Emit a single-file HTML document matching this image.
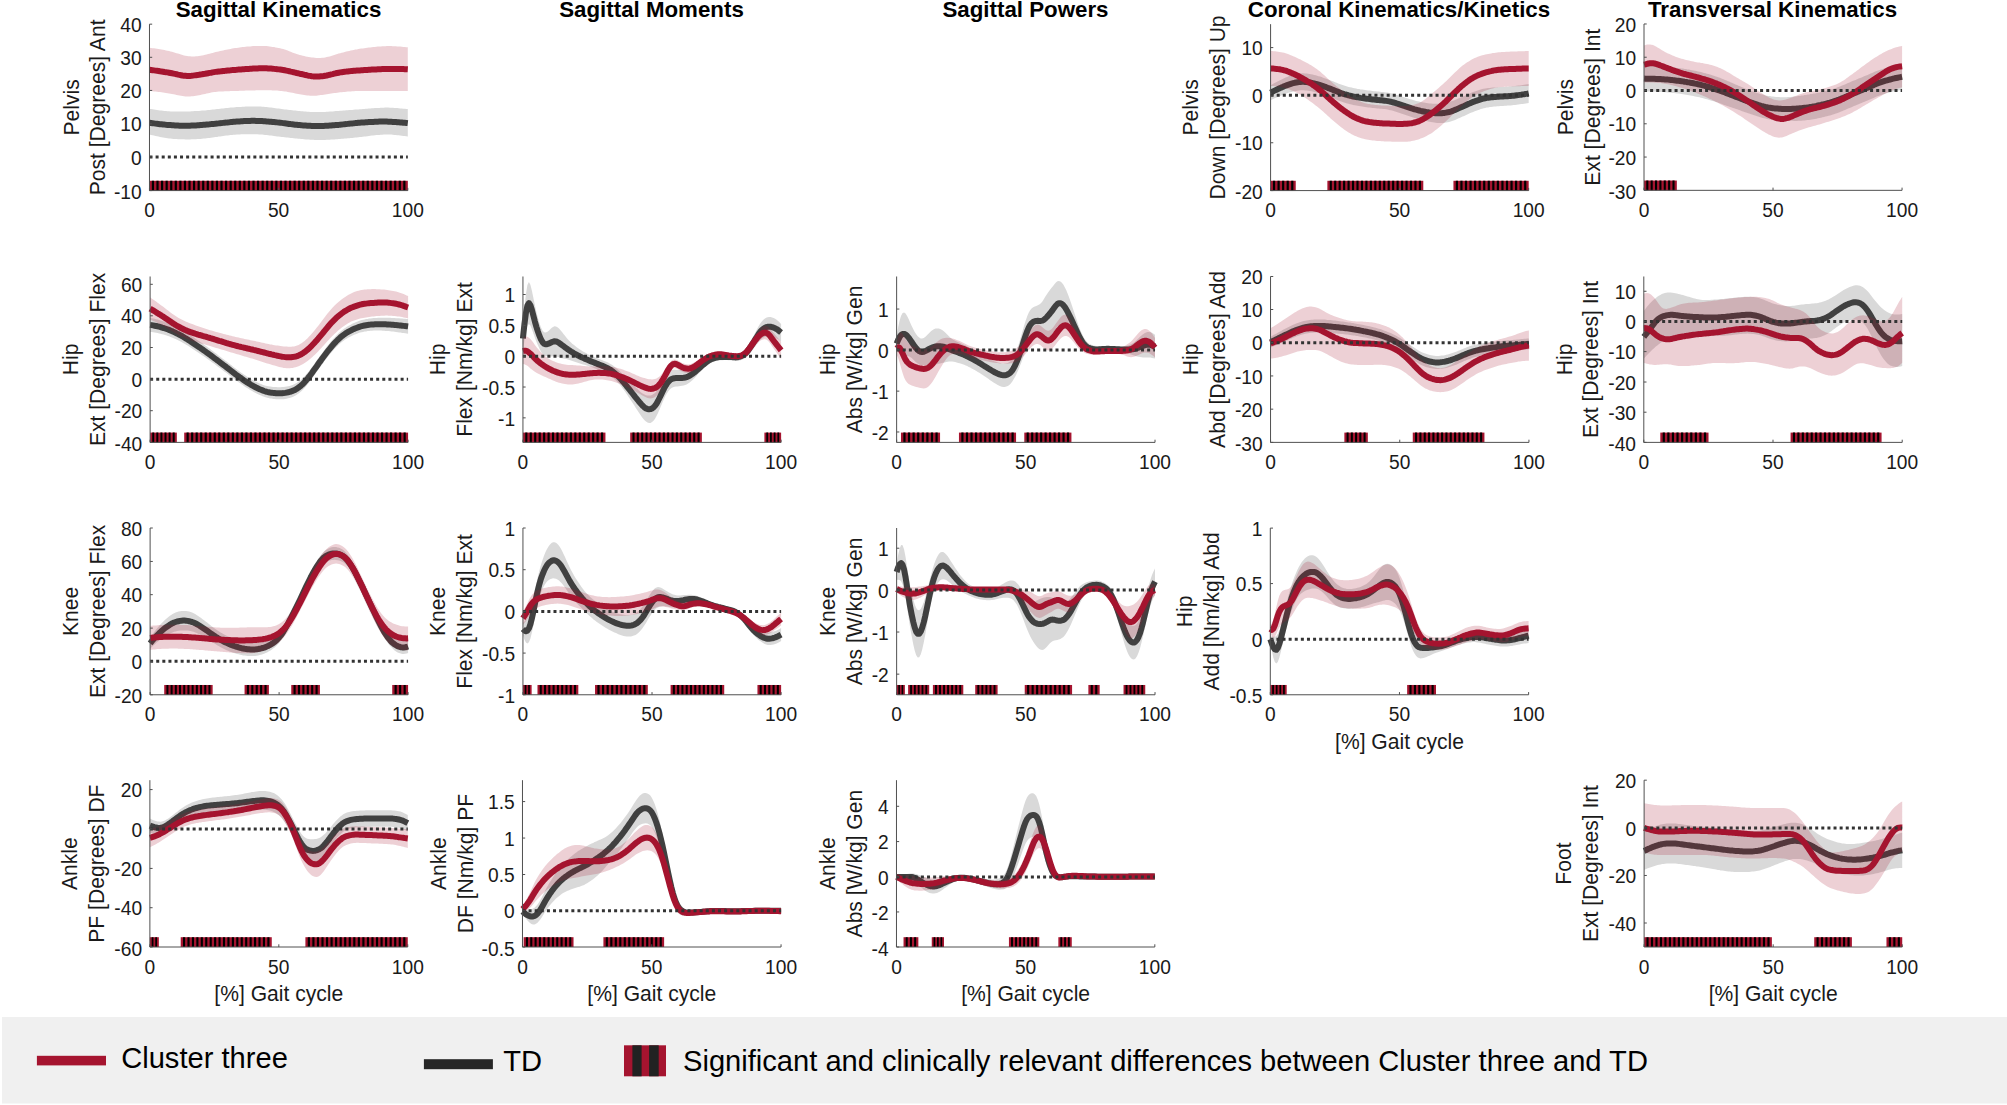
<!DOCTYPE html>
<html><head><meta charset="utf-8"><title>Gait figure</title>
<style>
html,body{margin:0;padding:0;background:#fff}
svg{display:block}
text{font-family:"Liberation Sans",Arial,Helvetica,sans-serif;fill:#1a1a1a}
.t{font-size:19.2px}
.l{font-size:21.1px}
.h{font-size:22.3px;font-weight:bold;fill:#000}
.g{font-size:29.12px;fill:#000}
</style></head><body>
<svg width="2007" height="1105" viewBox="0 0 2007 1105">
<rect width="2007" height="1105" fill="#fff"/>
<g id="pelvis_sag">
<path d="M149.5 108.9 L151.0 109.1 L152.5 109.3 L154.0 109.5 L155.5 109.8 L157.0 110.0 L158.5 110.2 L160.0 110.4 L161.5 110.6 L163.0 110.8 L164.5 110.9 L166.0 111.1 L167.5 111.2 L169.0 111.3 L170.5 111.4 L172.0 111.5 L173.5 111.6 L175.0 111.6 L176.5 111.6 L178.0 111.6 L179.5 111.6 L181.0 111.6 L182.5 111.6 L184.0 111.5 L185.5 111.5 L187.0 111.5 L188.5 111.4 L190.0 111.4 L191.5 111.3 L193.0 111.2 L194.5 111.1 L196.0 111.1 L197.5 111.0 L199.0 110.9 L200.5 110.8 L202.0 110.6 L203.5 110.5 L205.1 110.4 L206.6 110.2 L208.1 110.1 L209.6 109.9 L211.1 109.8 L212.6 109.6 L214.1 109.4 L215.6 109.3 L217.1 109.1 L218.6 108.9 L220.1 108.7 L221.6 108.6 L223.1 108.4 L224.6 108.2 L226.1 108.1 L227.6 107.9 L229.1 107.8 L230.6 107.6 L232.1 107.5 L233.6 107.4 L235.1 107.3 L236.6 107.1 L238.1 107.0 L239.6 107.0 L241.1 106.9 L242.6 106.8 L244.1 106.7 L245.6 106.6 L247.1 106.6 L248.6 106.5 L250.1 106.5 L251.6 106.5 L253.1 106.5 L254.6 106.5 L256.1 106.5 L257.6 106.5 L259.1 106.6 L260.6 106.6 L262.1 106.7 L263.6 106.8 L265.1 106.9 L266.6 107.1 L268.1 107.2 L269.6 107.4 L271.1 107.6 L272.6 107.8 L274.1 108.0 L275.6 108.2 L277.1 108.4 L278.6 108.6 L280.2 108.8 L281.7 109.0 L283.2 109.2 L284.7 109.4 L286.2 109.6 L287.7 109.7 L289.2 109.9 L290.7 110.0 L292.2 110.2 L293.7 110.4 L295.2 110.5 L296.7 110.7 L298.2 110.9 L299.7 111.0 L301.2 111.2 L302.7 111.3 L304.2 111.4 L305.7 111.6 L307.2 111.7 L308.7 111.8 L310.2 111.9 L311.7 112.0 L313.2 112.0 L314.7 112.1 L316.2 112.1 L317.7 112.1 L319.2 112.1 L320.7 112.0 L322.2 112.0 L323.7 111.9 L325.2 111.9 L326.7 111.8 L328.2 111.7 L329.7 111.6 L331.2 111.5 L332.7 111.4 L334.2 111.3 L335.7 111.1 L337.2 111.0 L338.7 110.9 L340.2 110.8 L341.7 110.7 L343.2 110.5 L344.7 110.4 L346.2 110.3 L347.7 110.2 L349.2 110.1 L350.7 110.0 L352.2 109.9 L353.8 109.7 L355.3 109.6 L356.8 109.5 L358.3 109.4 L359.8 109.3 L361.3 109.2 L362.8 109.0 L364.3 108.9 L365.8 108.8 L367.3 108.7 L368.8 108.6 L370.3 108.4 L371.8 108.3 L373.3 108.2 L374.8 108.1 L376.3 108.0 L377.8 107.9 L379.3 107.9 L380.8 107.8 L382.3 107.7 L383.8 107.7 L385.3 107.6 L386.8 107.6 L388.3 107.6 L389.8 107.7 L391.3 107.7 L392.8 107.8 L394.3 107.9 L395.8 108.0 L397.3 108.1 L398.8 108.2 L400.3 108.4 L401.8 108.5 L403.3 108.7 L404.8 108.8 L406.3 109.0 L407.8 109.1 L407.8 136.5 L406.3 136.3 L404.8 136.1 L403.3 135.9 L401.8 135.7 L400.3 135.5 L398.8 135.3 L397.3 135.2 L395.8 135.0 L394.3 134.9 L392.8 134.7 L391.3 134.6 L389.8 134.6 L388.3 134.5 L386.8 134.5 L385.3 134.5 L383.8 134.6 L382.3 134.7 L380.8 134.8 L379.3 134.9 L377.8 135.0 L376.3 135.1 L374.8 135.3 L373.3 135.5 L371.8 135.6 L370.3 135.8 L368.8 136.0 L367.3 136.2 L365.8 136.4 L364.3 136.6 L362.8 136.7 L361.3 136.9 L359.8 137.1 L358.3 137.3 L356.8 137.5 L355.3 137.6 L353.8 137.8 L352.2 137.9 L350.7 138.1 L349.2 138.2 L347.7 138.3 L346.2 138.5 L344.7 138.6 L343.2 138.7 L341.7 138.8 L340.2 139.0 L338.7 139.1 L337.2 139.2 L335.7 139.3 L334.2 139.4 L332.7 139.5 L331.2 139.6 L329.7 139.7 L328.2 139.8 L326.7 139.8 L325.2 139.9 L323.7 139.9 L322.2 140.0 L320.7 140.0 L319.2 140.0 L317.7 140.0 L316.2 139.9 L314.7 139.9 L313.2 139.8 L311.7 139.8 L310.2 139.7 L308.7 139.6 L307.2 139.5 L305.7 139.4 L304.2 139.2 L302.7 139.1 L301.2 139.0 L299.7 138.8 L298.2 138.7 L296.7 138.5 L295.2 138.4 L293.7 138.2 L292.2 138.1 L290.7 137.9 L289.2 137.8 L287.7 137.6 L286.2 137.5 L284.7 137.3 L283.2 137.1 L281.7 137.0 L280.2 136.8 L278.6 136.6 L277.1 136.4 L275.6 136.2 L274.1 136.0 L272.6 135.8 L271.1 135.6 L269.6 135.4 L268.1 135.2 L266.6 135.0 L265.1 134.9 L263.6 134.7 L262.1 134.6 L260.6 134.5 L259.1 134.4 L257.6 134.3 L256.1 134.3 L254.6 134.2 L253.1 134.2 L251.6 134.2 L250.1 134.2 L248.6 134.2 L247.1 134.2 L245.6 134.2 L244.1 134.2 L242.6 134.3 L241.1 134.3 L239.6 134.4 L238.1 134.5 L236.6 134.6 L235.1 134.7 L233.6 134.8 L232.1 134.9 L230.6 135.1 L229.1 135.2 L227.6 135.4 L226.1 135.6 L224.6 135.8 L223.1 136.0 L221.6 136.2 L220.1 136.4 L218.6 136.6 L217.1 136.9 L215.6 137.1 L214.1 137.3 L212.6 137.5 L211.1 137.7 L209.6 137.9 L208.1 138.1 L206.6 138.3 L205.1 138.5 L203.5 138.6 L202.0 138.8 L200.5 138.9 L199.0 139.0 L197.5 139.1 L196.0 139.2 L194.5 139.2 L193.0 139.3 L191.5 139.3 L190.0 139.4 L188.5 139.4 L187.0 139.4 L185.5 139.4 L184.0 139.3 L182.5 139.3 L181.0 139.3 L179.5 139.2 L178.0 139.2 L176.5 139.1 L175.0 139.0 L173.5 138.9 L172.0 138.8 L170.5 138.6 L169.0 138.5 L167.5 138.3 L166.0 138.0 L164.5 137.8 L163.0 137.5 L161.5 137.2 L160.0 136.9 L158.5 136.6 L157.0 136.3 L155.5 135.9 L154.0 135.6 L152.5 135.2 L151.0 134.9 L149.5 134.5Z" fill="#404040" fill-opacity="0.2"/>
<path d="M149.5 122.8 L151.0 123.0 L152.5 123.2 L154.0 123.4 L155.5 123.6 L157.0 123.8 L158.5 124.0 L160.0 124.2 L161.5 124.3 L163.0 124.5 L164.5 124.6 L166.0 124.8 L167.5 124.9 L169.0 125.0 L170.5 125.1 L172.0 125.2 L173.5 125.3 L175.0 125.4 L176.5 125.5 L178.0 125.6 L179.5 125.7 L181.0 125.7 L182.5 125.8 L184.0 125.8 L185.5 125.8 L187.0 125.8 L188.5 125.8 L190.0 125.7 L191.5 125.6 L193.0 125.6 L194.5 125.5 L196.0 125.4 L197.5 125.3 L199.0 125.2 L200.5 125.0 L202.0 124.9 L203.5 124.8 L205.1 124.7 L206.6 124.5 L208.1 124.4 L209.6 124.3 L211.1 124.1 L212.6 124.0 L214.1 123.9 L215.6 123.7 L217.1 123.6 L218.6 123.4 L220.1 123.2 L221.6 123.1 L223.1 122.9 L224.6 122.7 L226.1 122.6 L227.6 122.4 L229.1 122.3 L230.6 122.1 L232.1 122.0 L233.6 121.8 L235.1 121.7 L236.6 121.6 L238.1 121.5 L239.6 121.4 L241.1 121.3 L242.6 121.2 L244.1 121.1 L245.6 121.0 L247.1 121.0 L248.6 120.9 L250.1 120.9 L251.6 120.8 L253.1 120.8 L254.6 120.8 L256.1 120.9 L257.6 120.9 L259.1 121.0 L260.6 121.0 L262.1 121.1 L263.6 121.2 L265.1 121.3 L266.6 121.4 L268.1 121.6 L269.6 121.7 L271.1 121.8 L272.6 122.0 L274.1 122.1 L275.6 122.2 L277.1 122.4 L278.6 122.6 L280.2 122.7 L281.7 122.9 L283.2 123.1 L284.7 123.3 L286.2 123.5 L287.7 123.7 L289.2 124.0 L290.7 124.1 L292.2 124.3 L293.7 124.5 L295.2 124.7 L296.7 124.8 L298.2 125.0 L299.7 125.1 L301.2 125.2 L302.7 125.4 L304.2 125.5 L305.7 125.6 L307.2 125.7 L308.7 125.8 L310.2 125.8 L311.7 125.9 L313.2 126.0 L314.7 126.0 L316.2 126.0 L317.7 126.0 L319.2 126.0 L320.7 126.0 L322.2 126.0 L323.7 125.9 L325.2 125.8 L326.7 125.8 L328.2 125.7 L329.7 125.6 L331.2 125.5 L332.7 125.3 L334.2 125.2 L335.7 125.1 L337.2 125.0 L338.7 124.9 L340.2 124.7 L341.7 124.6 L343.2 124.4 L344.7 124.2 L346.2 124.1 L347.7 123.9 L349.2 123.7 L350.7 123.6 L352.2 123.4 L353.8 123.3 L355.3 123.1 L356.8 123.0 L358.3 122.8 L359.8 122.7 L361.3 122.6 L362.8 122.5 L364.3 122.4 L365.8 122.3 L367.3 122.2 L368.8 122.1 L370.3 122.0 L371.8 121.9 L373.3 121.9 L374.8 121.8 L376.3 121.7 L377.8 121.7 L379.3 121.6 L380.8 121.6 L382.3 121.6 L383.8 121.6 L385.3 121.6 L386.8 121.6 L388.3 121.7 L389.8 121.7 L391.3 121.8 L392.8 121.9 L394.3 121.9 L395.8 122.0 L397.3 122.2 L398.8 122.3 L400.3 122.4 L401.8 122.5 L403.3 122.7 L404.8 122.8 L406.3 122.9 L407.8 123.1" fill="none" stroke="#404040" stroke-width="6" stroke-linejoin="round"/>
<path d="M149.5 47.8 L151.0 48.0 L152.5 48.2 L154.0 48.3 L155.5 48.5 L157.0 48.8 L158.5 49.0 L160.0 49.3 L161.5 49.5 L163.0 49.8 L164.5 50.1 L166.0 50.4 L167.5 50.7 L169.0 51.0 L170.5 51.4 L172.0 51.8 L173.5 52.2 L175.0 52.7 L176.5 53.2 L178.0 53.6 L179.5 54.1 L181.0 54.6 L182.5 55.0 L184.0 55.4 L185.5 55.7 L187.0 56.0 L188.5 56.2 L190.0 56.3 L191.5 56.4 L193.0 56.4 L194.5 56.4 L196.0 56.3 L197.5 56.2 L199.0 56.0 L200.5 55.8 L202.0 55.5 L203.5 55.2 L205.1 54.8 L206.6 54.4 L208.1 54.1 L209.6 53.7 L211.1 53.3 L212.6 52.9 L214.1 52.5 L215.6 52.1 L217.1 51.8 L218.6 51.4 L220.1 51.1 L221.6 50.8 L223.1 50.4 L224.6 50.1 L226.1 49.8 L227.6 49.5 L229.1 49.2 L230.6 48.9 L232.1 48.6 L233.6 48.3 L235.1 48.1 L236.6 47.9 L238.1 47.7 L239.6 47.5 L241.1 47.3 L242.6 47.1 L244.1 46.9 L245.6 46.8 L247.1 46.6 L248.6 46.5 L250.1 46.4 L251.6 46.2 L253.1 46.1 L254.6 46.1 L256.1 46.0 L257.6 45.9 L259.1 45.9 L260.6 45.9 L262.1 45.9 L263.6 45.9 L265.1 46.0 L266.6 46.1 L268.1 46.3 L269.6 46.5 L271.1 46.7 L272.6 46.9 L274.1 47.1 L275.6 47.4 L277.1 47.7 L278.6 48.0 L280.2 48.3 L281.7 48.7 L283.2 49.1 L284.7 49.6 L286.2 50.1 L287.7 50.6 L289.2 51.2 L290.7 51.8 L292.2 52.4 L293.7 53.0 L295.2 53.5 L296.7 54.0 L298.2 54.5 L299.7 54.9 L301.2 55.3 L302.7 55.7 L304.2 56.1 L305.7 56.4 L307.2 56.7 L308.7 57.0 L310.2 57.2 L311.7 57.5 L313.2 57.6 L314.7 57.8 L316.2 57.9 L317.7 58.0 L319.2 58.0 L320.7 57.9 L322.2 57.8 L323.7 57.7 L325.2 57.4 L326.7 57.1 L328.2 56.8 L329.7 56.4 L331.2 55.9 L332.7 55.5 L334.2 55.0 L335.7 54.5 L337.2 54.0 L338.7 53.6 L340.2 53.2 L341.7 52.7 L343.2 52.4 L344.7 52.0 L346.2 51.6 L347.7 51.3 L349.2 50.9 L350.7 50.6 L352.2 50.3 L353.8 49.9 L355.3 49.6 L356.8 49.4 L358.3 49.1 L359.8 48.8 L361.3 48.6 L362.8 48.4 L364.3 48.2 L365.8 48.0 L367.3 47.8 L368.8 47.6 L370.3 47.4 L371.8 47.2 L373.3 47.0 L374.8 46.9 L376.3 46.7 L377.8 46.6 L379.3 46.5 L380.8 46.4 L382.3 46.3 L383.8 46.2 L385.3 46.2 L386.8 46.1 L388.3 46.1 L389.8 46.1 L391.3 46.1 L392.8 46.2 L394.3 46.2 L395.8 46.3 L397.3 46.4 L398.8 46.5 L400.3 46.6 L401.8 46.8 L403.3 46.9 L404.8 47.0 L406.3 47.2 L407.8 47.3 L407.8 90.9 L406.3 90.9 L404.8 90.9 L403.3 90.9 L401.8 90.9 L400.3 90.9 L398.8 90.9 L397.3 90.9 L395.8 90.9 L394.3 90.9 L392.8 90.9 L391.3 90.9 L389.8 90.9 L388.3 90.9 L386.8 90.9 L385.3 90.9 L383.8 90.9 L382.3 90.9 L380.8 90.9 L379.3 90.9 L377.8 90.9 L376.3 90.9 L374.8 90.9 L373.3 90.9 L371.8 90.9 L370.3 90.9 L368.8 90.9 L367.3 90.9 L365.8 90.9 L364.3 90.9 L362.8 90.9 L361.3 91.0 L359.8 91.0 L358.3 91.0 L356.8 91.1 L355.3 91.1 L353.8 91.2 L352.2 91.3 L350.7 91.4 L349.2 91.5 L347.7 91.6 L346.2 91.7 L344.7 91.9 L343.2 92.0 L341.7 92.2 L340.2 92.3 L338.7 92.5 L337.2 92.7 L335.7 92.9 L334.2 93.1 L332.7 93.3 L331.2 93.6 L329.7 93.8 L328.2 94.0 L326.7 94.2 L325.2 94.5 L323.7 94.7 L322.2 94.9 L320.7 95.1 L319.2 95.3 L317.7 95.5 L316.2 95.7 L314.7 95.8 L313.2 95.8 L311.7 95.8 L310.2 95.7 L308.7 95.6 L307.2 95.4 L305.7 95.2 L304.2 95.0 L302.7 94.8 L301.2 94.5 L299.7 94.3 L298.2 94.0 L296.7 93.7 L295.2 93.4 L293.7 93.1 L292.2 92.8 L290.7 92.5 L289.2 92.2 L287.7 91.9 L286.2 91.6 L284.7 91.4 L283.2 91.2 L281.7 91.0 L280.2 90.9 L278.6 90.7 L277.1 90.6 L275.6 90.6 L274.1 90.5 L272.6 90.4 L271.1 90.3 L269.6 90.3 L268.1 90.2 L266.6 90.2 L265.1 90.2 L263.6 90.2 L262.1 90.2 L260.6 90.2 L259.1 90.2 L257.6 90.3 L256.1 90.3 L254.6 90.4 L253.1 90.4 L251.6 90.4 L250.1 90.5 L248.6 90.5 L247.1 90.6 L245.6 90.6 L244.1 90.7 L242.6 90.7 L241.1 90.8 L239.6 90.8 L238.1 90.9 L236.6 90.9 L235.1 91.0 L233.6 91.0 L232.1 91.1 L230.6 91.1 L229.1 91.2 L227.6 91.2 L226.1 91.3 L224.6 91.3 L223.1 91.4 L221.6 91.4 L220.1 91.5 L218.6 91.6 L217.1 91.7 L215.6 91.9 L214.1 92.1 L212.6 92.3 L211.1 92.6 L209.6 92.9 L208.1 93.2 L206.6 93.6 L205.1 93.9 L203.5 94.3 L202.0 94.6 L200.5 94.9 L199.0 95.2 L197.5 95.5 L196.0 95.7 L194.5 96.0 L193.0 96.2 L191.5 96.3 L190.0 96.5 L188.5 96.5 L187.0 96.5 L185.5 96.4 L184.0 96.3 L182.5 96.1 L181.0 95.8 L179.5 95.5 L178.0 95.2 L176.5 94.9 L175.0 94.6 L173.5 94.2 L172.0 93.9 L170.5 93.7 L169.0 93.4 L167.5 93.2 L166.0 92.9 L164.5 92.7 L163.0 92.5 L161.5 92.3 L160.0 92.1 L158.5 91.9 L157.0 91.7 L155.5 91.6 L154.0 91.4 L152.5 91.2 L151.0 91.1 L149.5 90.9Z" fill="#A5142F" fill-opacity="0.2"/>
<path d="M149.5 69.8 L151.0 70.0 L152.5 70.2 L154.0 70.4 L155.5 70.6 L157.0 70.8 L158.5 71.0 L160.0 71.3 L161.5 71.5 L163.0 71.7 L164.5 72.0 L166.0 72.2 L167.5 72.4 L169.0 72.7 L170.5 73.0 L172.0 73.3 L173.5 73.6 L175.0 73.9 L176.5 74.2 L178.0 74.6 L179.5 74.9 L181.0 75.2 L182.5 75.5 L184.0 75.7 L185.5 75.8 L187.0 75.9 L188.5 75.9 L190.0 75.9 L191.5 75.8 L193.0 75.6 L194.5 75.4 L196.0 75.2 L197.5 75.0 L199.0 74.8 L200.5 74.5 L202.0 74.3 L203.5 74.0 L205.1 73.8 L206.6 73.5 L208.1 73.2 L209.6 72.9 L211.1 72.7 L212.6 72.4 L214.1 72.1 L215.6 71.9 L217.1 71.7 L218.6 71.5 L220.1 71.4 L221.6 71.2 L223.1 71.0 L224.6 70.9 L226.1 70.7 L227.6 70.5 L229.1 70.4 L230.6 70.3 L232.1 70.1 L233.6 70.0 L235.1 69.9 L236.6 69.8 L238.1 69.6 L239.6 69.5 L241.1 69.4 L242.6 69.3 L244.1 69.2 L245.6 69.1 L247.1 69.0 L248.6 68.9 L250.1 68.8 L251.6 68.7 L253.1 68.6 L254.6 68.5 L256.1 68.4 L257.6 68.4 L259.1 68.3 L260.6 68.3 L262.1 68.3 L263.6 68.3 L265.1 68.3 L266.6 68.3 L268.1 68.4 L269.6 68.5 L271.1 68.6 L272.6 68.7 L274.1 68.9 L275.6 69.1 L277.1 69.2 L278.6 69.4 L280.2 69.6 L281.7 69.8 L283.2 70.0 L284.7 70.3 L286.2 70.6 L287.7 70.9 L289.2 71.2 L290.7 71.6 L292.2 71.9 L293.7 72.3 L295.2 72.6 L296.7 73.0 L298.2 73.3 L299.7 73.7 L301.2 74.0 L302.7 74.3 L304.2 74.7 L305.7 75.0 L307.2 75.4 L308.7 75.7 L310.2 75.9 L311.7 76.2 L313.2 76.4 L314.7 76.5 L316.2 76.5 L317.7 76.5 L319.2 76.5 L320.7 76.3 L322.2 76.2 L323.7 76.0 L325.2 75.7 L326.7 75.5 L328.2 75.1 L329.7 74.8 L331.2 74.4 L332.7 74.1 L334.2 73.7 L335.7 73.3 L337.2 73.0 L338.7 72.7 L340.2 72.4 L341.7 72.2 L343.2 72.0 L344.7 71.8 L346.2 71.6 L347.7 71.5 L349.2 71.3 L350.7 71.1 L352.2 71.0 L353.8 70.8 L355.3 70.7 L356.8 70.6 L358.3 70.5 L359.8 70.4 L361.3 70.3 L362.8 70.2 L364.3 70.1 L365.8 70.0 L367.3 69.9 L368.8 69.8 L370.3 69.7 L371.8 69.6 L373.3 69.5 L374.8 69.4 L376.3 69.4 L377.8 69.3 L379.3 69.2 L380.8 69.2 L382.3 69.1 L383.8 69.1 L385.3 69.0 L386.8 69.0 L388.3 69.0 L389.8 69.0 L391.3 69.0 L392.8 69.0 L394.3 69.0 L395.8 69.0 L397.3 69.0 L398.8 69.0 L400.3 69.1 L401.8 69.1 L403.3 69.1 L404.8 69.2 L406.3 69.2 L407.8 69.3" fill="none" stroke="#A5142F" stroke-width="6" stroke-linejoin="round"/>
<path d="M149.48 156.95H407.82" stroke="#333" stroke-width="3" stroke-dasharray="3 3.11" fill="none"/>
<rect x="149.48" y="180.78" width="258.35" height="9.80" fill="#A5142F"/><path d="M151.85 180.78h2.19V190.58h-2.19zM156.42 180.78h2.19V190.58h-2.19zM161.00 180.78h2.19V190.58h-2.19zM165.57 180.78h2.19V190.58h-2.19zM170.14 180.78h2.19V190.58h-2.19zM174.71 180.78h2.19V190.58h-2.19zM179.28 180.78h2.19V190.58h-2.19zM183.85 180.78h2.19V190.58h-2.19zM188.42 180.78h2.19V190.58h-2.19zM192.99 180.78h2.19V190.58h-2.19zM197.56 180.78h2.19V190.58h-2.19zM202.13 180.78h2.19V190.58h-2.19zM206.70 180.78h2.19V190.58h-2.19zM211.28 180.78h2.19V190.58h-2.19zM215.85 180.78h2.19V190.58h-2.19zM220.42 180.78h2.19V190.58h-2.19zM224.99 180.78h2.19V190.58h-2.19zM229.56 180.78h2.19V190.58h-2.19zM234.13 180.78h2.19V190.58h-2.19zM238.70 180.78h2.19V190.58h-2.19zM243.27 180.78h2.19V190.58h-2.19zM247.84 180.78h2.19V190.58h-2.19zM252.41 180.78h2.19V190.58h-2.19zM256.98 180.78h2.19V190.58h-2.19zM261.55 180.78h2.19V190.58h-2.19zM266.13 180.78h2.19V190.58h-2.19zM270.70 180.78h2.19V190.58h-2.19zM275.27 180.78h2.19V190.58h-2.19zM279.84 180.78h2.19V190.58h-2.19zM284.41 180.78h2.19V190.58h-2.19zM288.98 180.78h2.19V190.58h-2.19zM293.55 180.78h2.19V190.58h-2.19zM298.12 180.78h2.19V190.58h-2.19zM302.69 180.78h2.19V190.58h-2.19zM307.26 180.78h2.19V190.58h-2.19zM311.83 180.78h2.19V190.58h-2.19zM316.41 180.78h2.19V190.58h-2.19zM320.98 180.78h2.19V190.58h-2.19zM325.55 180.78h2.19V190.58h-2.19zM330.12 180.78h2.19V190.58h-2.19zM334.69 180.78h2.19V190.58h-2.19zM339.26 180.78h2.19V190.58h-2.19zM343.83 180.78h2.19V190.58h-2.19zM348.40 180.78h2.19V190.58h-2.19zM352.97 180.78h2.19V190.58h-2.19zM357.54 180.78h2.19V190.58h-2.19zM362.11 180.78h2.19V190.58h-2.19zM366.68 180.78h2.19V190.58h-2.19zM371.26 180.78h2.19V190.58h-2.19zM375.83 180.78h2.19V190.58h-2.19zM380.40 180.78h2.19V190.58h-2.19zM384.97 180.78h2.19V190.58h-2.19zM389.54 180.78h2.19V190.58h-2.19zM394.11 180.78h2.19V190.58h-2.19zM398.68 180.78h2.19V190.58h-2.19zM403.25 180.78h2.19V190.58h-2.19z" fill="#000"/>
<path d="M149.48 24.17V190.58H407.82" stroke="#505050" stroke-width="1" fill="none"/>
<path d="M149.48 24.17h2.7M149.48 57.30h2.7M149.48 90.43h2.7M149.48 123.82h2.7M149.48 156.95h2.7M149.48 190.58h2.7M149.48 190.58v-2.7M278.65 190.58v-2.7M407.82 190.58v-2.7" stroke="#505050" stroke-width="1" fill="none"/>
<text transform="translate(141.7 31.8) scale(1 1.065)" text-anchor="end" class="t">40</text>
<text transform="translate(141.7 64.9) scale(1 1.065)" text-anchor="end" class="t">30</text>
<text transform="translate(141.7 98.0) scale(1 1.065)" text-anchor="end" class="t">20</text>
<text transform="translate(141.7 131.4) scale(1 1.065)" text-anchor="end" class="t">10</text>
<text transform="translate(141.7 164.6) scale(1 1.065)" text-anchor="end" class="t">0</text>
<text transform="translate(141.7 199.1) scale(1 1.065)" text-anchor="end" class="t">-10</text>
<text transform="translate(149.5 217.1) scale(1 1.065)" text-anchor="middle" class="t">0</text>
<text transform="translate(278.6 217.1) scale(1 1.065)" text-anchor="middle" class="t">50</text>
<text transform="translate(407.8 217.1) scale(1 1.065)" text-anchor="middle" class="t">100</text>
<text transform="translate(78.5 107.4) rotate(-90) scale(1 1.065)" text-anchor="middle" class="l">Pelvis</text>
<text transform="translate(105.4 107.4) rotate(-90) scale(1 1.065)" text-anchor="middle" class="l">Post [Degrees] Ant</text>
</g>
<g id="pelvis_cor">
<path d="M1270.6 85.2 L1272.1 84.4 L1273.6 83.5 L1275.1 82.7 L1276.6 81.9 L1278.1 81.2 L1279.6 80.4 L1281.1 79.7 L1282.6 79.0 L1284.1 78.3 L1285.6 77.6 L1287.1 77.0 L1288.6 76.3 L1290.1 75.8 L1291.6 75.3 L1293.1 74.9 L1294.6 74.5 L1296.1 74.1 L1297.6 73.8 L1299.1 73.6 L1300.6 73.4 L1302.1 73.3 L1303.6 73.3 L1305.1 73.4 L1306.6 73.6 L1308.1 73.8 L1309.6 74.0 L1311.1 74.3 L1312.6 74.6 L1314.1 74.9 L1315.6 75.3 L1317.1 75.7 L1318.6 76.2 L1320.1 76.6 L1321.6 77.1 L1323.1 77.7 L1324.6 78.2 L1326.1 78.8 L1327.6 79.3 L1329.1 79.9 L1330.6 80.4 L1332.1 81.0 L1333.6 81.6 L1335.1 82.2 L1336.6 82.8 L1338.1 83.4 L1339.6 84.0 L1341.1 84.6 L1342.6 85.1 L1344.1 85.6 L1345.6 86.1 L1347.1 86.5 L1348.6 86.9 L1350.1 87.3 L1351.6 87.6 L1353.1 88.0 L1354.6 88.3 L1356.1 88.6 L1357.6 88.9 L1359.1 89.1 L1360.6 89.4 L1362.1 89.6 L1363.6 89.8 L1365.1 90.0 L1366.6 90.2 L1368.1 90.4 L1369.6 90.6 L1371.1 90.8 L1372.6 91.0 L1374.1 91.2 L1375.6 91.3 L1377.1 91.5 L1378.6 91.6 L1380.1 91.7 L1381.6 91.9 L1383.1 92.0 L1384.6 92.2 L1386.1 92.4 L1387.6 92.6 L1389.1 92.9 L1390.6 93.2 L1392.1 93.6 L1393.6 94.0 L1395.1 94.4 L1396.6 94.9 L1398.1 95.3 L1399.6 95.8 L1401.1 96.2 L1402.6 96.7 L1404.1 97.2 L1405.6 97.7 L1407.1 98.2 L1408.6 98.7 L1410.1 99.2 L1411.6 99.6 L1413.1 100.1 L1414.6 100.5 L1416.1 100.9 L1417.6 101.3 L1419.1 101.6 L1420.6 102.0 L1422.1 102.3 L1423.6 102.5 L1425.1 102.8 L1426.6 103.0 L1428.1 103.2 L1429.6 103.4 L1431.1 103.5 L1432.6 103.7 L1434.1 103.7 L1435.6 103.8 L1437.1 103.8 L1438.6 103.7 L1440.1 103.6 L1441.6 103.4 L1443.1 103.2 L1444.6 103.0 L1446.1 102.7 L1447.6 102.4 L1449.1 102.0 L1450.6 101.6 L1452.1 101.1 L1453.6 100.6 L1455.1 100.0 L1456.6 99.3 L1458.1 98.6 L1459.6 97.9 L1461.1 97.3 L1462.6 96.6 L1464.2 95.9 L1465.7 95.3 L1467.2 94.6 L1468.7 93.9 L1470.2 93.2 L1471.7 92.6 L1473.2 92.0 L1474.7 91.4 L1476.2 90.9 L1477.7 90.4 L1479.2 89.9 L1480.7 89.4 L1482.2 89.0 L1483.7 88.7 L1485.2 88.4 L1486.7 88.2 L1488.2 88.0 L1489.7 87.9 L1491.2 87.7 L1492.7 87.6 L1494.2 87.5 L1495.7 87.4 L1497.2 87.3 L1498.7 87.2 L1500.2 87.1 L1501.7 87.0 L1503.2 86.9 L1504.7 86.9 L1506.2 86.8 L1507.7 86.7 L1509.2 86.6 L1510.7 86.5 L1512.2 86.3 L1513.7 86.2 L1515.2 86.0 L1516.7 85.8 L1518.2 85.6 L1519.7 85.4 L1521.2 85.2 L1522.7 85.0 L1524.2 84.7 L1525.7 84.5 L1527.2 84.2 L1528.7 84.0 L1528.7 102.9 L1527.2 103.2 L1525.7 103.4 L1524.2 103.7 L1522.7 103.9 L1521.2 104.1 L1519.7 104.3 L1518.2 104.6 L1516.7 104.8 L1515.2 104.9 L1513.7 105.1 L1512.2 105.3 L1510.7 105.4 L1509.2 105.5 L1507.7 105.6 L1506.2 105.7 L1504.7 105.8 L1503.2 105.9 L1501.7 106.0 L1500.2 106.1 L1498.7 106.2 L1497.2 106.3 L1495.7 106.4 L1494.2 106.6 L1492.7 106.7 L1491.2 106.9 L1489.7 107.1 L1488.2 107.4 L1486.7 107.6 L1485.2 107.9 L1483.7 108.3 L1482.2 108.7 L1480.7 109.1 L1479.2 109.7 L1477.7 110.2 L1476.2 110.8 L1474.7 111.3 L1473.2 111.9 L1471.7 112.5 L1470.2 113.1 L1468.7 113.8 L1467.2 114.5 L1465.7 115.2 L1464.2 115.9 L1462.6 116.5 L1461.1 117.2 L1459.6 117.9 L1458.1 118.6 L1456.6 119.2 L1455.1 119.9 L1453.6 120.5 L1452.1 121.1 L1450.6 121.6 L1449.1 121.9 L1447.6 122.3 L1446.1 122.5 L1444.6 122.7 L1443.1 122.9 L1441.6 123.0 L1440.1 123.0 L1438.6 123.0 L1437.1 122.9 L1435.6 122.7 L1434.1 122.5 L1432.6 122.3 L1431.1 122.0 L1429.6 121.8 L1428.1 121.5 L1426.6 121.1 L1425.1 120.8 L1423.6 120.5 L1422.1 120.1 L1420.6 119.8 L1419.1 119.4 L1417.6 118.9 L1416.1 118.5 L1414.6 118.0 L1413.1 117.6 L1411.6 117.1 L1410.1 116.6 L1408.6 116.1 L1407.1 115.5 L1405.6 115.0 L1404.1 114.4 L1402.6 113.9 L1401.1 113.4 L1399.6 112.9 L1398.1 112.4 L1396.6 111.9 L1395.1 111.4 L1393.6 111.0 L1392.1 110.6 L1390.6 110.2 L1389.1 109.9 L1387.6 109.6 L1386.1 109.3 L1384.6 109.1 L1383.1 109.0 L1381.6 108.8 L1380.1 108.7 L1378.6 108.5 L1377.1 108.4 L1375.6 108.3 L1374.1 108.1 L1372.6 107.9 L1371.1 107.7 L1369.6 107.6 L1368.1 107.4 L1366.6 107.2 L1365.1 107.0 L1363.6 106.8 L1362.1 106.6 L1360.6 106.3 L1359.1 106.1 L1357.6 105.8 L1356.1 105.6 L1354.6 105.2 L1353.1 104.9 L1351.6 104.6 L1350.1 104.2 L1348.6 103.8 L1347.1 103.4 L1345.6 103.0 L1344.1 102.5 L1342.6 102.1 L1341.1 101.5 L1339.6 101.0 L1338.1 100.4 L1336.6 99.8 L1335.1 99.2 L1333.6 98.6 L1332.1 98.0 L1330.6 97.4 L1329.1 96.8 L1327.6 96.3 L1326.1 95.7 L1324.6 95.2 L1323.1 94.6 L1321.6 94.1 L1320.1 93.6 L1318.6 93.1 L1317.1 92.7 L1315.6 92.2 L1314.1 91.9 L1312.6 91.5 L1311.1 91.2 L1309.6 91.0 L1308.1 90.7 L1306.6 90.5 L1305.1 90.4 L1303.6 90.3 L1302.1 90.3 L1300.6 90.3 L1299.1 90.4 L1297.6 90.7 L1296.1 90.9 L1294.6 91.2 L1293.1 91.6 L1291.6 91.9 L1290.1 92.3 L1288.6 92.8 L1287.1 93.3 L1285.6 93.8 L1284.1 94.4 L1282.6 95.0 L1281.1 95.6 L1279.6 96.2 L1278.1 96.8 L1276.6 97.4 L1275.1 98.1 L1273.6 98.8 L1272.1 99.5 L1270.6 100.2Z" fill="#404040" fill-opacity="0.2"/>
<path d="M1270.6 92.7 L1272.1 91.9 L1273.6 91.1 L1275.1 90.4 L1276.6 89.7 L1278.1 89.0 L1279.6 88.3 L1281.1 87.6 L1282.6 87.0 L1284.1 86.3 L1285.6 85.7 L1287.1 85.1 L1288.6 84.6 L1290.1 84.1 L1291.6 83.6 L1293.1 83.2 L1294.6 82.8 L1296.1 82.5 L1297.6 82.2 L1299.1 82.0 L1300.6 81.9 L1302.1 81.8 L1303.6 81.8 L1305.1 81.9 L1306.6 82.0 L1308.1 82.2 L1309.6 82.5 L1311.1 82.8 L1312.6 83.1 L1314.1 83.4 L1315.6 83.8 L1317.1 84.2 L1318.6 84.6 L1320.1 85.1 L1321.6 85.6 L1323.1 86.1 L1324.6 86.7 L1326.1 87.2 L1327.6 87.8 L1329.1 88.3 L1330.6 88.9 L1332.1 89.5 L1333.6 90.1 L1335.1 90.7 L1336.6 91.3 L1338.1 91.9 L1339.6 92.5 L1341.1 93.1 L1342.6 93.6 L1344.1 94.1 L1345.6 94.5 L1347.1 94.9 L1348.6 95.4 L1350.1 95.7 L1351.6 96.1 L1353.1 96.5 L1354.6 96.8 L1356.1 97.1 L1357.6 97.4 L1359.1 97.6 L1360.6 97.9 L1362.1 98.1 L1363.6 98.3 L1365.1 98.5 L1366.6 98.7 L1368.1 98.9 L1369.6 99.1 L1371.1 99.3 L1372.6 99.5 L1374.1 99.6 L1375.6 99.8 L1377.1 99.9 L1378.6 100.1 L1380.1 100.2 L1381.6 100.3 L1383.1 100.5 L1384.6 100.7 L1386.1 100.9 L1387.6 101.1 L1389.1 101.4 L1390.6 101.7 L1392.1 102.1 L1393.6 102.5 L1395.1 102.9 L1396.6 103.4 L1398.1 103.8 L1399.6 104.3 L1401.1 104.8 L1402.6 105.3 L1404.1 105.8 L1405.6 106.4 L1407.1 106.9 L1408.6 107.4 L1410.1 107.9 L1411.6 108.4 L1413.1 108.8 L1414.6 109.3 L1416.1 109.7 L1417.6 110.1 L1419.1 110.5 L1420.6 110.9 L1422.1 111.2 L1423.6 111.5 L1425.1 111.8 L1426.6 112.1 L1428.1 112.3 L1429.6 112.6 L1431.1 112.8 L1432.6 113.0 L1434.1 113.1 L1435.6 113.3 L1437.1 113.3 L1438.6 113.3 L1440.1 113.3 L1441.6 113.2 L1443.1 113.0 L1444.6 112.9 L1446.1 112.6 L1447.6 112.3 L1449.1 112.0 L1450.6 111.6 L1452.1 111.1 L1453.6 110.5 L1455.1 109.9 L1456.6 109.3 L1458.1 108.6 L1459.6 107.9 L1461.1 107.2 L1462.6 106.6 L1464.2 105.9 L1465.7 105.2 L1467.2 104.5 L1468.7 103.8 L1470.2 103.2 L1471.7 102.5 L1473.2 101.9 L1474.7 101.4 L1476.2 100.8 L1477.7 100.3 L1479.2 99.8 L1480.7 99.3 L1482.2 98.8 L1483.7 98.5 L1485.2 98.2 L1486.7 97.9 L1488.2 97.7 L1489.7 97.5 L1491.2 97.3 L1492.7 97.2 L1494.2 97.0 L1495.7 96.9 L1497.2 96.8 L1498.7 96.7 L1500.2 96.6 L1501.7 96.5 L1503.2 96.4 L1504.7 96.3 L1506.2 96.2 L1507.7 96.2 L1509.2 96.1 L1510.7 95.9 L1512.2 95.8 L1513.7 95.7 L1515.2 95.5 L1516.7 95.3 L1518.2 95.1 L1519.7 94.9 L1521.2 94.7 L1522.7 94.4 L1524.2 94.2 L1525.7 93.9 L1527.2 93.7 L1528.7 93.4" fill="none" stroke="#404040" stroke-width="6" stroke-linejoin="round"/>
<path d="M1270.6 51.1 L1272.1 51.1 L1273.6 51.2 L1275.1 51.3 L1276.6 51.5 L1278.1 51.7 L1279.6 51.9 L1281.1 52.2 L1282.6 52.5 L1284.1 52.8 L1285.6 53.3 L1287.1 53.8 L1288.6 54.3 L1290.1 54.9 L1291.6 55.6 L1293.1 56.2 L1294.6 56.8 L1296.1 57.5 L1297.6 58.2 L1299.1 58.9 L1300.6 59.6 L1302.1 60.4 L1303.6 61.2 L1305.1 61.9 L1306.6 62.7 L1308.1 63.6 L1309.6 64.4 L1311.1 65.3 L1312.6 66.2 L1314.1 67.2 L1315.6 68.2 L1317.1 69.3 L1318.6 70.4 L1320.1 71.6 L1321.6 72.9 L1323.1 74.2 L1324.6 75.6 L1326.1 77.0 L1327.6 78.4 L1329.1 79.7 L1330.6 81.1 L1332.1 82.4 L1333.6 83.7 L1335.1 84.9 L1336.6 86.2 L1338.1 87.4 L1339.6 88.6 L1341.1 89.8 L1342.6 90.9 L1344.1 92.0 L1345.6 93.1 L1347.1 94.1 L1348.6 95.2 L1350.1 96.2 L1351.6 97.1 L1353.1 98.1 L1354.6 98.9 L1356.1 99.7 L1357.6 100.4 L1359.1 101.0 L1360.6 101.6 L1362.1 102.2 L1363.6 102.7 L1365.1 103.2 L1366.6 103.6 L1368.1 103.9 L1369.6 104.1 L1371.1 104.4 L1372.6 104.6 L1374.1 104.7 L1375.6 104.9 L1377.1 105.0 L1378.6 105.2 L1380.1 105.3 L1381.6 105.4 L1383.1 105.4 L1384.6 105.5 L1386.1 105.6 L1387.6 105.6 L1389.1 105.7 L1390.6 105.8 L1392.1 105.8 L1393.6 105.9 L1395.1 105.9 L1396.6 105.9 L1398.1 105.9 L1399.6 105.9 L1401.1 105.9 L1402.6 105.9 L1404.1 105.9 L1405.6 105.9 L1407.1 105.8 L1408.6 105.7 L1410.1 105.5 L1411.6 105.2 L1413.1 104.9 L1414.6 104.6 L1416.1 104.1 L1417.6 103.6 L1419.1 103.0 L1420.6 102.2 L1422.1 101.3 L1423.6 100.3 L1425.1 99.2 L1426.6 98.0 L1428.1 96.8 L1429.6 95.6 L1431.1 94.3 L1432.6 93.0 L1434.1 91.7 L1435.6 90.5 L1437.1 89.2 L1438.6 87.9 L1440.1 86.6 L1441.6 85.3 L1443.1 84.0 L1444.6 82.6 L1446.1 81.2 L1447.6 79.8 L1449.1 78.3 L1450.6 76.8 L1452.1 75.3 L1453.6 73.8 L1455.1 72.3 L1456.6 70.9 L1458.1 69.5 L1459.6 68.1 L1461.1 66.8 L1462.6 65.6 L1464.2 64.4 L1465.7 63.3 L1467.2 62.3 L1468.7 61.4 L1470.2 60.5 L1471.7 59.6 L1473.2 58.8 L1474.7 58.1 L1476.2 57.4 L1477.7 56.8 L1479.2 56.3 L1480.7 55.8 L1482.2 55.3 L1483.7 54.9 L1485.2 54.5 L1486.7 54.2 L1488.2 53.9 L1489.7 53.7 L1491.2 53.4 L1492.7 53.1 L1494.2 52.9 L1495.7 52.7 L1497.2 52.5 L1498.7 52.3 L1500.2 52.2 L1501.7 52.1 L1503.2 52.0 L1504.7 51.9 L1506.2 51.8 L1507.7 51.7 L1509.2 51.7 L1510.7 51.6 L1512.2 51.5 L1513.7 51.5 L1515.2 51.4 L1516.7 51.4 L1518.2 51.3 L1519.7 51.3 L1521.2 51.2 L1522.7 51.2 L1524.2 51.2 L1525.7 51.1 L1527.2 51.1 L1528.7 51.1 L1528.7 86.0 L1527.2 86.0 L1525.7 86.0 L1524.2 86.0 L1522.7 86.1 L1521.2 86.1 L1519.7 86.2 L1518.2 86.2 L1516.7 86.3 L1515.2 86.3 L1513.7 86.4 L1512.2 86.4 L1510.7 86.5 L1509.2 86.5 L1507.7 86.6 L1506.2 86.7 L1504.7 86.8 L1503.2 86.9 L1501.7 87.0 L1500.2 87.1 L1498.7 87.3 L1497.2 87.5 L1495.7 87.7 L1494.2 88.0 L1492.7 88.4 L1491.2 88.8 L1489.7 89.2 L1488.2 89.7 L1486.7 90.2 L1485.2 90.7 L1483.7 91.3 L1482.2 91.9 L1480.7 92.6 L1479.2 93.3 L1477.7 94.0 L1476.2 94.8 L1474.7 95.7 L1473.2 96.6 L1471.7 97.7 L1470.2 98.8 L1468.7 99.9 L1467.2 101.1 L1465.7 102.3 L1464.2 103.6 L1462.6 105.0 L1461.1 106.4 L1459.6 107.8 L1458.1 109.2 L1456.6 110.7 L1455.1 112.1 L1453.6 113.6 L1452.1 115.1 L1450.6 116.7 L1449.1 118.2 L1447.6 119.7 L1446.1 121.1 L1444.6 122.5 L1443.1 123.8 L1441.6 125.2 L1440.1 126.5 L1438.6 127.7 L1437.1 129.0 L1435.6 130.1 L1434.1 131.3 L1432.6 132.4 L1431.1 133.4 L1429.6 134.3 L1428.1 135.1 L1426.6 135.9 L1425.1 136.7 L1423.6 137.4 L1422.1 138.0 L1420.6 138.6 L1419.1 139.2 L1417.6 139.7 L1416.1 140.1 L1414.6 140.5 L1413.1 140.8 L1411.6 141.1 L1410.1 141.4 L1408.6 141.6 L1407.1 141.7 L1405.6 141.7 L1404.1 141.8 L1402.6 141.8 L1401.1 141.8 L1399.6 141.8 L1398.1 141.8 L1396.6 141.8 L1395.1 141.8 L1393.6 141.7 L1392.1 141.7 L1390.6 141.6 L1389.1 141.6 L1387.6 141.5 L1386.1 141.5 L1384.6 141.4 L1383.1 141.3 L1381.6 141.2 L1380.1 141.1 L1378.6 141.0 L1377.1 140.9 L1375.6 140.8 L1374.1 140.6 L1372.6 140.4 L1371.1 140.2 L1369.6 140.0 L1368.1 139.8 L1366.6 139.5 L1365.1 139.2 L1363.6 138.8 L1362.1 138.4 L1360.6 137.9 L1359.1 137.4 L1357.6 136.9 L1356.1 136.3 L1354.6 135.7 L1353.1 135.0 L1351.6 134.2 L1350.1 133.3 L1348.6 132.4 L1347.1 131.4 L1345.6 130.4 L1344.1 129.4 L1342.6 128.3 L1341.1 127.2 L1339.6 126.0 L1338.1 124.8 L1336.6 123.6 L1335.1 122.3 L1333.6 121.0 L1332.1 119.8 L1330.6 118.4 L1329.1 117.1 L1327.6 115.7 L1326.1 114.3 L1324.6 112.9 L1323.1 111.6 L1321.6 110.2 L1320.1 109.0 L1318.6 107.7 L1317.1 106.5 L1315.6 105.4 L1314.1 104.2 L1312.6 103.1 L1311.1 102.0 L1309.6 100.9 L1308.1 99.8 L1306.6 98.8 L1305.1 97.8 L1303.6 96.8 L1302.1 95.9 L1300.6 94.9 L1299.1 94.1 L1297.6 93.2 L1296.1 92.5 L1294.6 91.8 L1293.1 91.1 L1291.6 90.4 L1290.1 89.8 L1288.6 89.2 L1287.1 88.7 L1285.6 88.2 L1284.1 87.7 L1282.6 87.4 L1281.1 87.1 L1279.6 86.8 L1278.1 86.6 L1276.6 86.4 L1275.1 86.2 L1273.6 86.1 L1272.1 86.0 L1270.6 86.0Z" fill="#A5142F" fill-opacity="0.2"/>
<path d="M1270.6 68.5 L1272.1 68.6 L1273.6 68.6 L1275.1 68.8 L1276.6 68.9 L1278.1 69.1 L1279.6 69.3 L1281.1 69.6 L1282.6 69.9 L1284.1 70.3 L1285.6 70.7 L1287.1 71.2 L1288.6 71.8 L1290.1 72.4 L1291.6 73.0 L1293.1 73.6 L1294.6 74.3 L1296.1 75.0 L1297.6 75.7 L1299.1 76.5 L1300.6 77.3 L1302.1 78.1 L1303.6 79.0 L1305.1 79.9 L1306.6 80.8 L1308.1 81.7 L1309.6 82.6 L1311.1 83.6 L1312.6 84.7 L1314.1 85.7 L1315.6 86.8 L1317.1 87.9 L1318.6 89.1 L1320.1 90.3 L1321.6 91.6 L1323.1 92.9 L1324.6 94.3 L1326.1 95.6 L1327.6 97.0 L1329.1 98.4 L1330.6 99.8 L1332.1 101.1 L1333.6 102.4 L1335.1 103.6 L1336.6 104.9 L1338.1 106.1 L1339.6 107.3 L1341.1 108.5 L1342.6 109.6 L1344.1 110.7 L1345.6 111.7 L1347.1 112.8 L1348.6 113.8 L1350.1 114.7 L1351.6 115.7 L1353.1 116.5 L1354.6 117.3 L1356.1 118.0 L1357.6 118.6 L1359.1 119.2 L1360.6 119.8 L1362.1 120.3 L1363.6 120.8 L1365.1 121.2 L1366.6 121.5 L1368.1 121.8 L1369.6 122.1 L1371.1 122.3 L1372.6 122.5 L1374.1 122.7 L1375.6 122.8 L1377.1 123.0 L1378.6 123.1 L1380.1 123.2 L1381.6 123.3 L1383.1 123.4 L1384.6 123.5 L1386.1 123.5 L1387.6 123.6 L1389.1 123.6 L1390.6 123.7 L1392.1 123.8 L1393.6 123.8 L1395.1 123.8 L1396.6 123.9 L1398.1 123.9 L1399.6 123.9 L1401.1 123.9 L1402.6 123.9 L1404.1 123.8 L1405.6 123.8 L1407.1 123.7 L1408.6 123.6 L1410.1 123.4 L1411.6 123.2 L1413.1 122.9 L1414.6 122.5 L1416.1 122.1 L1417.6 121.7 L1419.1 121.1 L1420.6 120.4 L1422.1 119.6 L1423.6 118.8 L1425.1 117.9 L1426.6 117.0 L1428.1 116.0 L1429.6 115.0 L1431.1 113.9 L1432.6 112.7 L1434.1 111.5 L1435.6 110.3 L1437.1 109.1 L1438.6 107.8 L1440.1 106.6 L1441.6 105.2 L1443.1 103.9 L1444.6 102.6 L1446.1 101.2 L1447.6 99.7 L1449.1 98.2 L1450.6 96.7 L1452.1 95.2 L1453.6 93.7 L1455.1 92.2 L1456.6 90.8 L1458.1 89.3 L1459.6 87.9 L1461.1 86.6 L1462.6 85.3 L1464.2 84.0 L1465.7 82.8 L1467.2 81.7 L1468.7 80.6 L1470.2 79.6 L1471.7 78.6 L1473.2 77.7 L1474.7 76.9 L1476.2 76.1 L1477.7 75.4 L1479.2 74.8 L1480.7 74.2 L1482.2 73.6 L1483.7 73.1 L1485.2 72.6 L1486.7 72.2 L1488.2 71.8 L1489.7 71.4 L1491.2 71.1 L1492.7 70.7 L1494.2 70.4 L1495.7 70.2 L1497.2 70.0 L1498.7 69.8 L1500.2 69.7 L1501.7 69.5 L1503.2 69.4 L1504.7 69.3 L1506.2 69.2 L1507.7 69.2 L1509.2 69.1 L1510.7 69.0 L1512.2 69.0 L1513.7 68.9 L1515.2 68.9 L1516.7 68.8 L1518.2 68.8 L1519.7 68.7 L1521.2 68.7 L1522.7 68.6 L1524.2 68.6 L1525.7 68.6 L1527.2 68.5 L1528.7 68.5" fill="none" stroke="#A5142F" stroke-width="6" stroke-linejoin="round"/>
<path d="M1270.58 95.17H1528.67" stroke="#333" stroke-width="3" stroke-dasharray="3 3.11" fill="none"/>
<rect x="1270.58" y="180.78" width="25.16" height="9.80" fill="#A5142F"/><path d="M1272.95 180.78h2.19V190.58h-2.19zM1277.51 180.78h2.19V190.58h-2.19zM1282.06 180.78h2.19V190.58h-2.19zM1286.62 180.78h2.19V190.58h-2.19zM1291.18 180.78h2.19V190.58h-2.19z" fill="#000"/>
<rect x="1327.38" y="180.78" width="95.91" height="9.80" fill="#A5142F"/><path d="M1329.70 180.78h2.14V190.58h-2.14zM1334.15 180.78h2.14V190.58h-2.14zM1338.61 180.78h2.14V190.58h-2.14zM1343.07 180.78h2.14V190.58h-2.14zM1347.52 180.78h2.14V190.58h-2.14zM1351.98 180.78h2.14V190.58h-2.14zM1356.44 180.78h2.14V190.58h-2.14zM1360.90 180.78h2.14V190.58h-2.14zM1365.35 180.78h2.14V190.58h-2.14zM1369.81 180.78h2.14V190.58h-2.14zM1374.27 180.78h2.14V190.58h-2.14zM1378.72 180.78h2.14V190.58h-2.14zM1383.18 180.78h2.14V190.58h-2.14zM1387.64 180.78h2.14V190.58h-2.14zM1392.09 180.78h2.14V190.58h-2.14zM1396.55 180.78h2.14V190.58h-2.14zM1401.01 180.78h2.14V190.58h-2.14zM1405.47 180.78h2.14V190.58h-2.14zM1409.92 180.78h2.14V190.58h-2.14zM1414.38 180.78h2.14V190.58h-2.14zM1418.84 180.78h2.14V190.58h-2.14z" fill="#000"/>
<rect x="1453.44" y="180.78" width="75.24" height="9.80" fill="#A5142F"/><path d="M1455.81 180.78h2.19V190.58h-2.19zM1460.36 180.78h2.19V190.58h-2.19zM1464.91 180.78h2.19V190.58h-2.19zM1469.47 180.78h2.19V190.58h-2.19zM1474.02 180.78h2.19V190.58h-2.19zM1478.58 180.78h2.19V190.58h-2.19zM1483.13 180.78h2.19V190.58h-2.19zM1487.69 180.78h2.19V190.58h-2.19zM1492.24 180.78h2.19V190.58h-2.19zM1496.79 180.78h2.19V190.58h-2.19zM1501.35 180.78h2.19V190.58h-2.19zM1505.90 180.78h2.19V190.58h-2.19zM1510.46 180.78h2.19V190.58h-2.19zM1515.01 180.78h2.19V190.58h-2.19zM1519.57 180.78h2.19V190.58h-2.19zM1524.12 180.78h2.19V190.58h-2.19z" fill="#000"/>
<path d="M1270.58 24.17V190.58H1528.67" stroke="#505050" stroke-width="1" fill="none"/>
<path d="M1270.58 47.58h2.7M1270.58 95.17h2.7M1270.58 142.75h2.7M1270.58 190.58h2.7M1270.58 190.58v-2.7M1399.63 190.58v-2.7M1528.67 190.58v-2.7" stroke="#505050" stroke-width="1" fill="none"/>
<text transform="translate(1262.8 55.2) scale(1 1.065)" text-anchor="end" class="t">10</text>
<text transform="translate(1262.8 102.8) scale(1 1.065)" text-anchor="end" class="t">0</text>
<text transform="translate(1262.8 150.4) scale(1 1.065)" text-anchor="end" class="t">-10</text>
<text transform="translate(1262.8 199.1) scale(1 1.065)" text-anchor="end" class="t">-20</text>
<text transform="translate(1270.6 217.1) scale(1 1.065)" text-anchor="middle" class="t">0</text>
<text transform="translate(1399.6 217.1) scale(1 1.065)" text-anchor="middle" class="t">50</text>
<text transform="translate(1528.7 217.1) scale(1 1.065)" text-anchor="middle" class="t">100</text>
<text transform="translate(1198.1 107.4) rotate(-90) scale(1 1.065)" text-anchor="middle" class="l">Pelvis</text>
<text transform="translate(1225.0 107.4) rotate(-90) scale(1 1.065)" text-anchor="middle" class="l">Down [Degrees] Up</text>
</g>
<g id="pelvis_tra">
<path d="M1644.0 65.9 L1645.5 65.9 L1647.0 65.9 L1648.5 65.9 L1650.0 65.9 L1651.5 65.9 L1653.0 66.0 L1654.5 66.0 L1656.0 66.1 L1657.5 66.2 L1659.0 66.2 L1660.5 66.3 L1662.0 66.4 L1663.5 66.5 L1665.0 66.6 L1666.5 66.7 L1668.0 66.8 L1669.5 67.0 L1671.0 67.2 L1672.5 67.3 L1674.0 67.5 L1675.5 67.7 L1677.0 67.9 L1678.5 68.0 L1680.0 68.2 L1681.5 68.4 L1683.0 68.6 L1684.5 68.9 L1686.0 69.1 L1687.5 69.4 L1689.0 69.6 L1690.5 69.9 L1692.0 70.2 L1693.5 70.5 L1695.0 70.8 L1696.5 71.1 L1698.0 71.4 L1699.5 71.7 L1701.0 72.1 L1702.5 72.5 L1704.0 72.9 L1705.5 73.3 L1707.0 73.7 L1708.5 74.1 L1710.0 74.6 L1711.5 75.1 L1713.0 75.5 L1714.5 76.0 L1716.0 76.5 L1717.5 77.0 L1719.0 77.6 L1720.5 78.1 L1722.0 78.7 L1723.5 79.3 L1725.0 79.9 L1726.5 80.5 L1728.0 81.2 L1729.5 81.8 L1731.0 82.4 L1732.5 83.1 L1734.0 83.7 L1735.5 84.4 L1737.0 85.0 L1738.5 85.7 L1740.0 86.3 L1741.5 87.0 L1743.0 87.6 L1744.5 88.2 L1746.0 88.9 L1747.5 89.5 L1749.0 90.1 L1750.5 90.6 L1752.0 91.2 L1753.5 91.7 L1755.0 92.2 L1756.5 92.7 L1758.0 93.2 L1759.5 93.7 L1761.0 94.2 L1762.5 94.6 L1764.0 95.0 L1765.5 95.4 L1767.0 95.7 L1768.5 95.9 L1770.0 96.1 L1771.5 96.4 L1773.0 96.5 L1774.5 96.7 L1776.0 96.9 L1777.5 97.0 L1779.0 97.1 L1780.5 97.2 L1782.0 97.2 L1783.5 97.2 L1785.0 97.2 L1786.5 97.2 L1788.0 97.1 L1789.5 97.0 L1791.0 96.9 L1792.5 96.8 L1794.0 96.6 L1795.5 96.5 L1797.0 96.3 L1798.5 96.1 L1800.0 95.9 L1801.5 95.6 L1803.0 95.4 L1804.5 95.1 L1806.0 94.9 L1807.5 94.6 L1809.0 94.4 L1810.5 94.1 L1812.0 93.9 L1813.5 93.6 L1815.0 93.4 L1816.5 93.1 L1818.0 92.7 L1819.5 92.4 L1821.0 92.1 L1822.5 91.7 L1824.0 91.4 L1825.5 91.0 L1827.0 90.6 L1828.5 90.2 L1830.0 89.8 L1831.5 89.3 L1833.0 88.9 L1834.5 88.4 L1836.0 87.9 L1837.5 87.3 L1839.0 86.8 L1840.5 86.2 L1842.0 85.6 L1843.5 85.0 L1845.0 84.4 L1846.5 83.7 L1848.0 83.1 L1849.5 82.4 L1851.0 81.8 L1852.5 81.1 L1854.0 80.5 L1855.6 79.9 L1857.1 79.3 L1858.6 78.6 L1860.1 78.0 L1861.6 77.4 L1863.1 76.8 L1864.6 76.1 L1866.1 75.5 L1867.6 74.9 L1869.1 74.2 L1870.6 73.6 L1872.1 72.9 L1873.6 72.3 L1875.1 71.6 L1876.6 71.0 L1878.1 70.4 L1879.6 69.9 L1881.1 69.4 L1882.6 68.9 L1884.1 68.4 L1885.6 67.9 L1887.1 67.5 L1888.6 67.1 L1890.1 66.7 L1891.6 66.3 L1893.1 65.9 L1894.6 65.5 L1896.1 65.2 L1897.6 64.9 L1899.1 64.6 L1900.6 64.3 L1902.1 64.0 L1902.1 89.6 L1900.6 89.9 L1899.1 90.2 L1897.6 90.5 L1896.1 90.8 L1894.6 91.1 L1893.1 91.5 L1891.6 91.9 L1890.1 92.3 L1888.6 92.7 L1887.1 93.1 L1885.6 93.5 L1884.1 94.0 L1882.6 94.5 L1881.1 95.0 L1879.6 95.5 L1878.1 96.0 L1876.6 96.6 L1875.1 97.2 L1873.6 97.9 L1872.1 98.5 L1870.6 99.2 L1869.1 99.8 L1867.6 100.4 L1866.1 101.1 L1864.6 101.7 L1863.1 102.3 L1861.6 103.0 L1860.1 103.6 L1858.6 104.2 L1857.1 104.8 L1855.6 105.5 L1854.0 106.1 L1852.5 106.7 L1851.0 107.4 L1849.5 108.0 L1848.0 108.6 L1846.5 109.3 L1845.0 109.9 L1843.5 110.6 L1842.0 111.2 L1840.5 111.8 L1839.0 112.4 L1837.5 112.9 L1836.0 113.5 L1834.5 114.0 L1833.0 114.5 L1831.5 114.9 L1830.0 115.4 L1828.5 115.8 L1827.0 116.2 L1825.5 116.6 L1824.0 117.0 L1822.5 117.3 L1821.0 117.7 L1819.5 118.0 L1818.0 118.3 L1816.5 118.7 L1815.0 118.9 L1813.5 119.2 L1812.0 119.5 L1810.5 119.7 L1809.0 119.9 L1807.5 120.1 L1806.0 120.3 L1804.5 120.4 L1803.0 120.6 L1801.5 120.7 L1800.0 120.8 L1798.5 120.8 L1797.0 120.9 L1795.5 120.9 L1794.0 120.9 L1792.5 120.8 L1791.0 120.8 L1789.5 120.8 L1788.0 120.7 L1786.5 120.7 L1785.0 120.6 L1783.5 120.6 L1782.0 120.5 L1780.5 120.5 L1779.0 120.4 L1777.5 120.3 L1776.0 120.1 L1774.5 120.0 L1773.0 119.8 L1771.5 119.6 L1770.0 119.4 L1768.5 119.2 L1767.0 118.9 L1765.5 118.6 L1764.0 118.3 L1762.5 117.9 L1761.0 117.4 L1759.5 117.0 L1758.0 116.5 L1756.5 116.0 L1755.0 115.5 L1753.5 115.0 L1752.0 114.5 L1750.5 114.0 L1749.0 113.5 L1747.5 113.0 L1746.0 112.4 L1744.5 111.9 L1743.0 111.4 L1741.5 110.9 L1740.0 110.3 L1738.5 109.8 L1737.0 109.3 L1735.5 108.8 L1734.0 108.3 L1732.5 107.8 L1731.0 107.3 L1729.5 106.8 L1728.0 106.2 L1726.5 105.7 L1725.0 105.2 L1723.5 104.7 L1722.0 104.1 L1720.5 103.6 L1719.0 103.1 L1717.5 102.6 L1716.0 102.1 L1714.5 101.6 L1713.0 101.1 L1711.5 100.7 L1710.0 100.2 L1708.5 99.7 L1707.0 99.3 L1705.5 98.9 L1704.0 98.5 L1702.5 98.1 L1701.0 97.7 L1699.5 97.3 L1698.0 97.0 L1696.5 96.7 L1695.0 96.4 L1693.5 96.1 L1692.0 95.8 L1690.5 95.5 L1689.0 95.2 L1687.5 95.0 L1686.0 94.7 L1684.5 94.5 L1683.0 94.2 L1681.5 94.0 L1680.0 93.8 L1678.5 93.6 L1677.0 93.5 L1675.5 93.3 L1674.0 93.1 L1672.5 92.9 L1671.0 92.8 L1669.5 92.6 L1668.0 92.4 L1666.5 92.3 L1665.0 92.2 L1663.5 92.1 L1662.0 92.0 L1660.5 91.9 L1659.0 91.8 L1657.5 91.8 L1656.0 91.7 L1654.5 91.6 L1653.0 91.6 L1651.5 91.5 L1650.0 91.5 L1648.5 91.5 L1647.0 91.5 L1645.5 91.4 L1644.0 91.4Z" fill="#404040" fill-opacity="0.2"/>
<path d="M1644.0 78.6 L1645.5 78.7 L1647.0 78.7 L1648.5 78.7 L1650.0 78.7 L1651.5 78.7 L1653.0 78.8 L1654.5 78.8 L1656.0 78.9 L1657.5 79.0 L1659.0 79.0 L1660.5 79.1 L1662.0 79.2 L1663.5 79.3 L1665.0 79.4 L1666.5 79.5 L1668.0 79.6 L1669.5 79.8 L1671.0 80.0 L1672.5 80.1 L1674.0 80.3 L1675.5 80.5 L1677.0 80.7 L1678.5 80.8 L1680.0 81.0 L1681.5 81.2 L1683.0 81.4 L1684.5 81.7 L1686.0 81.9 L1687.5 82.2 L1689.0 82.4 L1690.5 82.7 L1692.0 83.0 L1693.5 83.3 L1695.0 83.6 L1696.5 83.9 L1698.0 84.2 L1699.5 84.5 L1701.0 84.9 L1702.5 85.3 L1704.0 85.7 L1705.5 86.1 L1707.0 86.5 L1708.5 86.9 L1710.0 87.4 L1711.5 87.9 L1713.0 88.3 L1714.5 88.8 L1716.0 89.3 L1717.5 89.8 L1719.0 90.3 L1720.5 90.9 L1722.0 91.4 L1723.5 92.0 L1725.0 92.5 L1726.5 93.1 L1728.0 93.7 L1729.5 94.3 L1731.0 94.9 L1732.5 95.4 L1734.0 96.0 L1735.5 96.6 L1737.0 97.2 L1738.5 97.7 L1740.0 98.3 L1741.5 98.9 L1743.0 99.5 L1744.5 100.1 L1746.0 100.6 L1747.5 101.2 L1749.0 101.8 L1750.5 102.3 L1752.0 102.8 L1753.5 103.4 L1755.0 103.9 L1756.5 104.4 L1758.0 104.9 L1759.5 105.3 L1761.0 105.8 L1762.5 106.2 L1764.0 106.6 L1765.5 107.0 L1767.0 107.3 L1768.5 107.6 L1770.0 107.8 L1771.5 108.0 L1773.0 108.2 L1774.5 108.4 L1776.0 108.5 L1777.5 108.6 L1779.0 108.7 L1780.5 108.8 L1782.0 108.9 L1783.5 108.9 L1785.0 108.9 L1786.5 108.9 L1788.0 108.9 L1789.5 108.9 L1791.0 108.9 L1792.5 108.8 L1794.0 108.7 L1795.5 108.7 L1797.0 108.6 L1798.5 108.5 L1800.0 108.3 L1801.5 108.2 L1803.0 108.0 L1804.5 107.8 L1806.0 107.6 L1807.5 107.4 L1809.0 107.2 L1810.5 106.9 L1812.0 106.7 L1813.5 106.4 L1815.0 106.2 L1816.5 105.9 L1818.0 105.5 L1819.5 105.2 L1821.0 104.9 L1822.5 104.5 L1824.0 104.2 L1825.5 103.8 L1827.0 103.4 L1828.5 103.0 L1830.0 102.6 L1831.5 102.1 L1833.0 101.7 L1834.5 101.2 L1836.0 100.7 L1837.5 100.1 L1839.0 99.6 L1840.5 99.0 L1842.0 98.4 L1843.5 97.8 L1845.0 97.1 L1846.5 96.5 L1848.0 95.9 L1849.5 95.2 L1851.0 94.6 L1852.5 93.9 L1854.0 93.3 L1855.6 92.7 L1857.1 92.0 L1858.6 91.4 L1860.1 90.8 L1861.6 90.2 L1863.1 89.5 L1864.6 88.9 L1866.1 88.3 L1867.6 87.7 L1869.1 87.0 L1870.6 86.4 L1872.1 85.7 L1873.6 85.1 L1875.1 84.4 L1876.6 83.8 L1878.1 83.2 L1879.6 82.7 L1881.1 82.2 L1882.6 81.7 L1884.1 81.2 L1885.6 80.7 L1887.1 80.3 L1888.6 79.9 L1890.1 79.5 L1891.6 79.1 L1893.1 78.7 L1894.6 78.3 L1896.1 78.0 L1897.6 77.7 L1899.1 77.4 L1900.6 77.1 L1902.1 76.8" fill="none" stroke="#404040" stroke-width="6" stroke-linejoin="round"/>
<path d="M1644.0 45.4 L1645.5 45.0 L1647.0 44.6 L1648.5 44.4 L1650.0 44.4 L1651.5 44.7 L1653.0 45.1 L1654.5 45.7 L1656.0 46.5 L1657.5 47.4 L1659.0 48.3 L1660.5 49.2 L1662.0 50.2 L1663.5 51.1 L1665.0 51.9 L1666.5 52.7 L1668.0 53.4 L1669.5 54.1 L1671.0 54.8 L1672.5 55.5 L1674.0 56.1 L1675.5 56.7 L1677.0 57.2 L1678.5 57.7 L1680.0 58.2 L1681.5 58.7 L1683.0 59.1 L1684.5 59.5 L1686.0 59.9 L1687.5 60.3 L1689.0 60.6 L1690.5 61.0 L1692.0 61.3 L1693.5 61.6 L1695.0 61.9 L1696.5 62.2 L1698.0 62.4 L1699.5 62.6 L1701.0 62.9 L1702.5 63.1 L1704.0 63.4 L1705.5 63.7 L1707.0 64.0 L1708.5 64.3 L1710.0 64.7 L1711.5 65.1 L1713.0 65.5 L1714.5 66.0 L1716.0 66.5 L1717.5 67.1 L1719.0 67.7 L1720.5 68.3 L1722.0 69.0 L1723.5 69.7 L1725.0 70.5 L1726.5 71.4 L1728.0 72.2 L1729.5 73.1 L1731.0 74.1 L1732.5 75.0 L1734.0 75.9 L1735.5 76.8 L1737.0 77.7 L1738.5 78.5 L1740.0 79.4 L1741.5 80.3 L1743.0 81.2 L1744.5 82.0 L1746.0 82.9 L1747.5 83.8 L1749.0 84.7 L1750.5 85.7 L1752.0 86.7 L1753.5 87.7 L1755.0 88.7 L1756.5 89.7 L1758.0 90.7 L1759.5 91.7 L1761.0 92.7 L1762.5 93.7 L1764.0 94.6 L1765.5 95.5 L1767.0 96.3 L1768.5 97.2 L1770.0 97.9 L1771.5 98.6 L1773.0 99.2 L1774.5 99.7 L1776.0 100.0 L1777.5 100.3 L1779.0 100.4 L1780.5 100.4 L1782.0 100.3 L1783.5 100.0 L1785.0 99.7 L1786.5 99.3 L1788.0 98.8 L1789.5 98.3 L1791.0 97.8 L1792.5 97.2 L1794.0 96.6 L1795.5 96.0 L1797.0 95.4 L1798.5 94.8 L1800.0 94.2 L1801.5 93.7 L1803.0 93.2 L1804.5 92.7 L1806.0 92.3 L1807.5 92.0 L1809.0 91.7 L1810.5 91.4 L1812.0 91.1 L1813.5 90.8 L1815.0 90.5 L1816.5 90.2 L1818.0 89.8 L1819.5 89.5 L1821.0 89.1 L1822.5 88.7 L1824.0 88.3 L1825.5 87.9 L1827.0 87.5 L1828.5 87.0 L1830.0 86.6 L1831.5 86.1 L1833.0 85.6 L1834.5 85.0 L1836.0 84.4 L1837.5 83.7 L1839.0 83.0 L1840.5 82.2 L1842.0 81.3 L1843.5 80.4 L1845.0 79.4 L1846.5 78.3 L1848.0 77.2 L1849.5 76.1 L1851.0 75.0 L1852.5 73.9 L1854.0 72.8 L1855.6 71.7 L1857.1 70.5 L1858.6 69.4 L1860.1 68.3 L1861.6 67.1 L1863.1 66.0 L1864.6 64.9 L1866.1 63.8 L1867.6 62.7 L1869.1 61.7 L1870.6 60.6 L1872.1 59.6 L1873.6 58.6 L1875.1 57.6 L1876.6 56.7 L1878.1 55.7 L1879.6 54.8 L1881.1 54.0 L1882.6 53.1 L1884.1 52.3 L1885.6 51.5 L1887.1 50.8 L1888.6 50.1 L1890.1 49.5 L1891.6 48.9 L1893.1 48.3 L1894.6 47.8 L1896.1 47.3 L1897.6 46.9 L1899.1 46.5 L1900.6 46.2 L1902.1 45.9 L1902.1 87.3 L1900.6 87.7 L1899.1 88.1 L1897.6 88.5 L1896.1 89.0 L1894.6 89.6 L1893.1 90.1 L1891.6 90.7 L1890.1 91.4 L1888.6 92.0 L1887.1 92.7 L1885.6 93.5 L1884.1 94.3 L1882.6 95.1 L1881.1 95.9 L1879.6 96.7 L1878.1 97.5 L1876.6 98.4 L1875.1 99.2 L1873.6 100.1 L1872.1 101.0 L1870.6 101.9 L1869.1 102.8 L1867.6 103.7 L1866.1 104.5 L1864.6 105.4 L1863.1 106.3 L1861.6 107.2 L1860.1 108.2 L1858.6 109.0 L1857.1 109.9 L1855.6 110.8 L1854.0 111.6 L1852.5 112.4 L1851.0 113.2 L1849.5 113.9 L1848.0 114.6 L1846.5 115.2 L1845.0 115.9 L1843.5 116.5 L1842.0 117.1 L1840.5 117.7 L1839.0 118.2 L1837.5 118.7 L1836.0 119.3 L1834.5 119.8 L1833.0 120.3 L1831.5 120.7 L1830.0 121.2 L1828.5 121.7 L1827.0 122.1 L1825.5 122.6 L1824.0 123.0 L1822.5 123.5 L1821.0 123.9 L1819.5 124.4 L1818.0 124.8 L1816.5 125.2 L1815.0 125.7 L1813.5 126.1 L1812.0 126.5 L1810.5 126.9 L1809.0 127.3 L1807.5 127.8 L1806.0 128.2 L1804.5 128.7 L1803.0 129.2 L1801.5 129.7 L1800.0 130.2 L1798.5 130.8 L1797.0 131.4 L1795.5 132.0 L1794.0 132.7 L1792.5 133.3 L1791.0 134.0 L1789.5 134.6 L1788.0 135.3 L1786.5 135.9 L1785.0 136.5 L1783.5 137.0 L1782.0 137.4 L1780.5 137.6 L1779.0 137.7 L1777.5 137.6 L1776.0 137.3 L1774.5 136.9 L1773.0 136.4 L1771.5 135.8 L1770.0 135.1 L1768.5 134.4 L1767.0 133.6 L1765.5 132.7 L1764.0 131.8 L1762.5 130.9 L1761.0 130.0 L1759.5 129.0 L1758.0 128.0 L1756.5 127.0 L1755.0 126.0 L1753.5 125.0 L1752.0 123.9 L1750.5 122.9 L1749.0 121.9 L1747.5 120.9 L1746.0 119.9 L1744.5 118.9 L1743.0 117.8 L1741.5 116.8 L1740.0 115.8 L1738.5 114.9 L1737.0 113.9 L1735.5 112.9 L1734.0 112.0 L1732.5 111.1 L1731.0 110.2 L1729.5 109.3 L1728.0 108.4 L1726.5 107.5 L1725.0 106.7 L1723.5 105.8 L1722.0 105.0 L1720.5 104.2 L1719.0 103.4 L1717.5 102.6 L1716.0 101.9 L1714.5 101.1 L1713.0 100.4 L1711.5 99.6 L1710.0 98.9 L1708.5 98.2 L1707.0 97.5 L1705.5 96.8 L1704.0 96.2 L1702.5 95.5 L1701.0 94.9 L1699.5 94.3 L1698.0 93.7 L1696.5 93.1 L1695.0 92.5 L1693.5 91.9 L1692.0 91.4 L1690.5 90.8 L1689.0 90.3 L1687.5 89.8 L1686.0 89.3 L1684.5 88.8 L1683.0 88.3 L1681.5 87.8 L1680.0 87.4 L1678.5 87.0 L1677.0 86.5 L1675.5 86.1 L1674.0 85.7 L1672.5 85.3 L1671.0 84.9 L1669.5 84.6 L1668.0 84.3 L1666.5 84.0 L1665.0 83.7 L1663.5 83.5 L1662.0 83.3 L1660.5 83.1 L1659.0 83.0 L1657.5 82.9 L1656.0 82.8 L1654.5 82.7 L1653.0 82.6 L1651.5 82.6 L1650.0 82.6 L1648.5 82.5 L1647.0 82.6 L1645.5 82.6 L1644.0 82.6Z" fill="#A5142F" fill-opacity="0.2"/>
<path d="M1644.0 64.7 L1645.5 64.3 L1647.0 63.9 L1648.5 63.5 L1650.0 63.3 L1651.5 63.2 L1653.0 63.3 L1654.5 63.5 L1656.0 63.9 L1657.5 64.4 L1659.0 64.9 L1660.5 65.5 L1662.0 66.0 L1663.5 66.6 L1665.0 67.2 L1666.5 67.8 L1668.0 68.4 L1669.5 68.9 L1671.0 69.5 L1672.5 70.1 L1674.0 70.6 L1675.5 71.2 L1677.0 71.7 L1678.5 72.2 L1680.0 72.7 L1681.5 73.1 L1683.0 73.6 L1684.5 74.0 L1686.0 74.4 L1687.5 74.8 L1689.0 75.1 L1690.5 75.5 L1692.0 75.9 L1693.5 76.3 L1695.0 76.7 L1696.5 77.1 L1698.0 77.5 L1699.5 77.9 L1701.0 78.4 L1702.5 78.8 L1704.0 79.2 L1705.5 79.7 L1707.0 80.1 L1708.5 80.6 L1710.0 81.1 L1711.5 81.6 L1713.0 82.2 L1714.5 82.8 L1716.0 83.3 L1717.5 84.0 L1719.0 84.6 L1720.5 85.2 L1722.0 85.9 L1723.5 86.6 L1725.0 87.3 L1726.5 88.1 L1728.0 88.9 L1729.5 89.7 L1731.0 90.5 L1732.5 91.4 L1734.0 92.2 L1735.5 93.1 L1737.0 94.1 L1738.5 95.0 L1740.0 96.0 L1741.5 97.0 L1743.0 98.0 L1744.5 99.0 L1746.0 100.1 L1747.5 101.1 L1749.0 102.1 L1750.5 103.1 L1752.0 104.2 L1753.5 105.2 L1755.0 106.2 L1756.5 107.3 L1758.0 108.3 L1759.5 109.3 L1761.0 110.2 L1762.5 111.2 L1764.0 112.1 L1765.5 112.9 L1767.0 113.8 L1768.5 114.6 L1770.0 115.3 L1771.5 116.0 L1773.0 116.7 L1774.5 117.3 L1776.0 117.8 L1777.5 118.3 L1779.0 118.6 L1780.5 118.9 L1782.0 119.0 L1783.5 118.9 L1785.0 118.6 L1786.5 118.2 L1788.0 117.8 L1789.5 117.3 L1791.0 116.7 L1792.5 116.1 L1794.0 115.4 L1795.5 114.7 L1797.0 114.1 L1798.5 113.5 L1800.0 112.9 L1801.5 112.3 L1803.0 111.7 L1804.5 111.2 L1806.0 110.6 L1807.5 110.1 L1809.0 109.7 L1810.5 109.2 L1812.0 108.8 L1813.5 108.4 L1815.0 108.0 L1816.5 107.7 L1818.0 107.3 L1819.5 107.0 L1821.0 106.6 L1822.5 106.2 L1824.0 105.8 L1825.5 105.4 L1827.0 104.9 L1828.5 104.5 L1830.0 104.0 L1831.5 103.5 L1833.0 103.0 L1834.5 102.4 L1836.0 101.9 L1837.5 101.3 L1839.0 100.7 L1840.5 100.1 L1842.0 99.4 L1843.5 98.7 L1845.0 97.9 L1846.5 97.1 L1848.0 96.3 L1849.5 95.5 L1851.0 94.6 L1852.5 93.8 L1854.0 92.8 L1855.6 91.9 L1857.1 90.9 L1858.6 89.9 L1860.1 88.9 L1861.6 87.8 L1863.1 86.8 L1864.6 85.8 L1866.1 84.7 L1867.6 83.7 L1869.1 82.7 L1870.6 81.7 L1872.1 80.7 L1873.6 79.7 L1875.1 78.7 L1876.6 77.7 L1878.1 76.7 L1879.6 75.7 L1881.1 74.7 L1882.6 73.7 L1884.1 72.7 L1885.6 71.8 L1887.1 70.8 L1888.6 70.0 L1890.1 69.3 L1891.6 68.6 L1893.1 68.1 L1894.6 67.6 L1896.1 67.2 L1897.6 66.9 L1899.1 66.6 L1900.6 66.5 L1902.1 66.3" fill="none" stroke="#A5142F" stroke-width="6" stroke-linejoin="round"/>
<path d="M1644.01 90.51H1902.06" stroke="#333" stroke-width="3" stroke-dasharray="3 3.11" fill="none"/>
<rect x="1644.01" y="180.54" width="32.81" height="9.80" fill="#A5142F"/><path d="M1646.28 180.54h2.09V190.34h-2.09zM1650.64 180.54h2.09V190.34h-2.09zM1655.00 180.54h2.09V190.34h-2.09zM1659.37 180.54h2.09V190.34h-2.09zM1663.73 180.54h2.09V190.34h-2.09zM1668.09 180.54h2.09V190.34h-2.09zM1672.46 180.54h2.09V190.34h-2.09z" fill="#000"/>
<path d="M1644.01 23.97V190.34H1902.06" stroke="#505050" stroke-width="1" fill="none"/>
<path d="M1644.01 23.97h2.7M1644.01 57.24h2.7M1644.01 90.51h2.7M1644.01 123.79h2.7M1644.01 157.06h2.7M1644.01 190.34h2.7M1644.01 190.34v-2.7M1773.03 190.34v-2.7M1902.06 190.34v-2.7" stroke="#505050" stroke-width="1" fill="none"/>
<text transform="translate(1636.2 31.6) scale(1 1.065)" text-anchor="end" class="t">20</text>
<text transform="translate(1636.2 64.8) scale(1 1.065)" text-anchor="end" class="t">10</text>
<text transform="translate(1636.2 98.1) scale(1 1.065)" text-anchor="end" class="t">0</text>
<text transform="translate(1636.2 131.4) scale(1 1.065)" text-anchor="end" class="t">-10</text>
<text transform="translate(1636.2 164.7) scale(1 1.065)" text-anchor="end" class="t">-20</text>
<text transform="translate(1636.2 198.8) scale(1 1.065)" text-anchor="end" class="t">-30</text>
<text transform="translate(1644.0 216.8) scale(1 1.065)" text-anchor="middle" class="t">0</text>
<text transform="translate(1773.0 216.8) scale(1 1.065)" text-anchor="middle" class="t">50</text>
<text transform="translate(1902.1 216.8) scale(1 1.065)" text-anchor="middle" class="t">100</text>
<text transform="translate(1572.6 107.2) rotate(-90) scale(1 1.065)" text-anchor="middle" class="l">Pelvis</text>
<text transform="translate(1599.5 107.2) rotate(-90) scale(1 1.065)" text-anchor="middle" class="l">Ext [Degrees] Int</text>
</g>
<g id="hip_sag">
<path d="M150.1 318.0 L151.6 318.2 L153.1 318.5 L154.6 318.8 L156.1 319.2 L157.6 319.6 L159.1 320.0 L160.6 320.5 L162.1 320.9 L163.6 321.4 L165.1 321.9 L166.6 322.5 L168.1 323.1 L169.6 323.7 L171.1 324.3 L172.6 325.0 L174.1 325.8 L175.6 326.5 L177.1 327.3 L178.6 328.1 L180.1 328.9 L181.6 329.7 L183.1 330.6 L184.6 331.5 L186.1 332.5 L187.6 333.4 L189.1 334.4 L190.6 335.3 L192.1 336.3 L193.6 337.3 L195.1 338.3 L196.6 339.4 L198.1 340.4 L199.6 341.5 L201.1 342.5 L202.6 343.6 L204.1 344.7 L205.6 345.8 L207.1 346.8 L208.6 347.9 L210.1 349.1 L211.6 350.2 L213.1 351.3 L214.6 352.4 L216.1 353.6 L217.6 354.7 L219.1 355.9 L220.6 357.0 L222.1 358.2 L223.6 359.3 L225.1 360.5 L226.6 361.6 L228.1 362.8 L229.6 363.9 L231.1 365.1 L232.6 366.3 L234.1 367.4 L235.6 368.6 L237.1 369.7 L238.6 370.8 L240.1 371.9 L241.6 373.0 L243.1 374.0 L244.6 375.0 L246.1 376.0 L247.6 377.0 L249.1 378.0 L250.6 378.9 L252.1 379.8 L253.6 380.6 L255.1 381.4 L256.6 382.1 L258.1 382.8 L259.6 383.5 L261.1 384.1 L262.6 384.7 L264.1 385.2 L265.6 385.7 L267.1 386.0 L268.6 386.3 L270.1 386.6 L271.6 386.8 L273.1 386.9 L274.6 387.0 L276.1 387.1 L277.6 387.2 L279.1 387.2 L280.6 387.2 L282.1 387.1 L283.6 387.0 L285.1 386.8 L286.6 386.5 L288.1 386.2 L289.6 385.9 L291.1 385.4 L292.6 385.0 L294.1 384.3 L295.6 383.6 L297.1 382.7 L298.6 381.6 L300.1 380.5 L301.6 379.2 L303.1 377.8 L304.6 376.3 L306.1 374.6 L307.6 372.8 L309.1 370.9 L310.6 369.0 L312.1 367.0 L313.6 365.0 L315.1 362.8 L316.6 360.7 L318.1 358.6 L319.6 356.5 L321.1 354.4 L322.6 352.4 L324.1 350.3 L325.6 348.3 L327.1 346.3 L328.6 344.4 L330.1 342.6 L331.6 340.8 L333.1 339.1 L334.6 337.4 L336.1 335.8 L337.6 334.3 L339.1 332.8 L340.6 331.5 L342.1 330.2 L343.6 329.1 L345.1 328.0 L346.6 327.0 L348.1 326.1 L349.6 325.2 L351.1 324.4 L352.6 323.6 L354.1 323.0 L355.6 322.3 L357.1 321.7 L358.6 321.1 L360.1 320.6 L361.6 320.1 L363.1 319.7 L364.6 319.4 L366.1 319.1 L367.6 318.9 L369.1 318.6 L370.6 318.4 L372.1 318.2 L373.6 318.1 L375.1 318.0 L376.6 317.9 L378.1 317.8 L379.6 317.8 L381.1 317.7 L382.6 317.7 L384.1 317.7 L385.6 317.7 L387.1 317.7 L388.6 317.8 L390.1 317.8 L391.6 317.9 L393.1 318.0 L394.6 318.1 L396.1 318.2 L397.6 318.2 L399.1 318.3 L400.6 318.5 L402.1 318.6 L403.6 318.7 L405.1 318.8 L406.6 318.9 L408.1 319.1 L408.1 333.8 L406.6 333.6 L405.1 333.3 L403.6 333.1 L402.1 332.9 L400.6 332.6 L399.1 332.4 L397.6 332.2 L396.1 332.0 L394.6 331.8 L393.1 331.6 L391.6 331.5 L390.1 331.3 L388.6 331.1 L387.1 331.0 L385.6 330.9 L384.1 330.8 L382.6 330.7 L381.1 330.6 L379.6 330.6 L378.1 330.6 L376.6 330.6 L375.1 330.6 L373.6 330.6 L372.1 330.7 L370.6 330.8 L369.1 331.0 L367.6 331.1 L366.1 331.4 L364.6 331.6 L363.1 331.9 L361.6 332.2 L360.1 332.6 L358.6 333.1 L357.1 333.7 L355.6 334.2 L354.1 334.8 L352.6 335.5 L351.1 336.2 L349.6 336.9 L348.1 337.8 L346.6 338.7 L345.1 339.6 L343.6 340.7 L342.1 341.8 L340.6 343.0 L339.1 344.3 L337.6 345.7 L336.1 347.2 L334.6 348.8 L333.1 350.5 L331.6 352.2 L330.1 353.9 L328.6 355.8 L327.1 357.7 L325.6 359.6 L324.1 361.6 L322.6 363.7 L321.1 365.7 L319.6 367.8 L318.1 369.9 L316.6 372.0 L315.1 374.2 L313.6 376.3 L312.1 378.4 L310.6 380.5 L309.1 382.4 L307.6 384.3 L306.1 386.2 L304.6 387.9 L303.1 389.5 L301.6 391.0 L300.1 392.3 L298.6 393.4 L297.1 394.5 L295.6 395.5 L294.1 396.3 L292.6 396.9 L291.1 397.5 L289.6 397.9 L288.1 398.3 L286.6 398.7 L285.1 398.9 L283.6 399.2 L282.1 399.3 L280.6 399.3 L279.1 399.3 L277.6 399.3 L276.1 399.2 L274.6 399.0 L273.1 398.9 L271.6 398.6 L270.1 398.4 L268.6 398.1 L267.1 397.7 L265.6 397.3 L264.1 396.7 L262.6 396.2 L261.1 395.5 L259.6 394.9 L258.1 394.2 L256.6 393.4 L255.1 392.7 L253.6 391.9 L252.1 391.1 L250.6 390.2 L249.1 389.3 L247.6 388.3 L246.1 387.4 L244.6 386.4 L243.1 385.3 L241.6 384.3 L240.1 383.2 L238.6 382.2 L237.1 381.1 L235.6 380.0 L234.1 378.8 L232.6 377.7 L231.1 376.5 L229.6 375.4 L228.1 374.3 L226.6 373.1 L225.1 372.0 L223.6 370.9 L222.1 369.7 L220.6 368.6 L219.1 367.5 L217.6 366.4 L216.1 365.2 L214.6 364.1 L213.1 363.0 L211.6 361.9 L210.1 360.8 L208.6 359.7 L207.1 358.7 L205.6 357.6 L204.1 356.5 L202.6 355.5 L201.1 354.5 L199.6 353.4 L198.1 352.4 L196.6 351.4 L195.1 350.4 L193.6 349.4 L192.1 348.4 L190.6 347.5 L189.1 346.6 L187.6 345.6 L186.1 344.7 L184.6 343.8 L183.1 343.0 L181.6 342.1 L180.1 341.3 L178.6 340.6 L177.1 339.8 L175.6 339.1 L174.1 338.5 L172.6 337.8 L171.1 337.2 L169.6 336.6 L168.1 336.0 L166.6 335.5 L165.1 335.0 L163.6 334.6 L162.1 334.2 L160.6 333.8 L159.1 333.4 L157.6 333.1 L156.1 332.8 L154.6 332.5 L153.1 332.2 L151.6 332.0 L150.1 331.9Z" fill="#404040" fill-opacity="0.2"/>
<path d="M150.1 324.9 L151.6 325.1 L153.1 325.4 L154.6 325.7 L156.1 326.0 L157.6 326.3 L159.1 326.7 L160.6 327.1 L162.1 327.6 L163.6 328.0 L165.1 328.5 L166.6 329.0 L168.1 329.5 L169.6 330.1 L171.1 330.8 L172.6 331.4 L174.1 332.1 L175.6 332.8 L177.1 333.6 L178.6 334.3 L180.1 335.1 L181.6 335.9 L183.1 336.8 L184.6 337.7 L186.1 338.6 L187.6 339.5 L189.1 340.5 L190.6 341.4 L192.1 342.4 L193.6 343.4 L195.1 344.4 L196.6 345.4 L198.1 346.4 L199.6 347.4 L201.1 348.5 L202.6 349.5 L204.1 350.6 L205.6 351.7 L207.1 352.8 L208.6 353.8 L210.1 354.9 L211.6 356.0 L213.1 357.2 L214.6 358.3 L216.1 359.4 L217.6 360.5 L219.1 361.7 L220.6 362.8 L222.1 364.0 L223.6 365.1 L225.1 366.2 L226.6 367.4 L228.1 368.5 L229.6 369.7 L231.1 370.8 L232.6 372.0 L234.1 373.1 L235.6 374.3 L237.1 375.4 L238.6 376.5 L240.1 377.6 L241.6 378.6 L243.1 379.7 L244.6 380.7 L246.1 381.7 L247.6 382.7 L249.1 383.6 L250.6 384.6 L252.1 385.4 L253.6 386.3 L255.1 387.0 L256.6 387.8 L258.1 388.5 L259.6 389.2 L261.1 389.8 L262.6 390.4 L264.1 391.0 L265.6 391.5 L267.1 391.9 L268.6 392.2 L270.1 392.5 L271.6 392.7 L273.1 392.9 L274.6 393.0 L276.1 393.2 L277.6 393.2 L279.1 393.3 L280.6 393.3 L282.1 393.2 L283.6 393.1 L285.1 392.9 L286.6 392.6 L288.1 392.3 L289.6 391.9 L291.1 391.5 L292.6 390.9 L294.1 390.3 L295.6 389.5 L297.1 388.6 L298.6 387.5 L300.1 386.4 L301.6 385.1 L303.1 383.7 L304.6 382.1 L306.1 380.4 L307.6 378.6 L309.1 376.7 L310.6 374.7 L312.1 372.7 L313.6 370.6 L315.1 368.5 L316.6 366.4 L318.1 364.2 L319.6 362.1 L321.1 360.1 L322.6 358.0 L324.1 356.0 L325.6 354.0 L327.1 352.0 L328.6 350.1 L330.1 348.3 L331.6 346.5 L333.1 344.8 L334.6 343.1 L336.1 341.5 L337.6 340.0 L339.1 338.6 L340.6 337.2 L342.1 336.0 L343.6 334.9 L345.1 333.8 L346.6 332.8 L348.1 331.9 L349.6 331.1 L351.1 330.3 L352.6 329.5 L354.1 328.9 L355.6 328.3 L357.1 327.7 L358.6 327.1 L360.1 326.6 L361.6 326.2 L363.1 325.8 L364.6 325.5 L366.1 325.2 L367.6 325.0 L369.1 324.8 L370.6 324.6 L372.1 324.5 L373.6 324.4 L375.1 324.3 L376.6 324.2 L378.1 324.2 L379.6 324.2 L381.1 324.2 L382.6 324.2 L384.1 324.2 L385.6 324.3 L387.1 324.4 L388.6 324.4 L390.1 324.6 L391.6 324.7 L393.1 324.8 L394.6 324.9 L396.1 325.1 L397.6 325.2 L399.1 325.4 L400.6 325.5 L402.1 325.7 L403.6 325.9 L405.1 326.1 L406.6 326.2 L408.1 326.4" fill="none" stroke="#404040" stroke-width="6" stroke-linejoin="round"/>
<path d="M150.1 297.3 L151.6 298.4 L153.1 299.5 L154.6 300.6 L156.1 301.6 L157.6 302.7 L159.1 303.8 L160.6 304.9 L162.1 306.0 L163.6 307.1 L165.1 308.3 L166.6 309.4 L168.1 310.6 L169.6 311.7 L171.1 312.9 L172.6 314.0 L174.1 315.1 L175.6 316.1 L177.1 317.1 L178.6 318.0 L180.1 318.8 L181.6 319.6 L183.1 320.3 L184.6 321.0 L186.1 321.7 L187.6 322.3 L189.1 322.9 L190.6 323.5 L192.1 324.1 L193.6 324.6 L195.1 325.2 L196.6 325.7 L198.1 326.3 L199.6 326.8 L201.1 327.3 L202.6 327.8 L204.1 328.3 L205.6 328.8 L207.1 329.3 L208.6 329.7 L210.1 330.2 L211.6 330.6 L213.1 331.1 L214.6 331.5 L216.1 331.9 L217.6 332.3 L219.1 332.7 L220.6 333.1 L222.1 333.5 L223.6 333.9 L225.1 334.3 L226.6 334.7 L228.1 335.1 L229.6 335.4 L231.1 335.8 L232.6 336.2 L234.1 336.5 L235.6 336.9 L237.1 337.2 L238.6 337.5 L240.1 337.9 L241.6 338.2 L243.1 338.5 L244.6 338.9 L246.1 339.2 L247.6 339.5 L249.1 339.8 L250.6 340.2 L252.1 340.5 L253.6 340.8 L255.1 341.1 L256.6 341.5 L258.1 341.8 L259.6 342.1 L261.1 342.5 L262.6 342.8 L264.1 343.1 L265.6 343.5 L267.1 343.8 L268.6 344.1 L270.1 344.4 L271.6 344.6 L273.1 344.9 L274.6 345.2 L276.1 345.4 L277.6 345.6 L279.1 345.8 L280.6 346.0 L282.1 346.2 L283.6 346.4 L285.1 346.5 L286.6 346.6 L288.1 346.7 L289.6 346.7 L291.1 346.7 L292.6 346.6 L294.1 346.4 L295.6 346.1 L297.1 345.6 L298.6 344.9 L300.1 344.1 L301.6 343.2 L303.1 342.1 L304.6 340.9 L306.1 339.6 L307.6 338.2 L309.1 336.6 L310.6 335.0 L312.1 333.3 L313.6 331.5 L315.1 329.7 L316.6 327.8 L318.1 325.9 L319.6 324.0 L321.1 322.0 L322.6 320.0 L324.1 318.0 L325.6 316.0 L327.1 314.1 L328.6 312.2 L330.1 310.4 L331.6 308.7 L333.1 307.1 L334.6 305.5 L336.1 304.1 L337.6 302.7 L339.1 301.5 L340.6 300.2 L342.1 299.1 L343.6 298.0 L345.1 297.0 L346.6 296.0 L348.1 295.0 L349.6 294.2 L351.1 293.4 L352.6 292.7 L354.1 292.1 L355.6 291.6 L357.1 291.1 L358.6 290.7 L360.1 290.3 L361.6 290.0 L363.1 289.7 L364.6 289.6 L366.1 289.4 L367.6 289.3 L369.1 289.2 L370.6 289.2 L372.1 289.1 L373.6 289.1 L375.1 289.1 L376.6 289.2 L378.1 289.2 L379.6 289.3 L381.1 289.4 L382.6 289.5 L384.1 289.6 L385.6 289.8 L387.1 290.0 L388.6 290.2 L390.1 290.4 L391.6 290.7 L393.1 291.0 L394.6 291.3 L396.1 291.6 L397.6 292.1 L399.1 292.5 L400.6 293.0 L402.1 293.5 L403.6 294.1 L405.1 294.7 L406.6 295.4 L408.1 296.0 L408.1 318.4 L406.6 318.1 L405.1 317.7 L403.6 317.4 L402.1 317.1 L400.6 316.8 L399.1 316.6 L397.6 316.4 L396.1 316.2 L394.6 316.1 L393.1 315.9 L391.6 315.8 L390.1 315.7 L388.6 315.7 L387.1 315.6 L385.6 315.6 L384.1 315.7 L382.6 315.7 L381.1 315.8 L379.6 315.9 L378.1 316.0 L376.6 316.1 L375.1 316.2 L373.6 316.4 L372.1 316.6 L370.6 316.8 L369.1 317.0 L367.6 317.2 L366.1 317.4 L364.6 317.7 L363.1 318.0 L361.6 318.3 L360.1 318.6 L358.6 319.0 L357.1 319.4 L355.6 319.9 L354.1 320.4 L352.6 321.0 L351.1 321.6 L349.6 322.4 L348.1 323.2 L346.6 324.2 L345.1 325.2 L343.6 326.2 L342.1 327.3 L340.6 328.5 L339.1 329.8 L337.6 331.1 L336.1 332.4 L334.6 333.8 L333.1 335.3 L331.6 336.8 L330.1 338.3 L328.6 339.9 L327.1 341.6 L325.6 343.2 L324.1 344.9 L322.6 346.5 L321.1 348.2 L319.6 349.8 L318.1 351.4 L316.6 352.9 L315.1 354.4 L313.6 355.8 L312.1 357.2 L310.6 358.5 L309.1 359.7 L307.6 360.9 L306.1 362.0 L304.6 363.0 L303.1 363.9 L301.6 364.7 L300.1 365.5 L298.6 366.2 L297.1 366.7 L295.6 367.2 L294.1 367.6 L292.6 367.9 L291.1 368.1 L289.6 368.2 L288.1 368.3 L286.6 368.2 L285.1 368.1 L283.6 367.9 L282.1 367.6 L280.6 367.2 L279.1 366.9 L277.6 366.5 L276.1 366.0 L274.6 365.6 L273.1 365.2 L271.6 364.7 L270.1 364.3 L268.6 363.8 L267.1 363.4 L265.6 362.9 L264.1 362.4 L262.6 361.9 L261.1 361.4 L259.6 361.0 L258.1 360.5 L256.6 360.0 L255.1 359.6 L253.6 359.1 L252.1 358.6 L250.6 358.2 L249.1 357.7 L247.6 357.3 L246.1 356.8 L244.6 356.4 L243.1 355.9 L241.6 355.5 L240.1 355.1 L238.6 354.6 L237.1 354.2 L235.6 353.7 L234.1 353.3 L232.6 352.8 L231.1 352.4 L229.6 351.9 L228.1 351.5 L226.6 351.0 L225.1 350.6 L223.6 350.1 L222.1 349.7 L220.6 349.2 L219.1 348.8 L217.6 348.3 L216.1 347.9 L214.6 347.4 L213.1 347.0 L211.6 346.5 L210.1 346.1 L208.6 345.6 L207.1 345.2 L205.6 344.8 L204.1 344.3 L202.6 343.9 L201.1 343.5 L199.6 343.0 L198.1 342.6 L196.6 342.1 L195.1 341.7 L193.6 341.2 L192.1 340.7 L190.6 340.2 L189.1 339.6 L187.6 339.0 L186.1 338.4 L184.6 337.8 L183.1 337.1 L181.6 336.4 L180.1 335.7 L178.6 334.9 L177.1 334.1 L175.6 333.3 L174.1 332.4 L172.6 331.5 L171.1 330.6 L169.6 329.7 L168.1 328.8 L166.6 327.9 L165.1 327.0 L163.6 326.2 L162.1 325.3 L160.6 324.5 L159.1 323.8 L157.6 323.0 L156.1 322.3 L154.6 321.6 L153.1 320.9 L151.6 320.2 L150.1 319.5Z" fill="#A5142F" fill-opacity="0.2"/>
<path d="M150.1 308.6 L151.6 309.5 L153.1 310.4 L154.6 311.3 L156.1 312.2 L157.6 313.2 L159.1 314.1 L160.6 315.0 L162.1 316.0 L163.6 316.9 L165.1 317.9 L166.6 318.9 L168.1 320.0 L169.6 321.0 L171.1 322.0 L172.6 323.1 L174.1 324.0 L175.6 325.0 L177.1 325.9 L178.6 326.7 L180.1 327.5 L181.6 328.3 L183.1 329.0 L184.6 329.7 L186.1 330.4 L187.6 331.0 L189.1 331.6 L190.6 332.2 L192.1 332.7 L193.6 333.2 L195.1 333.7 L196.6 334.1 L198.1 334.6 L199.6 335.0 L201.1 335.4 L202.6 335.9 L204.1 336.3 L205.6 336.7 L207.1 337.2 L208.6 337.6 L210.1 338.0 L211.6 338.5 L213.1 338.9 L214.6 339.4 L216.1 339.8 L217.6 340.3 L219.1 340.8 L220.6 341.2 L222.1 341.7 L223.6 342.2 L225.1 342.6 L226.6 343.1 L228.1 343.5 L229.6 344.0 L231.1 344.4 L232.6 344.8 L234.1 345.2 L235.6 345.6 L237.1 346.0 L238.6 346.4 L240.1 346.7 L241.6 347.1 L243.1 347.4 L244.6 347.8 L246.1 348.1 L247.6 348.5 L249.1 348.8 L250.6 349.2 L252.1 349.5 L253.6 349.9 L255.1 350.2 L256.6 350.6 L258.1 351.0 L259.6 351.4 L261.1 351.8 L262.6 352.1 L264.1 352.5 L265.6 352.9 L267.1 353.3 L268.6 353.7 L270.1 354.0 L271.6 354.4 L273.1 354.7 L274.6 355.1 L276.1 355.4 L277.6 355.8 L279.1 356.1 L280.6 356.4 L282.1 356.7 L283.6 356.9 L285.1 357.1 L286.6 357.3 L288.1 357.3 L289.6 357.3 L291.1 357.2 L292.6 357.0 L294.1 356.8 L295.6 356.5 L297.1 356.1 L298.6 355.5 L300.1 354.8 L301.6 354.0 L303.1 353.1 L304.6 352.1 L306.1 350.9 L307.6 349.7 L309.1 348.3 L310.6 346.8 L312.1 345.3 L313.6 343.7 L315.1 342.1 L316.6 340.4 L318.1 338.7 L319.6 336.9 L321.1 335.1 L322.6 333.3 L324.1 331.5 L325.6 329.6 L327.1 327.8 L328.6 326.0 L330.1 324.3 L331.6 322.6 L333.1 321.1 L334.6 319.6 L336.1 318.1 L337.6 316.8 L339.1 315.5 L340.6 314.3 L342.1 313.2 L343.6 312.1 L345.1 311.1 L346.6 310.2 L348.1 309.3 L349.6 308.5 L351.1 307.8 L352.6 307.2 L354.1 306.6 L355.6 306.1 L357.1 305.6 L358.6 305.1 L360.1 304.7 L361.6 304.3 L363.1 304.0 L364.6 303.8 L366.1 303.6 L367.6 303.4 L369.1 303.2 L370.6 303.1 L372.1 303.0 L373.6 302.9 L375.1 302.8 L376.6 302.7 L378.1 302.6 L379.6 302.6 L381.1 302.6 L382.6 302.6 L384.1 302.6 L385.6 302.6 L387.1 302.6 L388.6 302.7 L390.1 302.9 L391.6 303.1 L393.1 303.3 L394.6 303.5 L396.1 303.8 L397.6 304.1 L399.1 304.5 L400.6 304.9 L402.1 305.3 L403.6 305.9 L405.1 306.4 L406.6 307.0 L408.1 307.5" fill="none" stroke="#A5142F" stroke-width="6" stroke-linejoin="round"/>
<path d="M150.11 379.20H408.08" stroke="#333" stroke-width="3" stroke-dasharray="3 3.11" fill="none"/>
<rect x="150.11" y="432.59" width="26.71" height="9.80" fill="#A5142F"/><path d="M152.24 432.59h1.97V442.39h-1.97zM156.34 432.59h1.97V442.39h-1.97zM160.44 432.59h1.97V442.39h-1.97zM164.53 432.59h1.97V442.39h-1.97zM168.63 432.59h1.97V442.39h-1.97zM172.73 432.59h1.97V442.39h-1.97z" fill="#000"/>
<rect x="184.21" y="432.59" width="223.87" height="9.80" fill="#A5142F"/><path d="M186.56 432.59h2.17V442.39h-2.17zM191.08 432.59h2.17V442.39h-2.17zM195.60 432.59h2.17V442.39h-2.17zM200.12 432.59h2.17V442.39h-2.17zM204.64 432.59h2.17V442.39h-2.17zM209.16 432.59h2.17V442.39h-2.17zM213.68 432.59h2.17V442.39h-2.17zM218.20 432.59h2.17V442.39h-2.17zM222.72 432.59h2.17V442.39h-2.17zM227.24 432.59h2.17V442.39h-2.17zM231.77 432.59h2.17V442.39h-2.17zM236.29 432.59h2.17V442.39h-2.17zM240.81 432.59h2.17V442.39h-2.17zM245.33 432.59h2.17V442.39h-2.17zM249.85 432.59h2.17V442.39h-2.17zM254.37 432.59h2.17V442.39h-2.17zM258.89 432.59h2.17V442.39h-2.17zM263.41 432.59h2.17V442.39h-2.17zM267.93 432.59h2.17V442.39h-2.17zM272.45 432.59h2.17V442.39h-2.17zM276.97 432.59h2.17V442.39h-2.17zM281.50 432.59h2.17V442.39h-2.17zM286.02 432.59h2.17V442.39h-2.17zM290.54 432.59h2.17V442.39h-2.17zM295.06 432.59h2.17V442.39h-2.17zM299.58 432.59h2.17V442.39h-2.17zM304.10 432.59h2.17V442.39h-2.17zM308.62 432.59h2.17V442.39h-2.17zM313.14 432.59h2.17V442.39h-2.17zM317.66 432.59h2.17V442.39h-2.17zM322.18 432.59h2.17V442.39h-2.17zM326.70 432.59h2.17V442.39h-2.17zM331.22 432.59h2.17V442.39h-2.17zM335.75 432.59h2.17V442.39h-2.17zM340.27 432.59h2.17V442.39h-2.17zM344.79 432.59h2.17V442.39h-2.17zM349.31 432.59h2.17V442.39h-2.17zM353.83 432.59h2.17V442.39h-2.17zM358.35 432.59h2.17V442.39h-2.17zM362.87 432.59h2.17V442.39h-2.17zM367.39 432.59h2.17V442.39h-2.17zM371.91 432.59h2.17V442.39h-2.17zM376.43 432.59h2.17V442.39h-2.17zM380.95 432.59h2.17V442.39h-2.17zM385.48 432.59h2.17V442.39h-2.17zM390.00 432.59h2.17V442.39h-2.17zM394.52 432.59h2.17V442.39h-2.17zM399.04 432.59h2.17V442.39h-2.17zM403.56 432.59h2.17V442.39h-2.17z" fill="#000"/>
<path d="M150.11 276.49V442.39H408.08" stroke="#505050" stroke-width="1" fill="none"/>
<path d="M150.11 284.31h2.7M150.11 315.79h2.7M150.11 347.50h2.7M150.11 379.20h2.7M150.11 410.69h2.7M150.11 442.39h2.7M150.11 442.39v-2.7M279.10 442.39v-2.7M408.08 442.39v-2.7" stroke="#505050" stroke-width="1" fill="none"/>
<text transform="translate(142.3 291.9) scale(1 1.065)" text-anchor="end" class="t">60</text>
<text transform="translate(142.3 323.4) scale(1 1.065)" text-anchor="end" class="t">40</text>
<text transform="translate(142.3 355.1) scale(1 1.065)" text-anchor="end" class="t">20</text>
<text transform="translate(142.3 386.8) scale(1 1.065)" text-anchor="end" class="t">0</text>
<text transform="translate(142.3 418.3) scale(1 1.065)" text-anchor="end" class="t">-20</text>
<text transform="translate(142.3 450.9) scale(1 1.065)" text-anchor="end" class="t">-40</text>
<text transform="translate(150.1 468.9) scale(1 1.065)" text-anchor="middle" class="t">0</text>
<text transform="translate(279.1 468.9) scale(1 1.065)" text-anchor="middle" class="t">50</text>
<text transform="translate(408.1 468.9) scale(1 1.065)" text-anchor="middle" class="t">100</text>
<text transform="translate(77.7 359.4) rotate(-90) scale(1 1.065)" text-anchor="middle" class="l">Hip</text>
<text transform="translate(104.6 359.4) rotate(-90) scale(1 1.065)" text-anchor="middle" class="l">Ext [Degrees] Flex</text>
</g>
<g id="hip_mom">
<path d="M522.9 326.4 L524.4 308.6 L525.9 294.2 L527.4 285.0 L528.9 282.1 L530.4 284.7 L531.9 290.8 L533.4 298.1 L534.9 305.3 L536.4 311.9 L537.9 317.8 L539.4 322.9 L540.9 327.2 L542.5 330.4 L544.0 332.2 L545.5 332.5 L547.0 332.0 L548.5 330.9 L550.0 329.5 L551.5 328.1 L553.0 326.9 L554.5 326.3 L556.0 326.4 L557.5 327.2 L559.0 328.5 L560.5 330.2 L562.0 332.1 L563.5 333.9 L565.0 335.8 L566.5 337.7 L568.0 339.4 L569.5 341.0 L571.0 342.5 L572.5 343.9 L574.0 345.1 L575.5 346.3 L577.0 347.4 L578.5 348.5 L580.0 349.5 L581.5 350.5 L583.0 351.4 L584.5 352.3 L586.0 353.1 L587.5 353.9 L589.0 354.7 L590.5 355.4 L592.0 356.1 L593.5 356.8 L595.0 357.4 L596.5 358.0 L598.0 358.6 L599.5 359.2 L601.0 359.7 L602.5 360.3 L604.0 360.9 L605.5 361.5 L607.0 362.1 L608.5 362.8 L610.0 363.7 L611.5 364.6 L613.0 365.6 L614.5 366.8 L616.0 368.0 L617.5 369.3 L619.0 370.6 L620.5 372.0 L622.0 373.5 L623.5 375.0 L625.0 376.6 L626.5 378.1 L628.0 379.7 L629.5 381.2 L631.0 382.7 L632.5 384.2 L634.0 385.7 L635.5 387.2 L637.0 388.6 L638.5 390.0 L640.0 391.4 L641.5 392.7 L643.0 393.8 L644.5 394.6 L646.0 395.2 L647.5 395.5 L649.0 395.6 L650.5 395.4 L652.0 394.9 L653.5 394.1 L655.0 392.9 L656.5 391.2 L658.0 389.1 L659.5 386.5 L661.0 383.8 L662.5 381.0 L664.0 378.3 L665.5 375.9 L667.0 373.8 L668.5 372.2 L670.0 370.9 L671.5 370.1 L673.0 369.7 L674.5 369.6 L676.0 369.7 L677.5 369.8 L679.0 369.9 L680.5 370.0 L682.0 370.1 L683.6 370.1 L685.1 370.0 L686.6 369.8 L688.1 369.5 L689.6 369.0 L691.1 368.4 L692.6 367.7 L694.1 366.9 L695.6 366.0 L697.1 365.0 L698.6 363.9 L700.1 362.8 L701.6 361.7 L703.1 360.6 L704.6 359.5 L706.1 358.4 L707.6 357.5 L709.1 356.7 L710.6 356.0 L712.1 355.4 L713.6 354.9 L715.1 354.5 L716.6 354.2 L718.1 353.9 L719.6 353.8 L721.1 353.7 L722.6 353.6 L724.1 353.6 L725.6 353.6 L727.1 353.6 L728.6 353.7 L730.1 353.7 L731.6 353.9 L733.1 354.0 L734.6 354.0 L736.1 354.0 L737.6 353.8 L739.1 353.4 L740.6 352.7 L742.1 351.8 L743.6 350.6 L745.1 349.2 L746.6 347.4 L748.1 345.2 L749.6 342.7 L751.1 340.1 L752.6 337.4 L754.1 334.7 L755.6 331.9 L757.1 329.1 L758.6 326.3 L760.1 323.8 L761.6 321.7 L763.1 320.0 L764.6 318.7 L766.1 317.8 L767.6 317.2 L769.1 317.0 L770.6 317.1 L772.1 317.5 L773.6 318.0 L775.1 318.8 L776.6 319.8 L778.1 321.0 L779.6 322.4 L781.1 323.9 L781.1 341.2 L779.6 340.2 L778.1 339.2 L776.6 338.4 L775.1 337.7 L773.6 337.2 L772.1 336.8 L770.6 336.5 L769.1 336.3 L767.6 336.4 L766.1 336.6 L764.6 337.1 L763.1 337.8 L761.6 338.8 L760.1 340.2 L758.6 341.9 L757.1 343.9 L755.6 346.0 L754.1 348.0 L752.6 350.0 L751.1 352.0 L749.6 353.9 L748.1 355.7 L746.6 357.2 L745.1 358.3 L743.6 359.1 L742.1 359.7 L740.6 360.2 L739.1 360.5 L737.6 360.6 L736.1 360.7 L734.6 360.6 L733.1 360.5 L731.6 360.4 L730.1 360.3 L728.6 360.2 L727.1 360.1 L725.6 360.1 L724.1 360.1 L722.6 360.2 L721.1 360.2 L719.6 360.3 L718.1 360.5 L716.6 360.8 L715.1 361.2 L713.6 361.7 L712.1 362.4 L710.6 363.1 L709.1 364.0 L707.6 365.1 L706.1 366.3 L704.6 367.6 L703.1 369.0 L701.6 370.5 L700.1 372.0 L698.6 373.6 L697.1 375.2 L695.6 376.9 L694.1 378.4 L692.6 379.9 L691.1 381.3 L689.6 382.5 L688.1 383.6 L686.6 384.4 L685.1 385.1 L683.6 385.5 L682.0 385.8 L680.5 386.1 L679.0 386.3 L677.5 386.4 L676.0 386.6 L674.5 386.8 L673.0 387.2 L671.5 388.0 L670.0 389.3 L668.5 391.0 L667.0 393.2 L665.5 395.8 L664.0 398.9 L662.5 402.3 L661.0 405.9 L659.5 409.5 L658.0 413.0 L656.5 416.1 L655.0 418.7 L653.5 420.8 L652.0 422.1 L650.5 422.9 L649.0 423.0 L647.5 422.5 L646.0 421.6 L644.5 420.2 L643.0 418.4 L641.5 416.4 L640.0 414.2 L638.5 411.9 L637.0 409.7 L635.5 407.4 L634.0 405.1 L632.5 402.8 L631.0 400.5 L629.5 398.2 L628.0 396.0 L626.5 393.8 L625.0 391.6 L623.5 389.4 L622.0 387.4 L620.5 385.5 L619.0 383.8 L617.5 382.2 L616.0 380.6 L614.5 379.2 L613.0 377.8 L611.5 376.6 L610.0 375.5 L608.5 374.5 L607.0 373.6 L605.5 372.9 L604.0 372.1 L602.5 371.5 L601.0 370.8 L599.5 370.2 L598.0 369.6 L596.5 369.0 L595.0 368.4 L593.5 367.8 L592.0 367.2 L590.5 366.7 L589.0 366.2 L587.5 365.7 L586.0 365.3 L584.5 364.8 L583.0 364.4 L581.5 363.9 L580.0 363.5 L578.5 363.0 L577.0 362.5 L575.5 361.9 L574.0 361.4 L572.5 360.9 L571.0 360.4 L569.5 359.9 L568.0 359.5 L566.5 359.1 L565.0 358.8 L563.5 358.5 L562.0 358.2 L560.5 357.8 L559.0 357.3 L557.5 356.8 L556.0 356.4 L554.5 356.3 L553.0 356.3 L551.5 356.4 L550.0 356.5 L548.5 356.5 L547.0 356.3 L545.5 356.0 L544.0 355.3 L542.5 353.8 L540.9 351.5 L539.4 348.5 L537.9 345.2 L536.4 341.7 L534.9 337.8 L533.4 333.6 L531.9 329.3 L530.4 325.6 L528.9 324.0 L527.4 325.9 L525.9 331.7 L524.4 340.5 L522.9 350.7Z" fill="#404040" fill-opacity="0.2"/>
<path d="M522.9 338.5 L524.4 324.5 L525.9 313.0 L527.4 305.5 L528.9 303.1 L530.4 305.2 L531.9 310.0 L533.4 315.8 L534.9 321.6 L536.4 326.8 L537.9 331.5 L539.4 335.7 L540.9 339.3 L542.5 342.1 L544.0 343.7 L545.5 344.3 L547.0 344.2 L548.5 343.7 L550.0 343.0 L551.5 342.3 L553.0 341.6 L554.5 341.3 L556.0 341.4 L557.5 342.0 L559.0 342.9 L560.5 344.0 L562.0 345.1 L563.5 346.2 L565.0 347.3 L566.5 348.4 L568.0 349.5 L569.5 350.5 L571.0 351.5 L572.5 352.4 L574.0 353.3 L575.5 354.1 L577.0 355.0 L578.5 355.7 L580.0 356.5 L581.5 357.2 L583.0 357.9 L584.5 358.6 L586.0 359.2 L587.5 359.8 L589.0 360.5 L590.5 361.1 L592.0 361.7 L593.5 362.3 L595.0 362.9 L596.5 363.5 L598.0 364.1 L599.5 364.7 L601.0 365.3 L602.5 365.9 L604.0 366.5 L605.5 367.2 L607.0 367.9 L608.5 368.7 L610.0 369.6 L611.5 370.6 L613.0 371.7 L614.5 373.0 L616.0 374.3 L617.5 375.7 L619.0 377.2 L620.5 378.8 L622.0 380.5 L623.5 382.2 L625.0 384.1 L626.5 386.0 L628.0 387.8 L629.5 389.7 L631.0 391.6 L632.5 393.5 L634.0 395.4 L635.5 397.3 L637.0 399.1 L638.5 401.0 L640.0 402.8 L641.5 404.5 L643.0 406.1 L644.5 407.4 L646.0 408.4 L647.5 409.0 L649.0 409.3 L650.5 409.1 L652.0 408.5 L653.5 407.4 L655.0 405.8 L656.5 403.7 L658.0 401.0 L659.5 398.0 L661.0 394.9 L662.5 391.7 L664.0 388.6 L665.5 385.8 L667.0 383.5 L668.5 381.6 L670.0 380.1 L671.5 379.1 L673.0 378.5 L674.5 378.2 L676.0 378.1 L677.5 378.1 L679.0 378.1 L680.5 378.0 L682.0 377.9 L683.6 377.8 L685.1 377.5 L686.6 377.1 L688.1 376.5 L689.6 375.8 L691.1 374.8 L692.6 373.8 L694.1 372.7 L695.6 371.4 L697.1 370.1 L698.6 368.7 L700.1 367.4 L701.6 366.1 L703.1 364.8 L704.6 363.6 L706.1 362.4 L707.6 361.3 L709.1 360.3 L710.6 359.6 L712.1 358.9 L713.6 358.3 L715.1 357.8 L716.6 357.5 L718.1 357.2 L719.6 357.1 L721.1 357.0 L722.6 356.9 L724.1 356.9 L725.6 356.8 L727.1 356.9 L728.6 356.9 L730.1 357.0 L731.6 357.1 L733.1 357.2 L734.6 357.3 L736.1 357.4 L737.6 357.2 L739.1 356.9 L740.6 356.4 L742.1 355.7 L743.6 354.9 L745.1 353.7 L746.6 352.3 L748.1 350.5 L749.6 348.3 L751.1 346.1 L752.6 343.7 L754.1 341.4 L755.6 338.9 L757.1 336.5 L758.6 334.1 L760.1 332.0 L761.6 330.2 L763.1 328.9 L764.6 327.9 L766.1 327.2 L767.6 326.8 L769.1 326.7 L770.6 326.8 L772.1 327.1 L773.6 327.6 L775.1 328.3 L776.6 329.1 L778.1 330.1 L779.6 331.3 L781.1 332.5" fill="none" stroke="#404040" stroke-width="6" stroke-linejoin="round"/>
<path d="M522.9 338.2 L524.4 337.1 L525.9 336.6 L527.4 336.8 L528.9 337.7 L530.4 339.1 L531.9 340.8 L533.4 342.8 L534.9 344.9 L536.4 346.9 L537.9 348.8 L539.4 350.6 L540.9 352.3 L542.5 353.8 L544.0 355.1 L545.5 356.4 L547.0 357.5 L548.5 358.5 L550.0 359.4 L551.5 360.2 L553.0 360.9 L554.5 361.6 L556.0 362.2 L557.5 362.7 L559.0 363.2 L560.5 363.6 L562.0 363.9 L563.5 364.2 L565.0 364.5 L566.5 364.7 L568.0 364.9 L569.5 365.0 L571.0 365.1 L572.5 365.1 L574.0 365.2 L575.5 365.3 L577.0 365.4 L578.5 365.5 L580.0 365.6 L581.5 365.8 L583.0 365.9 L584.5 366.1 L586.0 366.2 L587.5 366.3 L589.0 366.4 L590.5 366.4 L592.0 366.4 L593.5 366.4 L595.0 366.3 L596.5 366.3 L598.0 366.3 L599.5 366.2 L601.0 366.2 L602.5 366.2 L604.0 366.3 L605.5 366.3 L607.0 366.3 L608.5 366.4 L610.0 366.6 L611.5 366.7 L613.0 367.0 L614.5 367.3 L616.0 367.6 L617.5 368.0 L619.0 368.4 L620.5 368.8 L622.0 369.3 L623.5 369.8 L625.0 370.4 L626.5 370.9 L628.0 371.5 L629.5 372.1 L631.0 372.8 L632.5 373.4 L634.0 374.1 L635.5 374.8 L637.0 375.5 L638.5 376.1 L640.0 376.7 L641.5 377.2 L643.0 377.7 L644.5 378.1 L646.0 378.5 L647.5 378.9 L649.0 379.2 L650.5 379.3 L652.0 379.4 L653.5 379.2 L655.0 379.0 L656.5 378.5 L658.0 377.6 L659.5 376.4 L661.0 374.9 L662.5 373.1 L664.0 371.1 L665.5 368.8 L667.0 366.5 L668.5 364.3 L670.0 362.3 L671.5 360.7 L673.0 359.8 L674.5 359.5 L676.0 359.7 L677.5 360.3 L679.0 361.2 L680.5 362.1 L682.0 362.9 L683.6 363.5 L685.1 364.0 L686.6 364.3 L688.1 364.4 L689.6 364.3 L691.1 363.9 L692.6 363.3 L694.1 362.6 L695.6 361.7 L697.1 360.8 L698.6 359.8 L700.1 358.8 L701.6 357.7 L703.1 356.8 L704.6 355.9 L706.1 355.1 L707.6 354.3 L709.1 353.6 L710.6 353.1 L712.1 352.6 L713.6 352.3 L715.1 352.0 L716.6 351.8 L718.1 351.7 L719.6 351.6 L721.1 351.7 L722.6 351.9 L724.1 352.1 L725.6 352.3 L727.1 352.5 L728.6 352.8 L730.1 353.0 L731.6 353.2 L733.1 353.3 L734.6 353.5 L736.1 353.6 L737.6 353.6 L739.1 353.4 L740.6 353.0 L742.1 352.3 L743.6 351.3 L745.1 350.0 L746.6 348.3 L748.1 346.2 L749.6 344.0 L751.1 341.6 L752.6 339.3 L754.1 336.9 L755.6 334.7 L757.1 332.5 L758.6 330.6 L760.1 328.9 L761.6 327.6 L763.1 326.5 L764.6 326.0 L766.1 326.0 L767.6 326.5 L769.1 327.7 L770.6 329.3 L772.1 331.2 L773.6 333.0 L775.1 334.8 L776.6 336.6 L778.1 338.3 L779.6 340.0 L781.1 341.6 L781.1 359.0 L779.6 356.9 L778.1 354.8 L776.6 352.7 L775.1 350.6 L773.6 348.4 L772.1 346.2 L770.6 344.0 L769.1 342.0 L767.6 340.5 L766.1 339.6 L764.6 339.3 L763.1 339.4 L761.6 340.0 L760.1 340.8 L758.6 342.0 L757.1 343.4 L755.6 344.9 L754.1 346.6 L752.6 348.4 L751.1 350.2 L749.6 352.1 L748.1 353.8 L746.6 355.3 L745.1 356.6 L743.6 357.5 L742.1 358.2 L740.6 358.6 L739.1 358.9 L737.6 358.9 L736.1 358.8 L734.6 358.7 L733.1 358.5 L731.6 358.4 L730.1 358.2 L728.6 358.0 L727.1 357.7 L725.6 357.5 L724.1 357.3 L722.6 357.1 L721.1 356.9 L719.6 356.9 L718.1 357.0 L716.6 357.2 L715.1 357.5 L713.6 357.9 L712.1 358.3 L710.6 358.9 L709.1 359.6 L707.6 360.4 L706.1 361.3 L704.6 362.3 L703.1 363.4 L701.6 364.6 L700.1 365.8 L698.6 367.1 L697.1 368.4 L695.6 369.6 L694.1 370.6 L692.6 371.6 L691.1 372.3 L689.6 372.8 L688.1 373.0 L686.6 373.0 L685.1 372.7 L683.6 372.2 L682.0 371.5 L680.5 370.8 L679.0 369.9 L677.5 369.0 L676.0 368.4 L674.5 368.2 L673.0 368.6 L671.5 369.8 L670.0 371.8 L668.5 374.4 L667.0 377.5 L665.5 380.8 L664.0 384.1 L662.5 387.2 L661.0 390.0 L659.5 392.4 L658.0 394.3 L656.5 395.8 L655.0 397.0 L653.5 397.7 L652.0 398.2 L650.5 398.4 L649.0 398.3 L647.5 397.9 L646.0 397.3 L644.5 396.6 L643.0 395.8 L641.5 394.9 L640.0 394.1 L638.5 393.3 L637.0 392.4 L635.5 391.5 L634.0 390.7 L632.5 389.8 L631.0 389.0 L629.5 388.3 L628.0 387.5 L626.5 386.8 L625.0 386.1 L623.5 385.4 L622.0 384.8 L620.5 384.2 L619.0 383.6 L617.5 383.0 L616.0 382.5 L614.5 382.0 L613.0 381.5 L611.5 381.1 L610.0 380.7 L608.5 380.4 L607.0 380.2 L605.5 380.0 L604.0 379.8 L602.5 379.6 L601.0 379.5 L599.5 379.4 L598.0 379.4 L596.5 379.4 L595.0 379.5 L593.5 379.7 L592.0 379.9 L590.5 380.2 L589.0 380.6 L587.5 381.0 L586.0 381.4 L584.5 381.8 L583.0 382.3 L581.5 382.7 L580.0 383.1 L578.5 383.5 L577.0 383.8 L575.5 384.1 L574.0 384.3 L572.5 384.4 L571.0 384.5 L569.5 384.5 L568.0 384.4 L566.5 384.2 L565.0 384.0 L563.5 383.7 L562.0 383.4 L560.5 383.1 L559.0 382.7 L557.5 382.3 L556.0 381.7 L554.5 381.1 L553.0 380.4 L551.5 379.8 L550.0 379.1 L548.5 378.4 L547.0 377.7 L545.5 377.1 L544.0 376.4 L542.5 375.7 L540.9 375.0 L539.4 374.3 L537.9 373.5 L536.4 372.7 L534.9 371.8 L533.4 370.8 L531.9 369.6 L530.4 368.4 L528.9 367.1 L527.4 365.8 L525.9 364.9 L524.4 364.3 L522.9 364.0Z" fill="#A5142F" fill-opacity="0.2"/>
<path d="M522.9 351.1 L524.4 350.7 L525.9 350.7 L527.4 351.3 L528.9 352.4 L530.4 353.7 L531.9 355.2 L533.4 356.8 L534.9 358.3 L536.4 359.8 L537.9 361.2 L539.4 362.4 L540.9 363.6 L542.5 364.7 L544.0 365.8 L545.5 366.7 L547.0 367.6 L548.5 368.5 L550.0 369.2 L551.5 370.0 L553.0 370.7 L554.5 371.3 L556.0 371.9 L557.5 372.5 L559.0 372.9 L560.5 373.3 L562.0 373.7 L563.5 374.0 L565.0 374.2 L566.5 374.5 L568.0 374.6 L569.5 374.8 L571.0 374.8 L572.5 374.8 L574.0 374.7 L575.5 374.7 L577.0 374.6 L578.5 374.5 L580.0 374.4 L581.5 374.2 L583.0 374.1 L584.5 374.0 L586.0 373.8 L587.5 373.6 L589.0 373.5 L590.5 373.3 L592.0 373.2 L593.5 373.0 L595.0 372.9 L596.5 372.9 L598.0 372.8 L599.5 372.8 L601.0 372.9 L602.5 372.9 L604.0 373.0 L605.5 373.1 L607.0 373.3 L608.5 373.4 L610.0 373.6 L611.5 373.9 L613.0 374.3 L614.5 374.7 L616.0 375.1 L617.5 375.5 L619.0 376.0 L620.5 376.5 L622.0 377.0 L623.5 377.6 L625.0 378.2 L626.5 378.9 L628.0 379.5 L629.5 380.2 L631.0 380.9 L632.5 381.6 L634.0 382.4 L635.5 383.2 L637.0 383.9 L638.5 384.7 L640.0 385.4 L641.5 386.1 L643.0 386.7 L644.5 387.4 L646.0 387.9 L647.5 388.4 L649.0 388.7 L650.5 388.9 L652.0 388.8 L653.5 388.5 L655.0 388.0 L656.5 387.2 L658.0 386.0 L659.5 384.4 L661.0 382.5 L662.5 380.2 L664.0 377.6 L665.5 374.8 L667.0 372.0 L668.5 369.3 L670.0 367.0 L671.5 365.3 L673.0 364.2 L674.5 363.8 L676.0 364.0 L677.5 364.7 L679.0 365.5 L680.5 366.4 L682.0 367.2 L683.6 367.8 L685.1 368.3 L686.6 368.6 L688.1 368.7 L689.6 368.5 L691.1 368.1 L692.6 367.4 L694.1 366.6 L695.6 365.7 L697.1 364.6 L698.6 363.5 L700.1 362.3 L701.6 361.2 L703.1 360.1 L704.6 359.1 L706.1 358.2 L707.6 357.3 L709.1 356.6 L710.6 356.0 L712.1 355.5 L713.6 355.1 L715.1 354.8 L716.6 354.5 L718.1 354.3 L719.6 354.3 L721.1 354.3 L722.6 354.5 L724.1 354.7 L725.6 354.9 L727.1 355.1 L728.6 355.4 L730.1 355.6 L731.6 355.8 L733.1 355.9 L734.6 356.1 L736.1 356.2 L737.6 356.2 L739.1 356.1 L740.6 355.8 L742.1 355.2 L743.6 354.4 L745.1 353.3 L746.6 351.8 L748.1 350.0 L749.6 348.0 L751.1 345.9 L752.6 343.9 L754.1 341.8 L755.6 339.8 L757.1 337.9 L758.6 336.3 L760.1 334.9 L761.6 333.8 L763.1 333.0 L764.6 332.6 L766.1 332.8 L767.6 333.5 L769.1 334.9 L770.6 336.7 L772.1 338.7 L773.6 340.7 L775.1 342.7 L776.6 344.6 L778.1 346.5 L779.6 348.4 L781.1 350.3" fill="none" stroke="#A5142F" stroke-width="6" stroke-linejoin="round"/>
<path d="M522.94 356.18H781.12" stroke="#333" stroke-width="3" stroke-dasharray="3 3.11" fill="none"/>
<rect x="522.94" y="432.59" width="82.51" height="9.80" fill="#A5142F"/><path d="M525.25 432.59h2.14V442.39h-2.14zM529.71 432.59h2.14V442.39h-2.14zM534.16 432.59h2.14V442.39h-2.14zM538.62 432.59h2.14V442.39h-2.14zM543.08 432.59h2.14V442.39h-2.14zM547.53 432.59h2.14V442.39h-2.14zM551.99 432.59h2.14V442.39h-2.14zM556.44 432.59h2.14V442.39h-2.14zM560.90 432.59h2.14V442.39h-2.14zM565.35 432.59h2.14V442.39h-2.14zM569.81 432.59h2.14V442.39h-2.14zM574.26 432.59h2.14V442.39h-2.14zM578.72 432.59h2.14V442.39h-2.14zM583.17 432.59h2.14V442.39h-2.14zM587.63 432.59h2.14V442.39h-2.14zM592.09 432.59h2.14V442.39h-2.14zM596.54 432.59h2.14V442.39h-2.14zM601.00 432.59h2.14V442.39h-2.14z" fill="#000"/>
<rect x="630.21" y="432.59" width="71.66" height="9.80" fill="#A5142F"/><path d="M632.46 432.59h2.08V442.39h-2.08zM636.80 432.59h2.08V442.39h-2.08zM641.14 432.59h2.08V442.39h-2.08zM645.47 432.59h2.08V442.39h-2.08zM649.81 432.59h2.08V442.39h-2.08zM654.15 432.59h2.08V442.39h-2.08zM658.49 432.59h2.08V442.39h-2.08zM662.82 432.59h2.08V442.39h-2.08zM667.16 432.59h2.08V442.39h-2.08zM671.50 432.59h2.08V442.39h-2.08zM675.84 432.59h2.08V442.39h-2.08zM680.17 432.59h2.08V442.39h-2.08zM684.51 432.59h2.08V442.39h-2.08zM688.85 432.59h2.08V442.39h-2.08zM693.19 432.59h2.08V442.39h-2.08zM697.53 432.59h2.08V442.39h-2.08z" fill="#000"/>
<rect x="764.40" y="432.59" width="16.72" height="9.80" fill="#A5142F"/><path d="M766.32 432.59h1.78V442.39h-1.78zM770.02 432.59h1.78V442.39h-1.78zM773.72 432.59h1.78V442.39h-1.78zM777.42 432.59h1.78V442.39h-1.78z" fill="#000"/>
<path d="M522.94 276.49V442.39H781.12" stroke="#505050" stroke-width="1" fill="none"/>
<path d="M522.94 294.51h2.7M522.94 325.35h2.7M522.94 356.18h2.7M522.94 387.02h2.7M522.94 417.85h2.7M522.94 442.39v-2.7M652.03 442.39v-2.7M781.12 442.39v-2.7" stroke="#505050" stroke-width="1" fill="none"/>
<text transform="translate(515.1 302.1) scale(1 1.065)" text-anchor="end" class="t">1</text>
<text transform="translate(515.1 332.9) scale(1 1.065)" text-anchor="end" class="t">0.5</text>
<text transform="translate(515.1 363.8) scale(1 1.065)" text-anchor="end" class="t">0</text>
<text transform="translate(515.1 394.6) scale(1 1.065)" text-anchor="end" class="t">-0.5</text>
<text transform="translate(515.1 425.5) scale(1 1.065)" text-anchor="end" class="t">-1</text>
<text transform="translate(522.9 468.9) scale(1 1.065)" text-anchor="middle" class="t">0</text>
<text transform="translate(652.0 468.9) scale(1 1.065)" text-anchor="middle" class="t">50</text>
<text transform="translate(781.1 468.9) scale(1 1.065)" text-anchor="middle" class="t">100</text>
<text transform="translate(445.4 359.4) rotate(-90) scale(1 1.065)" text-anchor="middle" class="l">Hip</text>
<text transform="translate(472.3 359.4) rotate(-90) scale(1 1.065)" text-anchor="middle" class="l">Flex [Nm/kg] Ext</text>
</g>
<g id="hip_pow">
<path d="M896.6 335.5 L898.1 327.4 L899.6 320.6 L901.1 315.8 L902.6 313.1 L904.1 312.4 L905.6 313.5 L907.1 315.9 L908.6 319.0 L910.1 322.5 L911.7 325.9 L913.2 329.1 L914.7 331.9 L916.2 334.3 L917.7 336.2 L919.2 337.6 L920.7 338.4 L922.2 338.6 L923.7 338.1 L925.2 337.0 L926.7 335.6 L928.2 334.0 L929.7 332.4 L931.2 331.0 L932.7 329.9 L934.2 329.0 L935.7 328.6 L937.2 328.4 L938.7 328.6 L940.2 329.1 L941.7 329.8 L943.2 330.7 L944.7 332.0 L946.2 333.4 L947.7 335.0 L949.2 336.5 L950.7 337.9 L952.2 339.1 L953.7 340.0 L955.2 340.8 L956.7 341.5 L958.2 342.2 L959.7 342.8 L961.2 343.5 L962.7 344.2 L964.2 344.9 L965.7 345.6 L967.2 346.4 L968.7 347.2 L970.2 348.0 L971.7 348.8 L973.2 349.6 L974.7 350.5 L976.3 351.3 L977.8 352.2 L979.3 353.0 L980.8 353.9 L982.3 354.8 L983.8 355.6 L985.3 356.5 L986.8 357.3 L988.3 358.1 L989.8 359.0 L991.3 359.8 L992.8 360.5 L994.3 361.2 L995.8 361.8 L997.3 362.3 L998.8 362.8 L1000.3 363.1 L1001.8 363.4 L1003.3 363.6 L1004.8 363.5 L1006.3 363.3 L1007.8 362.9 L1009.3 362.1 L1010.8 360.9 L1012.3 359.2 L1013.8 356.8 L1015.3 353.7 L1016.8 350.0 L1018.3 345.6 L1019.8 340.7 L1021.3 335.5 L1022.8 330.2 L1024.3 325.0 L1025.8 320.3 L1027.3 316.1 L1028.8 312.6 L1030.3 310.0 L1031.8 308.3 L1033.3 307.3 L1034.8 306.6 L1036.3 306.0 L1037.8 305.3 L1039.3 304.5 L1040.9 303.2 L1042.4 301.4 L1043.9 299.1 L1045.4 296.6 L1046.9 294.2 L1048.4 292.0 L1049.9 290.0 L1051.4 288.1 L1052.9 286.2 L1054.4 284.3 L1055.9 282.5 L1057.4 281.3 L1058.9 280.9 L1060.4 281.4 L1061.9 282.7 L1063.4 284.7 L1064.9 287.4 L1066.4 290.6 L1067.9 294.2 L1069.4 298.3 L1070.9 302.6 L1072.4 307.1 L1073.9 311.6 L1075.4 316.1 L1076.9 320.6 L1078.4 324.9 L1079.9 328.9 L1081.4 332.6 L1082.9 335.8 L1084.4 338.4 L1085.9 340.6 L1087.4 342.2 L1088.9 343.4 L1090.4 344.2 L1091.9 344.9 L1093.4 345.4 L1094.9 345.8 L1096.4 346.0 L1097.9 346.2 L1099.4 346.3 L1100.9 346.3 L1102.4 346.3 L1103.9 346.2 L1105.5 346.2 L1107.0 346.2 L1108.5 346.2 L1110.0 346.3 L1111.5 346.3 L1113.0 346.4 L1114.5 346.5 L1116.0 346.6 L1117.5 346.6 L1119.0 346.7 L1120.5 346.7 L1122.0 346.7 L1123.5 346.5 L1125.0 346.3 L1126.5 346.0 L1128.0 345.5 L1129.5 345.0 L1131.0 344.3 L1132.5 343.5 L1134.0 342.4 L1135.5 341.2 L1137.0 339.7 L1138.5 338.3 L1140.0 336.8 L1141.5 335.5 L1143.0 334.3 L1144.5 333.3 L1146.0 332.5 L1147.5 332.0 L1149.0 331.9 L1150.5 332.2 L1152.0 332.8 L1153.5 333.7 L1155.0 334.8 L1155.0 358.5 L1153.5 358.2 L1152.0 357.9 L1150.5 357.6 L1149.0 357.4 L1147.5 357.4 L1146.0 357.4 L1144.5 357.5 L1143.0 357.5 L1141.5 357.3 L1140.0 357.1 L1138.5 356.8 L1137.0 356.5 L1135.5 356.1 L1134.0 355.6 L1132.5 355.1 L1131.0 354.6 L1129.5 354.1 L1128.0 353.6 L1126.5 353.2 L1125.0 352.8 L1123.5 352.5 L1122.0 352.3 L1120.5 352.1 L1119.0 352.0 L1117.5 351.9 L1116.0 351.8 L1114.5 351.7 L1113.0 351.6 L1111.5 351.5 L1110.0 351.5 L1108.5 351.5 L1107.0 351.5 L1105.5 351.6 L1103.9 351.7 L1102.4 351.9 L1100.9 352.1 L1099.4 352.3 L1097.9 352.5 L1096.4 352.7 L1094.9 352.8 L1093.4 352.8 L1091.9 352.7 L1090.4 352.6 L1088.9 352.5 L1087.4 352.2 L1085.9 351.6 L1084.4 350.8 L1082.9 349.8 L1081.4 348.4 L1079.9 346.6 L1078.4 344.6 L1076.9 342.5 L1075.4 340.3 L1073.9 338.2 L1072.4 336.2 L1070.9 334.2 L1069.4 332.2 L1067.9 330.4 L1066.4 328.6 L1064.9 327.1 L1063.4 325.9 L1061.9 325.2 L1060.4 325.0 L1058.9 325.5 L1057.4 326.6 L1055.9 328.5 L1054.4 330.7 L1052.9 333.0 L1051.4 335.2 L1049.9 337.0 L1048.4 338.6 L1046.9 339.7 L1045.4 340.4 L1043.9 340.4 L1042.4 339.8 L1040.9 338.7 L1039.3 337.4 L1037.8 336.4 L1036.3 335.8 L1034.8 335.8 L1033.3 336.4 L1031.8 337.6 L1030.3 339.5 L1028.8 342.3 L1027.3 345.8 L1025.8 349.8 L1024.3 354.0 L1022.8 358.2 L1021.3 362.4 L1019.8 366.3 L1018.3 369.9 L1016.8 373.3 L1015.3 376.4 L1013.8 379.1 L1012.3 381.5 L1010.8 383.4 L1009.3 384.9 L1007.8 385.9 L1006.3 386.6 L1004.8 387.0 L1003.3 387.0 L1001.8 386.8 L1000.3 386.2 L998.8 385.5 L997.3 384.7 L995.8 383.8 L994.3 382.9 L992.8 381.9 L991.3 380.9 L989.8 379.9 L988.3 378.8 L986.8 377.8 L985.3 376.8 L983.8 375.8 L982.3 374.8 L980.8 373.8 L979.3 372.8 L977.8 371.9 L976.3 370.9 L974.7 370.1 L973.2 369.2 L971.7 368.4 L970.2 367.6 L968.7 366.9 L967.2 366.1 L965.7 365.5 L964.2 364.8 L962.7 364.3 L961.2 363.8 L959.7 363.3 L958.2 362.9 L956.7 362.5 L955.2 362.1 L953.7 361.8 L952.2 361.6 L950.7 361.5 L949.2 361.6 L947.7 361.8 L946.2 362.0 L944.7 362.4 L943.2 362.7 L941.7 363.1 L940.2 363.5 L938.7 363.8 L937.2 364.2 L935.7 364.5 L934.2 364.7 L932.7 364.9 L931.2 365.0 L929.7 365.0 L928.2 365.0 L926.7 365.1 L925.2 365.2 L923.7 365.4 L922.2 365.5 L920.7 365.2 L919.2 364.6 L917.7 363.6 L916.2 362.4 L914.7 361.0 L913.2 359.5 L911.7 358.1 L910.1 357.0 L908.6 356.2 L907.1 355.8 L905.6 355.5 L904.1 355.3 L902.6 354.9 L901.1 354.3 L899.6 353.5 L898.1 352.6 L896.6 351.6Z" fill="#404040" fill-opacity="0.2"/>
<path d="M896.6 343.6 L898.1 340.0 L899.6 337.1 L901.1 335.0 L902.6 334.0 L904.1 333.9 L905.6 334.5 L907.1 335.8 L908.6 337.6 L910.1 339.7 L911.7 342.0 L913.2 344.3 L914.7 346.4 L916.2 348.3 L917.7 349.9 L919.2 351.1 L920.7 351.8 L922.2 352.0 L923.7 351.8 L925.2 351.1 L926.7 350.3 L928.2 349.5 L929.7 348.7 L931.2 348.0 L932.7 347.4 L934.2 346.9 L935.7 346.5 L937.2 346.3 L938.7 346.2 L940.2 346.3 L941.7 346.4 L943.2 346.7 L944.7 347.2 L946.2 347.7 L947.7 348.4 L949.2 349.1 L950.7 349.7 L952.2 350.4 L953.7 350.9 L955.2 351.5 L956.7 352.0 L958.2 352.5 L959.7 353.1 L961.2 353.6 L962.7 354.2 L964.2 354.9 L965.7 355.5 L967.2 356.3 L968.7 357.0 L970.2 357.8 L971.7 358.6 L973.2 359.4 L974.7 360.3 L976.3 361.1 L977.8 362.0 L979.3 362.9 L980.8 363.8 L982.3 364.8 L983.8 365.7 L985.3 366.6 L986.8 367.5 L988.3 368.5 L989.8 369.4 L991.3 370.3 L992.8 371.2 L994.3 372.0 L995.8 372.8 L997.3 373.5 L998.8 374.1 L1000.3 374.7 L1001.8 375.1 L1003.3 375.3 L1004.8 375.3 L1006.3 375.0 L1007.8 374.4 L1009.3 373.5 L1010.8 372.2 L1012.3 370.3 L1013.8 367.9 L1015.3 365.0 L1016.8 361.6 L1018.3 357.8 L1019.8 353.5 L1021.3 349.0 L1022.8 344.2 L1024.3 339.5 L1025.8 335.0 L1027.3 330.9 L1028.8 327.5 L1030.3 324.8 L1031.8 323.0 L1033.3 321.8 L1034.8 321.2 L1036.3 320.9 L1037.8 320.8 L1039.3 320.9 L1040.9 320.9 L1042.4 320.6 L1043.9 319.8 L1045.4 318.5 L1046.9 317.0 L1048.4 315.3 L1049.9 313.5 L1051.4 311.6 L1052.9 309.6 L1054.4 307.5 L1055.9 305.5 L1057.4 304.0 L1058.9 303.2 L1060.4 303.2 L1061.9 303.9 L1063.4 305.3 L1064.9 307.2 L1066.4 309.6 L1067.9 312.3 L1069.4 315.3 L1070.9 318.4 L1072.4 321.6 L1073.9 324.9 L1075.4 328.2 L1076.9 331.5 L1078.4 334.7 L1079.9 337.8 L1081.4 340.5 L1082.9 342.8 L1084.4 344.6 L1085.9 346.1 L1087.4 347.2 L1088.9 347.9 L1090.4 348.4 L1091.9 348.8 L1093.4 349.1 L1094.9 349.3 L1096.4 349.4 L1097.9 349.4 L1099.4 349.3 L1100.9 349.2 L1102.4 349.1 L1103.9 349.0 L1105.5 348.9 L1107.0 348.8 L1108.5 348.8 L1110.0 348.9 L1111.5 348.9 L1113.0 349.0 L1114.5 349.1 L1116.0 349.2 L1117.5 349.3 L1119.0 349.3 L1120.5 349.4 L1122.0 349.5 L1123.5 349.5 L1125.0 349.5 L1126.5 349.6 L1128.0 349.6 L1129.5 349.5 L1131.0 349.5 L1132.5 349.3 L1134.0 349.0 L1135.5 348.6 L1137.0 348.1 L1138.5 347.6 L1140.0 347.0 L1141.5 346.4 L1143.0 345.9 L1144.5 345.4 L1146.0 344.9 L1147.5 344.7 L1149.0 344.7 L1150.5 344.9 L1152.0 345.4 L1153.5 346.0 L1155.0 346.6" fill="none" stroke="#404040" stroke-width="6" stroke-linejoin="round"/>
<path d="M896.6 342.7 L898.1 336.5 L899.6 333.1 L901.1 332.5 L902.6 333.9 L904.1 336.4 L905.6 339.1 L907.1 341.4 L908.6 343.2 L910.1 344.6 L911.7 345.7 L913.2 346.5 L914.7 347.2 L916.2 347.8 L917.7 348.2 L919.2 348.7 L920.7 349.0 L922.2 349.2 L923.7 349.4 L925.2 349.4 L926.7 349.1 L928.2 348.6 L929.7 347.8 L931.2 346.8 L932.7 345.7 L934.2 344.5 L935.7 343.1 L937.2 341.8 L938.7 340.6 L940.2 339.6 L941.7 338.8 L943.2 338.3 L944.7 337.9 L946.2 337.8 L947.7 337.8 L949.2 337.9 L950.7 338.1 L952.2 338.4 L953.7 338.8 L955.2 339.3 L956.7 339.9 L958.2 340.5 L959.7 341.1 L961.2 341.8 L962.7 342.5 L964.2 343.3 L965.7 344.0 L967.2 344.8 L968.7 345.5 L970.2 346.1 L971.7 346.6 L973.2 347.1 L974.7 347.5 L976.3 347.9 L977.8 348.3 L979.3 348.7 L980.8 349.0 L982.3 349.4 L983.8 349.7 L985.3 350.0 L986.8 350.4 L988.3 350.7 L989.8 351.0 L991.3 351.3 L992.8 351.6 L994.3 351.8 L995.8 352.0 L997.3 352.2 L998.8 352.3 L1000.3 352.3 L1001.8 352.3 L1003.3 352.2 L1004.8 352.2 L1006.3 352.0 L1007.8 351.8 L1009.3 351.4 L1010.8 351.0 L1012.3 350.4 L1013.8 349.8 L1015.3 349.0 L1016.8 348.0 L1018.3 346.7 L1019.8 345.2 L1021.3 343.4 L1022.8 341.4 L1024.3 339.3 L1025.8 337.0 L1027.3 334.7 L1028.8 332.5 L1030.3 330.4 L1031.8 328.4 L1033.3 326.7 L1034.8 325.5 L1036.3 324.7 L1037.8 324.6 L1039.3 325.1 L1040.9 326.1 L1042.4 327.3 L1043.9 328.6 L1045.4 329.7 L1046.9 330.5 L1048.4 330.7 L1049.9 330.3 L1051.4 329.2 L1052.9 327.7 L1054.4 325.8 L1055.9 323.6 L1057.4 321.4 L1058.9 319.4 L1060.4 317.5 L1061.9 316.0 L1063.4 315.0 L1064.9 314.7 L1066.4 315.1 L1067.9 316.2 L1069.4 317.9 L1070.9 320.2 L1072.4 322.8 L1073.9 325.5 L1075.4 328.3 L1076.9 331.2 L1078.4 333.9 L1079.9 336.5 L1081.4 338.8 L1082.9 340.9 L1084.4 342.8 L1085.9 344.2 L1087.4 345.3 L1088.9 346.2 L1090.4 347.0 L1091.9 347.6 L1093.4 348.0 L1094.9 348.4 L1096.4 348.6 L1097.9 348.7 L1099.4 348.8 L1100.9 348.8 L1102.4 348.8 L1103.9 348.8 L1105.5 348.8 L1107.0 348.8 L1108.5 348.8 L1110.0 348.7 L1111.5 348.7 L1113.0 348.6 L1114.5 348.5 L1116.0 348.3 L1117.5 348.2 L1119.0 347.9 L1120.5 347.6 L1122.0 347.2 L1123.5 346.6 L1125.0 345.8 L1126.5 344.8 L1128.0 343.8 L1129.5 342.7 L1131.0 341.4 L1132.5 339.9 L1134.0 338.2 L1135.5 336.5 L1137.0 334.8 L1138.5 333.1 L1140.0 331.6 L1141.5 330.3 L1143.0 329.5 L1144.5 329.0 L1146.0 329.1 L1147.5 329.5 L1149.0 330.4 L1150.5 331.8 L1152.0 333.6 L1153.5 335.7 L1155.0 338.0 L1155.0 357.5 L1153.5 356.1 L1152.0 354.9 L1150.5 353.9 L1149.0 353.1 L1147.5 352.7 L1146.0 352.5 L1144.5 352.5 L1143.0 352.9 L1141.5 353.5 L1140.0 354.2 L1138.5 355.0 L1137.0 355.6 L1135.5 356.2 L1134.0 356.8 L1132.5 357.1 L1131.0 357.2 L1129.5 357.1 L1128.0 356.7 L1126.5 356.2 L1125.0 355.6 L1123.5 355.1 L1122.0 354.7 L1120.5 354.3 L1119.0 354.0 L1117.5 353.8 L1116.0 353.6 L1114.5 353.5 L1113.0 353.3 L1111.5 353.3 L1110.0 353.2 L1108.5 353.2 L1107.0 353.3 L1105.5 353.4 L1103.9 353.5 L1102.4 353.7 L1100.9 353.9 L1099.4 354.1 L1097.9 354.3 L1096.4 354.5 L1094.9 354.7 L1093.4 354.7 L1091.9 354.7 L1090.4 354.5 L1088.9 354.3 L1087.4 353.9 L1085.9 353.4 L1084.4 352.7 L1082.9 351.8 L1081.4 350.7 L1079.9 349.4 L1078.4 347.9 L1076.9 346.2 L1075.4 344.4 L1073.9 342.6 L1072.4 340.8 L1070.9 339.1 L1069.4 337.6 L1067.9 336.5 L1066.4 335.9 L1064.9 335.9 L1063.4 336.4 L1061.9 337.4 L1060.4 338.8 L1058.9 340.5 L1057.4 342.3 L1055.9 344.3 L1054.4 346.2 L1052.9 347.8 L1051.4 349.2 L1049.9 350.1 L1048.4 350.4 L1046.9 350.1 L1045.4 349.3 L1043.9 348.1 L1042.4 346.9 L1040.9 345.6 L1039.3 344.6 L1037.8 344.0 L1036.3 344.0 L1034.8 344.5 L1033.3 345.5 L1031.8 346.8 L1030.3 348.4 L1028.8 350.0 L1027.3 351.8 L1025.8 353.6 L1024.3 355.4 L1022.8 357.0 L1021.3 358.5 L1019.8 359.7 L1018.3 360.8 L1016.8 361.6 L1015.3 362.2 L1013.8 362.7 L1012.3 363.1 L1010.8 363.3 L1009.3 363.5 L1007.8 363.7 L1006.3 363.7 L1004.8 363.7 L1003.3 363.6 L1001.8 363.5 L1000.3 363.4 L998.8 363.3 L997.3 363.1 L995.8 362.9 L994.3 362.7 L992.8 362.5 L991.3 362.2 L989.8 361.9 L988.3 361.6 L986.8 361.2 L985.3 360.9 L983.8 360.6 L982.3 360.2 L980.8 359.9 L979.3 359.5 L977.8 359.2 L976.3 358.8 L974.7 358.4 L973.2 358.0 L971.7 357.5 L970.2 357.0 L968.7 356.5 L967.2 356.0 L965.7 355.5 L964.2 354.9 L962.7 354.5 L961.2 354.1 L959.7 353.8 L958.2 353.6 L956.7 353.5 L955.2 353.5 L953.7 353.6 L952.2 354.0 L950.7 354.7 L949.2 355.8 L947.7 357.3 L946.2 359.1 L944.7 361.2 L943.2 363.4 L941.7 365.9 L940.2 368.4 L938.7 371.0 L937.2 373.7 L935.7 376.4 L934.2 379.0 L932.7 381.4 L931.2 383.5 L929.7 385.3 L928.2 386.8 L926.7 387.7 L925.2 388.2 L923.7 388.4 L922.2 388.3 L920.7 388.1 L919.2 387.8 L917.7 387.3 L916.2 386.9 L914.7 386.4 L913.2 385.9 L911.7 385.4 L910.1 384.7 L908.6 383.9 L907.1 382.6 L905.6 380.5 L904.1 377.4 L902.6 373.1 L901.1 368.0 L899.6 362.6 L898.1 357.9 L896.6 354.4Z" fill="#A5142F" fill-opacity="0.2"/>
<path d="M896.6 348.5 L898.1 347.2 L899.6 347.8 L901.1 350.2 L902.6 353.5 L904.1 356.9 L905.6 359.8 L907.1 362.0 L908.6 363.5 L910.1 364.7 L911.7 365.5 L913.2 366.2 L914.7 366.8 L916.2 367.3 L917.7 367.8 L919.2 368.2 L920.7 368.5 L922.2 368.8 L923.7 368.9 L925.2 368.8 L926.7 368.4 L928.2 367.7 L929.7 366.6 L931.2 365.2 L932.7 363.6 L934.2 361.7 L935.7 359.8 L937.2 357.7 L938.7 355.8 L940.2 354.0 L941.7 352.3 L943.2 350.8 L944.7 349.6 L946.2 348.5 L947.7 347.6 L949.2 346.9 L950.7 346.4 L952.2 346.2 L953.7 346.2 L955.2 346.4 L956.7 346.7 L958.2 347.0 L959.7 347.5 L961.2 348.0 L962.7 348.5 L964.2 349.1 L965.7 349.7 L967.2 350.4 L968.7 351.0 L970.2 351.6 L971.7 352.1 L973.2 352.5 L974.7 353.0 L976.3 353.4 L977.8 353.7 L979.3 354.1 L980.8 354.5 L982.3 354.8 L983.8 355.1 L985.3 355.5 L986.8 355.8 L988.3 356.1 L989.8 356.5 L991.3 356.8 L992.8 357.0 L994.3 357.3 L995.8 357.5 L997.3 357.7 L998.8 357.8 L1000.3 357.9 L1001.8 357.9 L1003.3 357.9 L1004.8 357.9 L1006.3 357.8 L1007.8 357.7 L1009.3 357.5 L1010.8 357.2 L1012.3 356.8 L1013.8 356.3 L1015.3 355.6 L1016.8 354.8 L1018.3 353.7 L1019.8 352.5 L1021.3 350.9 L1022.8 349.2 L1024.3 347.3 L1025.8 345.3 L1027.3 343.2 L1028.8 341.3 L1030.3 339.4 L1031.8 337.6 L1033.3 336.1 L1034.8 335.0 L1036.3 334.3 L1037.8 334.3 L1039.3 334.9 L1040.9 335.9 L1042.4 337.1 L1043.9 338.4 L1045.4 339.5 L1046.9 340.3 L1048.4 340.6 L1049.9 340.2 L1051.4 339.2 L1052.9 337.7 L1054.4 336.0 L1055.9 333.9 L1057.4 331.9 L1058.9 329.9 L1060.4 328.2 L1061.9 326.7 L1063.4 325.7 L1064.9 325.3 L1066.4 325.5 L1067.9 326.3 L1069.4 327.8 L1070.9 329.6 L1072.4 331.8 L1073.9 334.1 L1075.4 336.4 L1076.9 338.7 L1078.4 340.9 L1079.9 342.9 L1081.4 344.8 L1082.9 346.4 L1084.4 347.7 L1085.9 348.8 L1087.4 349.6 L1088.9 350.2 L1090.4 350.7 L1091.9 351.1 L1093.4 351.4 L1094.9 351.5 L1096.4 351.5 L1097.9 351.5 L1099.4 351.4 L1100.9 351.3 L1102.4 351.2 L1103.9 351.2 L1105.5 351.1 L1107.0 351.0 L1108.5 351.0 L1110.0 351.0 L1111.5 351.0 L1113.0 351.0 L1114.5 351.0 L1116.0 351.0 L1117.5 351.0 L1119.0 351.0 L1120.5 351.0 L1122.0 350.9 L1123.5 350.8 L1125.0 350.7 L1126.5 350.5 L1128.0 350.2 L1129.5 349.9 L1131.0 349.3 L1132.5 348.5 L1134.0 347.5 L1135.5 346.4 L1137.0 345.2 L1138.5 344.0 L1140.0 342.9 L1141.5 341.9 L1143.0 341.2 L1144.5 340.8 L1146.0 340.8 L1147.5 341.1 L1149.0 341.8 L1150.5 342.8 L1152.0 344.2 L1153.5 345.9 L1155.0 347.7" fill="none" stroke="#A5142F" stroke-width="6" stroke-linejoin="round"/>
<path d="M896.63 349.89H1155.03" stroke="#333" stroke-width="3" stroke-dasharray="3 3.11" fill="none"/>
<rect x="900.97" y="432.59" width="39.09" height="9.80" fill="#A5142F"/><path d="M903.36 432.59h2.20V442.39h-2.20zM907.94 432.59h2.20V442.39h-2.20zM912.53 432.59h2.20V442.39h-2.20zM917.12 432.59h2.20V442.39h-2.20zM921.71 432.59h2.20V442.39h-2.20zM926.29 432.59h2.20V442.39h-2.20zM930.88 432.59h2.20V442.39h-2.20zM935.47 432.59h2.20V442.39h-2.20z" fill="#000"/>
<rect x="958.95" y="432.59" width="57.11" height="9.80" fill="#A5142F"/><path d="M961.32 432.59h2.19V442.39h-2.19zM965.88 432.59h2.19V442.39h-2.19zM970.44 432.59h2.19V442.39h-2.19zM975.00 432.59h2.19V442.39h-2.19zM979.57 432.59h2.19V442.39h-2.19zM984.13 432.59h2.19V442.39h-2.19zM988.69 432.59h2.19V442.39h-2.19zM993.25 432.59h2.19V442.39h-2.19zM997.81 432.59h2.19V442.39h-2.19zM1002.37 432.59h2.19V442.39h-2.19zM1006.93 432.59h2.19V442.39h-2.19zM1011.50 432.59h2.19V442.39h-2.19z" fill="#000"/>
<rect x="1024.31" y="432.59" width="47.12" height="9.80" fill="#A5142F"/><path d="M1026.64 432.59h2.15V442.39h-2.15zM1031.12 432.59h2.15V442.39h-2.15zM1035.60 432.59h2.15V442.39h-2.15zM1040.07 432.59h2.15V442.39h-2.15zM1044.55 432.59h2.15V442.39h-2.15zM1049.03 432.59h2.15V442.39h-2.15zM1053.51 432.59h2.15V442.39h-2.15zM1057.99 432.59h2.15V442.39h-2.15zM1062.47 432.59h2.15V442.39h-2.15zM1066.95 432.59h2.15V442.39h-2.15z" fill="#000"/>
<path d="M896.63 276.49V442.39H1155.03" stroke="#505050" stroke-width="1" fill="none"/>
<path d="M896.63 309.06h2.7M896.63 349.89h2.7M896.63 391.14h2.7M896.63 431.97h2.7M896.63 442.39v-2.7M1025.83 442.39v-2.7M1155.03 442.39v-2.7" stroke="#505050" stroke-width="1" fill="none"/>
<text transform="translate(888.8 316.7) scale(1 1.065)" text-anchor="end" class="t">1</text>
<text transform="translate(888.8 357.5) scale(1 1.065)" text-anchor="end" class="t">0</text>
<text transform="translate(888.8 398.7) scale(1 1.065)" text-anchor="end" class="t">-1</text>
<text transform="translate(888.8 439.6) scale(1 1.065)" text-anchor="end" class="t">-2</text>
<text transform="translate(896.6 468.9) scale(1 1.065)" text-anchor="middle" class="t">0</text>
<text transform="translate(1025.8 468.9) scale(1 1.065)" text-anchor="middle" class="t">50</text>
<text transform="translate(1155.0 468.9) scale(1 1.065)" text-anchor="middle" class="t">100</text>
<text transform="translate(835.1 359.4) rotate(-90) scale(1 1.065)" text-anchor="middle" class="l">Hip</text>
<text transform="translate(862.0 359.4) rotate(-90) scale(1 1.065)" text-anchor="middle" class="l">Abs [W/kg] Gen</text>
</g>
<g id="hip_cor">
<path d="M1270.5 336.9 L1272.0 336.0 L1273.5 335.1 L1275.0 334.3 L1276.6 333.4 L1278.1 332.6 L1279.6 331.8 L1281.1 330.9 L1282.6 330.1 L1284.1 329.3 L1285.6 328.6 L1287.1 327.8 L1288.6 327.0 L1290.1 326.2 L1291.6 325.5 L1293.1 324.8 L1294.6 324.2 L1296.1 323.6 L1297.6 323.1 L1299.1 322.5 L1300.6 322.0 L1302.1 321.6 L1303.6 321.1 L1305.1 320.7 L1306.6 320.4 L1308.1 320.2 L1309.6 320.0 L1311.1 319.8 L1312.6 319.7 L1314.1 319.6 L1315.6 319.5 L1317.1 319.5 L1318.6 319.4 L1320.1 319.4 L1321.6 319.5 L1323.1 319.5 L1324.6 319.6 L1326.1 319.7 L1327.6 319.9 L1329.1 320.0 L1330.6 320.1 L1332.1 320.3 L1333.6 320.5 L1335.1 320.6 L1336.6 320.8 L1338.1 321.0 L1339.6 321.2 L1341.2 321.4 L1342.7 321.6 L1344.2 321.8 L1345.7 322.0 L1347.2 322.2 L1348.7 322.4 L1350.2 322.6 L1351.7 322.9 L1353.2 323.1 L1354.7 323.4 L1356.2 323.7 L1357.7 323.9 L1359.2 324.2 L1360.7 324.5 L1362.2 324.8 L1363.7 325.1 L1365.2 325.4 L1366.7 325.7 L1368.2 326.0 L1369.7 326.3 L1371.2 326.7 L1372.7 327.0 L1374.2 327.4 L1375.7 327.8 L1377.2 328.2 L1378.7 328.7 L1380.2 329.1 L1381.7 329.6 L1383.2 330.2 L1384.7 330.7 L1386.2 331.3 L1387.7 331.9 L1389.2 332.5 L1390.7 333.1 L1392.2 333.8 L1393.7 334.5 L1395.2 335.3 L1396.7 336.1 L1398.2 336.9 L1399.7 337.8 L1401.2 338.7 L1402.7 339.7 L1404.2 340.7 L1405.8 341.8 L1407.3 342.9 L1408.8 343.9 L1410.3 345.0 L1411.8 346.0 L1413.3 347.1 L1414.8 348.1 L1416.3 349.1 L1417.8 350.0 L1419.3 350.9 L1420.8 351.7 L1422.3 352.4 L1423.8 353.1 L1425.3 353.6 L1426.8 354.1 L1428.3 354.6 L1429.8 355.0 L1431.3 355.3 L1432.8 355.6 L1434.3 355.8 L1435.8 355.9 L1437.3 355.9 L1438.8 355.9 L1440.3 355.8 L1441.8 355.6 L1443.3 355.4 L1444.8 355.2 L1446.3 354.8 L1447.8 354.5 L1449.3 354.0 L1450.8 353.5 L1452.3 353.0 L1453.8 352.5 L1455.3 352.0 L1456.8 351.4 L1458.3 350.8 L1459.8 350.2 L1461.3 349.5 L1462.8 348.9 L1464.3 348.3 L1465.8 347.7 L1467.3 347.1 L1468.8 346.6 L1470.4 346.1 L1471.9 345.6 L1473.4 345.2 L1474.9 344.8 L1476.4 344.4 L1477.9 344.1 L1479.4 343.8 L1480.9 343.5 L1482.4 343.3 L1483.9 343.0 L1485.4 342.8 L1486.9 342.6 L1488.4 342.5 L1489.9 342.3 L1491.4 342.1 L1492.9 341.9 L1494.4 341.8 L1495.9 341.6 L1497.4 341.4 L1498.9 341.2 L1500.4 341.1 L1501.9 340.9 L1503.4 340.7 L1504.9 340.6 L1506.4 340.4 L1507.9 340.3 L1509.4 340.2 L1510.9 340.0 L1512.4 339.9 L1513.9 339.8 L1515.4 339.7 L1516.9 339.6 L1518.4 339.4 L1519.9 339.3 L1521.4 339.1 L1522.9 339.0 L1524.4 338.8 L1525.9 338.7 L1527.4 338.5 L1528.9 338.4 L1528.9 349.2 L1527.4 349.4 L1525.9 349.5 L1524.4 349.7 L1522.9 349.9 L1521.4 350.0 L1519.9 350.1 L1518.4 350.3 L1516.9 350.4 L1515.4 350.5 L1513.9 350.7 L1512.4 350.8 L1510.9 350.9 L1509.4 351.0 L1507.9 351.2 L1506.4 351.3 L1504.9 351.4 L1503.4 351.6 L1501.9 351.8 L1500.4 352.0 L1498.9 352.2 L1497.4 352.5 L1495.9 352.7 L1494.4 353.0 L1492.9 353.3 L1491.4 353.5 L1489.9 353.8 L1488.4 354.1 L1486.9 354.3 L1485.4 354.6 L1483.9 354.9 L1482.4 355.2 L1480.9 355.6 L1479.4 355.9 L1477.9 356.3 L1476.4 356.7 L1474.9 357.1 L1473.4 357.6 L1471.9 358.1 L1470.4 358.7 L1468.8 359.2 L1467.3 359.8 L1465.8 360.4 L1464.3 361.1 L1462.8 361.8 L1461.3 362.4 L1459.8 363.1 L1458.3 363.8 L1456.8 364.4 L1455.3 365.0 L1453.8 365.5 L1452.3 366.1 L1450.8 366.6 L1449.3 367.0 L1447.8 367.5 L1446.3 367.9 L1444.8 368.2 L1443.3 368.4 L1441.8 368.7 L1440.3 368.8 L1438.8 368.9 L1437.3 369.0 L1435.8 368.9 L1434.3 368.8 L1432.8 368.6 L1431.3 368.3 L1429.8 368.0 L1428.3 367.6 L1426.8 367.2 L1425.3 366.7 L1423.8 366.1 L1422.3 365.4 L1420.8 364.7 L1419.3 363.9 L1417.8 363.0 L1416.3 362.1 L1414.8 361.2 L1413.3 360.1 L1411.8 359.1 L1410.3 358.0 L1408.8 356.9 L1407.3 355.8 L1405.8 354.7 L1404.2 353.6 L1402.7 352.5 L1401.2 351.4 L1399.7 350.4 L1398.2 349.5 L1396.7 348.5 L1395.2 347.7 L1393.7 346.8 L1392.2 346.1 L1390.7 345.3 L1389.2 344.7 L1387.7 344.0 L1386.2 343.4 L1384.7 342.9 L1383.2 342.3 L1381.7 341.8 L1380.2 341.3 L1378.7 340.8 L1377.2 340.4 L1375.7 339.9 L1374.2 339.6 L1372.7 339.2 L1371.2 338.8 L1369.7 338.5 L1368.2 338.2 L1366.7 337.8 L1365.2 337.5 L1363.7 337.2 L1362.2 336.9 L1360.7 336.7 L1359.2 336.4 L1357.7 336.1 L1356.2 335.9 L1354.7 335.6 L1353.2 335.4 L1351.7 335.2 L1350.2 335.0 L1348.7 334.8 L1347.2 334.6 L1345.7 334.5 L1344.2 334.3 L1342.7 334.1 L1341.2 334.0 L1339.6 333.8 L1338.1 333.7 L1336.6 333.6 L1335.1 333.4 L1333.6 333.3 L1332.1 333.2 L1330.6 333.1 L1329.1 333.0 L1327.6 332.8 L1326.1 332.7 L1324.6 332.6 L1323.1 332.6 L1321.6 332.5 L1320.1 332.5 L1318.6 332.5 L1317.1 332.5 L1315.6 332.6 L1314.1 332.6 L1312.6 332.7 L1311.1 332.8 L1309.6 333.0 L1308.1 333.2 L1306.6 333.4 L1305.1 333.8 L1303.6 334.2 L1302.1 334.6 L1300.6 335.1 L1299.1 335.6 L1297.6 336.1 L1296.1 336.6 L1294.6 337.2 L1293.1 337.8 L1291.6 338.4 L1290.1 339.1 L1288.6 339.7 L1287.1 340.4 L1285.6 341.1 L1284.1 341.7 L1282.6 342.4 L1281.1 343.0 L1279.6 343.7 L1278.1 344.3 L1276.6 345.0 L1275.0 345.7 L1273.5 346.3 L1272.0 347.0 L1270.5 347.7Z" fill="#404040" fill-opacity="0.2"/>
<path d="M1270.5 342.3 L1272.0 341.5 L1273.5 340.7 L1275.0 340.0 L1276.6 339.2 L1278.1 338.5 L1279.6 337.7 L1281.1 337.0 L1282.6 336.3 L1284.1 335.5 L1285.6 334.8 L1287.1 334.1 L1288.6 333.4 L1290.1 332.7 L1291.6 332.0 L1293.1 331.3 L1294.6 330.7 L1296.1 330.1 L1297.6 329.6 L1299.1 329.1 L1300.6 328.6 L1302.1 328.1 L1303.6 327.6 L1305.1 327.3 L1306.6 326.9 L1308.1 326.7 L1309.6 326.5 L1311.1 326.3 L1312.6 326.2 L1314.1 326.1 L1315.6 326.0 L1317.1 326.0 L1318.6 326.0 L1320.1 326.0 L1321.6 326.0 L1323.1 326.0 L1324.6 326.1 L1326.1 326.2 L1327.6 326.3 L1329.1 326.5 L1330.6 326.6 L1332.1 326.7 L1333.6 326.9 L1335.1 327.0 L1336.6 327.2 L1338.1 327.3 L1339.6 327.5 L1341.2 327.7 L1342.7 327.8 L1344.2 328.0 L1345.7 328.2 L1347.2 328.4 L1348.7 328.6 L1350.2 328.8 L1351.7 329.0 L1353.2 329.3 L1354.7 329.5 L1356.2 329.8 L1357.7 330.0 L1359.2 330.3 L1360.7 330.6 L1362.2 330.9 L1363.7 331.2 L1365.2 331.4 L1366.7 331.8 L1368.2 332.1 L1369.7 332.4 L1371.2 332.7 L1372.7 333.1 L1374.2 333.5 L1375.7 333.9 L1377.2 334.3 L1378.7 334.7 L1380.2 335.2 L1381.7 335.7 L1383.2 336.2 L1384.7 336.8 L1386.2 337.4 L1387.7 337.9 L1389.2 338.6 L1390.7 339.2 L1392.2 339.9 L1393.7 340.7 L1395.2 341.5 L1396.7 342.3 L1398.2 343.2 L1399.7 344.1 L1401.2 345.1 L1402.7 346.1 L1404.2 347.2 L1405.8 348.3 L1407.3 349.4 L1408.8 350.4 L1410.3 351.5 L1411.8 352.6 L1413.3 353.6 L1414.8 354.6 L1416.3 355.6 L1417.8 356.5 L1419.3 357.4 L1420.8 358.2 L1422.3 358.9 L1423.8 359.6 L1425.3 360.1 L1426.8 360.7 L1428.3 361.1 L1429.8 361.5 L1431.3 361.8 L1432.8 362.1 L1434.3 362.3 L1435.8 362.4 L1437.3 362.4 L1438.8 362.4 L1440.3 362.3 L1441.8 362.1 L1443.3 361.9 L1444.8 361.7 L1446.3 361.3 L1447.8 361.0 L1449.3 360.5 L1450.8 360.1 L1452.3 359.5 L1453.8 359.0 L1455.3 358.5 L1456.8 357.9 L1458.3 357.3 L1459.8 356.6 L1461.3 356.0 L1462.8 355.3 L1464.3 354.7 L1465.8 354.1 L1467.3 353.5 L1468.8 352.9 L1470.4 352.4 L1471.9 351.9 L1473.4 351.4 L1474.9 351.0 L1476.4 350.5 L1477.9 350.2 L1479.4 349.8 L1480.9 349.5 L1482.4 349.3 L1483.9 349.0 L1485.4 348.7 L1486.9 348.5 L1488.4 348.3 L1489.9 348.0 L1491.4 347.8 L1492.9 347.6 L1494.4 347.4 L1495.9 347.2 L1497.4 346.9 L1498.9 346.7 L1500.4 346.5 L1501.9 346.3 L1503.4 346.2 L1504.9 346.0 L1506.4 345.9 L1507.9 345.7 L1509.4 345.6 L1510.9 345.5 L1512.4 345.4 L1513.9 345.2 L1515.4 345.1 L1516.9 345.0 L1518.4 344.9 L1519.9 344.7 L1521.4 344.6 L1522.9 344.4 L1524.4 344.3 L1525.9 344.1 L1527.4 344.0 L1528.9 343.8" fill="none" stroke="#404040" stroke-width="6" stroke-linejoin="round"/>
<path d="M1270.5 328.2 L1272.0 327.3 L1273.5 326.4 L1275.0 325.5 L1276.6 324.5 L1278.1 323.6 L1279.6 322.6 L1281.1 321.6 L1282.6 320.6 L1284.1 319.6 L1285.6 318.6 L1287.1 317.5 L1288.6 316.5 L1290.1 315.5 L1291.6 314.5 L1293.1 313.6 L1294.6 312.6 L1296.1 311.7 L1297.6 310.8 L1299.1 310.0 L1300.6 309.2 L1302.1 308.5 L1303.6 307.9 L1305.1 307.4 L1306.6 307.1 L1308.1 306.8 L1309.6 306.6 L1311.1 306.6 L1312.6 306.7 L1314.1 307.0 L1315.6 307.3 L1317.1 307.8 L1318.6 308.3 L1320.1 309.0 L1321.6 309.8 L1323.1 310.7 L1324.6 311.5 L1326.1 312.4 L1327.6 313.2 L1329.1 313.9 L1330.6 314.7 L1332.1 315.3 L1333.6 316.0 L1335.1 316.5 L1336.6 317.1 L1338.1 317.6 L1339.6 318.1 L1341.2 318.6 L1342.7 319.0 L1344.2 319.4 L1345.7 319.8 L1347.2 320.2 L1348.7 320.5 L1350.2 320.8 L1351.7 321.0 L1353.2 321.2 L1354.7 321.3 L1356.2 321.4 L1357.7 321.4 L1359.2 321.5 L1360.7 321.5 L1362.2 321.6 L1363.7 321.7 L1365.2 321.8 L1366.7 321.9 L1368.2 322.0 L1369.7 322.2 L1371.2 322.3 L1372.7 322.6 L1374.2 322.8 L1375.7 323.1 L1377.2 323.4 L1378.7 323.8 L1380.2 324.2 L1381.7 324.7 L1383.2 325.2 L1384.7 325.7 L1386.2 326.3 L1387.7 326.9 L1389.2 327.6 L1390.7 328.4 L1392.2 329.3 L1393.7 330.2 L1395.2 331.2 L1396.7 332.3 L1398.2 333.5 L1399.7 334.8 L1401.2 336.2 L1402.7 337.6 L1404.2 339.2 L1405.8 340.8 L1407.3 342.5 L1408.8 344.3 L1410.3 346.1 L1411.8 348.0 L1413.3 349.9 L1414.8 351.7 L1416.3 353.6 L1417.8 355.5 L1419.3 357.2 L1420.8 358.9 L1422.3 360.3 L1423.8 361.6 L1425.3 362.8 L1426.8 363.8 L1428.3 364.8 L1429.8 365.5 L1431.3 366.2 L1432.8 366.8 L1434.3 367.2 L1435.8 367.6 L1437.3 367.9 L1438.8 368.1 L1440.3 368.2 L1441.8 368.0 L1443.3 367.8 L1444.8 367.4 L1446.3 366.9 L1447.8 366.3 L1449.3 365.6 L1450.8 364.9 L1452.3 364.0 L1453.8 363.0 L1455.3 362.1 L1456.8 361.1 L1458.3 360.1 L1459.8 359.0 L1461.3 358.0 L1462.8 356.9 L1464.3 355.8 L1465.8 354.7 L1467.3 353.7 L1468.8 352.7 L1470.4 351.7 L1471.9 350.8 L1473.4 349.8 L1474.9 348.9 L1476.4 348.1 L1477.9 347.2 L1479.4 346.5 L1480.9 345.8 L1482.4 345.1 L1483.9 344.5 L1485.4 343.9 L1486.9 343.4 L1488.4 342.8 L1489.9 342.3 L1491.4 341.8 L1492.9 341.3 L1494.4 340.8 L1495.9 340.4 L1497.4 340.0 L1498.9 339.5 L1500.4 339.1 L1501.9 338.7 L1503.4 338.3 L1504.9 337.9 L1506.4 337.5 L1507.9 337.1 L1509.4 336.6 L1510.9 336.2 L1512.4 335.7 L1513.9 335.2 L1515.4 334.7 L1516.9 334.1 L1518.4 333.6 L1519.9 333.0 L1521.4 332.5 L1522.9 332.0 L1524.4 331.6 L1525.9 331.1 L1527.4 330.7 L1528.9 330.4 L1528.9 360.8 L1527.4 360.8 L1525.9 360.8 L1524.4 360.9 L1522.9 361.1 L1521.4 361.2 L1519.9 361.4 L1518.4 361.6 L1516.9 361.9 L1515.4 362.2 L1513.9 362.5 L1512.4 362.7 L1510.9 363.0 L1509.4 363.3 L1507.9 363.6 L1506.4 363.9 L1504.9 364.2 L1503.4 364.5 L1501.9 364.8 L1500.4 365.2 L1498.9 365.6 L1497.4 366.0 L1495.9 366.5 L1494.4 366.9 L1492.9 367.4 L1491.4 367.9 L1489.9 368.4 L1488.4 368.9 L1486.9 369.4 L1485.4 370.0 L1483.9 370.6 L1482.4 371.2 L1480.9 371.9 L1479.4 372.6 L1477.9 373.3 L1476.4 374.1 L1474.9 375.0 L1473.4 375.9 L1471.9 376.8 L1470.4 377.8 L1468.8 378.8 L1467.3 379.8 L1465.8 380.8 L1464.3 381.9 L1462.8 382.9 L1461.3 384.0 L1459.8 385.1 L1458.3 386.1 L1456.8 387.0 L1455.3 387.9 L1453.8 388.8 L1452.3 389.5 L1450.8 390.2 L1449.3 390.7 L1447.8 391.2 L1446.3 391.5 L1444.8 391.8 L1443.3 392.0 L1441.8 392.1 L1440.3 392.2 L1438.8 392.1 L1437.3 392.0 L1435.8 391.8 L1434.3 391.5 L1432.8 391.2 L1431.3 390.8 L1429.8 390.4 L1428.3 389.8 L1426.8 389.1 L1425.3 388.4 L1423.8 387.5 L1422.3 386.5 L1420.8 385.4 L1419.3 384.2 L1417.8 383.0 L1416.3 381.7 L1414.8 380.4 L1413.3 379.1 L1411.8 377.9 L1410.3 376.6 L1408.8 375.4 L1407.3 374.3 L1405.8 373.1 L1404.2 372.1 L1402.7 371.1 L1401.2 370.1 L1399.7 369.3 L1398.2 368.5 L1396.7 367.9 L1395.2 367.4 L1393.7 366.9 L1392.2 366.4 L1390.7 366.0 L1389.2 365.7 L1387.7 365.4 L1386.2 365.2 L1384.7 365.0 L1383.2 364.9 L1381.7 364.8 L1380.2 364.8 L1378.7 364.7 L1377.2 364.7 L1375.7 364.7 L1374.2 364.8 L1372.7 364.9 L1371.2 365.0 L1369.7 365.0 L1368.2 365.1 L1366.7 365.1 L1365.2 365.1 L1363.7 365.0 L1362.2 365.0 L1360.7 365.0 L1359.2 364.9 L1357.7 364.9 L1356.2 364.8 L1354.7 364.7 L1353.2 364.6 L1351.7 364.5 L1350.2 364.2 L1348.7 363.9 L1347.2 363.6 L1345.7 363.2 L1344.2 362.8 L1342.7 362.3 L1341.2 361.7 L1339.6 361.1 L1338.1 360.3 L1336.6 359.6 L1335.1 358.8 L1333.6 358.0 L1332.1 357.1 L1330.6 356.3 L1329.1 355.4 L1327.6 354.6 L1326.1 353.8 L1324.6 353.0 L1323.1 352.3 L1321.6 351.6 L1320.1 351.1 L1318.6 350.6 L1317.1 350.3 L1315.6 350.1 L1314.1 350.0 L1312.6 349.9 L1311.1 349.9 L1309.6 349.9 L1308.1 350.0 L1306.6 350.1 L1305.1 350.3 L1303.6 350.4 L1302.1 350.7 L1300.6 351.0 L1299.1 351.3 L1297.6 351.6 L1296.1 352.1 L1294.6 352.5 L1293.1 352.9 L1291.6 353.4 L1290.1 353.9 L1288.6 354.4 L1287.1 354.9 L1285.6 355.4 L1284.1 355.8 L1282.6 356.3 L1281.1 356.7 L1279.6 357.0 L1278.1 357.4 L1276.6 357.7 L1275.0 357.9 L1273.5 358.2 L1272.0 358.4 L1270.5 358.6Z" fill="#A5142F" fill-opacity="0.2"/>
<path d="M1270.5 343.4 L1272.0 342.8 L1273.5 342.3 L1275.0 341.7 L1276.6 341.1 L1278.1 340.5 L1279.6 339.8 L1281.1 339.2 L1282.6 338.5 L1284.1 337.7 L1285.6 337.0 L1287.1 336.2 L1288.6 335.4 L1290.1 334.7 L1291.6 333.9 L1293.1 333.2 L1294.6 332.6 L1296.1 331.9 L1297.6 331.2 L1299.1 330.6 L1300.6 330.1 L1302.1 329.6 L1303.6 329.2 L1305.1 328.8 L1306.6 328.6 L1308.1 328.4 L1309.6 328.3 L1311.1 328.2 L1312.6 328.3 L1314.1 328.5 L1315.6 328.7 L1317.1 329.0 L1318.6 329.5 L1320.1 330.0 L1321.6 330.7 L1323.1 331.5 L1324.6 332.3 L1326.1 333.1 L1327.6 333.9 L1329.1 334.7 L1330.6 335.5 L1332.1 336.2 L1333.6 337.0 L1335.1 337.7 L1336.6 338.3 L1338.1 339.0 L1339.6 339.6 L1341.2 340.1 L1342.7 340.6 L1344.2 341.1 L1345.7 341.5 L1347.2 341.9 L1348.7 342.2 L1350.2 342.5 L1351.7 342.7 L1353.2 342.9 L1354.7 343.0 L1356.2 343.1 L1357.7 343.1 L1359.2 343.2 L1360.7 343.3 L1362.2 343.3 L1363.7 343.4 L1365.2 343.4 L1366.7 343.5 L1368.2 343.5 L1369.7 343.6 L1371.2 343.7 L1372.7 343.7 L1374.2 343.8 L1375.7 343.9 L1377.2 344.1 L1378.7 344.3 L1380.2 344.5 L1381.7 344.8 L1383.2 345.1 L1384.7 345.4 L1386.2 345.7 L1387.7 346.2 L1389.2 346.7 L1390.7 347.2 L1392.2 347.9 L1393.7 348.6 L1395.2 349.3 L1396.7 350.1 L1398.2 351.0 L1399.7 352.0 L1401.2 353.2 L1402.7 354.4 L1404.2 355.6 L1405.8 357.0 L1407.3 358.4 L1408.8 359.9 L1410.3 361.4 L1411.8 362.9 L1413.3 364.5 L1414.8 366.1 L1416.3 367.6 L1417.8 369.2 L1419.3 370.7 L1420.8 372.2 L1422.3 373.4 L1423.8 374.6 L1425.3 375.6 L1426.8 376.5 L1428.3 377.3 L1429.8 377.9 L1431.3 378.5 L1432.8 379.0 L1434.3 379.4 L1435.8 379.7 L1437.3 380.0 L1438.8 380.1 L1440.3 380.2 L1441.8 380.1 L1443.3 379.9 L1444.8 379.6 L1446.3 379.2 L1447.8 378.7 L1449.3 378.2 L1450.8 377.5 L1452.3 376.8 L1453.8 375.9 L1455.3 375.0 L1456.8 374.0 L1458.3 373.1 L1459.8 372.0 L1461.3 371.0 L1462.8 369.9 L1464.3 368.8 L1465.8 367.8 L1467.3 366.7 L1468.8 365.7 L1470.4 364.7 L1471.9 363.8 L1473.4 362.8 L1474.9 361.9 L1476.4 361.1 L1477.9 360.3 L1479.4 359.5 L1480.9 358.8 L1482.4 358.2 L1483.9 357.5 L1485.4 356.9 L1486.9 356.4 L1488.4 355.8 L1489.9 355.3 L1491.4 354.8 L1492.9 354.3 L1494.4 353.9 L1495.9 353.4 L1497.4 353.0 L1498.9 352.6 L1500.4 352.2 L1501.9 351.8 L1503.4 351.4 L1504.9 351.0 L1506.4 350.7 L1507.9 350.3 L1509.4 350.0 L1510.9 349.6 L1512.4 349.2 L1513.9 348.8 L1515.4 348.4 L1516.9 348.0 L1518.4 347.6 L1519.9 347.2 L1521.4 346.9 L1522.9 346.5 L1524.4 346.3 L1525.9 346.0 L1527.4 345.8 L1528.9 345.6" fill="none" stroke="#A5142F" stroke-width="6" stroke-linejoin="round"/>
<path d="M1270.54 342.72H1528.94" stroke="#333" stroke-width="3" stroke-dasharray="3 3.11" fill="none"/>
<rect x="1344.37" y="432.59" width="23.45" height="9.80" fill="#A5142F"/><path d="M1346.58 432.59h2.04V442.39h-2.04zM1350.83 432.59h2.04V442.39h-2.04zM1355.08 432.59h2.04V442.39h-2.04zM1359.33 432.59h2.04V442.39h-2.04zM1363.57 432.59h2.04V442.39h-2.04z" fill="#000"/>
<rect x="1412.77" y="432.59" width="71.66" height="9.80" fill="#A5142F"/><path d="M1415.03 432.59h2.08V442.39h-2.08zM1419.36 432.59h2.08V442.39h-2.08zM1423.70 432.59h2.08V442.39h-2.08zM1428.04 432.59h2.08V442.39h-2.08zM1432.38 432.59h2.08V442.39h-2.08zM1436.71 432.59h2.08V442.39h-2.08zM1441.05 432.59h2.08V442.39h-2.08zM1445.39 432.59h2.08V442.39h-2.08zM1449.73 432.59h2.08V442.39h-2.08zM1454.07 432.59h2.08V442.39h-2.08zM1458.40 432.59h2.08V442.39h-2.08zM1462.74 432.59h2.08V442.39h-2.08zM1467.08 432.59h2.08V442.39h-2.08zM1471.42 432.59h2.08V442.39h-2.08zM1475.75 432.59h2.08V442.39h-2.08zM1480.09 432.59h2.08V442.39h-2.08z" fill="#000"/>
<path d="M1270.54 276.49V442.39H1528.94" stroke="#505050" stroke-width="1" fill="none"/>
<path d="M1270.54 276.49h2.7M1270.54 309.50h2.7M1270.54 342.72h2.7M1270.54 375.94h2.7M1270.54 409.17h2.7M1270.54 442.39h2.7M1270.54 442.39v-2.7M1399.74 442.39v-2.7M1528.94 442.39v-2.7" stroke="#505050" stroke-width="1" fill="none"/>
<text transform="translate(1262.7 284.1) scale(1 1.065)" text-anchor="end" class="t">20</text>
<text transform="translate(1262.7 317.1) scale(1 1.065)" text-anchor="end" class="t">10</text>
<text transform="translate(1262.7 350.3) scale(1 1.065)" text-anchor="end" class="t">0</text>
<text transform="translate(1262.7 383.5) scale(1 1.065)" text-anchor="end" class="t">-10</text>
<text transform="translate(1262.7 416.8) scale(1 1.065)" text-anchor="end" class="t">-20</text>
<text transform="translate(1262.7 450.9) scale(1 1.065)" text-anchor="end" class="t">-30</text>
<text transform="translate(1270.5 468.9) scale(1 1.065)" text-anchor="middle" class="t">0</text>
<text transform="translate(1399.7 468.9) scale(1 1.065)" text-anchor="middle" class="t">50</text>
<text transform="translate(1528.9 468.9) scale(1 1.065)" text-anchor="middle" class="t">100</text>
<text transform="translate(1198.0 359.4) rotate(-90) scale(1 1.065)" text-anchor="middle" class="l">Hip</text>
<text transform="translate(1224.9 359.4) rotate(-90) scale(1 1.065)" text-anchor="middle" class="l">Abd [Degrees] Add</text>
</g>
<g id="hip_tra">
<path d="M1643.8 310.9 L1645.3 308.9 L1646.8 307.0 L1648.3 305.2 L1649.8 303.5 L1651.3 302.0 L1652.8 300.5 L1654.3 299.2 L1655.8 297.9 L1657.3 296.8 L1658.8 295.7 L1660.3 294.9 L1661.8 294.1 L1663.3 293.6 L1664.8 293.1 L1666.3 292.8 L1667.8 292.6 L1669.3 292.5 L1670.8 292.5 L1672.3 292.7 L1673.9 292.9 L1675.4 293.2 L1676.9 293.6 L1678.4 293.9 L1679.9 294.3 L1681.4 294.7 L1682.9 295.1 L1684.4 295.5 L1685.9 296.0 L1687.4 296.4 L1688.9 296.8 L1690.4 297.3 L1691.9 297.7 L1693.4 298.2 L1694.9 298.6 L1696.4 298.9 L1697.9 299.3 L1699.4 299.5 L1700.9 299.7 L1702.4 299.9 L1703.9 299.9 L1705.4 300.0 L1706.9 300.0 L1708.4 299.9 L1709.9 299.9 L1711.4 299.8 L1712.9 299.7 L1714.4 299.6 L1715.9 299.5 L1717.4 299.4 L1718.9 299.3 L1720.4 299.1 L1721.9 299.0 L1723.4 298.9 L1724.9 298.7 L1726.4 298.6 L1727.9 298.4 L1729.4 298.3 L1730.9 298.1 L1732.4 298.0 L1733.9 297.8 L1735.4 297.6 L1736.9 297.5 L1738.5 297.3 L1740.0 297.2 L1741.5 297.0 L1743.0 296.9 L1744.5 296.8 L1746.0 296.7 L1747.5 296.7 L1749.0 296.7 L1750.5 296.8 L1752.0 296.9 L1753.5 297.1 L1755.0 297.3 L1756.5 297.5 L1758.0 297.8 L1759.5 298.2 L1761.0 298.7 L1762.5 299.2 L1764.0 299.8 L1765.5 300.5 L1767.0 301.1 L1768.5 301.7 L1770.0 302.3 L1771.5 302.9 L1773.0 303.4 L1774.5 303.9 L1776.0 304.3 L1777.5 304.7 L1779.0 305.0 L1780.5 305.3 L1782.0 305.5 L1783.5 305.7 L1785.0 305.9 L1786.5 306.0 L1788.0 306.0 L1789.5 306.0 L1791.0 305.9 L1792.5 305.8 L1794.0 305.7 L1795.5 305.5 L1797.0 305.3 L1798.5 305.1 L1800.0 304.8 L1801.5 304.6 L1803.1 304.5 L1804.6 304.3 L1806.1 304.1 L1807.6 304.0 L1809.1 303.9 L1810.6 303.7 L1812.1 303.6 L1813.6 303.5 L1815.1 303.3 L1816.6 303.2 L1818.1 302.9 L1819.6 302.6 L1821.1 302.3 L1822.6 301.8 L1824.1 301.3 L1825.6 300.8 L1827.1 300.1 L1828.6 299.4 L1830.1 298.6 L1831.6 297.8 L1833.1 296.8 L1834.6 295.9 L1836.1 294.9 L1837.6 293.9 L1839.1 292.9 L1840.6 292.0 L1842.1 291.0 L1843.6 290.1 L1845.1 289.3 L1846.6 288.5 L1848.1 287.7 L1849.6 287.0 L1851.1 286.4 L1852.6 285.9 L1854.1 285.5 L1855.6 285.2 L1857.1 285.2 L1858.6 285.4 L1860.1 285.8 L1861.6 286.4 L1863.1 287.3 L1864.6 288.4 L1866.1 289.7 L1867.7 291.3 L1869.2 293.1 L1870.7 295.0 L1872.2 296.9 L1873.7 298.9 L1875.2 300.7 L1876.7 302.5 L1878.2 304.3 L1879.7 305.9 L1881.2 307.4 L1882.7 308.7 L1884.2 310.0 L1885.7 311.1 L1887.2 312.0 L1888.7 312.8 L1890.2 313.5 L1891.7 313.9 L1893.2 314.3 L1894.7 314.5 L1896.2 314.5 L1897.7 314.5 L1899.2 314.4 L1900.7 314.2 L1902.2 314.0 L1902.2 366.1 L1900.7 366.4 L1899.2 366.7 L1897.7 366.9 L1896.2 366.9 L1894.7 366.8 L1893.2 366.5 L1891.7 366.1 L1890.2 365.4 L1888.7 364.4 L1887.2 363.2 L1885.7 361.6 L1884.2 359.8 L1882.7 357.7 L1881.2 355.4 L1879.7 352.8 L1878.2 350.1 L1876.7 347.2 L1875.2 344.1 L1873.7 341.0 L1872.2 337.8 L1870.7 334.7 L1869.2 331.8 L1867.7 329.0 L1866.1 326.6 L1864.6 324.6 L1863.1 323.0 L1861.6 321.8 L1860.1 321.0 L1858.6 320.4 L1857.1 320.0 L1855.6 319.8 L1854.1 319.8 L1852.6 319.9 L1851.1 320.1 L1849.6 320.4 L1848.1 320.9 L1846.6 321.4 L1845.1 322.0 L1843.6 322.7 L1842.1 323.5 L1840.6 324.4 L1839.1 325.4 L1837.6 326.5 L1836.1 327.6 L1834.6 328.7 L1833.1 329.8 L1831.6 330.9 L1830.1 332.0 L1828.6 333.0 L1827.1 333.9 L1825.6 334.7 L1824.1 335.5 L1822.6 336.1 L1821.1 336.7 L1819.6 337.2 L1818.1 337.6 L1816.6 337.9 L1815.1 338.1 L1813.6 338.2 L1812.1 338.4 L1810.6 338.5 L1809.1 338.6 L1807.6 338.7 L1806.1 338.9 L1804.6 339.0 L1803.1 339.2 L1801.5 339.5 L1800.0 339.7 L1798.5 340.0 L1797.0 340.2 L1795.5 340.5 L1794.0 340.7 L1792.5 340.9 L1791.0 341.1 L1789.5 341.2 L1788.0 341.3 L1786.5 341.4 L1785.0 341.4 L1783.5 341.3 L1782.0 341.3 L1780.5 341.1 L1779.0 340.9 L1777.5 340.7 L1776.0 340.4 L1774.5 340.0 L1773.0 339.6 L1771.5 339.2 L1770.0 338.7 L1768.5 338.2 L1767.0 337.7 L1765.5 337.1 L1764.0 336.6 L1762.5 336.0 L1761.0 335.5 L1759.5 335.1 L1758.0 334.7 L1756.5 334.4 L1755.0 334.2 L1753.5 334.0 L1752.0 333.9 L1750.5 333.7 L1749.0 333.7 L1747.5 333.6 L1746.0 333.7 L1744.5 333.7 L1743.0 333.8 L1741.5 334.0 L1740.0 334.1 L1738.5 334.3 L1736.9 334.5 L1735.4 334.6 L1733.9 334.8 L1732.4 335.0 L1730.9 335.2 L1729.4 335.3 L1727.9 335.5 L1726.4 335.6 L1724.9 335.7 L1723.4 335.7 L1721.9 335.8 L1720.4 335.8 L1718.9 335.8 L1717.4 335.8 L1715.9 335.8 L1714.4 335.8 L1712.9 335.8 L1711.4 335.7 L1709.9 335.7 L1708.4 335.7 L1706.9 335.7 L1705.4 335.7 L1703.9 335.7 L1702.4 335.8 L1700.9 335.8 L1699.4 335.9 L1697.9 336.0 L1696.4 336.1 L1694.9 336.2 L1693.4 336.3 L1691.9 336.4 L1690.4 336.5 L1688.9 336.6 L1687.4 336.7 L1685.9 336.8 L1684.4 336.8 L1682.9 336.9 L1681.4 336.9 L1679.9 336.9 L1678.4 336.9 L1676.9 336.9 L1675.4 336.9 L1673.9 336.9 L1672.3 337.1 L1670.8 337.4 L1669.3 337.8 L1667.8 338.4 L1666.3 339.2 L1664.8 340.0 L1663.3 341.0 L1661.8 342.0 L1660.3 343.1 L1658.8 344.2 L1657.3 345.4 L1655.8 346.6 L1654.3 347.9 L1652.8 349.3 L1651.3 350.7 L1649.8 352.2 L1648.3 353.7 L1646.8 355.3 L1645.3 356.9 L1643.8 358.6Z" fill="#404040" fill-opacity="0.2"/>
<path d="M1643.8 336.9 L1645.3 335.0 L1646.8 333.1 L1648.3 331.2 L1649.8 329.3 L1651.3 327.2 L1652.8 325.2 L1654.3 323.2 L1655.8 321.4 L1657.3 319.9 L1658.8 318.7 L1660.3 317.6 L1661.8 316.8 L1663.3 316.2 L1664.8 315.8 L1666.3 315.4 L1667.8 315.1 L1669.3 314.9 L1670.8 314.8 L1672.3 314.8 L1673.9 315.0 L1675.4 315.1 L1676.9 315.3 L1678.4 315.5 L1679.9 315.7 L1681.4 315.9 L1682.9 316.0 L1684.4 316.2 L1685.9 316.3 L1687.4 316.4 L1688.9 316.5 L1690.4 316.7 L1691.9 316.8 L1693.4 316.9 L1694.9 317.0 L1696.4 317.0 L1697.9 317.1 L1699.4 317.2 L1700.9 317.3 L1702.4 317.3 L1703.9 317.4 L1705.4 317.4 L1706.9 317.4 L1708.4 317.5 L1709.9 317.5 L1711.4 317.5 L1712.9 317.5 L1714.4 317.5 L1715.9 317.4 L1717.4 317.4 L1718.9 317.3 L1720.4 317.2 L1721.9 317.1 L1723.4 317.0 L1724.9 316.9 L1726.4 316.7 L1727.9 316.5 L1729.4 316.4 L1730.9 316.2 L1732.4 316.0 L1733.9 315.9 L1735.4 315.7 L1736.9 315.6 L1738.5 315.4 L1740.0 315.3 L1741.5 315.1 L1743.0 315.0 L1744.5 314.9 L1746.0 314.8 L1747.5 314.8 L1749.0 314.8 L1750.5 314.8 L1752.0 315.0 L1753.5 315.2 L1755.0 315.5 L1756.5 315.8 L1758.0 316.2 L1759.5 316.6 L1761.0 317.1 L1762.5 317.7 L1764.0 318.3 L1765.5 319.0 L1767.0 319.6 L1768.5 320.2 L1770.0 320.8 L1771.5 321.3 L1773.0 321.8 L1774.5 322.2 L1776.0 322.6 L1777.5 322.9 L1779.0 323.2 L1780.5 323.4 L1782.0 323.5 L1783.5 323.6 L1785.0 323.6 L1786.5 323.6 L1788.0 323.6 L1789.5 323.5 L1791.0 323.4 L1792.5 323.2 L1794.0 323.0 L1795.5 322.8 L1797.0 322.6 L1798.5 322.4 L1800.0 322.2 L1801.5 322.0 L1803.1 321.8 L1804.6 321.6 L1806.1 321.5 L1807.6 321.3 L1809.1 321.2 L1810.6 321.1 L1812.1 321.0 L1813.6 320.9 L1815.1 320.8 L1816.6 320.6 L1818.1 320.3 L1819.6 320.0 L1821.1 319.6 L1822.6 319.1 L1824.1 318.6 L1825.6 317.9 L1827.1 317.2 L1828.6 316.4 L1830.1 315.5 L1831.6 314.5 L1833.1 313.4 L1834.6 312.3 L1836.1 311.2 L1837.6 310.2 L1839.1 309.2 L1840.6 308.2 L1842.1 307.2 L1843.6 306.3 L1845.1 305.5 L1846.6 304.8 L1848.1 304.1 L1849.6 303.5 L1851.1 303.0 L1852.6 302.5 L1854.1 302.3 L1855.6 302.2 L1857.1 302.4 L1858.6 302.7 L1860.1 303.3 L1861.6 304.2 L1863.1 305.4 L1864.6 306.9 L1866.1 308.7 L1867.7 310.8 L1869.2 313.1 L1870.7 315.6 L1872.2 318.2 L1873.7 320.8 L1875.2 323.4 L1876.7 326.0 L1878.2 328.4 L1879.7 330.7 L1881.2 332.6 L1882.7 334.4 L1884.2 335.9 L1885.7 337.1 L1887.2 338.2 L1888.7 339.0 L1890.2 339.7 L1891.7 340.3 L1893.2 340.7 L1894.7 340.9 L1896.2 341.1 L1897.7 341.2 L1899.2 341.3 L1900.7 341.3 L1902.2 341.2" fill="none" stroke="#404040" stroke-width="6" stroke-linejoin="round"/>
<path d="M1643.8 293.7 L1645.3 293.2 L1646.8 293.0 L1648.3 293.2 L1649.8 293.8 L1651.3 294.8 L1652.8 296.2 L1654.3 297.8 L1655.8 299.7 L1657.3 301.8 L1658.8 303.9 L1660.3 305.9 L1661.8 307.4 L1663.3 308.4 L1664.8 308.8 L1666.3 308.9 L1667.8 308.6 L1669.3 308.2 L1670.8 307.8 L1672.3 307.2 L1673.9 306.7 L1675.4 306.2 L1676.9 305.6 L1678.4 305.1 L1679.9 304.6 L1681.4 304.1 L1682.9 303.7 L1684.4 303.4 L1685.9 303.2 L1687.4 303.0 L1688.9 302.8 L1690.4 302.7 L1691.9 302.7 L1693.4 302.6 L1694.9 302.5 L1696.4 302.5 L1697.9 302.4 L1699.4 302.3 L1700.9 302.2 L1702.4 302.0 L1703.9 301.9 L1705.4 301.7 L1706.9 301.5 L1708.4 301.3 L1709.9 301.2 L1711.4 301.0 L1712.9 300.8 L1714.4 300.6 L1715.9 300.4 L1717.4 300.2 L1718.9 300.0 L1720.4 299.8 L1721.9 299.6 L1723.4 299.4 L1724.9 299.2 L1726.4 299.0 L1727.9 298.8 L1729.4 298.6 L1730.9 298.5 L1732.4 298.3 L1733.9 298.1 L1735.4 297.9 L1736.9 297.8 L1738.5 297.6 L1740.0 297.5 L1741.5 297.4 L1743.0 297.2 L1744.5 297.1 L1746.0 297.0 L1747.5 297.0 L1749.0 296.9 L1750.5 296.8 L1752.0 296.8 L1753.5 296.8 L1755.0 296.8 L1756.5 296.8 L1758.0 296.9 L1759.5 297.0 L1761.0 297.2 L1762.5 297.5 L1764.0 297.7 L1765.5 298.0 L1767.0 298.4 L1768.5 298.8 L1770.0 299.3 L1771.5 299.9 L1773.0 300.6 L1774.5 301.3 L1776.0 302.1 L1777.5 302.9 L1779.0 303.6 L1780.5 304.2 L1782.0 304.8 L1783.5 305.3 L1785.0 305.8 L1786.5 306.3 L1788.0 306.7 L1789.5 307.1 L1791.0 307.5 L1792.5 307.9 L1794.0 308.3 L1795.5 308.7 L1797.0 309.1 L1798.5 309.5 L1800.0 310.1 L1801.5 310.7 L1803.1 311.5 L1804.6 312.5 L1806.1 313.6 L1807.6 314.9 L1809.1 316.5 L1810.6 318.2 L1812.1 320.2 L1813.6 322.2 L1815.1 324.2 L1816.6 325.9 L1818.1 327.5 L1819.6 328.8 L1821.1 329.9 L1822.6 330.8 L1824.1 331.6 L1825.6 332.2 L1827.1 332.7 L1828.6 333.1 L1830.1 333.3 L1831.6 333.4 L1833.1 333.4 L1834.6 333.1 L1836.1 332.6 L1837.6 331.9 L1839.1 331.0 L1840.6 330.0 L1842.1 328.8 L1843.6 327.5 L1845.1 326.1 L1846.6 324.6 L1848.1 323.2 L1849.6 321.7 L1851.1 320.4 L1852.6 319.2 L1854.1 318.2 L1855.6 317.3 L1857.1 316.5 L1858.6 316.0 L1860.1 315.6 L1861.6 315.4 L1863.1 315.3 L1864.6 315.4 L1866.1 315.7 L1867.7 316.0 L1869.2 316.5 L1870.7 317.0 L1872.2 317.7 L1873.7 318.4 L1875.2 319.1 L1876.7 319.8 L1878.2 320.4 L1879.7 320.9 L1881.2 321.2 L1882.7 321.3 L1884.2 321.2 L1885.7 320.7 L1887.2 319.9 L1888.7 318.6 L1890.2 316.9 L1891.7 314.8 L1893.2 312.4 L1894.7 309.8 L1896.2 307.0 L1897.7 304.3 L1899.2 301.6 L1900.7 299.2 L1902.2 296.8 L1902.2 362.7 L1900.7 364.2 L1899.2 365.4 L1897.7 366.4 L1896.2 367.1 L1894.7 367.6 L1893.2 367.9 L1891.7 368.1 L1890.2 368.2 L1888.7 368.2 L1887.2 368.2 L1885.7 368.1 L1884.2 368.0 L1882.7 367.9 L1881.2 367.7 L1879.7 367.5 L1878.2 367.2 L1876.7 366.9 L1875.2 366.5 L1873.7 366.1 L1872.2 365.6 L1870.7 365.1 L1869.2 364.7 L1867.7 364.3 L1866.1 363.9 L1864.6 363.5 L1863.1 363.3 L1861.6 363.2 L1860.1 363.2 L1858.6 363.4 L1857.1 363.8 L1855.6 364.5 L1854.1 365.3 L1852.6 366.2 L1851.1 367.3 L1849.6 368.3 L1848.1 369.3 L1846.6 370.3 L1845.1 371.3 L1843.6 372.2 L1842.1 373.0 L1840.6 373.7 L1839.1 374.3 L1837.6 374.8 L1836.1 375.2 L1834.6 375.5 L1833.1 375.6 L1831.6 375.7 L1830.1 375.6 L1828.6 375.4 L1827.1 375.1 L1825.6 374.7 L1824.1 374.2 L1822.6 373.7 L1821.1 373.2 L1819.6 372.6 L1818.1 371.9 L1816.6 371.2 L1815.1 370.5 L1813.6 369.8 L1812.1 369.0 L1810.6 368.3 L1809.1 367.7 L1807.6 367.2 L1806.1 366.8 L1804.6 366.5 L1803.1 366.4 L1801.5 366.4 L1800.0 366.5 L1798.5 366.8 L1797.0 367.2 L1795.5 367.6 L1794.0 368.0 L1792.5 368.4 L1791.0 368.6 L1789.5 368.7 L1788.0 368.6 L1786.5 368.5 L1785.0 368.2 L1783.5 368.0 L1782.0 367.6 L1780.5 367.3 L1779.0 367.0 L1777.5 366.6 L1776.0 366.2 L1774.5 365.8 L1773.0 365.4 L1771.5 365.0 L1770.0 364.7 L1768.5 364.3 L1767.0 364.0 L1765.5 363.7 L1764.0 363.4 L1762.5 363.2 L1761.0 362.9 L1759.5 362.7 L1758.0 362.5 L1756.5 362.3 L1755.0 362.1 L1753.5 362.0 L1752.0 361.9 L1750.5 361.9 L1749.0 361.9 L1747.5 362.0 L1746.0 362.1 L1744.5 362.2 L1743.0 362.4 L1741.5 362.5 L1740.0 362.7 L1738.5 362.9 L1736.9 363.0 L1735.4 363.1 L1733.9 363.2 L1732.4 363.3 L1730.9 363.3 L1729.4 363.3 L1727.9 363.3 L1726.4 363.2 L1724.9 363.1 L1723.4 363.1 L1721.9 363.0 L1720.4 363.0 L1718.9 362.9 L1717.4 362.9 L1715.9 363.0 L1714.4 363.0 L1712.9 363.1 L1711.4 363.3 L1709.9 363.4 L1708.4 363.6 L1706.9 363.8 L1705.4 364.0 L1703.9 364.3 L1702.4 364.5 L1700.9 364.7 L1699.4 364.9 L1697.9 365.0 L1696.4 365.2 L1694.9 365.3 L1693.4 365.5 L1691.9 365.6 L1690.4 365.7 L1688.9 365.9 L1687.4 366.0 L1685.9 366.0 L1684.4 366.1 L1682.9 366.1 L1681.4 366.1 L1679.9 366.0 L1678.4 365.9 L1676.9 365.7 L1675.4 365.4 L1673.9 365.2 L1672.3 364.9 L1670.8 364.6 L1669.3 364.4 L1667.8 364.2 L1666.3 364.2 L1664.8 364.2 L1663.3 364.2 L1661.8 364.4 L1660.3 364.5 L1658.8 364.7 L1657.3 364.8 L1655.8 364.9 L1654.3 364.9 L1652.8 364.8 L1651.3 364.6 L1649.8 364.4 L1648.3 364.1 L1646.8 363.7 L1645.3 363.3 L1643.8 362.9Z" fill="#A5142F" fill-opacity="0.2"/>
<path d="M1643.8 328.2 L1645.3 328.1 L1646.8 328.3 L1648.3 328.8 L1649.8 329.7 L1651.3 330.9 L1652.8 332.2 L1654.3 333.5 L1655.8 334.8 L1657.3 335.9 L1658.8 336.8 L1660.3 337.6 L1661.8 338.2 L1663.3 338.7 L1664.8 339.1 L1666.3 339.3 L1667.8 339.3 L1669.3 339.2 L1670.8 339.0 L1672.3 338.7 L1673.9 338.3 L1675.4 338.0 L1676.9 337.6 L1678.4 337.3 L1679.9 337.0 L1681.4 336.7 L1682.9 336.4 L1684.4 336.2 L1685.9 335.9 L1687.4 335.7 L1688.9 335.5 L1690.4 335.2 L1691.9 335.0 L1693.4 334.8 L1694.9 334.6 L1696.4 334.4 L1697.9 334.2 L1699.4 334.1 L1700.9 333.9 L1702.4 333.8 L1703.9 333.6 L1705.4 333.5 L1706.9 333.3 L1708.4 333.2 L1709.9 333.1 L1711.4 332.9 L1712.9 332.7 L1714.4 332.6 L1715.9 332.4 L1717.4 332.2 L1718.9 332.0 L1720.4 331.7 L1721.9 331.5 L1723.4 331.3 L1724.9 331.0 L1726.4 330.8 L1727.9 330.5 L1729.4 330.3 L1730.9 330.1 L1732.4 329.9 L1733.9 329.7 L1735.4 329.5 L1736.9 329.3 L1738.5 329.2 L1740.0 329.0 L1741.5 328.9 L1743.0 328.8 L1744.5 328.7 L1746.0 328.6 L1747.5 328.6 L1749.0 328.7 L1750.5 328.8 L1752.0 329.0 L1753.5 329.1 L1755.0 329.4 L1756.5 329.6 L1758.0 329.9 L1759.5 330.1 L1761.0 330.5 L1762.5 330.9 L1764.0 331.3 L1765.5 331.7 L1767.0 332.2 L1768.5 332.7 L1770.0 333.1 L1771.5 333.6 L1773.0 334.1 L1774.5 334.6 L1776.0 335.1 L1777.5 335.5 L1779.0 336.0 L1780.5 336.4 L1782.0 336.7 L1783.5 337.0 L1785.0 337.3 L1786.5 337.5 L1788.0 337.6 L1789.5 337.8 L1791.0 337.9 L1792.5 338.0 L1794.0 338.0 L1795.5 337.9 L1797.0 337.9 L1798.5 338.0 L1800.0 338.2 L1801.5 338.5 L1803.1 339.1 L1804.6 339.9 L1806.1 340.8 L1807.6 341.8 L1809.1 342.9 L1810.6 344.1 L1812.1 345.5 L1813.6 346.9 L1815.1 348.2 L1816.6 349.4 L1818.1 350.4 L1819.6 351.4 L1821.1 352.2 L1822.6 352.9 L1824.1 353.6 L1825.6 354.1 L1827.1 354.5 L1828.6 354.8 L1830.1 355.1 L1831.6 355.2 L1833.1 355.1 L1834.6 354.9 L1836.1 354.6 L1837.6 354.1 L1839.1 353.5 L1840.6 352.7 L1842.1 351.8 L1843.6 350.7 L1845.1 349.5 L1846.6 348.4 L1848.1 347.2 L1849.6 346.0 L1851.1 344.8 L1852.6 343.7 L1854.1 342.6 L1855.6 341.6 L1857.1 340.8 L1858.6 340.1 L1860.1 339.5 L1861.6 339.1 L1863.1 338.8 L1864.6 338.8 L1866.1 338.9 L1867.7 339.1 L1869.2 339.5 L1870.7 340.0 L1872.2 340.6 L1873.7 341.2 L1875.2 342.0 L1876.7 342.7 L1878.2 343.4 L1879.7 343.9 L1881.2 344.4 L1882.7 344.7 L1884.2 344.9 L1885.7 344.9 L1887.2 344.6 L1888.7 344.1 L1890.2 343.3 L1891.7 342.3 L1893.2 341.1 L1894.7 339.7 L1896.2 338.2 L1897.7 336.7 L1899.2 335.4 L1900.7 334.1 L1902.2 333.0" fill="none" stroke="#A5142F" stroke-width="6" stroke-linejoin="round"/>
<path d="M1643.81 321.44H1902.21" stroke="#333" stroke-width="3" stroke-dasharray="3 3.11" fill="none"/>
<rect x="1660.31" y="432.59" width="48.21" height="9.80" fill="#A5142F"/><path d="M1662.69 432.59h2.20V442.39h-2.20zM1667.27 432.59h2.20V442.39h-2.20zM1671.86 432.59h2.20V442.39h-2.20zM1676.44 432.59h2.20V442.39h-2.20zM1681.02 432.59h2.20V442.39h-2.20zM1685.60 432.59h2.20V442.39h-2.20zM1690.19 432.59h2.20V442.39h-2.20zM1694.77 432.59h2.20V442.39h-2.20zM1699.35 432.59h2.20V442.39h-2.20zM1703.93 432.59h2.20V442.39h-2.20z" fill="#000"/>
<rect x="1790.59" y="432.59" width="90.98" height="9.80" fill="#A5142F"/><path d="M1792.90 432.59h2.13V442.39h-2.13zM1797.33 432.59h2.13V442.39h-2.13zM1801.77 432.59h2.13V442.39h-2.13zM1806.20 432.59h2.13V442.39h-2.13zM1810.64 432.59h2.13V442.39h-2.13zM1815.07 432.59h2.13V442.39h-2.13zM1819.50 432.59h2.13V442.39h-2.13zM1823.94 432.59h2.13V442.39h-2.13zM1828.37 432.59h2.13V442.39h-2.13zM1832.80 432.59h2.13V442.39h-2.13zM1837.24 432.59h2.13V442.39h-2.13zM1841.67 432.59h2.13V442.39h-2.13zM1846.11 432.59h2.13V442.39h-2.13zM1850.54 432.59h2.13V442.39h-2.13zM1854.97 432.59h2.13V442.39h-2.13zM1859.41 432.59h2.13V442.39h-2.13zM1863.84 432.59h2.13V442.39h-2.13zM1868.28 432.59h2.13V442.39h-2.13zM1872.71 432.59h2.13V442.39h-2.13zM1877.14 432.59h2.13V442.39h-2.13z" fill="#000"/>
<path d="M1643.81 276.49V442.39H1902.21" stroke="#505050" stroke-width="1" fill="none"/>
<path d="M1643.81 291.26h2.7M1643.81 321.44h2.7M1643.81 351.62h2.7M1643.81 382.02h2.7M1643.81 412.21h2.7M1643.81 442.39h2.7M1643.81 442.39v-2.7M1773.01 442.39v-2.7M1902.21 442.39v-2.7" stroke="#505050" stroke-width="1" fill="none"/>
<text transform="translate(1636.0 298.9) scale(1 1.065)" text-anchor="end" class="t">10</text>
<text transform="translate(1636.0 329.0) scale(1 1.065)" text-anchor="end" class="t">0</text>
<text transform="translate(1636.0 359.2) scale(1 1.065)" text-anchor="end" class="t">-10</text>
<text transform="translate(1636.0 389.6) scale(1 1.065)" text-anchor="end" class="t">-20</text>
<text transform="translate(1636.0 419.8) scale(1 1.065)" text-anchor="end" class="t">-30</text>
<text transform="translate(1636.0 450.9) scale(1 1.065)" text-anchor="end" class="t">-40</text>
<text transform="translate(1643.8 468.9) scale(1 1.065)" text-anchor="middle" class="t">0</text>
<text transform="translate(1773.0 468.9) scale(1 1.065)" text-anchor="middle" class="t">50</text>
<text transform="translate(1902.2 468.9) scale(1 1.065)" text-anchor="middle" class="t">100</text>
<text transform="translate(1571.5 359.4) rotate(-90) scale(1 1.065)" text-anchor="middle" class="l">Hip</text>
<text transform="translate(1598.4 359.4) rotate(-90) scale(1 1.065)" text-anchor="middle" class="l">Ext [Degrees] Int</text>
</g>
<g id="knee_sag">
<path d="M150.1 637.9 L151.6 635.7 L153.1 633.6 L154.6 631.6 L156.1 629.6 L157.6 627.8 L159.1 626.0 L160.6 624.3 L162.1 622.7 L163.6 621.2 L165.1 619.8 L166.6 618.4 L168.1 617.2 L169.6 616.0 L171.1 614.9 L172.6 614.0 L174.1 613.2 L175.6 612.5 L177.1 612.0 L178.6 611.6 L180.1 611.2 L181.6 611.0 L183.1 610.9 L184.6 610.9 L186.1 611.0 L187.6 611.3 L189.1 611.6 L190.6 612.1 L192.1 612.6 L193.6 613.2 L195.1 614.0 L196.6 614.9 L198.1 615.9 L199.6 617.0 L201.1 618.1 L202.6 619.2 L204.1 620.3 L205.6 621.5 L207.1 622.6 L208.6 623.8 L210.1 625.0 L211.6 626.2 L213.1 627.3 L214.6 628.4 L216.1 629.4 L217.6 630.4 L219.1 631.4 L220.6 632.4 L222.1 633.3 L223.6 634.2 L225.1 635.0 L226.6 635.7 L228.1 636.4 L229.6 637.1 L231.1 637.8 L232.6 638.4 L234.1 638.9 L235.6 639.5 L237.1 639.9 L238.6 640.4 L240.1 640.9 L241.6 641.3 L243.1 641.7 L244.6 642.0 L246.1 642.3 L247.6 642.5 L249.1 642.6 L250.6 642.8 L252.1 642.8 L253.6 642.9 L255.1 642.8 L256.6 642.8 L258.1 642.6 L259.6 642.4 L261.1 642.1 L262.6 641.8 L264.1 641.5 L265.6 641.0 L267.1 640.5 L268.6 639.9 L270.1 639.1 L271.6 638.3 L273.1 637.3 L274.6 636.3 L276.1 635.0 L277.6 633.6 L279.1 631.9 L280.6 630.1 L282.1 628.1 L283.6 625.9 L285.1 623.4 L286.6 620.7 L288.1 617.9 L289.6 615.1 L291.1 612.2 L292.6 609.3 L294.1 606.3 L295.6 603.3 L297.1 600.2 L298.6 597.1 L300.1 594.0 L301.6 590.8 L303.1 587.6 L304.6 584.4 L306.1 581.2 L307.6 578.1 L309.1 575.1 L310.6 572.1 L312.1 569.2 L313.6 566.5 L315.1 563.8 L316.6 561.4 L318.1 559.0 L319.6 556.8 L321.1 554.8 L322.6 552.9 L324.1 551.4 L325.6 550.2 L327.1 549.2 L328.6 548.4 L330.1 547.7 L331.6 547.2 L333.1 547.0 L334.6 546.9 L336.1 547.0 L337.6 547.4 L339.1 547.8 L340.6 548.5 L342.1 549.3 L343.6 550.3 L345.1 551.7 L346.6 553.4 L348.1 555.3 L349.6 557.5 L351.1 559.8 L352.6 562.2 L354.1 564.9 L355.6 567.8 L357.1 570.8 L358.6 573.8 L360.1 576.9 L361.6 580.0 L363.1 583.2 L364.6 586.4 L366.1 589.6 L367.6 592.8 L369.1 596.1 L370.6 599.3 L372.1 602.5 L373.6 605.7 L375.1 608.9 L376.6 612.0 L378.1 615.0 L379.6 618.1 L381.1 621.0 L382.6 623.8 L384.1 626.4 L385.6 628.8 L387.1 630.9 L388.6 632.8 L390.1 634.6 L391.6 636.1 L393.1 637.3 L394.6 638.3 L396.1 639.1 L397.6 639.8 L399.1 640.4 L400.6 640.8 L402.1 641.0 L403.6 641.0 L405.1 640.8 L406.6 640.5 L408.1 640.0 L408.1 653.1 L406.6 653.5 L405.1 653.8 L403.6 654.0 L402.1 653.9 L400.6 653.6 L399.1 653.1 L397.6 652.4 L396.1 651.5 L394.6 650.4 L393.1 649.1 L391.6 647.6 L390.1 645.9 L388.6 644.0 L387.1 641.9 L385.6 639.7 L384.1 637.3 L382.6 634.7 L381.1 631.9 L379.6 628.9 L378.1 625.9 L376.6 622.8 L375.1 619.7 L373.6 616.6 L372.1 613.4 L370.6 610.1 L369.1 606.9 L367.6 603.7 L366.1 600.5 L364.6 597.2 L363.1 594.0 L361.6 590.9 L360.1 587.8 L358.6 584.7 L357.1 581.7 L355.6 578.8 L354.1 576.1 L352.6 573.5 L351.1 571.2 L349.6 569.1 L348.1 567.1 L346.6 565.3 L345.1 563.8 L343.6 562.6 L342.1 561.7 L340.6 561.1 L339.1 560.6 L337.6 560.2 L336.1 559.9 L334.6 559.8 L333.1 559.9 L331.6 560.1 L330.1 560.4 L328.6 560.9 L327.1 561.5 L325.6 562.3 L324.1 563.2 L322.6 564.5 L321.1 566.1 L319.6 568.0 L318.1 570.1 L316.6 572.3 L315.1 574.7 L313.6 577.3 L312.1 580.1 L310.6 583.0 L309.1 585.9 L307.6 589.0 L306.1 592.1 L304.6 595.2 L303.1 598.4 L301.6 601.6 L300.1 604.8 L298.6 608.0 L297.1 611.1 L295.6 614.2 L294.1 617.2 L292.6 620.1 L291.1 623.1 L289.6 625.9 L288.1 628.8 L286.6 631.6 L285.1 634.3 L283.6 636.7 L282.1 639.0 L280.6 641.0 L279.1 642.9 L277.6 644.6 L276.1 646.1 L274.6 647.4 L273.1 648.6 L271.6 649.7 L270.1 650.7 L268.6 651.6 L267.1 652.4 L265.6 653.1 L264.1 653.7 L262.6 654.2 L261.1 654.7 L259.6 655.1 L258.1 655.4 L256.6 655.7 L255.1 655.9 L253.6 656.0 L252.1 656.1 L250.6 656.1 L249.1 656.0 L247.6 656.0 L246.1 655.8 L244.6 655.6 L243.1 655.4 L241.6 655.0 L240.1 654.7 L238.6 654.3 L237.1 653.9 L235.6 653.5 L234.1 653.0 L232.6 652.5 L231.1 652.0 L229.6 651.4 L228.1 650.8 L226.6 650.2 L225.1 649.5 L223.6 648.8 L222.1 648.0 L220.6 647.2 L219.1 646.3 L217.6 645.4 L216.1 644.5 L214.6 643.6 L213.1 642.6 L211.6 641.7 L210.1 640.7 L208.6 639.8 L207.1 638.8 L205.6 637.9 L204.1 637.0 L202.6 636.1 L201.1 635.3 L199.6 634.5 L198.1 633.7 L196.6 633.0 L195.1 632.4 L193.6 631.8 L192.1 631.4 L190.6 631.1 L189.1 630.8 L187.6 630.6 L186.1 630.4 L184.6 630.4 L183.1 630.4 L181.6 630.4 L180.1 630.6 L178.6 630.8 L177.1 631.1 L175.6 631.4 L174.1 631.8 L172.6 632.4 L171.1 633.0 L169.6 633.8 L168.1 634.6 L166.6 635.4 L165.1 636.3 L163.6 637.3 L162.1 638.4 L160.6 639.5 L159.1 640.6 L157.6 641.8 L156.1 643.1 L154.6 644.4 L153.1 645.8 L151.6 647.3 L150.1 648.7Z" fill="#404040" fill-opacity="0.2"/>
<path d="M150.1 643.3 L151.6 641.5 L153.1 639.7 L154.6 638.0 L156.1 636.4 L157.6 634.8 L159.1 633.3 L160.6 631.9 L162.1 630.5 L163.6 629.2 L165.1 628.0 L166.6 626.9 L168.1 625.9 L169.6 624.9 L171.1 624.0 L172.6 623.2 L174.1 622.5 L175.6 622.0 L177.1 621.5 L178.6 621.2 L180.1 620.9 L181.6 620.7 L183.1 620.6 L184.6 620.6 L186.1 620.7 L187.6 620.9 L189.1 621.2 L190.6 621.6 L192.1 622.0 L193.6 622.5 L195.1 623.2 L196.6 624.0 L198.1 624.8 L199.6 625.7 L201.1 626.7 L202.6 627.7 L204.1 628.7 L205.6 629.7 L207.1 630.7 L208.6 631.8 L210.1 632.9 L211.6 633.9 L213.1 635.0 L214.6 636.0 L216.1 637.0 L217.6 637.9 L219.1 638.9 L220.6 639.8 L222.1 640.6 L223.6 641.5 L225.1 642.2 L226.6 642.9 L228.1 643.6 L229.6 644.3 L231.1 644.9 L232.6 645.4 L234.1 646.0 L235.6 646.5 L237.1 646.9 L238.6 647.4 L240.1 647.8 L241.6 648.2 L243.1 648.5 L244.6 648.8 L246.1 649.0 L247.6 649.2 L249.1 649.3 L250.6 649.4 L252.1 649.4 L253.6 649.4 L255.1 649.4 L256.6 649.2 L258.1 649.0 L259.6 648.7 L261.1 648.4 L262.6 648.0 L264.1 647.6 L265.6 647.1 L267.1 646.4 L268.6 645.7 L270.1 644.9 L271.6 644.0 L273.1 643.0 L274.6 641.9 L276.1 640.6 L277.6 639.1 L279.1 637.4 L280.6 635.6 L282.1 633.6 L283.6 631.3 L285.1 628.8 L286.6 626.2 L288.1 623.4 L289.6 620.5 L291.1 617.6 L292.6 614.7 L294.1 611.7 L295.6 608.7 L297.1 605.7 L298.6 602.6 L300.1 599.4 L301.6 596.2 L303.1 593.0 L304.6 589.8 L306.1 586.6 L307.6 583.5 L309.1 580.5 L310.6 577.5 L312.1 574.7 L313.6 571.9 L315.1 569.3 L316.6 566.9 L318.1 564.6 L319.6 562.4 L321.1 560.4 L322.6 558.7 L324.1 557.3 L325.6 556.2 L327.1 555.4 L328.6 554.6 L330.1 554.1 L331.6 553.7 L333.1 553.4 L334.6 553.4 L336.1 553.5 L337.6 553.8 L339.1 554.2 L340.6 554.8 L342.1 555.5 L343.6 556.5 L345.1 557.8 L346.6 559.4 L348.1 561.2 L349.6 563.3 L351.1 565.5 L352.6 567.9 L354.1 570.5 L355.6 573.3 L357.1 576.3 L358.6 579.3 L360.1 582.3 L361.6 585.4 L363.1 588.6 L364.6 591.8 L366.1 595.0 L367.6 598.3 L369.1 601.5 L370.6 604.7 L372.1 607.9 L373.6 611.1 L375.1 614.3 L376.6 617.4 L378.1 620.5 L379.6 623.5 L381.1 626.4 L382.6 629.2 L384.1 631.9 L385.6 634.2 L387.1 636.4 L388.6 638.4 L390.1 640.2 L391.6 641.9 L393.1 643.2 L394.6 644.4 L396.1 645.3 L397.6 646.1 L399.1 646.7 L400.6 647.2 L402.1 647.4 L403.6 647.5 L405.1 647.3 L406.6 647.0 L408.1 646.5" fill="none" stroke="#404040" stroke-width="6" stroke-linejoin="round"/>
<path d="M150.1 625.9 L151.6 625.8 L153.1 625.6 L154.6 625.5 L156.1 625.4 L157.6 625.2 L159.1 625.1 L160.6 625.0 L162.1 625.0 L163.6 624.9 L165.1 624.8 L166.6 624.8 L168.1 624.8 L169.6 624.8 L171.1 624.7 L172.6 624.7 L174.1 624.7 L175.6 624.7 L177.1 624.8 L178.6 624.8 L180.1 624.8 L181.6 624.9 L183.1 624.9 L184.6 625.0 L186.1 625.1 L187.6 625.1 L189.1 625.2 L190.6 625.3 L192.1 625.4 L193.6 625.5 L195.1 625.7 L196.6 625.8 L198.1 625.9 L199.6 626.0 L201.1 626.1 L202.6 626.2 L204.1 626.4 L205.6 626.5 L207.1 626.7 L208.6 626.8 L210.1 626.9 L211.6 627.1 L213.1 627.2 L214.6 627.3 L216.1 627.4 L217.6 627.5 L219.1 627.6 L220.6 627.7 L222.1 627.7 L223.6 627.8 L225.1 627.8 L226.6 627.8 L228.1 627.8 L229.6 627.8 L231.1 627.8 L232.6 627.8 L234.1 627.8 L235.6 627.7 L237.1 627.7 L238.6 627.7 L240.1 627.6 L241.6 627.5 L243.1 627.5 L244.6 627.4 L246.1 627.4 L247.6 627.3 L249.1 627.3 L250.6 627.3 L252.1 627.3 L253.6 627.3 L255.1 627.2 L256.6 627.2 L258.1 627.2 L259.6 627.3 L261.1 627.3 L262.6 627.3 L264.1 627.3 L265.6 627.3 L267.1 627.3 L268.6 627.1 L270.1 626.9 L271.6 626.7 L273.1 626.3 L274.6 625.9 L276.1 625.4 L277.6 624.8 L279.1 624.0 L280.6 623.0 L282.1 621.9 L283.6 620.7 L285.1 619.3 L286.6 617.6 L288.1 615.8 L289.6 613.7 L291.1 611.5 L292.6 609.1 L294.1 606.5 L295.6 603.8 L297.1 600.9 L298.6 598.0 L300.1 595.0 L301.6 592.0 L303.1 588.9 L304.6 585.9 L306.1 582.8 L307.6 579.7 L309.1 576.7 L310.6 573.7 L312.1 570.9 L313.6 568.1 L315.1 565.3 L316.6 562.7 L318.1 560.3 L319.6 557.9 L321.1 555.7 L322.6 553.5 L324.1 551.6 L325.6 549.9 L327.1 548.4 L328.6 547.2 L330.1 546.2 L331.6 545.4 L333.1 544.7 L334.6 544.3 L336.1 544.1 L337.6 544.3 L339.1 544.6 L340.6 545.2 L342.1 546.0 L343.6 547.0 L345.1 548.2 L346.6 549.7 L348.1 551.6 L349.6 553.7 L351.1 556.1 L352.6 558.6 L354.1 561.3 L355.6 564.1 L357.1 567.1 L358.6 570.2 L360.1 573.4 L361.6 576.5 L363.1 579.7 L364.6 582.9 L366.1 586.0 L367.6 589.2 L369.1 592.3 L370.6 595.2 L372.1 598.2 L373.6 601.0 L375.1 603.8 L376.6 606.4 L378.1 608.9 L379.6 611.1 L381.1 613.2 L382.6 615.1 L384.1 616.8 L385.6 618.3 L387.1 619.6 L388.6 620.7 L390.1 621.7 L391.6 622.6 L393.1 623.4 L394.6 624.1 L396.1 624.6 L397.6 625.1 L399.1 625.6 L400.6 625.9 L402.1 626.2 L403.6 626.3 L405.1 626.4 L406.6 626.4 L408.1 626.4 L408.1 650.2 L406.6 650.3 L405.1 650.3 L403.6 650.2 L402.1 650.1 L400.6 649.8 L399.1 649.4 L397.6 649.0 L396.1 648.4 L394.6 647.6 L393.1 646.7 L391.6 645.6 L390.1 644.3 L388.6 642.9 L387.1 641.4 L385.6 639.6 L384.1 637.7 L382.6 635.5 L381.1 633.2 L379.6 630.8 L378.1 628.3 L376.6 625.5 L375.1 622.6 L373.6 619.6 L372.1 616.5 L370.6 613.4 L369.1 610.2 L367.6 607.0 L366.1 603.7 L364.6 600.4 L363.1 597.2 L361.6 594.0 L360.1 590.8 L358.6 587.7 L357.1 584.7 L355.6 581.8 L354.1 579.1 L352.6 576.6 L351.1 574.3 L349.6 572.1 L348.1 570.1 L346.6 568.4 L345.1 567.1 L343.6 566.0 L342.1 565.2 L340.6 564.5 L339.1 564.0 L337.6 563.7 L336.1 563.6 L334.6 563.7 L333.1 564.1 L331.6 564.6 L330.1 565.3 L328.6 566.1 L327.1 567.1 L325.6 568.3 L324.1 569.8 L322.6 571.5 L321.1 573.4 L319.6 575.5 L318.1 577.6 L316.6 579.9 L315.1 582.4 L313.6 584.9 L312.1 587.5 L310.6 590.3 L309.1 593.0 L307.6 595.9 L306.1 598.8 L304.6 601.8 L303.1 604.7 L301.6 607.6 L300.1 610.6 L298.6 613.4 L297.1 616.3 L295.6 619.1 L294.1 621.8 L292.6 624.4 L291.1 626.9 L289.6 629.3 L288.1 631.6 L286.6 633.7 L285.1 635.7 L283.6 637.6 L282.1 639.2 L280.6 640.8 L279.1 642.2 L277.6 643.5 L276.1 644.6 L274.6 645.6 L273.1 646.5 L271.6 647.3 L270.1 648.0 L268.6 648.7 L267.1 649.4 L265.6 650.0 L264.1 650.5 L262.6 651.0 L261.1 651.4 L259.6 651.8 L258.1 652.2 L256.6 652.5 L255.1 652.8 L253.6 653.0 L252.1 653.2 L250.6 653.2 L249.1 653.3 L247.6 653.3 L246.1 653.3 L244.6 653.3 L243.1 653.2 L241.6 653.2 L240.1 653.1 L238.6 653.1 L237.1 653.0 L235.6 652.9 L234.1 652.8 L232.6 652.7 L231.1 652.6 L229.6 652.4 L228.1 652.3 L226.6 652.2 L225.1 652.0 L223.6 651.9 L222.1 651.8 L220.6 651.7 L219.1 651.6 L217.6 651.4 L216.1 651.3 L214.6 651.2 L213.1 651.1 L211.6 651.0 L210.1 650.8 L208.6 650.7 L207.1 650.6 L205.6 650.4 L204.1 650.3 L202.6 650.1 L201.1 650.0 L199.6 649.9 L198.1 649.8 L196.6 649.7 L195.1 649.5 L193.6 649.4 L192.1 649.3 L190.6 649.2 L189.1 649.1 L187.6 649.0 L186.1 649.0 L184.6 648.9 L183.1 648.8 L181.6 648.8 L180.1 648.7 L178.6 648.7 L177.1 648.6 L175.6 648.6 L174.1 648.6 L172.6 648.6 L171.1 648.6 L169.6 648.6 L168.1 648.7 L166.6 648.7 L165.1 648.7 L163.6 648.8 L162.1 648.8 L160.6 648.9 L159.1 649.0 L157.6 649.1 L156.1 649.3 L154.6 649.4 L153.1 649.5 L151.6 649.7 L150.1 649.8Z" fill="#A5142F" fill-opacity="0.2"/>
<path d="M150.1 637.9 L151.6 637.7 L153.1 637.6 L154.6 637.4 L156.1 637.3 L157.6 637.2 L159.1 637.1 L160.6 637.0 L162.1 636.9 L163.6 636.8 L165.1 636.8 L166.6 636.8 L168.1 636.7 L169.6 636.7 L171.1 636.7 L172.6 636.7 L174.1 636.7 L175.6 636.7 L177.1 636.7 L178.6 636.7 L180.1 636.8 L181.6 636.8 L183.1 636.9 L184.6 636.9 L186.1 637.0 L187.6 637.1 L189.1 637.2 L190.6 637.3 L192.1 637.4 L193.6 637.5 L195.1 637.6 L196.6 637.7 L198.1 637.8 L199.6 637.9 L201.1 638.1 L202.6 638.2 L204.1 638.3 L205.6 638.5 L207.1 638.6 L208.6 638.8 L210.1 638.9 L211.6 639.0 L213.1 639.2 L214.6 639.3 L216.1 639.4 L217.6 639.5 L219.1 639.6 L220.6 639.7 L222.1 639.8 L223.6 639.8 L225.1 639.9 L226.6 640.0 L228.1 640.1 L229.6 640.1 L231.1 640.2 L232.6 640.2 L234.1 640.3 L235.6 640.3 L237.1 640.3 L238.6 640.4 L240.1 640.4 L241.6 640.4 L243.1 640.4 L244.6 640.4 L246.1 640.3 L247.6 640.3 L249.1 640.3 L250.6 640.3 L252.1 640.2 L253.6 640.1 L255.1 640.0 L256.6 639.9 L258.1 639.7 L259.6 639.6 L261.1 639.4 L262.6 639.2 L264.1 638.9 L265.6 638.7 L267.1 638.3 L268.6 637.9 L270.1 637.5 L271.6 637.0 L273.1 636.4 L274.6 635.8 L276.1 635.0 L277.6 634.2 L279.1 633.1 L280.6 631.9 L282.1 630.6 L283.6 629.1 L285.1 627.5 L286.6 625.7 L288.1 623.7 L289.6 621.5 L291.1 619.2 L292.6 616.7 L294.1 614.2 L295.6 611.4 L297.1 608.6 L298.6 605.7 L300.1 602.8 L301.6 599.8 L303.1 596.8 L304.6 593.8 L306.1 590.8 L307.6 587.8 L309.1 584.9 L310.6 582.0 L312.1 579.2 L313.6 576.5 L315.1 573.9 L316.6 571.3 L318.1 569.0 L319.6 566.7 L321.1 564.5 L322.6 562.5 L324.1 560.7 L325.6 559.1 L327.1 557.8 L328.6 556.7 L330.1 555.7 L331.6 555.0 L333.1 554.4 L334.6 554.0 L336.1 553.9 L337.6 554.0 L339.1 554.3 L340.6 554.9 L342.1 555.6 L343.6 556.5 L345.1 557.7 L346.6 559.1 L348.1 560.8 L349.6 562.9 L351.1 565.2 L352.6 567.6 L354.1 570.2 L355.6 573.0 L357.1 575.9 L358.6 579.0 L360.1 582.1 L361.6 585.3 L363.1 588.4 L364.6 591.7 L366.1 594.9 L367.6 598.1 L369.1 601.2 L370.6 604.3 L372.1 607.4 L373.6 610.3 L375.1 613.2 L376.6 616.0 L378.1 618.6 L379.6 621.0 L381.1 623.2 L382.6 625.3 L384.1 627.2 L385.6 629.0 L387.1 630.5 L388.6 631.8 L390.1 633.0 L391.6 634.1 L393.1 635.0 L394.6 635.8 L396.1 636.5 L397.6 637.0 L399.1 637.5 L400.6 637.8 L402.1 638.1 L403.6 638.3 L405.1 638.3 L406.6 638.4 L408.1 638.3" fill="none" stroke="#A5142F" stroke-width="6" stroke-linejoin="round"/>
<path d="M150.11 661.34H408.08" stroke="#333" stroke-width="3" stroke-dasharray="3 3.11" fill="none"/>
<rect x="164.23" y="684.98" width="48.42" height="9.80" fill="#A5142F"/><path d="M166.41 684.98h2.02V694.78h-2.02zM170.62 684.98h2.02V694.78h-2.02zM174.82 684.98h2.02V694.78h-2.02zM179.02 684.98h2.02V694.78h-2.02zM183.23 684.98h2.02V694.78h-2.02zM187.43 684.98h2.02V694.78h-2.02zM191.63 684.98h2.02V694.78h-2.02zM195.84 684.98h2.02V694.78h-2.02zM200.04 684.98h2.02V694.78h-2.02zM204.24 684.98h2.02V694.78h-2.02zM208.45 684.98h2.02V694.78h-2.02z" fill="#000"/>
<rect x="244.57" y="684.98" width="24.32" height="9.80" fill="#A5142F"/><path d="M246.86 684.98h2.11V694.78h-2.11zM251.27 684.98h2.11V694.78h-2.11zM255.67 684.98h2.11V694.78h-2.11zM260.08 684.98h2.11V694.78h-2.11zM264.49 684.98h2.11V694.78h-2.11z" fill="#000"/>
<rect x="291.26" y="684.98" width="28.66" height="9.80" fill="#A5142F"/><path d="M293.54 684.98h2.11V694.78h-2.11zM297.94 684.98h2.11V694.78h-2.11zM302.34 684.98h2.11V694.78h-2.11zM306.73 684.98h2.11V694.78h-2.11zM311.13 684.98h2.11V694.78h-2.11zM315.52 684.98h2.11V694.78h-2.11z" fill="#000"/>
<rect x="392.23" y="684.98" width="15.85" height="9.80" fill="#A5142F"/><path d="M394.57 684.98h2.16V694.78h-2.16zM399.07 684.98h2.16V694.78h-2.16zM403.58 684.98h2.16V694.78h-2.16z" fill="#000"/>
<path d="M150.11 528.01V694.78H408.08" stroke="#505050" stroke-width="1" fill="none"/>
<path d="M150.11 528.01h2.7M150.11 561.45h2.7M150.11 594.67h2.7M150.11 628.11h2.7M150.11 661.34h2.7M150.11 694.78h2.7M150.11 694.78v-2.7M279.10 694.78v-2.7M408.08 694.78v-2.7" stroke="#505050" stroke-width="1" fill="none"/>
<text transform="translate(142.3 535.6) scale(1 1.065)" text-anchor="end" class="t">80</text>
<text transform="translate(142.3 569.1) scale(1 1.065)" text-anchor="end" class="t">60</text>
<text transform="translate(142.3 602.3) scale(1 1.065)" text-anchor="end" class="t">40</text>
<text transform="translate(142.3 635.7) scale(1 1.065)" text-anchor="end" class="t">20</text>
<text transform="translate(142.3 668.9) scale(1 1.065)" text-anchor="end" class="t">0</text>
<text transform="translate(142.3 703.3) scale(1 1.065)" text-anchor="end" class="t">-20</text>
<text transform="translate(150.1 721.3) scale(1 1.065)" text-anchor="middle" class="t">0</text>
<text transform="translate(279.1 721.3) scale(1 1.065)" text-anchor="middle" class="t">50</text>
<text transform="translate(408.1 721.3) scale(1 1.065)" text-anchor="middle" class="t">100</text>
<text transform="translate(77.7 611.4) rotate(-90) scale(1 1.065)" text-anchor="middle" class="l">Knee</text>
<text transform="translate(104.6 611.4) rotate(-90) scale(1 1.065)" text-anchor="middle" class="l">Ext [Degrees] Flex</text>
</g>
<g id="knee_mom">
<path d="M522.9 623.1 L524.4 621.5 L525.9 619.8 L527.4 617.6 L528.9 614.5 L530.4 610.0 L531.9 604.2 L533.4 597.4 L534.9 590.2 L536.4 583.1 L537.9 576.5 L539.4 570.4 L540.9 565.0 L542.5 560.1 L544.0 555.8 L545.5 552.1 L547.0 548.9 L548.5 546.4 L550.0 544.4 L551.5 543.1 L553.0 542.3 L554.5 542.2 L556.0 542.8 L557.5 544.0 L559.0 545.8 L560.5 548.0 L562.0 550.8 L563.5 553.9 L565.0 557.1 L566.5 560.4 L568.0 563.7 L569.5 566.9 L571.0 570.0 L572.5 572.8 L574.0 575.4 L575.5 577.9 L577.0 580.3 L578.5 582.6 L580.0 584.8 L581.5 586.9 L583.0 588.9 L584.5 590.9 L586.0 592.7 L587.5 594.3 L589.0 595.8 L590.5 597.2 L592.0 598.6 L593.5 599.8 L595.0 601.0 L596.5 602.1 L598.0 603.2 L599.5 604.3 L601.0 605.3 L602.5 606.3 L604.0 607.2 L605.5 608.1 L607.0 609.0 L608.5 609.8 L610.0 610.6 L611.5 611.3 L613.0 611.9 L614.5 612.5 L616.0 613.1 L617.5 613.5 L619.0 614.0 L620.5 614.3 L622.0 614.6 L623.5 614.8 L625.0 614.9 L626.5 615.0 L628.0 615.0 L629.5 615.0 L631.0 614.8 L632.5 614.4 L634.0 613.9 L635.5 613.1 L637.0 612.2 L638.5 611.0 L640.0 609.6 L641.5 607.8 L643.0 605.8 L644.5 603.6 L646.0 601.1 L647.5 598.6 L649.0 596.1 L650.5 593.7 L652.0 591.5 L653.5 589.7 L655.0 588.3 L656.5 587.4 L658.0 587.1 L659.5 587.2 L661.0 587.7 L662.5 588.5 L664.0 589.4 L665.5 590.4 L667.0 591.3 L668.5 592.2 L670.0 593.0 L671.5 593.8 L673.0 594.4 L674.5 594.8 L676.0 595.2 L677.5 595.4 L679.0 595.4 L680.5 595.4 L682.0 595.3 L683.6 595.1 L685.1 595.0 L686.6 594.9 L688.1 594.8 L689.6 594.8 L691.1 594.8 L692.6 594.9 L694.1 595.2 L695.6 595.5 L697.1 596.0 L698.6 596.5 L700.1 597.1 L701.6 597.8 L703.1 598.4 L704.6 599.1 L706.1 599.8 L707.6 600.5 L709.1 601.2 L710.6 601.8 L712.1 602.4 L713.6 602.9 L715.1 603.4 L716.6 603.8 L718.1 604.2 L719.6 604.6 L721.1 605.0 L722.6 605.4 L724.1 605.8 L725.6 606.1 L727.1 606.5 L728.6 606.9 L730.1 607.3 L731.6 607.7 L733.1 608.1 L734.6 608.7 L736.1 609.4 L737.6 610.2 L739.1 611.2 L740.6 612.3 L742.1 613.6 L743.6 615.0 L745.1 616.6 L746.6 618.4 L748.1 620.2 L749.6 621.9 L751.1 623.4 L752.6 624.9 L754.1 626.1 L755.6 627.3 L757.1 628.4 L758.6 629.4 L760.1 630.2 L761.6 631.0 L763.1 631.6 L764.6 632.1 L766.1 632.5 L767.6 632.6 L769.1 632.5 L770.6 632.3 L772.1 631.9 L773.6 631.5 L775.1 631.0 L776.6 630.4 L778.1 629.7 L779.6 628.9 L781.1 628.1 L781.1 641.1 L779.6 641.9 L778.1 642.7 L776.6 643.4 L775.1 644.0 L773.6 644.4 L772.1 644.8 L770.6 645.0 L769.1 645.1 L767.6 644.9 L766.1 644.5 L764.6 643.9 L763.1 643.1 L761.6 642.1 L760.1 641.1 L758.6 639.9 L757.1 638.5 L755.6 637.1 L754.1 635.5 L752.6 633.7 L751.1 631.9 L749.6 629.9 L748.1 627.8 L746.6 625.7 L745.1 623.6 L743.6 621.8 L742.1 620.1 L740.6 618.7 L739.1 617.4 L737.6 616.2 L736.1 615.2 L734.6 614.4 L733.1 613.8 L731.6 613.2 L730.1 612.7 L728.6 612.3 L727.1 611.8 L725.6 611.4 L724.1 611.0 L722.6 610.6 L721.1 610.2 L719.6 609.9 L718.1 609.5 L716.6 609.2 L715.1 608.8 L713.6 608.4 L712.1 608.0 L710.6 607.5 L709.1 607.0 L707.6 606.5 L706.1 605.9 L704.6 605.3 L703.1 604.8 L701.6 604.3 L700.1 603.8 L698.6 603.4 L697.1 603.1 L695.6 602.8 L694.1 602.8 L692.6 602.8 L691.1 603.0 L689.6 603.3 L688.1 603.6 L686.6 604.0 L685.1 604.5 L683.6 605.0 L682.0 605.6 L680.5 606.1 L679.0 606.5 L677.5 606.8 L676.0 607.1 L674.5 607.2 L673.0 607.2 L671.5 607.2 L670.0 607.0 L668.5 606.8 L667.0 606.6 L665.5 606.4 L664.0 606.3 L662.5 606.3 L661.0 606.4 L659.5 606.8 L658.0 607.4 L656.5 608.3 L655.0 609.6 L653.5 611.2 L652.0 613.2 L650.5 615.4 L649.0 617.8 L647.5 620.3 L646.0 622.9 L644.5 625.3 L643.0 627.6 L641.5 629.5 L640.0 631.3 L638.5 632.8 L637.0 633.9 L635.5 634.9 L634.0 635.6 L632.5 636.1 L631.0 636.5 L629.5 636.6 L628.0 636.6 L626.5 636.5 L625.0 636.2 L623.5 635.9 L622.0 635.5 L620.5 635.0 L619.0 634.4 L617.5 633.8 L616.0 633.1 L614.5 632.4 L613.0 631.7 L611.5 630.9 L610.0 630.2 L608.5 629.4 L607.0 628.6 L605.5 627.7 L604.0 626.8 L602.5 625.8 L601.0 624.8 L599.5 623.8 L598.0 622.8 L596.5 621.7 L595.0 620.5 L593.5 619.4 L592.0 618.1 L590.5 616.8 L589.0 615.5 L587.5 614.1 L586.0 612.7 L584.5 611.2 L583.0 609.7 L581.5 608.1 L580.0 606.6 L578.5 605.1 L577.0 603.5 L575.5 601.8 L574.0 600.1 L572.5 598.3 L571.0 596.3 L569.5 594.2 L568.0 592.0 L566.5 589.7 L565.0 587.6 L563.5 585.5 L562.0 583.5 L560.5 581.9 L559.0 580.5 L557.5 579.5 L556.0 578.8 L554.5 578.4 L553.0 578.3 L551.5 578.7 L550.0 579.3 L548.5 580.2 L547.0 581.6 L545.5 583.4 L544.0 585.9 L542.5 589.0 L540.9 592.9 L539.4 597.7 L537.9 603.5 L536.4 610.1 L534.9 617.5 L533.4 625.2 L531.9 632.5 L530.4 638.5 L528.9 642.3 L527.4 643.6 L525.9 642.5 L524.4 639.5 L522.9 635.0Z" fill="#404040" fill-opacity="0.2"/>
<path d="M522.9 629.0 L524.4 630.5 L525.9 631.2 L527.4 630.6 L528.9 628.4 L530.4 624.2 L531.9 618.3 L533.4 611.3 L534.9 603.8 L536.4 596.6 L537.9 590.0 L539.4 584.1 L540.9 578.9 L542.5 574.5 L544.0 570.8 L545.5 567.7 L547.0 565.2 L548.5 563.3 L550.0 561.9 L551.5 560.9 L553.0 560.3 L554.5 560.3 L556.0 560.8 L557.5 561.7 L559.0 563.1 L560.5 564.9 L562.0 567.2 L563.5 569.7 L565.0 572.3 L566.5 575.1 L568.0 577.9 L569.5 580.6 L571.0 583.1 L572.5 585.5 L574.0 587.7 L575.5 589.9 L577.0 591.9 L578.5 593.8 L580.0 595.7 L581.5 597.5 L583.0 599.3 L584.5 601.0 L586.0 602.7 L587.5 604.2 L589.0 605.7 L590.5 607.0 L592.0 608.3 L593.5 609.6 L595.0 610.8 L596.5 611.9 L598.0 613.0 L599.5 614.1 L601.0 615.1 L602.5 616.0 L604.0 617.0 L605.5 617.9 L607.0 618.8 L608.5 619.6 L610.0 620.4 L611.5 621.1 L613.0 621.8 L614.5 622.5 L616.0 623.1 L617.5 623.7 L619.0 624.2 L620.5 624.6 L622.0 625.0 L623.5 625.3 L625.0 625.6 L626.5 625.7 L628.0 625.8 L629.5 625.8 L631.0 625.6 L632.5 625.3 L634.0 624.7 L635.5 624.0 L637.0 623.1 L638.5 621.9 L640.0 620.4 L641.5 618.7 L643.0 616.7 L644.5 614.5 L646.0 612.0 L647.5 609.5 L649.0 607.0 L650.5 604.5 L652.0 602.3 L653.5 600.4 L655.0 599.0 L656.5 597.9 L658.0 597.2 L659.5 597.0 L661.0 597.1 L662.5 597.4 L664.0 597.9 L665.5 598.4 L667.0 598.9 L668.5 599.5 L670.0 600.0 L671.5 600.5 L673.0 600.8 L674.5 601.0 L676.0 601.1 L677.5 601.1 L679.0 601.0 L680.5 600.7 L682.0 600.4 L683.6 600.1 L685.1 599.7 L686.6 599.4 L688.1 599.2 L689.6 599.0 L691.1 598.9 L692.6 598.9 L694.1 599.0 L695.6 599.2 L697.1 599.5 L698.6 600.0 L700.1 600.5 L701.6 601.0 L703.1 601.6 L704.6 602.2 L706.1 602.8 L707.6 603.5 L709.1 604.1 L710.6 604.7 L712.1 605.2 L713.6 605.7 L715.1 606.1 L716.6 606.5 L718.1 606.9 L719.6 607.2 L721.1 607.6 L722.6 608.0 L724.1 608.4 L725.6 608.8 L727.1 609.2 L728.6 609.6 L730.1 610.0 L731.6 610.4 L733.1 610.9 L734.6 611.5 L736.1 612.3 L737.6 613.2 L739.1 614.3 L740.6 615.5 L742.1 616.9 L743.6 618.4 L745.1 620.1 L746.6 622.0 L748.1 624.0 L749.6 625.9 L751.1 627.7 L752.6 629.3 L754.1 630.8 L755.6 632.2 L757.1 633.5 L758.6 634.6 L760.1 635.7 L761.6 636.6 L763.1 637.4 L764.6 638.0 L766.1 638.5 L767.6 638.8 L769.1 638.8 L770.6 638.6 L772.1 638.4 L773.6 638.0 L775.1 637.5 L776.6 636.9 L778.1 636.2 L779.6 635.4 L781.1 634.6" fill="none" stroke="#404040" stroke-width="6" stroke-linejoin="round"/>
<path d="M522.9 611.8 L524.4 609.1 L525.9 606.2 L527.4 603.2 L528.9 600.0 L530.4 597.2 L531.9 594.9 L533.4 593.2 L534.9 591.8 L536.4 590.8 L537.9 590.1 L539.4 589.5 L540.9 588.9 L542.5 588.5 L544.0 588.0 L545.5 587.7 L547.0 587.4 L548.5 587.1 L550.0 586.9 L551.5 586.7 L553.0 586.5 L554.5 586.4 L556.0 586.3 L557.5 586.3 L559.0 586.3 L560.5 586.4 L562.0 586.6 L563.5 586.8 L565.0 587.1 L566.5 587.4 L568.0 587.7 L569.5 588.1 L571.0 588.5 L572.5 589.0 L574.0 589.5 L575.5 590.0 L577.0 590.5 L578.5 591.1 L580.0 591.6 L581.5 592.1 L583.0 592.6 L584.5 593.1 L586.0 593.5 L587.5 594.0 L589.0 594.5 L590.5 594.9 L592.0 595.3 L593.5 595.6 L595.0 595.9 L596.5 596.2 L598.0 596.4 L599.5 596.6 L601.0 596.8 L602.5 596.9 L604.0 597.0 L605.5 597.1 L607.0 597.1 L608.5 597.2 L610.0 597.2 L611.5 597.1 L613.0 597.1 L614.5 597.0 L616.0 596.9 L617.5 596.8 L619.0 596.7 L620.5 596.6 L622.0 596.5 L623.5 596.4 L625.0 596.2 L626.5 596.1 L628.0 595.9 L629.5 595.7 L631.0 595.4 L632.5 595.2 L634.0 594.9 L635.5 594.6 L637.0 594.3 L638.5 594.0 L640.0 593.7 L641.5 593.3 L643.0 593.0 L644.5 592.6 L646.0 592.2 L647.5 591.7 L649.0 591.3 L650.5 590.8 L652.0 590.4 L653.5 590.0 L655.0 589.6 L656.5 589.5 L658.0 589.5 L659.5 589.8 L661.0 590.3 L662.5 590.9 L664.0 591.7 L665.5 592.7 L667.0 593.8 L668.5 595.0 L670.0 596.1 L671.5 597.2 L673.0 598.3 L674.5 599.2 L676.0 600.1 L677.5 600.8 L679.0 601.4 L680.5 601.9 L682.0 602.2 L683.6 602.3 L685.1 602.2 L686.6 601.9 L688.1 601.4 L689.6 601.0 L691.1 600.7 L692.6 600.4 L694.1 600.2 L695.6 600.0 L697.1 600.0 L698.6 600.0 L700.1 600.1 L701.6 600.4 L703.1 600.6 L704.6 601.0 L706.1 601.3 L707.6 601.7 L709.1 602.2 L710.6 602.6 L712.1 603.1 L713.6 603.6 L715.1 604.1 L716.6 604.6 L718.1 605.1 L719.6 605.5 L721.1 605.9 L722.6 606.2 L724.1 606.6 L725.6 606.9 L727.1 607.3 L728.6 607.6 L730.1 608.0 L731.6 608.4 L733.1 608.8 L734.6 609.3 L736.1 609.9 L737.6 610.5 L739.1 611.2 L740.6 612.1 L742.1 613.1 L743.6 614.2 L745.1 615.3 L746.6 616.5 L748.1 617.6 L749.6 618.8 L751.1 620.0 L752.6 621.2 L754.1 622.2 L755.6 623.1 L757.1 623.9 L758.6 624.5 L760.1 624.9 L761.6 625.1 L763.1 625.2 L764.6 624.9 L766.1 624.5 L767.6 623.8 L769.1 623.0 L770.6 621.9 L772.1 620.7 L773.6 619.4 L775.1 618.0 L776.6 616.6 L778.1 615.2 L779.6 613.9 L781.1 612.5 L781.1 625.5 L779.6 626.6 L778.1 627.7 L776.6 628.7 L775.1 629.8 L773.6 630.9 L772.1 632.0 L770.6 632.9 L769.1 633.7 L767.6 634.3 L766.1 634.7 L764.6 635.0 L763.1 634.9 L761.6 634.7 L760.1 634.2 L758.6 633.6 L757.1 632.8 L755.6 631.8 L754.1 630.7 L752.6 629.4 L751.1 628.1 L749.6 626.7 L748.1 625.3 L746.6 623.9 L745.1 622.6 L743.6 621.3 L742.1 620.0 L740.6 618.9 L739.1 617.8 L737.6 617.0 L736.1 616.2 L734.6 615.5 L733.1 614.9 L731.6 614.3 L730.1 613.8 L728.6 613.3 L727.1 612.8 L725.6 612.4 L724.1 612.0 L722.6 611.6 L721.1 611.2 L719.6 610.7 L718.1 610.3 L716.6 609.9 L715.1 609.4 L713.6 609.0 L712.1 608.5 L710.6 608.2 L709.1 607.8 L707.6 607.5 L706.1 607.2 L704.6 607.0 L703.1 606.7 L701.6 606.6 L700.1 606.5 L698.6 606.5 L697.1 606.6 L695.6 606.7 L694.1 607.0 L692.6 607.3 L691.1 607.7 L689.6 608.2 L688.1 608.8 L686.6 609.4 L685.1 609.8 L683.6 610.1 L682.0 610.2 L680.5 610.2 L679.0 610.0 L677.5 609.7 L676.0 609.4 L674.5 609.0 L673.0 608.7 L671.5 608.4 L670.0 608.0 L668.5 607.6 L667.0 607.2 L665.5 606.9 L664.0 606.6 L662.5 606.4 L661.0 606.4 L659.5 606.5 L658.0 606.8 L656.5 607.3 L655.0 608.0 L653.5 608.7 L652.0 609.4 L650.5 610.1 L649.0 610.7 L647.5 611.2 L646.0 611.7 L644.5 612.1 L643.0 612.5 L641.5 612.9 L640.0 613.2 L638.5 613.5 L637.0 613.9 L635.5 614.2 L634.0 614.4 L632.5 614.7 L631.0 615.0 L629.5 615.2 L628.0 615.4 L626.5 615.6 L625.0 615.7 L623.5 615.8 L622.0 615.9 L620.5 615.9 L619.0 616.0 L617.5 616.0 L616.0 615.9 L614.5 615.9 L613.0 615.8 L611.5 615.7 L610.0 615.6 L608.5 615.4 L607.0 615.3 L605.5 615.1 L604.0 614.9 L602.5 614.6 L601.0 614.4 L599.5 614.1 L598.0 613.9 L596.5 613.6 L595.0 613.3 L593.5 613.0 L592.0 612.7 L590.5 612.3 L589.0 611.8 L587.5 611.4 L586.0 610.9 L584.5 610.4 L583.0 610.0 L581.5 609.5 L580.0 609.0 L578.5 608.5 L577.0 607.9 L575.5 607.4 L574.0 606.9 L572.5 606.4 L571.0 605.9 L569.5 605.5 L568.0 605.1 L566.5 604.8 L565.0 604.5 L563.5 604.2 L562.0 604.0 L560.5 603.8 L559.0 603.7 L557.5 603.6 L556.0 603.7 L554.5 603.8 L553.0 603.9 L551.5 604.1 L550.0 604.3 L548.5 604.5 L547.0 604.8 L545.5 605.1 L544.0 605.4 L542.5 605.8 L540.9 606.3 L539.4 606.8 L537.9 607.4 L536.4 608.2 L534.9 609.2 L533.4 610.5 L531.9 612.1 L530.4 614.1 L528.9 616.5 L527.4 618.9 L525.9 621.2 L524.4 623.1 L522.9 624.8Z" fill="#A5142F" fill-opacity="0.2"/>
<path d="M522.9 618.3 L524.4 616.1 L525.9 613.7 L527.4 611.0 L528.9 608.2 L530.4 605.6 L531.9 603.5 L533.4 601.8 L534.9 600.5 L536.4 599.5 L537.9 598.8 L539.4 598.1 L540.9 597.6 L542.5 597.1 L544.0 596.7 L545.5 596.4 L547.0 596.1 L548.5 595.8 L550.0 595.6 L551.5 595.4 L553.0 595.2 L554.5 595.1 L556.0 595.0 L557.5 594.9 L559.0 595.0 L560.5 595.1 L562.0 595.3 L563.5 595.5 L565.0 595.8 L566.5 596.1 L568.0 596.4 L569.5 596.8 L571.0 597.2 L572.5 597.7 L574.0 598.2 L575.5 598.7 L577.0 599.2 L578.5 599.8 L580.0 600.3 L581.5 600.8 L583.0 601.3 L584.5 601.8 L586.0 602.2 L587.5 602.7 L589.0 603.2 L590.5 603.6 L592.0 604.0 L593.5 604.3 L595.0 604.6 L596.5 604.9 L598.0 605.1 L599.5 605.4 L601.0 605.6 L602.5 605.8 L604.0 605.9 L605.5 606.1 L607.0 606.2 L608.5 606.3 L610.0 606.4 L611.5 606.4 L613.0 606.4 L614.5 606.4 L616.0 606.4 L617.5 606.4 L619.0 606.3 L620.5 606.3 L622.0 606.2 L623.5 606.1 L625.0 606.0 L626.5 605.8 L628.0 605.7 L629.5 605.5 L631.0 605.2 L632.5 605.0 L634.0 604.7 L635.5 604.4 L637.0 604.1 L638.5 603.8 L640.0 603.4 L641.5 603.1 L643.0 602.7 L644.5 602.3 L646.0 601.9 L647.5 601.5 L649.0 601.0 L650.5 600.5 L652.0 599.9 L653.5 599.3 L655.0 598.8 L656.5 598.4 L658.0 598.2 L659.5 598.2 L661.0 598.3 L662.5 598.7 L664.0 599.2 L665.5 599.8 L667.0 600.5 L668.5 601.3 L670.0 602.1 L671.5 602.8 L673.0 603.5 L674.5 604.1 L676.0 604.7 L677.5 605.2 L679.0 605.7 L680.5 606.0 L682.0 606.2 L683.6 606.2 L685.1 606.0 L686.6 605.6 L688.1 605.1 L689.6 604.6 L691.1 604.2 L692.6 603.9 L694.1 603.6 L695.6 603.4 L697.1 603.3 L698.6 603.2 L700.1 603.3 L701.6 603.5 L703.1 603.7 L704.6 604.0 L706.1 604.3 L707.6 604.6 L709.1 605.0 L710.6 605.4 L712.1 605.8 L713.6 606.3 L715.1 606.8 L716.6 607.2 L718.1 607.7 L719.6 608.1 L721.1 608.5 L722.6 608.9 L724.1 609.3 L725.6 609.7 L727.1 610.1 L728.6 610.5 L730.1 610.9 L731.6 611.4 L733.1 611.9 L734.6 612.4 L736.1 613.0 L737.6 613.7 L739.1 614.5 L740.6 615.5 L742.1 616.6 L743.6 617.7 L745.1 618.9 L746.6 620.2 L748.1 621.5 L749.6 622.8 L751.1 624.1 L752.6 625.3 L754.1 626.5 L755.6 627.5 L757.1 628.3 L758.6 629.0 L760.1 629.6 L761.6 629.9 L763.1 630.1 L764.6 630.0 L766.1 629.6 L767.6 629.1 L769.1 628.3 L770.6 627.4 L772.1 626.4 L773.6 625.2 L775.1 623.9 L776.6 622.7 L778.1 621.4 L779.6 620.2 L781.1 619.0" fill="none" stroke="#A5142F" stroke-width="6" stroke-linejoin="round"/>
<path d="M522.94 611.39H781.12" stroke="#333" stroke-width="3" stroke-dasharray="3 3.11" fill="none"/>
<rect x="522.94" y="684.98" width="8.69" height="9.80" fill="#A5142F"/><path d="M524.73 684.98h1.65V694.78h-1.65zM528.18 684.98h1.65V694.78h-1.65z" fill="#000"/>
<rect x="537.49" y="684.98" width="40.82" height="9.80" fill="#A5142F"/><path d="M539.72 684.98h2.06V694.78h-2.06zM544.00 684.98h2.06V694.78h-2.06zM548.29 684.98h2.06V694.78h-2.06zM552.58 684.98h2.06V694.78h-2.06zM556.87 684.98h2.06V694.78h-2.06zM561.16 684.98h2.06V694.78h-2.06zM565.44 684.98h2.06V694.78h-2.06zM569.73 684.98h2.06V694.78h-2.06zM574.02 684.98h2.06V694.78h-2.06z" fill="#000"/>
<rect x="595.03" y="684.98" width="52.77" height="9.80" fill="#A5142F"/><path d="M597.41 684.98h2.20V694.78h-2.20zM601.99 684.98h2.20V694.78h-2.20zM606.57 684.98h2.20V694.78h-2.20zM611.15 684.98h2.20V694.78h-2.20zM615.73 684.98h2.20V694.78h-2.20zM620.31 684.98h2.20V694.78h-2.20zM624.89 684.98h2.20V694.78h-2.20zM629.47 684.98h2.20V694.78h-2.20zM634.05 684.98h2.20V694.78h-2.20zM638.63 684.98h2.20V694.78h-2.20zM643.21 684.98h2.20V694.78h-2.20z" fill="#000"/>
<rect x="670.59" y="684.98" width="53.63" height="9.80" fill="#A5142F"/><path d="M672.82 684.98h2.06V694.78h-2.06zM677.11 684.98h2.06V694.78h-2.06zM681.39 684.98h2.06V694.78h-2.06zM685.67 684.98h2.06V694.78h-2.06zM689.96 684.98h2.06V694.78h-2.06zM694.24 684.98h2.06V694.78h-2.06zM698.53 684.98h2.06V694.78h-2.06zM702.81 684.98h2.06V694.78h-2.06zM707.09 684.98h2.06V694.78h-2.06zM711.38 684.98h2.06V694.78h-2.06zM715.66 684.98h2.06V694.78h-2.06zM719.94 684.98h2.06V694.78h-2.06z" fill="#000"/>
<rect x="757.45" y="684.98" width="23.67" height="9.80" fill="#A5142F"/><path d="M759.68 684.98h2.06V694.78h-2.06zM763.97 684.98h2.06V694.78h-2.06zM768.26 684.98h2.06V694.78h-2.06zM772.54 684.98h2.06V694.78h-2.06zM776.83 684.98h2.06V694.78h-2.06z" fill="#000"/>
<path d="M522.94 528.01V694.78H781.12" stroke="#505050" stroke-width="1" fill="none"/>
<path d="M522.94 528.01h2.7M522.94 569.70h2.7M522.94 611.39h2.7M522.94 653.09h2.7M522.94 694.78h2.7M522.94 694.78v-2.7M652.03 694.78v-2.7M781.12 694.78v-2.7" stroke="#505050" stroke-width="1" fill="none"/>
<text transform="translate(515.1 535.6) scale(1 1.065)" text-anchor="end" class="t">1</text>
<text transform="translate(515.1 577.3) scale(1 1.065)" text-anchor="end" class="t">0.5</text>
<text transform="translate(515.1 619.0) scale(1 1.065)" text-anchor="end" class="t">0</text>
<text transform="translate(515.1 660.7) scale(1 1.065)" text-anchor="end" class="t">-0.5</text>
<text transform="translate(515.1 703.3) scale(1 1.065)" text-anchor="end" class="t">-1</text>
<text transform="translate(522.9 721.3) scale(1 1.065)" text-anchor="middle" class="t">0</text>
<text transform="translate(652.0 721.3) scale(1 1.065)" text-anchor="middle" class="t">50</text>
<text transform="translate(781.1 721.3) scale(1 1.065)" text-anchor="middle" class="t">100</text>
<text transform="translate(445.4 611.4) rotate(-90) scale(1 1.065)" text-anchor="middle" class="l">Knee</text>
<text transform="translate(472.3 611.4) rotate(-90) scale(1 1.065)" text-anchor="middle" class="l">Flex [Nm/kg] Ext</text>
</g>
<g id="knee_pow">
<path d="M896.6 563.9 L898.1 555.3 L899.6 548.7 L901.1 545.0 L902.6 545.2 L904.1 549.5 L905.6 557.2 L907.1 566.8 L908.6 576.6 L910.1 585.5 L911.7 593.1 L913.2 599.3 L914.7 604.3 L916.2 608.0 L917.7 610.0 L919.2 610.3 L920.7 608.9 L922.2 606.1 L923.7 602.2 L925.2 597.4 L926.7 591.9 L928.2 586.0 L929.7 580.0 L931.2 574.2 L932.7 568.8 L934.2 564.0 L935.7 560.0 L937.2 556.7 L938.7 554.2 L940.2 552.6 L941.7 551.9 L943.2 552.0 L944.7 552.9 L946.2 554.4 L947.7 556.3 L949.2 558.6 L950.7 560.9 L952.2 563.2 L953.7 565.6 L955.2 567.9 L956.7 570.1 L958.2 572.3 L959.7 574.4 L961.2 576.3 L962.7 578.1 L964.2 579.8 L965.7 581.3 L967.2 582.7 L968.7 583.9 L970.2 584.9 L971.7 585.7 L973.2 586.4 L974.7 587.0 L976.3 587.5 L977.8 588.0 L979.3 588.4 L980.8 588.7 L982.3 589.0 L983.8 589.1 L985.3 589.3 L986.8 589.4 L988.3 589.4 L989.8 589.3 L991.3 589.2 L992.8 588.9 L994.3 588.5 L995.8 587.9 L997.3 587.2 L998.8 586.4 L1000.3 585.5 L1001.8 584.6 L1003.3 583.7 L1004.8 582.8 L1006.3 582.0 L1007.8 581.3 L1009.3 580.7 L1010.8 580.4 L1012.3 580.4 L1013.8 580.8 L1015.3 581.6 L1016.8 582.9 L1018.3 584.6 L1019.8 586.7 L1021.3 589.1 L1022.8 591.5 L1024.3 593.9 L1025.8 596.1 L1027.3 598.1 L1028.8 599.6 L1030.3 600.7 L1031.8 601.4 L1033.3 601.6 L1034.8 601.4 L1036.3 600.8 L1037.8 600.1 L1039.3 599.3 L1040.9 598.5 L1042.4 597.9 L1043.9 597.4 L1045.4 597.2 L1046.9 597.1 L1048.4 597.0 L1049.9 597.1 L1051.4 597.4 L1052.9 598.1 L1054.4 599.1 L1055.9 600.1 L1057.4 601.0 L1058.9 601.8 L1060.4 602.4 L1061.9 602.7 L1063.4 602.8 L1064.9 602.6 L1066.4 601.9 L1067.9 600.8 L1069.4 599.4 L1070.9 597.8 L1072.4 595.9 L1073.9 593.8 L1075.4 591.8 L1076.9 589.8 L1078.4 588.0 L1079.9 586.3 L1081.4 585.0 L1082.9 584.0 L1084.4 583.2 L1085.9 582.5 L1087.4 582.0 L1088.9 581.6 L1090.4 581.2 L1091.9 580.9 L1093.4 580.7 L1094.9 580.5 L1096.4 580.5 L1097.9 580.6 L1099.4 580.8 L1100.9 581.3 L1102.4 581.9 L1103.9 582.5 L1105.5 583.4 L1107.0 584.4 L1108.5 585.7 L1110.0 587.2 L1111.5 589.2 L1113.0 591.6 L1114.5 594.4 L1116.0 597.6 L1117.5 600.9 L1119.0 604.4 L1120.5 608.0 L1122.0 611.4 L1123.5 614.7 L1125.0 617.6 L1126.5 620.1 L1128.0 622.3 L1129.5 623.9 L1131.0 625.1 L1132.5 625.7 L1134.0 625.7 L1135.5 625.0 L1137.0 623.6 L1138.5 621.2 L1140.0 618.0 L1141.5 613.6 L1143.0 608.4 L1144.5 602.6 L1146.0 596.5 L1147.5 590.5 L1149.0 584.7 L1150.5 579.5 L1152.0 575.1 L1153.5 571.5 L1155.0 568.6 L1155.0 594.7 L1153.5 597.6 L1152.0 601.2 L1150.5 605.6 L1149.0 610.8 L1147.5 616.7 L1146.0 623.1 L1144.5 629.7 L1143.0 636.3 L1141.5 642.6 L1140.0 648.2 L1138.5 652.8 L1137.0 656.2 L1135.5 658.4 L1134.0 659.4 L1132.5 659.3 L1131.0 658.2 L1129.5 656.2 L1128.0 653.4 L1126.5 649.8 L1125.0 645.5 L1123.5 640.6 L1122.0 635.4 L1120.5 629.9 L1119.0 624.4 L1117.5 619.2 L1116.0 614.2 L1114.5 609.6 L1113.0 605.4 L1111.5 601.8 L1110.0 598.8 L1108.5 596.3 L1107.0 594.3 L1105.5 592.7 L1103.9 591.5 L1102.4 590.7 L1100.9 590.0 L1099.4 589.5 L1097.9 589.3 L1096.4 589.2 L1094.9 589.2 L1093.4 589.4 L1091.9 589.8 L1090.4 590.3 L1088.9 591.0 L1087.4 592.1 L1085.9 593.6 L1084.4 595.5 L1082.9 597.7 L1081.4 600.3 L1079.9 603.3 L1078.4 606.7 L1076.9 610.2 L1075.4 613.8 L1073.9 617.4 L1072.4 621.0 L1070.9 624.4 L1069.4 627.6 L1067.9 630.5 L1066.4 633.0 L1064.9 635.2 L1063.4 636.9 L1061.9 638.1 L1060.4 639.0 L1058.9 639.6 L1057.4 640.0 L1055.9 640.3 L1054.4 640.6 L1052.9 641.0 L1051.4 641.9 L1049.9 643.3 L1048.4 645.0 L1046.9 646.7 L1045.4 648.2 L1043.9 649.4 L1042.4 649.9 L1040.9 649.8 L1039.3 649.0 L1037.8 647.7 L1036.3 646.0 L1034.8 644.0 L1033.3 641.8 L1031.8 639.3 L1030.3 636.4 L1028.8 633.3 L1027.3 629.7 L1025.8 625.9 L1024.3 622.0 L1022.8 618.1 L1021.3 614.3 L1019.8 610.7 L1018.3 607.4 L1016.8 604.6 L1015.3 602.4 L1013.8 600.6 L1012.3 599.3 L1010.8 598.5 L1009.3 598.0 L1007.8 597.7 L1006.3 597.7 L1004.8 597.7 L1003.3 597.8 L1001.8 598.0 L1000.3 598.2 L998.8 598.6 L997.3 598.9 L995.8 599.3 L994.3 599.7 L992.8 599.9 L991.3 600.1 L989.8 600.2 L988.3 600.3 L986.8 600.2 L985.3 600.1 L983.8 600.0 L982.3 599.8 L980.8 599.6 L979.3 599.2 L977.8 598.8 L976.3 598.4 L974.7 597.9 L973.2 597.3 L971.7 596.7 L970.2 596.1 L968.7 595.5 L967.2 594.8 L965.7 594.1 L964.2 593.3 L962.7 592.5 L961.2 591.7 L959.7 590.8 L958.2 589.7 L956.7 588.6 L955.2 587.4 L953.7 586.1 L952.2 584.9 L950.7 583.6 L949.2 582.3 L947.7 581.1 L946.2 580.1 L944.7 579.5 L943.2 579.2 L941.7 579.5 L940.2 580.3 L938.7 581.9 L937.2 584.1 L935.7 587.2 L934.2 591.1 L932.7 596.0 L931.2 602.1 L929.7 609.3 L928.2 617.5 L926.7 626.3 L925.2 634.9 L923.7 642.8 L922.2 649.4 L920.7 654.4 L919.2 657.3 L917.7 657.6 L916.2 655.3 L914.7 650.6 L913.2 644.1 L911.7 636.2 L910.1 627.3 L908.6 617.7 L907.1 607.6 L905.6 598.1 L904.1 590.0 L902.6 584.4 L901.1 581.2 L899.6 579.9 L898.1 579.7 L896.6 580.0Z" fill="#404040" fill-opacity="0.2"/>
<path d="M896.6 572.0 L898.1 567.5 L899.6 564.3 L901.1 563.1 L902.6 564.8 L904.1 569.7 L905.6 577.6 L907.1 587.2 L908.6 597.1 L910.1 606.4 L911.7 614.6 L913.2 621.7 L914.7 627.5 L916.2 631.7 L917.7 633.8 L919.2 633.8 L920.7 631.6 L922.2 627.7 L923.7 622.5 L925.2 616.2 L926.7 609.1 L928.2 601.8 L929.7 594.6 L931.2 588.1 L932.7 582.4 L934.2 577.5 L935.7 573.6 L937.2 570.4 L938.7 568.0 L940.2 566.5 L941.7 565.7 L943.2 565.6 L944.7 566.2 L946.2 567.3 L947.7 568.7 L949.2 570.4 L950.7 572.2 L952.2 574.1 L953.7 575.9 L955.2 577.6 L956.7 579.4 L958.2 581.0 L959.7 582.6 L961.2 584.0 L962.7 585.3 L964.2 586.5 L965.7 587.7 L967.2 588.7 L968.7 589.7 L970.2 590.5 L971.7 591.2 L973.2 591.8 L974.7 592.4 L976.3 592.9 L977.8 593.4 L979.3 593.8 L980.8 594.1 L982.3 594.4 L983.8 594.6 L985.3 594.7 L986.8 594.8 L988.3 594.8 L989.8 594.8 L991.3 594.7 L992.8 594.4 L994.3 594.1 L995.8 593.6 L997.3 593.1 L998.8 592.5 L1000.3 591.9 L1001.8 591.3 L1003.3 590.8 L1004.8 590.3 L1006.3 589.9 L1007.8 589.5 L1009.3 589.3 L1010.8 589.4 L1012.3 589.9 L1013.8 590.7 L1015.3 592.0 L1016.8 593.7 L1018.3 596.0 L1019.8 598.7 L1021.3 601.7 L1022.8 604.8 L1024.3 607.9 L1025.8 611.0 L1027.3 613.9 L1028.8 616.5 L1030.3 618.6 L1031.8 620.3 L1033.3 621.7 L1034.8 622.7 L1036.3 623.4 L1037.8 623.9 L1039.3 624.1 L1040.9 624.1 L1042.4 623.9 L1043.9 623.4 L1045.4 622.7 L1046.9 621.9 L1048.4 621.0 L1049.9 620.2 L1051.4 619.7 L1052.9 619.6 L1054.4 619.8 L1055.9 620.2 L1057.4 620.5 L1058.9 620.7 L1060.4 620.7 L1061.9 620.4 L1063.4 619.9 L1064.9 618.9 L1066.4 617.4 L1067.9 615.6 L1069.4 613.5 L1070.9 611.1 L1072.4 608.4 L1073.9 605.6 L1075.4 602.8 L1076.9 600.0 L1078.4 597.3 L1079.9 594.8 L1081.4 592.6 L1082.9 590.8 L1084.4 589.3 L1085.9 588.1 L1087.4 587.1 L1088.9 586.3 L1090.4 585.7 L1091.9 585.3 L1093.4 585.0 L1094.9 584.9 L1096.4 584.8 L1097.9 584.9 L1099.4 585.2 L1100.9 585.7 L1102.4 586.3 L1103.9 587.0 L1105.5 588.0 L1107.0 589.3 L1108.5 591.0 L1110.0 593.0 L1111.5 595.5 L1113.0 598.5 L1114.5 602.0 L1116.0 605.9 L1117.5 610.0 L1119.0 614.4 L1120.5 618.9 L1122.0 623.4 L1123.5 627.6 L1125.0 631.5 L1126.5 635.0 L1128.0 637.9 L1129.5 640.1 L1131.0 641.6 L1132.5 642.5 L1134.0 642.6 L1135.5 641.7 L1137.0 639.9 L1138.5 637.0 L1140.0 633.1 L1141.5 628.1 L1143.0 622.4 L1144.5 616.1 L1146.0 609.8 L1147.5 603.6 L1149.0 597.7 L1150.5 592.5 L1152.0 588.1 L1153.5 584.6 L1155.0 581.7" fill="none" stroke="#404040" stroke-width="6" stroke-linejoin="round"/>
<path d="M896.6 585.8 L898.1 586.0 L899.6 586.3 L901.1 586.5 L902.6 586.7 L904.1 586.8 L905.6 586.9 L907.1 587.1 L908.6 587.2 L910.1 587.3 L911.7 587.3 L913.2 587.3 L914.7 587.2 L916.2 587.0 L917.7 586.8 L919.2 586.6 L920.7 586.4 L922.2 586.3 L923.7 586.1 L925.2 585.8 L926.7 585.5 L928.2 585.3 L929.7 585.0 L931.2 584.8 L932.7 584.7 L934.2 584.6 L935.7 584.5 L937.2 584.5 L938.7 584.4 L940.2 584.5 L941.7 584.5 L943.2 584.7 L944.7 584.8 L946.2 585.0 L947.7 585.2 L949.2 585.3 L950.7 585.5 L952.2 585.7 L953.7 585.9 L955.2 586.1 L956.7 586.2 L958.2 586.4 L959.7 586.5 L961.2 586.7 L962.7 586.8 L964.2 587.0 L965.7 587.1 L967.2 587.2 L968.7 587.3 L970.2 587.4 L971.7 587.5 L973.2 587.5 L974.7 587.6 L976.3 587.6 L977.8 587.6 L979.3 587.6 L980.8 587.7 L982.3 587.7 L983.8 587.7 L985.3 587.7 L986.8 587.7 L988.3 587.7 L989.8 587.7 L991.3 587.7 L992.8 587.7 L994.3 587.7 L995.8 587.7 L997.3 587.6 L998.8 587.6 L1000.3 587.5 L1001.8 587.4 L1003.3 587.4 L1004.8 587.3 L1006.3 587.2 L1007.8 587.2 L1009.3 587.4 L1010.8 587.6 L1012.3 587.8 L1013.8 588.1 L1015.3 588.5 L1016.8 588.8 L1018.3 589.1 L1019.8 589.3 L1021.3 589.5 L1022.8 589.8 L1024.3 590.0 L1025.8 590.2 L1027.3 590.6 L1028.8 591.1 L1030.3 591.8 L1031.8 592.6 L1033.3 593.5 L1034.8 594.4 L1036.3 595.3 L1037.8 595.9 L1039.3 596.2 L1040.9 596.0 L1042.4 595.4 L1043.9 594.6 L1045.4 593.8 L1046.9 593.2 L1048.4 592.7 L1049.9 592.5 L1051.4 592.2 L1052.9 592.0 L1054.4 591.6 L1055.9 591.2 L1057.4 591.1 L1058.9 591.3 L1060.4 591.8 L1061.9 592.5 L1063.4 593.4 L1064.9 594.3 L1066.4 595.1 L1067.9 595.6 L1069.4 595.8 L1070.9 595.7 L1072.4 595.4 L1073.9 594.9 L1075.4 594.2 L1076.9 593.4 L1078.4 592.3 L1079.9 591.3 L1081.4 590.2 L1082.9 589.2 L1084.4 588.3 L1085.9 587.6 L1087.4 587.1 L1088.9 586.8 L1090.4 586.6 L1091.9 586.5 L1093.4 586.4 L1094.9 586.4 L1096.4 586.3 L1097.9 586.4 L1099.4 586.4 L1100.9 586.5 L1102.4 586.8 L1103.9 587.3 L1105.5 588.1 L1107.0 589.1 L1108.5 590.3 L1110.0 591.7 L1111.5 593.3 L1113.0 595.0 L1114.5 596.7 L1116.0 598.5 L1117.5 600.2 L1119.0 601.9 L1120.5 603.4 L1122.0 604.7 L1123.5 605.6 L1125.0 606.1 L1126.5 606.2 L1128.0 606.2 L1129.5 606.0 L1131.0 605.6 L1132.5 605.0 L1134.0 604.2 L1135.5 603.1 L1137.0 601.8 L1138.5 600.1 L1140.0 598.0 L1141.5 595.8 L1143.0 593.5 L1144.5 591.1 L1146.0 588.8 L1147.5 586.7 L1149.0 585.1 L1150.5 584.2 L1152.0 583.9 L1153.5 584.2 L1155.0 584.8 L1155.0 595.6 L1153.5 597.2 L1152.0 599.1 L1150.5 601.5 L1149.0 604.4 L1147.5 607.8 L1146.0 611.6 L1144.5 615.6 L1143.0 619.4 L1141.5 623.2 L1140.0 626.8 L1138.5 630.1 L1137.0 633.0 L1135.5 635.3 L1134.0 637.1 L1132.5 638.3 L1131.0 638.6 L1129.5 638.0 L1128.0 636.5 L1126.5 634.2 L1125.0 631.4 L1123.5 628.3 L1122.0 625.1 L1120.5 621.9 L1119.0 618.6 L1117.5 615.5 L1116.0 612.4 L1114.5 609.4 L1113.0 606.6 L1111.5 603.9 L1110.0 601.4 L1108.5 599.2 L1107.0 597.3 L1105.5 595.6 L1103.9 594.2 L1102.4 593.1 L1100.9 592.3 L1099.4 591.7 L1097.9 591.3 L1096.4 591.1 L1094.9 591.0 L1093.4 591.0 L1091.9 591.3 L1090.4 591.6 L1088.9 592.2 L1087.4 592.9 L1085.9 593.9 L1084.4 595.2 L1082.9 596.7 L1081.4 598.5 L1079.9 600.3 L1078.4 602.3 L1076.9 604.4 L1075.4 606.4 L1073.9 608.3 L1072.4 609.9 L1070.9 611.1 L1069.4 612.0 L1067.9 612.3 L1066.4 612.1 L1064.9 611.6 L1063.4 610.7 L1061.9 609.9 L1060.4 609.2 L1058.9 608.8 L1057.4 608.8 L1055.9 609.3 L1054.4 610.1 L1052.9 611.1 L1051.4 612.0 L1049.9 612.8 L1048.4 613.6 L1046.9 614.4 L1045.4 615.3 L1043.9 616.2 L1042.4 617.1 L1040.9 617.7 L1039.3 617.9 L1037.8 617.6 L1036.3 616.9 L1034.8 615.9 L1033.3 614.6 L1031.8 613.1 L1030.3 611.4 L1028.8 609.5 L1027.3 607.4 L1025.8 605.4 L1024.3 603.3 L1022.8 601.4 L1021.3 599.6 L1019.8 598.1 L1018.3 596.7 L1016.8 595.7 L1015.3 594.8 L1013.8 594.1 L1012.3 593.4 L1010.8 592.9 L1009.3 592.4 L1007.8 592.1 L1006.3 591.8 L1004.8 591.7 L1003.3 591.6 L1001.8 591.5 L1000.3 591.4 L998.8 591.4 L997.3 591.3 L995.8 591.3 L994.3 591.2 L992.8 591.2 L991.3 591.2 L989.8 591.2 L988.3 591.2 L986.8 591.2 L985.3 591.2 L983.8 591.2 L982.3 591.2 L980.8 591.3 L979.3 591.3 L977.8 591.3 L976.3 591.3 L974.7 591.3 L973.2 591.3 L971.7 591.3 L970.2 591.3 L968.7 591.3 L967.2 591.2 L965.7 591.2 L964.2 591.1 L962.7 591.0 L961.2 590.9 L959.7 590.8 L958.2 590.7 L956.7 590.7 L955.2 590.6 L953.7 590.5 L952.2 590.4 L950.7 590.3 L949.2 590.2 L947.7 590.1 L946.2 590.0 L944.7 590.0 L943.2 590.0 L941.7 590.0 L940.2 590.1 L938.7 590.2 L937.2 590.4 L935.7 590.6 L934.2 590.9 L932.7 591.3 L931.2 591.8 L929.7 592.4 L928.2 593.1 L926.7 593.9 L925.2 594.8 L923.7 595.7 L922.2 596.6 L920.7 597.4 L919.2 598.1 L917.7 598.8 L916.2 599.3 L914.7 599.8 L913.2 600.0 L911.7 600.0 L910.1 599.9 L908.6 599.5 L907.1 599.0 L905.6 598.3 L904.1 597.6 L902.6 596.7 L901.1 595.8 L899.6 594.7 L898.1 593.5 L896.6 592.3Z" fill="#A5142F" fill-opacity="0.2"/>
<path d="M896.6 589.0 L898.1 589.8 L899.6 590.5 L901.1 591.1 L902.6 591.7 L904.1 592.2 L905.6 592.6 L907.1 593.0 L908.6 593.4 L910.1 593.6 L911.7 593.7 L913.2 593.6 L914.7 593.5 L916.2 593.2 L917.7 592.8 L919.2 592.4 L920.7 591.9 L922.2 591.4 L923.7 590.9 L925.2 590.3 L926.7 589.7 L928.2 589.2 L929.7 588.7 L931.2 588.3 L932.7 588.0 L934.2 587.7 L935.7 587.6 L937.2 587.4 L938.7 587.3 L940.2 587.3 L941.7 587.3 L943.2 587.3 L944.7 587.4 L946.2 587.5 L947.7 587.6 L949.2 587.8 L950.7 587.9 L952.2 588.1 L953.7 588.2 L955.2 588.3 L956.7 588.5 L958.2 588.6 L959.7 588.7 L961.2 588.8 L962.7 588.9 L964.2 589.0 L965.7 589.1 L967.2 589.2 L968.7 589.3 L970.2 589.4 L971.7 589.4 L973.2 589.4 L974.7 589.5 L976.3 589.5 L977.8 589.5 L979.3 589.5 L980.8 589.5 L982.3 589.5 L983.8 589.5 L985.3 589.5 L986.8 589.5 L988.3 589.5 L989.8 589.5 L991.3 589.5 L992.8 589.5 L994.3 589.5 L995.8 589.5 L997.3 589.5 L998.8 589.5 L1000.3 589.5 L1001.8 589.5 L1003.3 589.5 L1004.8 589.5 L1006.3 589.5 L1007.8 589.7 L1009.3 589.9 L1010.8 590.2 L1012.3 590.6 L1013.8 591.1 L1015.3 591.6 L1016.8 592.2 L1018.3 592.9 L1019.8 593.7 L1021.3 594.6 L1022.8 595.6 L1024.3 596.7 L1025.8 597.8 L1027.3 599.0 L1028.8 600.3 L1030.3 601.6 L1031.8 602.9 L1033.3 604.1 L1034.8 605.2 L1036.3 606.1 L1037.8 606.8 L1039.3 607.0 L1040.9 606.8 L1042.4 606.2 L1043.9 605.4 L1045.4 604.5 L1046.9 603.8 L1048.4 603.2 L1049.9 602.7 L1051.4 602.1 L1052.9 601.5 L1054.4 600.9 L1055.9 600.3 L1057.4 599.9 L1058.9 600.0 L1060.4 600.5 L1061.9 601.2 L1063.4 602.1 L1064.9 602.9 L1066.4 603.6 L1067.9 603.9 L1069.4 603.9 L1070.9 603.4 L1072.4 602.6 L1073.9 601.6 L1075.4 600.3 L1076.9 598.9 L1078.4 597.3 L1079.9 595.8 L1081.4 594.3 L1082.9 592.9 L1084.4 591.7 L1085.9 590.7 L1087.4 590.0 L1088.9 589.5 L1090.4 589.1 L1091.9 588.9 L1093.4 588.7 L1094.9 588.7 L1096.4 588.7 L1097.9 588.8 L1099.4 589.1 L1100.9 589.4 L1102.4 589.9 L1103.9 590.7 L1105.5 591.8 L1107.0 593.2 L1108.5 594.8 L1110.0 596.6 L1111.5 598.6 L1113.0 600.8 L1114.5 603.1 L1116.0 605.4 L1117.5 607.8 L1119.0 610.3 L1120.5 612.7 L1122.0 614.9 L1123.5 616.9 L1125.0 618.7 L1126.5 620.2 L1128.0 621.3 L1129.5 622.0 L1131.0 622.1 L1132.5 621.7 L1134.0 620.7 L1135.5 619.2 L1137.0 617.4 L1138.5 615.1 L1140.0 612.4 L1141.5 609.5 L1143.0 606.5 L1144.5 603.3 L1146.0 600.2 L1147.5 597.3 L1149.0 594.8 L1150.5 592.9 L1152.0 591.5 L1153.5 590.7 L1155.0 590.2" fill="none" stroke="#A5142F" stroke-width="6" stroke-linejoin="round"/>
<path d="M896.63 590.11H1155.03" stroke="#333" stroke-width="3" stroke-dasharray="3 3.11" fill="none"/>
<rect x="896.63" y="684.98" width="8.25" height="9.80" fill="#A5142F"/><path d="M898.33 684.98h1.57V694.78h-1.57zM901.61 684.98h1.57V694.78h-1.57z" fill="#000"/>
<rect x="908.14" y="684.98" width="21.06" height="9.80" fill="#A5142F"/><path d="M910.12 684.98h1.83V694.78h-1.83zM913.94 684.98h1.83V694.78h-1.83zM917.75 684.98h1.83V694.78h-1.83zM921.57 684.98h1.83V694.78h-1.83zM925.38 684.98h1.83V694.78h-1.83z" fill="#000"/>
<rect x="932.89" y="684.98" width="30.40" height="9.80" fill="#A5142F"/><path d="M934.99 684.98h1.94V694.78h-1.94zM939.04 684.98h1.94V694.78h-1.94zM943.08 684.98h1.94V694.78h-1.94zM947.12 684.98h1.94V694.78h-1.94zM951.16 684.98h1.94V694.78h-1.94zM955.21 684.98h1.94V694.78h-1.94zM959.25 684.98h1.94V694.78h-1.94z" fill="#000"/>
<rect x="975.23" y="684.98" width="22.37" height="9.80" fill="#A5142F"/><path d="M977.34 684.98h1.94V694.78h-1.94zM981.39 684.98h1.94V694.78h-1.94zM985.44 684.98h1.94V694.78h-1.94zM989.50 684.98h1.94V694.78h-1.94zM993.55 684.98h1.94V694.78h-1.94z" fill="#000"/>
<rect x="1024.74" y="684.98" width="47.34" height="9.80" fill="#A5142F"/><path d="M1027.08 684.98h2.16V694.78h-2.16zM1031.58 684.98h2.16V694.78h-2.16zM1036.08 684.98h2.16V694.78h-2.16zM1040.58 684.98h2.16V694.78h-2.16zM1045.08 684.98h2.16V694.78h-2.16zM1049.58 684.98h2.16V694.78h-2.16zM1054.08 684.98h2.16V694.78h-2.16zM1058.58 684.98h2.16V694.78h-2.16zM1063.08 684.98h2.16V694.78h-2.16zM1067.58 684.98h2.16V694.78h-2.16z" fill="#000"/>
<rect x="1088.37" y="684.98" width="11.29" height="9.80" fill="#A5142F"/><path d="M1090.70 684.98h2.15V694.78h-2.15zM1095.18 684.98h2.15V694.78h-2.15z" fill="#000"/>
<rect x="1123.54" y="684.98" width="21.71" height="9.80" fill="#A5142F"/><path d="M1125.59 684.98h1.89V694.78h-1.89zM1129.52 684.98h1.89V694.78h-1.89zM1133.46 684.98h1.89V694.78h-1.89zM1137.39 684.98h1.89V694.78h-1.89zM1141.32 684.98h1.89V694.78h-1.89z" fill="#000"/>
<path d="M896.63 528.01V694.78H1155.03" stroke="#505050" stroke-width="1" fill="none"/>
<path d="M896.63 548.21h2.7M896.63 590.11h2.7M896.63 632.02h2.7M896.63 674.15h2.7M896.63 694.78v-2.7M1025.83 694.78v-2.7M1155.03 694.78v-2.7" stroke="#505050" stroke-width="1" fill="none"/>
<text transform="translate(888.8 555.8) scale(1 1.065)" text-anchor="end" class="t">1</text>
<text transform="translate(888.8 597.7) scale(1 1.065)" text-anchor="end" class="t">0</text>
<text transform="translate(888.8 639.6) scale(1 1.065)" text-anchor="end" class="t">-1</text>
<text transform="translate(888.8 681.7) scale(1 1.065)" text-anchor="end" class="t">-2</text>
<text transform="translate(896.6 721.3) scale(1 1.065)" text-anchor="middle" class="t">0</text>
<text transform="translate(1025.8 721.3) scale(1 1.065)" text-anchor="middle" class="t">50</text>
<text transform="translate(1155.0 721.3) scale(1 1.065)" text-anchor="middle" class="t">100</text>
<text transform="translate(835.1 611.4) rotate(-90) scale(1 1.065)" text-anchor="middle" class="l">Knee</text>
<text transform="translate(862.0 611.4) rotate(-90) scale(1 1.065)" text-anchor="middle" class="l">Abs [W/kg] Gen</text>
</g>
<g id="hip_cor_mom">
<path d="M1270.3 636.4 L1271.8 636.4 L1273.3 636.7 L1274.8 636.8 L1276.3 636.0 L1277.8 633.9 L1279.3 630.3 L1280.8 625.6 L1282.3 620.0 L1283.8 614.1 L1285.3 608.1 L1286.8 602.1 L1288.3 596.3 L1289.8 590.9 L1291.3 585.9 L1292.8 581.2 L1294.3 577.1 L1295.8 573.4 L1297.3 570.1 L1298.8 567.1 L1300.3 564.4 L1301.8 562.1 L1303.3 560.2 L1304.8 558.5 L1306.3 557.2 L1307.8 556.2 L1309.4 555.5 L1310.9 555.2 L1312.4 555.2 L1313.9 555.5 L1315.4 556.2 L1316.9 557.3 L1318.4 558.8 L1319.9 560.5 L1321.4 562.5 L1322.9 564.8 L1324.4 567.1 L1325.9 569.6 L1327.4 572.0 L1328.9 574.2 L1330.4 576.4 L1331.9 578.5 L1333.4 580.4 L1334.9 582.2 L1336.4 583.8 L1337.9 585.1 L1339.4 586.1 L1340.9 587.0 L1342.4 587.7 L1343.9 588.2 L1345.4 588.6 L1346.9 588.9 L1348.4 589.0 L1349.9 589.0 L1351.4 588.9 L1352.9 588.7 L1354.4 588.5 L1355.9 588.2 L1357.4 587.8 L1358.9 587.4 L1360.4 586.9 L1361.9 586.3 L1363.4 585.6 L1364.9 584.8 L1366.4 583.9 L1367.9 582.8 L1369.4 581.6 L1370.9 580.1 L1372.4 578.3 L1373.9 576.4 L1375.4 574.4 L1376.9 572.4 L1378.4 570.5 L1379.9 568.6 L1381.4 567.0 L1382.9 565.6 L1384.4 564.5 L1385.9 563.9 L1387.4 563.7 L1388.9 564.0 L1390.4 564.5 L1391.9 565.5 L1393.4 566.9 L1395.0 568.8 L1396.5 571.1 L1398.0 574.1 L1399.5 577.8 L1401.0 582.2 L1402.5 587.4 L1404.0 593.2 L1405.5 599.4 L1407.0 605.9 L1408.5 612.2 L1410.0 618.0 L1411.5 623.1 L1413.0 627.3 L1414.5 630.6 L1416.0 633.1 L1417.5 635.0 L1419.0 636.3 L1420.5 637.1 L1422.0 637.6 L1423.5 638.1 L1425.0 638.6 L1426.5 639.0 L1428.0 639.5 L1429.5 639.9 L1431.0 640.3 L1432.5 640.6 L1434.0 640.9 L1435.5 641.2 L1437.0 641.3 L1438.5 641.3 L1440.0 641.2 L1441.5 641.0 L1443.0 640.7 L1444.5 640.3 L1446.0 639.8 L1447.5 639.2 L1449.0 638.6 L1450.5 638.0 L1452.0 637.4 L1453.5 636.9 L1455.0 636.4 L1456.5 635.9 L1458.0 635.4 L1459.5 634.9 L1461.0 634.4 L1462.5 634.0 L1464.0 633.6 L1465.5 633.2 L1467.0 632.9 L1468.5 632.6 L1470.0 632.3 L1471.5 632.1 L1473.0 631.8 L1474.5 631.6 L1476.0 631.5 L1477.5 631.4 L1479.0 631.4 L1480.6 631.5 L1482.1 631.6 L1483.6 631.8 L1485.1 632.0 L1486.6 632.2 L1488.1 632.4 L1489.6 632.6 L1491.1 632.8 L1492.6 633.1 L1494.1 633.3 L1495.6 633.5 L1497.1 633.8 L1498.6 634.0 L1500.1 634.2 L1501.6 634.3 L1503.1 634.4 L1504.6 634.4 L1506.1 634.3 L1507.6 634.2 L1509.1 634.1 L1510.6 633.9 L1512.1 633.6 L1513.6 633.3 L1515.1 633.0 L1516.6 632.6 L1518.1 632.2 L1519.6 631.6 L1521.1 631.1 L1522.6 630.5 L1524.1 630.0 L1525.6 629.4 L1527.1 628.9 L1528.6 628.3 L1528.6 643.0 L1527.1 643.2 L1525.6 643.4 L1524.1 643.6 L1522.6 643.8 L1521.1 644.1 L1519.6 644.4 L1518.1 644.7 L1516.6 645.0 L1515.1 645.3 L1513.6 645.6 L1512.1 645.9 L1510.6 646.1 L1509.1 646.3 L1507.6 646.4 L1506.1 646.6 L1504.6 646.6 L1503.1 646.6 L1501.6 646.5 L1500.1 646.4 L1498.6 646.2 L1497.1 646.0 L1495.6 645.8 L1494.1 645.5 L1492.6 645.3 L1491.1 645.0 L1489.6 644.8 L1488.1 644.5 L1486.6 644.2 L1485.1 643.8 L1483.6 643.5 L1482.1 643.2 L1480.6 642.8 L1479.0 642.6 L1477.5 642.4 L1476.0 642.2 L1474.5 642.1 L1473.0 642.1 L1471.5 642.2 L1470.0 642.4 L1468.5 642.6 L1467.0 642.8 L1465.5 643.1 L1464.0 643.4 L1462.5 643.8 L1461.0 644.2 L1459.5 644.7 L1458.0 645.1 L1456.5 645.6 L1455.0 646.1 L1453.5 646.7 L1452.0 647.2 L1450.5 647.8 L1449.0 648.4 L1447.5 649.0 L1446.0 649.5 L1444.5 650.1 L1443.0 650.6 L1441.5 651.0 L1440.0 651.5 L1438.5 652.0 L1437.0 652.5 L1435.5 653.0 L1434.0 653.6 L1432.5 654.3 L1431.0 655.0 L1429.5 655.7 L1428.0 656.3 L1426.5 656.9 L1425.0 657.5 L1423.5 657.9 L1422.0 658.2 L1420.5 658.4 L1419.0 658.1 L1417.5 657.3 L1416.0 655.8 L1414.5 653.6 L1413.0 650.7 L1411.5 646.9 L1410.0 642.3 L1408.5 637.1 L1407.0 631.8 L1405.5 626.5 L1404.0 621.5 L1402.5 617.1 L1401.0 613.4 L1399.5 610.1 L1398.0 607.5 L1396.5 605.3 L1395.0 603.5 L1393.4 602.2 L1391.9 601.2 L1390.4 600.5 L1388.9 600.1 L1387.4 600.0 L1385.9 600.1 L1384.4 600.4 L1382.9 600.8 L1381.4 601.3 L1379.9 601.8 L1378.4 602.2 L1376.9 602.5 L1375.4 602.9 L1373.9 603.3 L1372.4 603.7 L1370.9 604.2 L1369.4 604.7 L1367.9 605.3 L1366.4 605.8 L1364.9 606.2 L1363.4 606.7 L1361.9 607.1 L1360.4 607.4 L1358.9 607.7 L1357.4 608.0 L1355.9 608.2 L1354.4 608.3 L1352.9 608.5 L1351.4 608.6 L1349.9 608.7 L1348.4 608.7 L1346.9 608.7 L1345.4 608.5 L1343.9 608.3 L1342.4 608.0 L1340.9 607.7 L1339.4 607.2 L1337.9 606.6 L1336.4 605.7 L1334.9 604.7 L1333.4 603.4 L1331.9 601.9 L1330.4 600.4 L1328.9 598.9 L1327.4 597.2 L1325.9 595.6 L1324.4 594.0 L1322.9 592.5 L1321.4 591.2 L1319.9 590.2 L1318.4 589.3 L1316.9 588.8 L1315.4 588.5 L1313.9 588.4 L1312.4 588.5 L1310.9 588.8 L1309.4 589.2 L1307.8 589.7 L1306.3 590.3 L1304.8 591.0 L1303.3 591.9 L1301.8 592.9 L1300.3 594.3 L1298.8 596.1 L1297.3 598.3 L1295.8 601.0 L1294.3 604.1 L1292.8 607.7 L1291.3 611.8 L1289.8 616.5 L1288.3 621.6 L1286.8 627.2 L1285.3 633.1 L1283.8 639.3 L1282.3 645.7 L1280.8 652.0 L1279.3 657.7 L1277.8 661.9 L1276.3 663.5 L1274.8 662.1 L1273.3 657.5 L1271.8 650.6 L1270.3 642.0Z" fill="#404040" fill-opacity="0.2"/>
<path d="M1270.3 639.2 L1271.8 643.5 L1273.3 647.1 L1274.8 649.4 L1276.3 649.8 L1277.8 647.9 L1279.3 644.0 L1280.8 638.8 L1282.3 632.8 L1283.8 626.7 L1285.3 620.6 L1286.8 614.6 L1288.3 609.0 L1289.8 603.7 L1291.3 598.8 L1292.8 594.5 L1294.3 590.6 L1295.8 587.2 L1297.3 584.2 L1298.8 581.6 L1300.3 579.4 L1301.8 577.5 L1303.3 576.0 L1304.8 574.8 L1306.3 573.7 L1307.8 572.9 L1309.4 572.3 L1310.9 572.0 L1312.4 571.9 L1313.9 572.0 L1315.4 572.3 L1316.9 573.0 L1318.4 574.1 L1319.9 575.4 L1321.4 576.9 L1322.9 578.6 L1324.4 580.6 L1325.9 582.6 L1327.4 584.6 L1328.9 586.6 L1330.4 588.4 L1331.9 590.2 L1333.4 591.9 L1334.9 593.4 L1336.4 594.8 L1337.9 595.8 L1339.4 596.7 L1340.9 597.3 L1342.4 597.8 L1343.9 598.3 L1345.4 598.6 L1346.9 598.8 L1348.4 598.9 L1349.9 598.9 L1351.4 598.8 L1352.9 598.6 L1354.4 598.4 L1355.9 598.2 L1357.4 597.9 L1358.9 597.6 L1360.4 597.2 L1361.9 596.7 L1363.4 596.1 L1364.9 595.5 L1366.4 594.8 L1367.9 594.0 L1369.4 593.2 L1370.9 592.1 L1372.4 591.0 L1373.9 589.8 L1375.4 588.6 L1376.9 587.5 L1378.4 586.3 L1379.9 585.2 L1381.4 584.2 L1382.9 583.2 L1384.4 582.5 L1385.9 582.0 L1387.4 581.9 L1388.9 582.0 L1390.4 582.5 L1391.9 583.3 L1393.4 584.5 L1395.0 586.1 L1396.5 588.2 L1398.0 590.8 L1399.5 593.9 L1401.0 597.8 L1402.5 602.3 L1404.0 607.4 L1405.5 613.0 L1407.0 618.8 L1408.5 624.7 L1410.0 630.1 L1411.5 635.0 L1413.0 639.0 L1414.5 642.1 L1416.0 644.5 L1417.5 646.2 L1419.0 647.2 L1420.5 647.7 L1422.0 647.9 L1423.5 648.0 L1425.0 648.0 L1426.5 648.0 L1428.0 647.9 L1429.5 647.8 L1431.0 647.6 L1432.5 647.5 L1434.0 647.3 L1435.5 647.1 L1437.0 646.9 L1438.5 646.6 L1440.0 646.4 L1441.5 646.0 L1443.0 645.6 L1444.5 645.2 L1446.0 644.6 L1447.5 644.1 L1449.0 643.5 L1450.5 642.9 L1452.0 642.3 L1453.5 641.8 L1455.0 641.3 L1456.5 640.7 L1458.0 640.2 L1459.5 639.8 L1461.0 639.3 L1462.5 638.9 L1464.0 638.5 L1465.5 638.2 L1467.0 637.9 L1468.5 637.6 L1470.0 637.3 L1471.5 637.1 L1473.0 637.0 L1474.5 636.9 L1476.0 636.8 L1477.5 636.9 L1479.0 637.0 L1480.6 637.2 L1482.1 637.4 L1483.6 637.6 L1485.1 637.9 L1486.6 638.2 L1488.1 638.4 L1489.6 638.7 L1491.1 638.9 L1492.6 639.2 L1494.1 639.4 L1495.6 639.7 L1497.1 639.9 L1498.6 640.1 L1500.1 640.3 L1501.6 640.4 L1503.1 640.5 L1504.6 640.5 L1506.1 640.4 L1507.6 640.3 L1509.1 640.2 L1510.6 640.0 L1512.1 639.7 L1513.6 639.5 L1515.1 639.2 L1516.6 638.8 L1518.1 638.4 L1519.6 638.0 L1521.1 637.6 L1522.6 637.2 L1524.1 636.8 L1525.6 636.4 L1527.1 636.0 L1528.6 635.6" fill="none" stroke="#404040" stroke-width="6" stroke-linejoin="round"/>
<path d="M1270.3 625.3 L1271.8 623.4 L1273.3 619.6 L1274.8 613.7 L1276.3 607.0 L1277.8 600.7 L1279.3 595.8 L1280.8 592.7 L1282.3 591.0 L1283.8 590.2 L1285.3 589.8 L1286.8 589.6 L1288.3 589.1 L1289.8 588.1 L1291.3 586.2 L1292.8 583.7 L1294.3 580.7 L1295.8 577.4 L1297.3 574.2 L1298.8 571.1 L1300.3 568.4 L1301.8 566.0 L1303.3 564.1 L1304.8 562.7 L1306.3 561.9 L1307.8 561.6 L1309.4 561.7 L1310.9 562.2 L1312.4 562.9 L1313.9 563.8 L1315.4 565.0 L1316.9 566.2 L1318.4 567.5 L1319.9 568.8 L1321.4 570.1 L1322.9 571.4 L1324.4 572.6 L1325.9 573.8 L1327.4 575.0 L1328.9 575.9 L1330.4 576.8 L1331.9 577.5 L1333.4 578.1 L1334.9 578.6 L1336.4 579.0 L1337.9 579.4 L1339.4 579.7 L1340.9 580.0 L1342.4 580.1 L1343.9 580.2 L1345.4 580.2 L1346.9 580.2 L1348.4 580.2 L1349.9 580.1 L1351.4 579.9 L1352.9 579.8 L1354.4 579.6 L1355.9 579.3 L1357.4 579.0 L1358.9 578.7 L1360.4 578.3 L1361.9 577.8 L1363.4 577.2 L1364.9 576.6 L1366.4 575.9 L1367.9 575.2 L1369.4 574.3 L1370.9 573.3 L1372.4 572.3 L1373.9 571.2 L1375.4 570.1 L1376.9 569.0 L1378.4 568.1 L1379.9 567.2 L1381.4 566.3 L1382.9 565.5 L1384.4 564.9 L1385.9 564.4 L1387.4 564.2 L1388.9 564.4 L1390.4 564.9 L1391.9 565.7 L1393.4 566.8 L1395.0 568.2 L1396.5 570.0 L1398.0 572.1 L1399.5 574.5 L1401.0 577.1 L1402.5 580.0 L1404.0 583.3 L1405.5 586.9 L1407.0 590.8 L1408.5 595.2 L1410.0 599.9 L1411.5 604.8 L1413.0 609.7 L1414.5 614.4 L1416.0 618.7 L1417.5 622.5 L1419.0 625.9 L1420.5 628.7 L1422.0 631.0 L1423.5 632.8 L1425.0 634.2 L1426.5 635.1 L1428.0 635.8 L1429.5 636.3 L1431.0 636.7 L1432.5 637.0 L1434.0 637.3 L1435.5 637.5 L1437.0 637.5 L1438.5 637.6 L1440.0 637.5 L1441.5 637.4 L1443.0 637.3 L1444.5 637.1 L1446.0 636.8 L1447.5 636.4 L1449.0 635.9 L1450.5 635.3 L1452.0 634.6 L1453.5 633.9 L1455.0 633.2 L1456.5 632.4 L1458.0 631.7 L1459.5 630.9 L1461.0 630.2 L1462.5 629.4 L1464.0 628.8 L1465.5 628.1 L1467.0 627.6 L1468.5 627.1 L1470.0 626.7 L1471.5 626.3 L1473.0 626.0 L1474.5 625.8 L1476.0 625.7 L1477.5 625.7 L1479.0 625.8 L1480.6 626.0 L1482.1 626.3 L1483.6 626.7 L1485.1 627.1 L1486.6 627.5 L1488.1 627.8 L1489.6 628.1 L1491.1 628.3 L1492.6 628.5 L1494.1 628.7 L1495.6 628.8 L1497.1 628.9 L1498.6 628.9 L1500.1 628.9 L1501.6 628.7 L1503.1 628.5 L1504.6 628.1 L1506.1 627.6 L1507.6 627.1 L1509.1 626.6 L1510.6 626.0 L1512.1 625.4 L1513.6 624.7 L1515.1 624.0 L1516.6 623.4 L1518.1 622.8 L1519.6 622.3 L1521.1 621.9 L1522.6 621.6 L1524.1 621.3 L1525.6 621.2 L1527.1 621.0 L1528.6 621.0 L1528.6 635.6 L1527.1 635.7 L1525.6 635.8 L1524.1 636.0 L1522.6 636.2 L1521.1 636.6 L1519.6 636.9 L1518.1 637.4 L1516.6 638.0 L1515.1 638.7 L1513.6 639.4 L1512.1 640.0 L1510.6 640.6 L1509.1 641.1 L1507.6 641.5 L1506.1 641.9 L1504.6 642.1 L1503.1 642.3 L1501.6 642.3 L1500.1 642.2 L1498.6 642.0 L1497.1 641.8 L1495.6 641.5 L1494.1 641.2 L1492.6 641.0 L1491.1 640.7 L1489.6 640.4 L1488.1 640.2 L1486.6 640.0 L1485.1 639.7 L1483.6 639.5 L1482.1 639.4 L1480.6 639.3 L1479.0 639.3 L1477.5 639.4 L1476.0 639.6 L1474.5 639.9 L1473.0 640.3 L1471.5 640.7 L1470.0 641.2 L1468.5 641.6 L1467.0 642.1 L1465.5 642.6 L1464.0 643.1 L1462.5 643.6 L1461.0 644.2 L1459.5 644.7 L1458.0 645.2 L1456.5 645.8 L1455.0 646.3 L1453.5 646.8 L1452.0 647.3 L1450.5 647.8 L1449.0 648.3 L1447.5 648.7 L1446.0 649.1 L1444.5 649.3 L1443.0 649.5 L1441.5 649.7 L1440.0 649.7 L1438.5 649.8 L1437.0 649.8 L1435.5 649.7 L1434.0 649.5 L1432.5 649.3 L1431.0 649.0 L1429.5 648.6 L1428.0 648.2 L1426.5 647.7 L1425.0 647.1 L1423.5 646.2 L1422.0 645.2 L1420.5 643.8 L1419.0 642.0 L1417.5 639.8 L1416.0 637.1 L1414.5 634.1 L1413.0 630.9 L1411.5 627.5 L1410.0 624.2 L1408.5 621.2 L1407.0 618.6 L1405.5 616.3 L1404.0 614.4 L1402.5 612.7 L1401.0 611.2 L1399.5 610.0 L1398.0 608.9 L1396.5 608.0 L1395.0 607.3 L1393.4 606.7 L1391.9 606.2 L1390.4 605.7 L1388.9 605.3 L1387.4 604.9 L1385.9 604.7 L1384.4 604.6 L1382.9 604.6 L1381.4 604.7 L1379.9 604.8 L1378.4 605.1 L1376.9 605.4 L1375.4 605.8 L1373.9 606.3 L1372.4 606.9 L1370.9 607.3 L1369.4 607.7 L1367.9 608.0 L1366.4 608.2 L1364.9 608.4 L1363.4 608.5 L1361.9 608.6 L1360.4 608.7 L1358.9 608.7 L1357.4 608.7 L1355.9 608.7 L1354.4 608.7 L1352.9 608.7 L1351.4 608.6 L1349.9 608.5 L1348.4 608.4 L1346.9 608.3 L1345.4 608.1 L1343.9 607.9 L1342.4 607.7 L1340.9 607.4 L1339.4 607.0 L1337.9 606.6 L1336.4 606.1 L1334.9 605.6 L1333.4 605.1 L1331.9 604.6 L1330.4 604.0 L1328.9 603.4 L1327.4 602.8 L1325.9 602.2 L1324.4 601.7 L1322.9 601.1 L1321.4 600.7 L1319.9 600.2 L1318.4 599.7 L1316.9 599.2 L1315.4 598.8 L1313.9 598.4 L1312.4 598.1 L1310.9 597.9 L1309.4 597.7 L1307.8 597.8 L1306.3 598.0 L1304.8 598.6 L1303.3 599.6 L1301.8 600.8 L1300.3 602.4 L1298.8 604.4 L1297.3 606.6 L1295.8 609.0 L1294.3 611.6 L1292.8 614.1 L1291.3 616.3 L1289.8 618.1 L1288.3 619.4 L1286.8 620.4 L1285.3 621.4 L1283.8 622.4 L1282.3 623.7 L1280.8 625.3 L1279.3 627.5 L1277.8 630.5 L1276.3 633.9 L1274.8 636.8 L1273.3 637.9 L1271.8 636.3 L1270.3 632.3Z" fill="#A5142F" fill-opacity="0.2"/>
<path d="M1270.3 628.8 L1271.8 629.9 L1273.3 628.7 L1274.8 625.3 L1276.3 620.5 L1277.8 615.6 L1279.3 611.7 L1280.8 609.0 L1282.3 607.3 L1283.8 606.3 L1285.3 605.6 L1286.8 605.0 L1288.3 604.3 L1289.8 603.1 L1291.3 601.3 L1292.8 598.9 L1294.3 596.1 L1295.8 593.2 L1297.3 590.4 L1298.8 587.7 L1300.3 585.4 L1301.8 583.4 L1303.3 581.8 L1304.8 580.7 L1306.3 580.0 L1307.8 579.7 L1309.4 579.7 L1310.9 580.0 L1312.4 580.5 L1313.9 581.1 L1315.4 581.9 L1316.9 582.7 L1318.4 583.6 L1319.9 584.5 L1321.4 585.4 L1322.9 586.3 L1324.4 587.2 L1325.9 588.0 L1327.4 588.9 L1328.9 589.7 L1330.4 590.4 L1331.9 591.0 L1333.4 591.6 L1334.9 592.1 L1336.4 592.6 L1337.9 593.0 L1339.4 593.4 L1340.9 593.7 L1342.4 593.9 L1343.9 594.1 L1345.4 594.2 L1346.9 594.2 L1348.4 594.3 L1349.9 594.3 L1351.4 594.3 L1352.9 594.2 L1354.4 594.2 L1355.9 594.0 L1357.4 593.9 L1358.9 593.7 L1360.4 593.5 L1361.9 593.2 L1363.4 592.8 L1364.9 592.5 L1366.4 592.1 L1367.9 591.6 L1369.4 591.0 L1370.9 590.3 L1372.4 589.6 L1373.9 588.8 L1375.4 588.0 L1376.9 587.2 L1378.4 586.6 L1379.9 586.0 L1381.4 585.5 L1382.9 585.1 L1384.4 584.7 L1385.9 584.5 L1387.4 584.6 L1388.9 584.8 L1390.4 585.3 L1391.9 586.0 L1393.4 586.8 L1395.0 587.8 L1396.5 589.0 L1398.0 590.5 L1399.5 592.3 L1401.0 594.2 L1402.5 596.4 L1404.0 598.8 L1405.5 601.6 L1407.0 604.7 L1408.5 608.2 L1410.0 612.0 L1411.5 616.1 L1413.0 620.3 L1414.5 624.3 L1416.0 627.9 L1417.5 631.2 L1419.0 634.0 L1420.5 636.3 L1422.0 638.1 L1423.5 639.5 L1425.0 640.6 L1426.5 641.4 L1428.0 642.0 L1429.5 642.5 L1431.0 642.8 L1432.5 643.2 L1434.0 643.4 L1435.5 643.6 L1437.0 643.6 L1438.5 643.7 L1440.0 643.6 L1441.5 643.5 L1443.0 643.4 L1444.5 643.2 L1446.0 642.9 L1447.5 642.6 L1449.0 642.1 L1450.5 641.5 L1452.0 641.0 L1453.5 640.3 L1455.0 639.7 L1456.5 639.1 L1458.0 638.5 L1459.5 637.8 L1461.0 637.2 L1462.5 636.5 L1464.0 635.9 L1465.5 635.4 L1467.0 634.8 L1468.5 634.4 L1470.0 633.9 L1471.5 633.5 L1473.0 633.2 L1474.5 632.9 L1476.0 632.6 L1477.5 632.5 L1479.0 632.5 L1480.6 632.7 L1482.1 632.9 L1483.6 633.1 L1485.1 633.4 L1486.6 633.7 L1488.1 634.0 L1489.6 634.3 L1491.1 634.5 L1492.6 634.7 L1494.1 635.0 L1495.6 635.2 L1497.1 635.3 L1498.6 635.5 L1500.1 635.5 L1501.6 635.5 L1503.1 635.4 L1504.6 635.1 L1506.1 634.8 L1507.6 634.3 L1509.1 633.8 L1510.6 633.3 L1512.1 632.7 L1513.6 632.1 L1515.1 631.4 L1516.6 630.7 L1518.1 630.1 L1519.6 629.6 L1521.1 629.2 L1522.6 628.9 L1524.1 628.7 L1525.6 628.5 L1527.1 628.4 L1528.6 628.3" fill="none" stroke="#A5142F" stroke-width="6" stroke-linejoin="round"/>
<path d="M1270.31 639.29H1528.61" stroke="#333" stroke-width="3" stroke-dasharray="3 3.11" fill="none"/>
<rect x="1270.31" y="684.97" width="16.37" height="9.80" fill="#A5142F"/><path d="M1272.19 684.97h1.74V694.77h-1.74zM1275.81 684.97h1.74V694.77h-1.74zM1279.43 684.97h1.74V694.77h-1.74zM1283.06 684.97h1.74V694.77h-1.74z" fill="#000"/>
<rect x="1407.15" y="684.97" width="28.84" height="9.80" fill="#A5142F"/><path d="M1409.45 684.97h2.12V694.77h-2.12zM1413.88 684.97h2.12V694.77h-2.12zM1418.30 684.97h2.12V694.77h-2.12zM1422.72 684.97h2.12V694.77h-2.12zM1427.14 684.97h2.12V694.77h-2.12zM1431.57 684.97h2.12V694.77h-2.12z" fill="#000"/>
<path d="M1270.31 528.10V694.77H1528.61" stroke="#505050" stroke-width="1" fill="none"/>
<path d="M1270.31 528.10h2.7M1270.31 583.58h2.7M1270.31 639.29h2.7M1270.31 694.77h2.7M1270.31 694.77v-2.7M1399.46 694.77v-2.7M1528.61 694.77v-2.7" stroke="#505050" stroke-width="1" fill="none"/>
<text transform="translate(1262.5 535.7) scale(1 1.065)" text-anchor="end" class="t">1</text>
<text transform="translate(1262.5 591.2) scale(1 1.065)" text-anchor="end" class="t">0.5</text>
<text transform="translate(1262.5 646.9) scale(1 1.065)" text-anchor="end" class="t">0</text>
<text transform="translate(1262.5 703.3) scale(1 1.065)" text-anchor="end" class="t">-0.5</text>
<text transform="translate(1270.3 721.3) scale(1 1.065)" text-anchor="middle" class="t">0</text>
<text transform="translate(1399.5 721.3) scale(1 1.065)" text-anchor="middle" class="t">50</text>
<text transform="translate(1528.6 721.3) scale(1 1.065)" text-anchor="middle" class="t">100</text>
<text transform="translate(1192.3 611.4) rotate(-90) scale(1 1.065)" text-anchor="middle" class="l">Hip</text>
<text transform="translate(1219.2 611.4) rotate(-90) scale(1 1.065)" text-anchor="middle" class="l">Add [Nm/kg] Abd</text>
<text transform="translate(1399.5 749.0) scale(1 1.065)" text-anchor="middle" class="l">[%] Gait cycle</text>
</g>
<g id="ankle_sag">
<path d="M149.9 818.5 L151.4 819.3 L152.9 819.9 L154.4 820.5 L155.9 821.0 L157.4 821.4 L158.9 821.6 L160.4 821.7 L161.9 821.5 L163.4 821.1 L164.9 820.4 L166.4 819.6 L167.9 818.7 L169.4 817.7 L170.9 816.6 L172.4 815.4 L173.9 814.2 L175.4 813.0 L176.9 811.9 L178.4 810.7 L179.9 809.6 L181.4 808.5 L182.9 807.5 L184.4 806.5 L185.9 805.6 L187.4 804.8 L188.9 804.0 L190.4 803.3 L191.9 802.6 L193.4 802.0 L194.9 801.4 L196.4 801.0 L197.9 800.5 L199.4 800.1 L200.9 799.7 L202.4 799.3 L203.9 799.0 L205.4 798.7 L206.9 798.4 L208.4 798.2 L209.9 798.0 L211.4 797.8 L212.9 797.6 L214.4 797.5 L215.9 797.3 L217.4 797.1 L218.9 797.0 L220.4 796.8 L221.8 796.7 L223.3 796.5 L224.8 796.3 L226.3 796.2 L227.8 796.0 L229.3 795.9 L230.8 795.7 L232.3 795.5 L233.8 795.3 L235.3 795.1 L236.8 794.9 L238.3 794.7 L239.8 794.4 L241.3 794.2 L242.8 793.9 L244.3 793.6 L245.8 793.3 L247.3 793.0 L248.8 792.7 L250.3 792.4 L251.8 792.1 L253.3 791.9 L254.8 791.7 L256.3 791.4 L257.8 791.2 L259.3 791.1 L260.8 790.9 L262.3 790.9 L263.8 790.9 L265.3 791.0 L266.8 791.2 L268.3 791.4 L269.8 791.8 L271.3 792.2 L272.8 792.7 L274.3 793.3 L275.8 794.2 L277.3 795.3 L278.8 796.5 L280.3 797.9 L281.8 799.5 L283.3 801.4 L284.8 803.6 L286.3 806.0 L287.8 808.7 L289.3 811.4 L290.8 814.2 L292.3 817.2 L293.8 820.2 L295.3 823.2 L296.8 826.1 L298.3 829.0 L299.8 831.6 L301.3 833.8 L302.8 835.6 L304.3 837.0 L305.8 838.0 L307.3 838.7 L308.8 839.1 L310.3 839.3 L311.8 839.3 L313.3 839.3 L314.8 839.1 L316.3 838.9 L317.8 838.5 L319.3 837.9 L320.8 837.2 L322.3 836.1 L323.8 834.8 L325.3 833.4 L326.8 831.8 L328.3 830.1 L329.8 828.3 L331.3 826.4 L332.8 824.6 L334.3 822.8 L335.8 821.1 L337.3 819.4 L338.8 817.9 L340.3 816.6 L341.8 815.4 L343.3 814.3 L344.8 813.5 L346.3 812.8 L347.8 812.3 L349.3 811.9 L350.8 811.6 L352.3 811.3 L353.8 811.1 L355.3 810.9 L356.8 810.8 L358.3 810.7 L359.8 810.6 L361.3 810.5 L362.8 810.4 L364.3 810.4 L365.8 810.3 L367.3 810.3 L368.8 810.3 L370.3 810.3 L371.8 810.3 L373.3 810.3 L374.8 810.3 L376.3 810.3 L377.8 810.3 L379.3 810.3 L380.8 810.3 L382.3 810.3 L383.8 810.3 L385.3 810.3 L386.8 810.3 L388.3 810.3 L389.8 810.3 L391.3 810.3 L392.8 810.4 L394.3 810.5 L395.8 810.7 L397.3 811.0 L398.8 811.3 L400.3 811.6 L401.8 812.1 L403.3 812.7 L404.8 813.4 L406.3 814.2 L407.8 815.0 L407.8 831.5 L406.3 830.7 L404.8 829.9 L403.3 829.2 L401.8 828.6 L400.3 828.1 L398.8 827.7 L397.3 827.4 L395.8 827.2 L394.3 827.0 L392.8 826.9 L391.3 826.8 L389.8 826.8 L388.3 826.8 L386.8 826.8 L385.3 826.8 L383.8 826.8 L382.3 826.8 L380.8 826.8 L379.3 826.8 L377.8 826.8 L376.3 826.8 L374.8 826.8 L373.3 826.8 L371.8 826.8 L370.3 826.8 L368.8 826.8 L367.3 826.8 L365.8 826.8 L364.3 826.9 L362.8 826.9 L361.3 827.0 L359.8 827.1 L358.3 827.2 L356.8 827.3 L355.3 827.4 L353.8 827.6 L352.3 827.9 L350.8 828.3 L349.3 828.7 L347.8 829.2 L346.3 829.9 L344.8 830.7 L343.3 831.8 L341.8 833.0 L340.3 834.4 L338.8 835.9 L337.3 837.6 L335.8 839.5 L334.3 841.5 L332.8 843.5 L331.3 845.7 L329.8 847.9 L328.3 850.1 L326.8 852.2 L325.3 854.3 L323.8 856.2 L322.3 858.0 L320.8 859.4 L319.3 860.6 L317.8 861.4 L316.3 862.0 L314.8 862.4 L313.3 862.5 L311.8 862.4 L310.3 862.0 L308.8 861.4 L307.3 860.6 L305.8 859.4 L304.3 857.8 L302.8 855.9 L301.3 853.7 L299.8 851.1 L298.3 848.2 L296.8 845.2 L295.3 842.1 L293.8 839.1 L292.3 836.0 L290.8 833.1 L289.3 830.2 L287.8 827.5 L286.3 824.9 L284.8 822.4 L283.3 820.2 L281.8 818.3 L280.3 816.7 L278.8 815.3 L277.3 814.1 L275.8 813.0 L274.3 812.2 L272.8 811.5 L271.3 811.0 L269.8 810.6 L268.3 810.3 L266.8 810.0 L265.3 809.8 L263.8 809.7 L262.3 809.6 L260.8 809.7 L259.3 809.8 L257.8 809.9 L256.3 810.0 L254.8 810.1 L253.3 810.2 L251.8 810.3 L250.3 810.4 L248.8 810.5 L247.3 810.6 L245.8 810.7 L244.3 810.8 L242.8 811.0 L241.3 811.1 L239.8 811.2 L238.3 811.3 L236.8 811.4 L235.3 811.5 L233.8 811.6 L232.3 811.7 L230.8 811.8 L229.3 811.9 L227.8 811.9 L226.3 812.0 L224.8 812.1 L223.3 812.2 L221.8 812.2 L220.4 812.3 L218.9 812.4 L217.4 812.5 L215.9 812.6 L214.4 812.6 L212.9 812.7 L211.4 812.8 L209.9 812.9 L208.4 813.0 L206.9 813.2 L205.4 813.4 L203.9 813.6 L202.4 813.8 L200.9 814.1 L199.4 814.4 L197.9 814.7 L196.4 815.1 L194.9 815.4 L193.4 815.8 L191.9 816.3 L190.4 816.8 L188.9 817.4 L187.4 818.0 L185.9 818.7 L184.4 819.4 L182.9 820.3 L181.4 821.1 L179.9 822.1 L178.4 823.0 L176.9 824.0 L175.4 825.1 L173.9 826.2 L172.4 827.3 L170.9 828.4 L169.4 829.5 L167.9 830.5 L166.4 831.5 L164.9 832.4 L163.4 833.1 L161.9 833.7 L160.4 834.0 L158.9 834.1 L157.4 834.1 L155.9 834.0 L154.4 833.8 L152.9 833.5 L151.4 833.1 L149.9 832.6Z" fill="#404040" fill-opacity="0.2"/>
<path d="M149.9 825.6 L151.4 826.2 L152.9 826.7 L154.4 827.2 L155.9 827.5 L157.4 827.8 L158.9 827.9 L160.4 827.8 L161.9 827.6 L163.4 827.1 L164.9 826.4 L166.4 825.5 L167.9 824.6 L169.4 823.6 L170.9 822.5 L172.4 821.4 L173.9 820.2 L175.4 819.1 L176.9 818.0 L178.4 816.9 L179.9 815.8 L181.4 814.8 L182.9 813.9 L184.4 813.0 L185.9 812.1 L187.4 811.4 L188.9 810.7 L190.4 810.0 L191.9 809.5 L193.4 808.9 L194.9 808.4 L196.4 808.0 L197.9 807.6 L199.4 807.2 L200.9 806.9 L202.4 806.6 L203.9 806.3 L205.4 806.0 L206.9 805.8 L208.4 805.6 L209.9 805.4 L211.4 805.3 L212.9 805.2 L214.4 805.0 L215.9 804.9 L217.4 804.8 L218.9 804.7 L220.4 804.6 L221.8 804.5 L223.3 804.3 L224.8 804.2 L226.3 804.1 L227.8 804.0 L229.3 803.9 L230.8 803.7 L232.3 803.6 L233.8 803.5 L235.3 803.3 L236.8 803.2 L238.3 803.0 L239.8 802.8 L241.3 802.6 L242.8 802.4 L244.3 802.2 L245.8 802.0 L247.3 801.8 L248.8 801.6 L250.3 801.4 L251.8 801.2 L253.3 801.0 L254.8 800.9 L256.3 800.7 L257.8 800.6 L259.3 800.4 L260.8 800.3 L262.3 800.3 L263.8 800.3 L265.3 800.4 L266.8 800.6 L268.3 800.9 L269.8 801.2 L271.3 801.6 L272.8 802.1 L274.3 802.8 L275.8 803.6 L277.3 804.7 L278.8 805.9 L280.3 807.3 L281.8 808.9 L283.3 810.8 L284.8 813.0 L286.3 815.4 L287.8 818.1 L289.3 820.8 L290.8 823.7 L292.3 826.6 L293.8 829.6 L295.3 832.7 L296.8 835.7 L298.3 838.6 L299.8 841.3 L301.3 843.7 L302.8 845.8 L304.3 847.4 L305.8 848.7 L307.3 849.6 L308.8 850.2 L310.3 850.6 L311.8 850.8 L313.3 850.9 L314.8 850.7 L316.3 850.4 L317.8 849.9 L319.3 849.2 L320.8 848.3 L322.3 847.1 L323.8 845.5 L325.3 843.8 L326.8 842.0 L328.3 840.1 L329.8 838.1 L331.3 836.0 L332.8 834.1 L334.3 832.1 L335.8 830.3 L337.3 828.5 L338.8 826.9 L340.3 825.5 L341.8 824.2 L343.3 823.0 L344.8 822.1 L346.3 821.3 L347.8 820.8 L349.3 820.3 L350.8 819.9 L352.3 819.6 L353.8 819.4 L355.3 819.2 L356.8 819.0 L358.3 818.9 L359.8 818.8 L361.3 818.7 L362.8 818.7 L364.3 818.6 L365.8 818.6 L367.3 818.6 L368.8 818.5 L370.3 818.5 L371.8 818.5 L373.3 818.5 L374.8 818.5 L376.3 818.5 L377.8 818.5 L379.3 818.5 L380.8 818.5 L382.3 818.5 L383.8 818.5 L385.3 818.5 L386.8 818.5 L388.3 818.5 L389.8 818.5 L391.3 818.6 L392.8 818.6 L394.3 818.8 L395.8 818.9 L397.3 819.2 L398.8 819.5 L400.3 819.9 L401.8 820.3 L403.3 820.9 L404.8 821.6 L406.3 822.4 L407.8 823.2" fill="none" stroke="#404040" stroke-width="6" stroke-linejoin="round"/>
<path d="M149.9 828.4 L151.4 828.2 L152.9 828.0 L154.4 827.7 L155.9 827.4 L157.4 827.0 L158.9 826.5 L160.4 825.9 L161.9 825.3 L163.4 824.6 L164.9 823.9 L166.4 823.1 L167.9 822.2 L169.4 821.3 L170.9 820.4 L172.4 819.5 L173.9 818.6 L175.4 817.7 L176.9 816.9 L178.4 816.1 L179.9 815.3 L181.4 814.6 L182.9 813.9 L184.4 813.2 L185.9 812.6 L187.4 812.1 L188.9 811.6 L190.4 811.2 L191.9 810.8 L193.4 810.5 L194.9 810.2 L196.4 809.9 L197.9 809.7 L199.4 809.4 L200.9 809.2 L202.4 809.0 L203.9 808.7 L205.4 808.5 L206.9 808.3 L208.4 808.1 L209.9 807.9 L211.4 807.7 L212.9 807.6 L214.4 807.4 L215.9 807.2 L217.4 807.0 L218.9 806.8 L220.4 806.6 L221.8 806.4 L223.3 806.2 L224.8 806.0 L226.3 805.8 L227.8 805.6 L229.3 805.4 L230.8 805.1 L232.3 804.9 L233.8 804.7 L235.3 804.4 L236.8 804.2 L238.3 803.9 L239.8 803.7 L241.3 803.4 L242.8 803.1 L244.3 802.8 L245.8 802.5 L247.3 802.2 L248.8 801.9 L250.3 801.6 L251.8 801.3 L253.3 800.9 L254.8 800.6 L256.3 800.3 L257.8 800.0 L259.3 799.7 L260.8 799.4 L262.3 799.1 L263.8 798.9 L265.3 798.6 L266.8 798.4 L268.3 798.2 L269.8 798.1 L271.3 798.1 L272.8 798.2 L274.3 798.5 L275.8 798.9 L277.3 799.3 L278.8 799.9 L280.3 800.9 L281.8 802.2 L283.3 803.9 L284.8 805.9 L286.3 808.1 L287.8 810.6 L289.3 813.4 L290.8 816.4 L292.3 819.7 L293.8 823.1 L295.3 826.7 L296.8 830.4 L298.3 834.1 L299.8 837.5 L301.3 840.5 L302.8 843.3 L304.3 845.6 L305.8 847.5 L307.3 849.0 L308.8 850.1 L310.3 851.0 L311.8 851.5 L313.3 851.8 L314.8 851.8 L316.3 851.7 L317.8 851.3 L319.3 850.6 L320.8 849.7 L322.3 848.5 L323.8 847.2 L325.3 845.7 L326.8 844.1 L328.3 842.4 L329.8 840.6 L331.3 838.9 L332.8 837.2 L334.3 835.6 L335.8 834.1 L337.3 832.8 L338.8 831.5 L340.3 830.4 L341.8 829.4 L343.3 828.5 L344.8 827.9 L346.3 827.4 L347.8 827.1 L349.3 826.9 L350.8 826.7 L352.3 826.5 L353.8 826.4 L355.3 826.3 L356.8 826.3 L358.3 826.4 L359.8 826.4 L361.3 826.5 L362.8 826.5 L364.3 826.6 L365.8 826.7 L367.3 826.7 L368.8 826.8 L370.3 826.8 L371.8 826.9 L373.3 827.0 L374.8 827.0 L376.3 827.1 L377.8 827.1 L379.3 827.2 L380.8 827.3 L382.3 827.3 L383.8 827.4 L385.3 827.5 L386.8 827.6 L388.3 827.7 L389.8 827.8 L391.3 827.9 L392.8 828.0 L394.3 828.2 L395.8 828.3 L397.3 828.4 L398.8 828.6 L400.3 828.7 L401.8 828.8 L403.3 828.9 L404.8 829.0 L406.3 829.0 L407.8 829.1 L407.8 847.9 L406.3 847.6 L404.8 847.2 L403.3 846.8 L401.8 846.4 L400.3 846.1 L398.8 845.7 L397.3 845.4 L395.8 845.1 L394.3 844.8 L392.8 844.6 L391.3 844.4 L389.8 844.3 L388.3 844.2 L386.8 844.1 L385.3 844.0 L383.8 843.9 L382.3 843.8 L380.8 843.7 L379.3 843.7 L377.8 843.6 L376.3 843.6 L374.8 843.5 L373.3 843.4 L371.8 843.4 L370.3 843.3 L368.8 843.3 L367.3 843.2 L365.8 843.1 L364.3 843.1 L362.8 843.0 L361.3 842.9 L359.8 842.9 L358.3 842.8 L356.8 842.8 L355.3 842.9 L353.8 843.0 L352.3 843.2 L350.8 843.6 L349.3 843.9 L347.8 844.4 L346.3 845.0 L344.8 845.7 L343.3 846.6 L341.8 847.8 L340.3 849.1 L338.8 850.6 L337.3 852.3 L335.8 854.0 L334.3 855.9 L332.8 857.9 L331.3 860.0 L329.8 862.2 L328.3 864.5 L326.8 866.8 L325.3 869.1 L323.8 871.2 L322.3 873.1 L320.8 874.7 L319.3 875.9 L317.8 876.7 L316.3 877.0 L314.8 876.8 L313.3 876.3 L311.8 875.4 L310.3 874.2 L308.8 872.7 L307.3 870.9 L305.8 868.8 L304.3 866.3 L302.8 863.5 L301.3 860.4 L299.8 856.9 L298.3 853.1 L296.8 849.1 L295.3 845.0 L293.8 841.0 L292.3 837.2 L290.8 833.6 L289.3 830.3 L287.8 827.3 L286.3 824.5 L284.8 822.0 L283.3 819.7 L281.8 817.8 L280.3 816.3 L278.8 815.1 L277.3 814.3 L275.8 813.6 L274.3 813.1 L272.8 812.7 L271.3 812.4 L269.8 812.3 L268.3 812.3 L266.8 812.4 L265.3 812.5 L263.8 812.7 L262.3 812.9 L260.8 813.1 L259.3 813.3 L257.8 813.5 L256.3 813.7 L254.8 814.0 L253.3 814.3 L251.8 814.6 L250.3 814.9 L248.8 815.2 L247.3 815.5 L245.8 815.7 L244.3 816.0 L242.8 816.3 L241.3 816.6 L239.8 816.8 L238.3 817.1 L236.8 817.3 L235.3 817.6 L233.8 817.8 L232.3 818.1 L230.8 818.3 L229.3 818.5 L227.8 818.7 L226.3 819.0 L224.8 819.2 L223.3 819.4 L221.8 819.6 L220.4 819.8 L218.9 819.9 L217.4 820.1 L215.9 820.3 L214.4 820.5 L212.9 820.7 L211.4 820.9 L209.9 821.1 L208.4 821.3 L206.9 821.5 L205.4 821.7 L203.9 821.9 L202.4 822.1 L200.9 822.4 L199.4 822.6 L197.9 822.9 L196.4 823.1 L194.9 823.4 L193.4 823.8 L191.9 824.1 L190.4 824.5 L188.9 824.9 L187.4 825.4 L185.9 826.0 L184.4 826.6 L182.9 827.3 L181.4 828.1 L179.9 828.9 L178.4 829.7 L176.9 830.6 L175.4 831.5 L173.9 832.4 L172.4 833.4 L170.9 834.4 L169.4 835.4 L167.9 836.4 L166.4 837.4 L164.9 838.5 L163.4 839.5 L161.9 840.5 L160.4 841.5 L158.9 842.4 L157.4 843.3 L155.9 844.2 L154.4 845.0 L152.9 845.8 L151.4 846.5 L149.9 847.2Z" fill="#A5142F" fill-opacity="0.2"/>
<path d="M149.9 837.8 L151.4 837.4 L152.9 836.9 L154.4 836.4 L155.9 835.8 L157.4 835.1 L158.9 834.5 L160.4 833.7 L161.9 832.9 L163.4 832.1 L164.9 831.2 L166.4 830.2 L167.9 829.3 L169.4 828.4 L170.9 827.4 L172.4 826.5 L173.9 825.5 L175.4 824.6 L176.9 823.7 L178.4 822.9 L179.9 822.1 L181.4 821.3 L182.9 820.6 L184.4 819.9 L185.9 819.3 L187.4 818.8 L188.9 818.3 L190.4 817.9 L191.9 817.5 L193.4 817.1 L194.9 816.8 L196.4 816.5 L197.9 816.3 L199.4 816.0 L200.9 815.8 L202.4 815.5 L203.9 815.3 L205.4 815.1 L206.9 814.9 L208.4 814.7 L209.9 814.5 L211.4 814.3 L212.9 814.1 L214.4 813.9 L215.9 813.8 L217.4 813.6 L218.9 813.4 L220.4 813.2 L221.8 813.0 L223.3 812.8 L224.8 812.6 L226.3 812.4 L227.8 812.2 L229.3 811.9 L230.8 811.7 L232.3 811.5 L233.8 811.3 L235.3 811.0 L236.8 810.8 L238.3 810.5 L239.8 810.2 L241.3 810.0 L242.8 809.7 L244.3 809.4 L245.8 809.1 L247.3 808.8 L248.8 808.5 L250.3 808.2 L251.8 807.9 L253.3 807.6 L254.8 807.3 L256.3 807.0 L257.8 806.7 L259.3 806.5 L260.8 806.2 L262.3 806.0 L263.8 805.8 L265.3 805.6 L266.8 805.4 L268.3 805.3 L269.8 805.2 L271.3 805.3 L272.8 805.5 L274.3 805.8 L275.8 806.2 L277.3 806.8 L278.8 807.5 L280.3 808.6 L281.8 810.0 L283.3 811.8 L284.8 814.0 L286.3 816.3 L287.8 818.9 L289.3 821.8 L290.8 825.0 L292.3 828.5 L293.8 832.1 L295.3 835.9 L296.8 839.7 L298.3 843.6 L299.8 847.2 L301.3 850.5 L302.8 853.4 L304.3 856.0 L305.8 858.1 L307.3 859.9 L308.8 861.4 L310.3 862.6 L311.8 863.5 L313.3 864.0 L314.8 864.3 L316.3 864.3 L317.8 864.0 L319.3 863.3 L320.8 862.2 L322.3 860.8 L323.8 859.2 L325.3 857.4 L326.8 855.5 L328.3 853.4 L329.8 851.4 L331.3 849.4 L332.8 847.6 L334.3 845.8 L335.8 844.1 L337.3 842.5 L338.8 841.1 L340.3 839.8 L341.8 838.6 L343.3 837.6 L344.8 836.8 L346.3 836.2 L347.8 835.8 L349.3 835.4 L350.8 835.1 L352.3 834.9 L353.8 834.7 L355.3 834.6 L356.8 834.6 L358.3 834.6 L359.8 834.7 L361.3 834.7 L362.8 834.8 L364.3 834.8 L365.8 834.9 L367.3 835.0 L368.8 835.0 L370.3 835.1 L371.8 835.1 L373.3 835.2 L374.8 835.3 L376.3 835.3 L377.8 835.4 L379.3 835.4 L380.8 835.5 L382.3 835.6 L383.8 835.7 L385.3 835.7 L386.8 835.8 L388.3 835.9 L389.8 836.0 L391.3 836.2 L392.8 836.3 L394.3 836.5 L395.8 836.7 L397.3 836.9 L398.8 837.2 L400.3 837.4 L401.8 837.6 L403.3 837.8 L404.8 838.1 L406.3 838.3 L407.8 838.5" fill="none" stroke="#A5142F" stroke-width="6" stroke-linejoin="round"/>
<path d="M149.88 828.88H407.76" stroke="#333" stroke-width="3" stroke-dasharray="3 3.11" fill="none"/>
<rect x="149.88" y="937.20" width="8.94" height="9.80" fill="#A5142F"/><path d="M151.73 937.20h1.70V947.00h-1.70zM155.28 937.20h1.70V947.00h-1.70z" fill="#000"/>
<rect x="180.71" y="937.20" width="91.06" height="9.80" fill="#A5142F"/><path d="M183.01 937.20h2.13V947.00h-2.13zM187.45 937.20h2.13V947.00h-2.13zM191.89 937.20h2.13V947.00h-2.13zM196.33 937.20h2.13V947.00h-2.13zM200.76 937.20h2.13V947.00h-2.13zM205.20 937.20h2.13V947.00h-2.13zM209.64 937.20h2.13V947.00h-2.13zM214.08 937.20h2.13V947.00h-2.13zM218.51 937.20h2.13V947.00h-2.13zM222.95 937.20h2.13V947.00h-2.13zM227.39 937.20h2.13V947.00h-2.13zM231.83 937.20h2.13V947.00h-2.13zM236.26 937.20h2.13V947.00h-2.13zM240.70 937.20h2.13V947.00h-2.13zM245.14 937.20h2.13V947.00h-2.13zM249.58 937.20h2.13V947.00h-2.13zM254.01 937.20h2.13V947.00h-2.13zM258.45 937.20h2.13V947.00h-2.13zM262.89 937.20h2.13V947.00h-2.13zM267.33 937.20h2.13V947.00h-2.13z" fill="#000"/>
<rect x="305.41" y="937.20" width="102.35" height="9.80" fill="#A5142F"/><path d="M307.78 937.20h2.18V947.00h-2.18zM312.32 937.20h2.18V947.00h-2.18zM316.87 937.20h2.18V947.00h-2.18zM321.41 937.20h2.18V947.00h-2.18zM325.96 937.20h2.18V947.00h-2.18zM330.50 937.20h2.18V947.00h-2.18zM335.05 937.20h2.18V947.00h-2.18zM339.59 937.20h2.18V947.00h-2.18zM344.13 937.20h2.18V947.00h-2.18zM348.68 937.20h2.18V947.00h-2.18zM353.22 937.20h2.18V947.00h-2.18zM357.77 937.20h2.18V947.00h-2.18zM362.31 937.20h2.18V947.00h-2.18zM366.86 937.20h2.18V947.00h-2.18zM371.40 937.20h2.18V947.00h-2.18zM375.95 937.20h2.18V947.00h-2.18zM380.49 937.20h2.18V947.00h-2.18zM385.04 937.20h2.18V947.00h-2.18zM389.58 937.20h2.18V947.00h-2.18zM394.13 937.20h2.18V947.00h-2.18zM398.67 937.20h2.18V947.00h-2.18zM403.22 937.20h2.18V947.00h-2.18z" fill="#000"/>
<path d="M149.88 780.18V947.00H407.76" stroke="#505050" stroke-width="1" fill="none"/>
<path d="M149.88 789.59h2.7M149.88 828.88h2.7M149.88 868.41h2.7M149.88 907.71h2.7M149.88 947.00h2.7M149.88 947.00v-2.7M278.82 947.00v-2.7M407.76 947.00v-2.7" stroke="#505050" stroke-width="1" fill="none"/>
<text transform="translate(142.1 797.2) scale(1 1.065)" text-anchor="end" class="t">20</text>
<text transform="translate(142.1 836.5) scale(1 1.065)" text-anchor="end" class="t">0</text>
<text transform="translate(142.1 876.0) scale(1 1.065)" text-anchor="end" class="t">-20</text>
<text transform="translate(142.1 915.3) scale(1 1.065)" text-anchor="end" class="t">-40</text>
<text transform="translate(142.1 955.5) scale(1 1.065)" text-anchor="end" class="t">-60</text>
<text transform="translate(149.9 973.5) scale(1 1.065)" text-anchor="middle" class="t">0</text>
<text transform="translate(278.8 973.5) scale(1 1.065)" text-anchor="middle" class="t">50</text>
<text transform="translate(407.8 973.5) scale(1 1.065)" text-anchor="middle" class="t">100</text>
<text transform="translate(77.3 863.6) rotate(-90) scale(1 1.065)" text-anchor="middle" class="l">Ankle</text>
<text transform="translate(104.2 863.6) rotate(-90) scale(1 1.065)" text-anchor="middle" class="l">PF [Degrees] DF</text>
<text transform="translate(278.8 1001.2) scale(1 1.065)" text-anchor="middle" class="l">[%] Gait cycle</text>
</g>
<g id="ankle_mom">
<path d="M522.5 909.1 L524.0 909.4 L525.5 909.7 L527.0 909.8 L528.5 909.7 L530.0 909.6 L531.5 909.2 L533.0 908.6 L534.5 907.7 L536.0 906.3 L537.5 904.5 L539.0 902.3 L540.5 899.7 L542.0 896.9 L543.5 893.9 L545.0 891.0 L546.5 888.1 L548.0 885.4 L549.5 882.8 L551.0 880.4 L552.5 878.0 L554.0 875.7 L555.5 873.6 L557.0 871.5 L558.6 869.5 L560.1 867.6 L561.6 865.9 L563.1 864.3 L564.6 862.7 L566.1 861.2 L567.6 859.8 L569.1 858.3 L570.6 857.0 L572.1 855.7 L573.6 854.4 L575.1 853.3 L576.6 852.2 L578.1 851.1 L579.6 850.2 L581.1 849.2 L582.6 848.4 L584.1 847.5 L585.6 846.7 L587.1 845.9 L588.6 845.1 L590.1 844.3 L591.6 843.6 L593.1 842.9 L594.6 842.1 L596.1 841.4 L597.6 840.7 L599.1 840.0 L600.6 839.4 L602.2 838.7 L603.7 838.0 L605.2 837.2 L606.7 836.3 L608.2 835.3 L609.7 834.1 L611.2 832.8 L612.7 831.5 L614.2 830.0 L615.7 828.4 L617.2 826.8 L618.7 825.1 L620.2 823.4 L621.7 821.5 L623.2 819.6 L624.7 817.6 L626.2 815.6 L627.7 813.5 L629.2 811.3 L630.7 809.0 L632.2 806.6 L633.7 804.1 L635.2 801.7 L636.7 799.4 L638.2 797.4 L639.7 795.8 L641.2 794.5 L642.7 793.6 L644.2 793.1 L645.8 793.1 L647.3 793.4 L648.8 794.3 L650.3 795.6 L651.8 797.8 L653.3 800.7 L654.8 804.3 L656.3 808.7 L657.8 813.7 L659.3 819.5 L660.8 826.0 L662.3 833.1 L663.8 840.6 L665.3 848.4 L666.8 856.3 L668.3 864.0 L669.8 871.6 L671.3 878.6 L672.8 885.0 L674.3 890.4 L675.8 895.1 L677.3 898.9 L678.8 901.8 L680.3 904.1 L681.8 906.0 L683.3 907.5 L684.8 908.8 L686.3 909.6 L687.8 910.2 L689.4 910.5 L690.9 910.6 L692.4 910.6 L693.9 910.6 L695.4 910.6 L696.9 910.5 L698.4 910.5 L699.9 910.4 L701.4 910.2 L702.9 910.1 L704.4 910.0 L705.9 909.9 L707.4 909.7 L708.9 909.6 L710.4 909.6 L711.9 909.5 L713.4 909.5 L714.9 909.5 L716.4 909.5 L717.9 909.5 L719.4 909.6 L720.9 909.6 L722.4 909.6 L723.9 909.7 L725.4 909.7 L726.9 909.8 L728.4 909.8 L729.9 909.8 L731.4 909.8 L732.9 909.8 L734.5 909.8 L736.0 909.8 L737.5 909.8 L739.0 909.8 L740.5 909.7 L742.0 909.7 L743.5 909.7 L745.0 909.6 L746.5 909.6 L748.0 909.5 L749.5 909.5 L751.0 909.4 L752.5 909.4 L754.0 909.4 L755.5 909.3 L757.0 909.3 L758.5 909.2 L760.0 909.2 L761.5 909.2 L763.0 909.2 L764.5 909.1 L766.0 909.1 L767.5 909.1 L769.0 909.1 L770.5 909.0 L772.0 909.0 L773.5 909.0 L775.0 909.0 L776.5 908.9 L778.1 908.9 L779.6 908.9 L781.1 908.9 L781.1 912.6 L779.6 912.6 L778.1 912.6 L776.5 912.5 L775.0 912.5 L773.5 912.5 L772.0 912.4 L770.5 912.4 L769.0 912.4 L767.5 912.4 L766.0 912.4 L764.5 912.3 L763.0 912.3 L761.5 912.3 L760.0 912.3 L758.5 912.3 L757.0 912.3 L755.5 912.3 L754.0 912.3 L752.5 912.4 L751.0 912.4 L749.5 912.4 L748.0 912.4 L746.5 912.5 L745.0 912.5 L743.5 912.5 L742.0 912.5 L740.5 912.6 L739.0 912.6 L737.5 912.6 L736.0 912.6 L734.5 912.7 L732.9 912.7 L731.4 912.7 L729.9 912.6 L728.4 912.6 L726.9 912.6 L725.4 912.6 L723.9 912.5 L722.4 912.5 L720.9 912.5 L719.4 912.5 L717.9 912.5 L716.4 912.5 L714.9 912.5 L713.4 912.5 L711.9 912.5 L710.4 912.6 L708.9 912.7 L707.4 912.8 L705.9 913.0 L704.4 913.2 L702.9 913.3 L701.4 913.5 L699.9 913.7 L698.4 913.8 L696.9 914.0 L695.4 914.1 L693.9 914.2 L692.4 914.3 L690.9 914.5 L689.4 914.7 L687.8 914.9 L686.3 915.2 L684.8 915.5 L683.3 915.5 L681.8 915.3 L680.3 914.8 L678.8 913.7 L677.3 911.8 L675.8 909.0 L674.3 905.3 L672.8 900.7 L671.3 895.3 L669.8 889.2 L668.3 882.6 L666.8 876.0 L665.3 869.3 L663.8 862.8 L662.3 856.5 L660.8 850.8 L659.3 845.4 L657.8 840.6 L656.3 836.4 L654.8 832.7 L653.3 829.6 L651.8 827.1 L650.3 825.3 L648.8 824.2 L647.3 823.6 L645.8 823.3 L644.2 823.4 L642.7 823.7 L641.2 824.3 L639.7 825.1 L638.2 826.1 L636.7 827.5 L635.2 829.2 L633.7 831.1 L632.2 833.1 L630.7 835.2 L629.2 837.4 L627.7 839.5 L626.2 841.6 L624.7 843.7 L623.2 845.8 L621.7 847.9 L620.2 849.8 L618.7 851.8 L617.2 853.7 L615.7 855.5 L614.2 857.3 L612.7 859.0 L611.2 860.7 L609.7 862.4 L608.2 864.1 L606.7 865.7 L605.2 867.4 L603.7 869.2 L602.2 870.9 L600.6 872.5 L599.1 874.0 L597.6 875.5 L596.1 876.8 L594.6 878.0 L593.1 879.2 L591.6 880.3 L590.1 881.3 L588.6 882.3 L587.1 883.2 L585.6 884.1 L584.1 884.9 L582.6 885.5 L581.1 886.1 L579.6 886.7 L578.1 887.1 L576.6 887.6 L575.1 888.1 L573.6 888.5 L572.1 889.0 L570.6 889.6 L569.1 890.2 L567.6 890.8 L566.1 891.5 L564.6 892.3 L563.1 893.1 L561.6 894.1 L560.1 895.2 L558.6 896.4 L557.0 897.7 L555.5 899.1 L554.0 900.7 L552.5 902.3 L551.0 904.0 L549.5 905.8 L548.0 907.8 L546.5 909.9 L545.0 912.1 L543.5 914.5 L542.0 916.9 L540.5 919.2 L539.0 921.1 L537.5 922.7 L536.0 923.8 L534.5 924.4 L533.0 924.4 L531.5 923.9 L530.0 922.9 L528.5 921.6 L527.0 920.0 L525.5 918.1 L524.0 916.0 L522.5 913.8Z" fill="#404040" fill-opacity="0.2"/>
<path d="M522.5 911.4 L524.0 912.7 L525.5 913.9 L527.0 914.9 L528.5 915.7 L530.0 916.3 L531.5 916.6 L533.0 916.5 L534.5 916.0 L536.0 915.0 L537.5 913.6 L539.0 911.7 L540.5 909.5 L542.0 906.9 L543.5 904.2 L545.0 901.5 L546.5 899.0 L548.0 896.6 L549.5 894.3 L551.0 892.2 L552.5 890.1 L554.0 888.2 L555.5 886.4 L557.0 884.6 L558.6 882.9 L560.1 881.4 L561.6 880.0 L563.1 878.7 L564.6 877.5 L566.1 876.4 L567.6 875.3 L569.1 874.3 L570.6 873.3 L572.1 872.4 L573.6 871.5 L575.1 870.7 L576.6 869.9 L578.1 869.1 L579.6 868.4 L581.1 867.7 L582.6 866.9 L584.1 866.2 L585.6 865.4 L587.1 864.6 L588.6 863.7 L590.1 862.8 L591.6 861.9 L593.1 861.0 L594.6 860.1 L596.1 859.1 L597.6 858.1 L599.1 857.0 L600.6 855.9 L602.2 854.8 L603.7 853.6 L605.2 852.3 L606.7 851.0 L608.2 849.7 L609.7 848.3 L611.2 846.8 L612.7 845.3 L614.2 843.6 L615.7 842.0 L617.2 840.2 L618.7 838.4 L620.2 836.6 L621.7 834.7 L623.2 832.7 L624.7 830.7 L626.2 828.6 L627.7 826.5 L629.2 824.3 L630.7 822.1 L632.2 819.8 L633.7 817.6 L635.2 815.4 L636.7 813.4 L638.2 811.8 L639.7 810.4 L641.2 809.4 L642.7 808.7 L644.2 808.3 L645.8 808.2 L647.3 808.5 L648.8 809.2 L650.3 810.5 L651.8 812.4 L653.3 815.1 L654.8 818.5 L656.3 822.5 L657.8 827.2 L659.3 832.5 L660.8 838.4 L662.3 844.8 L663.8 851.7 L665.3 858.8 L666.8 866.1 L668.3 873.3 L669.8 880.4 L671.3 887.0 L672.8 892.8 L674.3 897.9 L675.8 902.0 L677.3 905.3 L678.8 907.8 L680.3 909.5 L681.8 910.6 L683.3 911.5 L684.8 912.1 L686.3 912.4 L687.8 912.6 L689.4 912.6 L690.9 912.5 L692.4 912.5 L693.9 912.4 L695.4 912.3 L696.9 912.3 L698.4 912.1 L699.9 912.0 L701.4 911.9 L702.9 911.7 L704.4 911.6 L705.9 911.4 L707.4 911.3 L708.9 911.2 L710.4 911.1 L711.9 911.0 L713.4 911.0 L714.9 911.0 L716.4 911.0 L717.9 911.0 L719.4 911.0 L720.9 911.1 L722.4 911.1 L723.9 911.1 L725.4 911.1 L726.9 911.2 L728.4 911.2 L729.9 911.2 L731.4 911.2 L732.9 911.2 L734.5 911.2 L736.0 911.2 L737.5 911.2 L739.0 911.2 L740.5 911.2 L742.0 911.1 L743.5 911.1 L745.0 911.0 L746.5 911.0 L748.0 911.0 L749.5 910.9 L751.0 910.9 L752.5 910.9 L754.0 910.8 L755.5 910.8 L757.0 910.8 L758.5 910.8 L760.0 910.8 L761.5 910.7 L763.0 910.7 L764.5 910.7 L766.0 910.7 L767.5 910.7 L769.0 910.7 L770.5 910.7 L772.0 910.7 L773.5 910.7 L775.0 910.7 L776.5 910.7 L778.1 910.7 L779.6 910.8 L781.1 910.8" fill="none" stroke="#404040" stroke-width="6" stroke-linejoin="round"/>
<path d="M522.5 906.7 L524.0 904.2 L525.5 901.5 L527.0 898.6 L528.5 895.6 L530.0 892.5 L531.5 889.2 L533.0 885.9 L534.5 882.8 L536.0 879.8 L537.5 877.2 L539.0 874.7 L540.5 872.4 L542.0 870.2 L543.5 868.2 L545.0 866.3 L546.5 864.5 L548.0 862.8 L549.5 861.2 L551.0 859.7 L552.5 858.2 L554.0 856.8 L555.5 855.5 L557.0 854.1 L558.6 852.9 L560.1 851.7 L561.6 850.5 L563.1 849.5 L564.6 848.6 L566.1 847.8 L567.6 847.1 L569.1 846.5 L570.6 845.9 L572.1 845.5 L573.6 845.3 L575.1 845.1 L576.6 845.1 L578.1 845.1 L579.6 845.1 L581.1 845.3 L582.6 845.5 L584.1 845.8 L585.6 846.2 L587.1 846.6 L588.6 847.0 L590.1 847.3 L591.6 847.7 L593.1 848.0 L594.6 848.4 L596.1 848.6 L597.6 848.8 L599.1 849.0 L600.6 849.2 L602.2 849.3 L603.7 849.5 L605.2 849.6 L606.7 849.6 L608.2 849.6 L609.7 849.5 L611.2 849.3 L612.7 849.0 L614.2 848.6 L615.7 848.1 L617.2 847.5 L618.7 846.8 L620.2 846.0 L621.7 845.0 L623.2 843.8 L624.7 842.6 L626.2 841.3 L627.7 839.9 L629.2 838.4 L630.7 836.8 L632.2 835.2 L633.7 833.6 L635.2 832.1 L636.7 830.7 L638.2 829.3 L639.7 828.1 L641.2 827.0 L642.7 826.0 L644.2 825.3 L645.8 824.9 L647.3 824.9 L648.8 825.2 L650.3 825.9 L651.8 827.0 L653.3 828.6 L654.8 830.7 L656.3 833.3 L657.8 836.3 L659.3 840.0 L660.8 844.2 L662.3 849.0 L663.8 854.4 L665.3 860.2 L666.8 866.2 L668.3 872.3 L669.8 878.4 L671.3 884.3 L672.8 889.7 L674.3 894.6 L675.8 898.8 L677.3 902.4 L678.8 905.1 L680.3 907.1 L681.8 908.6 L683.3 909.7 L684.8 910.4 L686.3 910.9 L687.8 911.0 L689.4 911.0 L690.9 911.0 L692.4 910.9 L693.9 910.8 L695.4 910.7 L696.9 910.6 L698.4 910.5 L699.9 910.4 L701.4 910.3 L702.9 910.2 L704.4 910.1 L705.9 910.0 L707.4 909.9 L708.9 909.9 L710.4 909.8 L711.9 909.8 L713.4 909.7 L714.9 909.7 L716.4 909.8 L717.9 909.8 L719.4 909.8 L720.9 909.8 L722.4 909.9 L723.9 909.9 L725.4 909.9 L726.9 910.0 L728.4 910.0 L729.9 910.0 L731.4 910.1 L732.9 910.1 L734.5 910.1 L736.0 910.0 L737.5 910.0 L739.0 910.0 L740.5 909.9 L742.0 909.9 L743.5 909.8 L745.0 909.8 L746.5 909.7 L748.0 909.6 L749.5 909.6 L751.0 909.5 L752.5 909.5 L754.0 909.4 L755.5 909.3 L757.0 909.3 L758.5 909.2 L760.0 909.2 L761.5 909.2 L763.0 909.2 L764.5 909.2 L766.0 909.2 L767.5 909.2 L769.0 909.2 L770.5 909.2 L772.0 909.2 L773.5 909.2 L775.0 909.2 L776.5 909.3 L778.1 909.3 L779.6 909.3 L781.1 909.4 L781.1 913.1 L779.6 913.0 L778.1 913.0 L776.5 912.9 L775.0 912.8 L773.5 912.7 L772.0 912.6 L770.5 912.6 L769.0 912.5 L767.5 912.5 L766.0 912.4 L764.5 912.4 L763.0 912.3 L761.5 912.3 L760.0 912.3 L758.5 912.3 L757.0 912.3 L755.5 912.4 L754.0 912.4 L752.5 912.4 L751.0 912.5 L749.5 912.5 L748.0 912.5 L746.5 912.6 L745.0 912.6 L743.5 912.7 L742.0 912.7 L740.5 912.8 L739.0 912.8 L737.5 912.8 L736.0 912.9 L734.5 912.9 L732.9 912.9 L731.4 912.9 L729.9 912.9 L728.4 912.9 L726.9 912.8 L725.4 912.8 L723.9 912.8 L722.4 912.7 L720.9 912.7 L719.4 912.7 L717.9 912.7 L716.4 912.7 L714.9 912.7 L713.4 912.7 L711.9 912.8 L710.4 912.8 L708.9 912.9 L707.4 913.0 L705.9 913.1 L704.4 913.3 L702.9 913.4 L701.4 913.6 L699.9 913.7 L698.4 913.8 L696.9 914.0 L695.4 914.1 L693.9 914.3 L692.4 914.4 L690.9 914.6 L689.4 914.7 L687.8 914.9 L686.3 915.0 L684.8 915.0 L683.3 914.8 L681.8 914.5 L680.3 913.9 L678.8 913.0 L677.3 911.3 L675.8 908.9 L674.3 905.7 L672.8 901.9 L671.3 897.4 L669.8 892.5 L668.3 887.3 L666.8 882.1 L665.3 877.0 L663.8 872.1 L662.3 867.6 L660.8 863.6 L659.3 860.3 L657.8 857.5 L656.3 855.3 L654.8 853.6 L653.3 852.3 L651.8 851.3 L650.3 850.7 L648.8 850.4 L647.3 850.3 L645.8 850.4 L644.2 850.7 L642.7 851.1 L641.2 851.7 L639.7 852.4 L638.2 853.2 L636.7 854.1 L635.2 855.1 L633.7 856.2 L632.2 857.3 L630.7 858.4 L629.2 859.5 L627.7 860.5 L626.2 861.5 L624.7 862.5 L623.2 863.4 L621.7 864.3 L620.2 865.1 L618.7 865.9 L617.2 866.6 L615.7 867.3 L614.2 868.0 L612.7 868.7 L611.2 869.3 L609.7 869.9 L608.2 870.5 L606.7 871.0 L605.2 871.5 L603.7 872.0 L602.2 872.4 L600.6 872.9 L599.1 873.3 L597.6 873.7 L596.1 874.0 L594.6 874.3 L593.1 874.5 L591.6 874.8 L590.1 875.0 L588.6 875.3 L587.1 875.5 L585.6 875.8 L584.1 876.0 L582.6 876.3 L581.1 876.6 L579.6 876.9 L578.1 877.2 L576.6 877.5 L575.1 877.8 L573.6 878.0 L572.1 878.2 L570.6 878.5 L569.1 878.8 L567.6 879.2 L566.1 879.6 L564.6 880.0 L563.1 880.4 L561.6 881.0 L560.1 881.6 L558.6 882.4 L557.0 883.1 L555.5 884.0 L554.0 884.9 L552.5 885.8 L551.0 886.8 L549.5 887.9 L548.0 889.0 L546.5 890.2 L545.0 891.5 L543.5 892.9 L542.0 894.3 L540.5 895.8 L539.0 897.4 L537.5 899.0 L536.0 900.8 L534.5 902.5 L533.0 904.4 L531.5 906.2 L530.0 907.7 L528.5 909.0 L527.0 910.0 L525.5 910.7 L524.0 911.1 L522.5 911.4Z" fill="#A5142F" fill-opacity="0.2"/>
<path d="M522.5 909.1 L524.0 907.7 L525.5 906.1 L527.0 904.3 L528.5 902.3 L530.0 900.1 L531.5 897.7 L533.0 895.1 L534.5 892.7 L536.0 890.3 L537.5 888.1 L539.0 886.1 L540.5 884.1 L542.0 882.3 L543.5 880.5 L545.0 878.9 L546.5 877.4 L548.0 875.9 L549.5 874.5 L551.0 873.2 L552.5 872.0 L554.0 870.8 L555.5 869.7 L557.0 868.6 L558.6 867.6 L560.1 866.6 L561.6 865.8 L563.1 865.0 L564.6 864.3 L566.1 863.7 L567.6 863.1 L569.1 862.6 L570.6 862.2 L572.1 861.9 L573.6 861.6 L575.1 861.4 L576.6 861.3 L578.1 861.1 L579.6 861.0 L581.1 861.0 L582.6 860.9 L584.1 860.9 L585.6 861.0 L587.1 861.0 L588.6 861.1 L590.1 861.2 L591.6 861.2 L593.1 861.3 L594.6 861.3 L596.1 861.3 L597.6 861.3 L599.1 861.2 L600.6 861.0 L602.2 860.9 L603.7 860.7 L605.2 860.5 L606.7 860.3 L608.2 860.1 L609.7 859.7 L611.2 859.3 L612.7 858.8 L614.2 858.3 L615.7 857.7 L617.2 857.1 L618.7 856.3 L620.2 855.5 L621.7 854.6 L623.2 853.6 L624.7 852.5 L626.2 851.4 L627.7 850.2 L629.2 848.9 L630.7 847.6 L632.2 846.3 L633.7 844.9 L635.2 843.6 L636.7 842.4 L638.2 841.3 L639.7 840.2 L641.2 839.3 L642.7 838.6 L644.2 838.0 L645.8 837.7 L647.3 837.6 L648.8 837.8 L650.3 838.3 L651.8 839.2 L653.3 840.5 L654.8 842.1 L656.3 844.3 L657.8 846.9 L659.3 850.1 L660.8 853.9 L662.3 858.3 L663.8 863.2 L665.3 868.6 L666.8 874.2 L668.3 879.8 L669.8 885.4 L671.3 890.8 L672.8 895.8 L674.3 900.2 L675.8 903.9 L677.3 906.8 L678.8 909.0 L680.3 910.5 L681.8 911.5 L683.3 912.3 L684.8 912.7 L686.3 912.9 L687.8 913.0 L689.4 912.9 L690.9 912.8 L692.4 912.7 L693.9 912.5 L695.4 912.4 L696.9 912.3 L698.4 912.2 L699.9 912.1 L701.4 911.9 L702.9 911.8 L704.4 911.7 L705.9 911.6 L707.4 911.5 L708.9 911.4 L710.4 911.3 L711.9 911.3 L713.4 911.2 L714.9 911.2 L716.4 911.2 L717.9 911.2 L719.4 911.3 L720.9 911.3 L722.4 911.3 L723.9 911.3 L725.4 911.4 L726.9 911.4 L728.4 911.4 L729.9 911.5 L731.4 911.5 L732.9 911.5 L734.5 911.5 L736.0 911.5 L737.5 911.4 L739.0 911.4 L740.5 911.4 L742.0 911.3 L743.5 911.3 L745.0 911.2 L746.5 911.2 L748.0 911.1 L749.5 911.0 L751.0 911.0 L752.5 910.9 L754.0 910.9 L755.5 910.8 L757.0 910.8 L758.5 910.8 L760.0 910.8 L761.5 910.8 L763.0 910.8 L764.5 910.8 L766.0 910.8 L767.5 910.8 L769.0 910.8 L770.5 910.9 L772.0 910.9 L773.5 911.0 L775.0 911.0 L776.5 911.1 L778.1 911.1 L779.6 911.2 L781.1 911.2" fill="none" stroke="#A5142F" stroke-width="6" stroke-linejoin="round"/>
<path d="M522.47 910.76H781.06" stroke="#333" stroke-width="3" stroke-dasharray="3 3.11" fill="none"/>
<rect x="523.65" y="937.20" width="49.88" height="9.80" fill="#A5142F"/><path d="M525.90 937.20h2.08V947.00h-2.08zM530.23 937.20h2.08V947.00h-2.08zM534.56 937.20h2.08V947.00h-2.08zM538.89 937.20h2.08V947.00h-2.08zM543.22 937.20h2.08V947.00h-2.08zM547.55 937.20h2.08V947.00h-2.08zM551.88 937.20h2.08V947.00h-2.08zM556.21 937.20h2.08V947.00h-2.08zM560.54 937.20h2.08V947.00h-2.08zM564.87 937.20h2.08V947.00h-2.08zM569.20 937.20h2.08V947.00h-2.08z" fill="#000"/>
<rect x="603.41" y="937.20" width="60.71" height="9.80" fill="#A5142F"/><path d="M605.75 937.20h2.16V947.00h-2.16zM610.24 937.20h2.16V947.00h-2.16zM614.73 937.20h2.16V947.00h-2.16zM619.22 937.20h2.16V947.00h-2.16zM623.71 937.20h2.16V947.00h-2.16zM628.20 937.20h2.16V947.00h-2.16zM632.69 937.20h2.16V947.00h-2.16zM637.18 937.20h2.16V947.00h-2.16zM641.67 937.20h2.16V947.00h-2.16zM646.16 937.20h2.16V947.00h-2.16zM650.65 937.20h2.16V947.00h-2.16zM655.14 937.20h2.16V947.00h-2.16zM659.63 937.20h2.16V947.00h-2.16z" fill="#000"/>
<path d="M522.47 780.18V947.00H781.06" stroke="#505050" stroke-width="1" fill="none"/>
<path d="M522.47 801.59h2.7M522.47 838.06h2.7M522.47 874.53h2.7M522.47 910.76h2.7M522.47 947.00h2.7M522.47 947.00v-2.7M651.76 947.00v-2.7M781.06 947.00v-2.7" stroke="#505050" stroke-width="1" fill="none"/>
<text transform="translate(514.7 809.2) scale(1 1.065)" text-anchor="end" class="t">1.5</text>
<text transform="translate(514.7 845.7) scale(1 1.065)" text-anchor="end" class="t">1</text>
<text transform="translate(514.7 882.1) scale(1 1.065)" text-anchor="end" class="t">0.5</text>
<text transform="translate(514.7 918.4) scale(1 1.065)" text-anchor="end" class="t">0</text>
<text transform="translate(514.7 955.5) scale(1 1.065)" text-anchor="end" class="t">-0.5</text>
<text transform="translate(522.5 973.5) scale(1 1.065)" text-anchor="middle" class="t">0</text>
<text transform="translate(651.8 973.5) scale(1 1.065)" text-anchor="middle" class="t">50</text>
<text transform="translate(781.1 973.5) scale(1 1.065)" text-anchor="middle" class="t">100</text>
<text transform="translate(445.6 863.6) rotate(-90) scale(1 1.065)" text-anchor="middle" class="l">Ankle</text>
<text transform="translate(472.5 863.6) rotate(-90) scale(1 1.065)" text-anchor="middle" class="l">DF [Nm/kg] PF</text>
<text transform="translate(651.8 1001.2) scale(1 1.065)" text-anchor="middle" class="l">[%] Gait cycle</text>
</g>
<g id="ankle_pow">
<path d="M896.5 875.0 L898.0 874.9 L899.5 874.8 L901.0 874.6 L902.5 874.5 L904.0 874.3 L905.5 874.2 L907.0 874.0 L908.5 873.8 L910.0 873.6 L911.5 873.5 L913.0 873.5 L914.5 873.7 L916.0 874.0 L917.5 874.5 L919.0 875.0 L920.5 875.5 L922.0 876.1 L923.5 876.7 L925.0 877.3 L926.5 877.9 L928.0 878.4 L929.5 878.9 L931.0 879.2 L932.5 879.4 L934.0 879.4 L935.5 879.3 L937.0 879.1 L938.5 878.7 L940.0 878.3 L941.5 877.8 L943.0 877.4 L944.5 877.1 L946.0 876.8 L947.5 876.5 L949.0 876.3 L950.5 876.0 L952.0 875.8 L953.5 875.5 L955.1 875.3 L956.6 875.1 L958.1 875.0 L959.6 874.9 L961.1 874.8 L962.6 874.9 L964.1 874.9 L965.6 875.1 L967.1 875.2 L968.6 875.4 L970.1 875.7 L971.6 876.0 L973.1 876.3 L974.6 876.6 L976.1 876.9 L977.6 877.3 L979.1 877.6 L980.6 877.9 L982.1 878.2 L983.6 878.5 L985.1 878.7 L986.6 879.0 L988.1 879.2 L989.6 879.3 L991.1 879.4 L992.6 879.5 L994.1 879.5 L995.6 879.4 L997.1 879.1 L998.6 878.6 L1000.1 877.9 L1001.6 877.0 L1003.1 875.7 L1004.6 873.9 L1006.1 871.3 L1007.6 867.6 L1009.1 863.0 L1010.6 857.7 L1012.1 852.0 L1013.6 845.9 L1015.1 839.7 L1016.6 833.6 L1018.1 827.6 L1019.6 821.7 L1021.1 815.9 L1022.6 810.3 L1024.1 805.1 L1025.6 800.6 L1027.1 797.2 L1028.7 795.0 L1030.2 793.7 L1031.7 793.2 L1033.2 793.3 L1034.7 794.2 L1036.2 796.1 L1037.7 799.4 L1039.2 804.3 L1040.7 810.7 L1042.2 818.3 L1043.7 826.7 L1045.2 835.1 L1046.7 843.1 L1048.2 850.3 L1049.7 856.6 L1051.2 862.0 L1052.7 866.4 L1054.2 869.8 L1055.7 872.2 L1057.2 873.7 L1058.7 874.6 L1060.2 875.1 L1061.7 875.3 L1063.2 875.3 L1064.7 875.1 L1066.2 875.0 L1067.7 874.8 L1069.2 874.7 L1070.7 874.7 L1072.2 874.7 L1073.7 874.8 L1075.2 874.8 L1076.7 874.9 L1078.2 875.0 L1079.7 875.0 L1081.2 875.1 L1082.7 875.1 L1084.2 875.2 L1085.7 875.2 L1087.2 875.3 L1088.7 875.3 L1090.2 875.4 L1091.7 875.4 L1093.2 875.4 L1094.7 875.4 L1096.2 875.5 L1097.7 875.5 L1099.2 875.5 L1100.7 875.5 L1102.3 875.5 L1103.8 875.5 L1105.3 875.5 L1106.8 875.5 L1108.3 875.5 L1109.8 875.5 L1111.3 875.5 L1112.8 875.5 L1114.3 875.5 L1115.8 875.5 L1117.3 875.5 L1118.8 875.5 L1120.3 875.5 L1121.8 875.5 L1123.3 875.5 L1124.8 875.5 L1126.3 875.5 L1127.8 875.5 L1129.3 875.4 L1130.8 875.4 L1132.3 875.4 L1133.8 875.4 L1135.3 875.4 L1136.8 875.4 L1138.3 875.3 L1139.8 875.3 L1141.3 875.3 L1142.8 875.3 L1144.3 875.2 L1145.8 875.2 L1147.3 875.2 L1148.8 875.1 L1150.3 875.1 L1151.8 875.1 L1153.3 875.0 L1154.8 875.0 L1154.8 877.8 L1153.3 877.8 L1151.8 877.8 L1150.3 877.8 L1148.8 877.8 L1147.3 877.8 L1145.8 877.8 L1144.3 877.8 L1142.8 877.8 L1141.3 877.8 L1139.8 877.8 L1138.3 877.8 L1136.8 877.8 L1135.3 877.8 L1133.8 877.8 L1132.3 877.8 L1130.8 877.8 L1129.3 877.9 L1127.8 877.9 L1126.3 877.9 L1124.8 877.9 L1123.3 877.9 L1121.8 877.9 L1120.3 877.9 L1118.8 877.9 L1117.3 877.9 L1115.8 877.9 L1114.3 877.9 L1112.8 877.9 L1111.3 877.9 L1109.8 877.9 L1108.3 877.8 L1106.8 877.8 L1105.3 877.8 L1103.8 877.8 L1102.3 877.8 L1100.7 877.8 L1099.2 877.8 L1097.7 877.8 L1096.2 877.8 L1094.7 877.8 L1093.2 877.8 L1091.7 877.8 L1090.2 877.8 L1088.7 877.8 L1087.2 877.8 L1085.7 877.8 L1084.2 877.8 L1082.7 877.7 L1081.2 877.7 L1079.7 877.7 L1078.2 877.7 L1076.7 877.7 L1075.2 877.7 L1073.7 877.7 L1072.2 877.7 L1070.7 877.8 L1069.2 877.9 L1067.7 878.0 L1066.2 878.3 L1064.7 878.5 L1063.2 878.8 L1061.7 879.0 L1060.2 879.2 L1058.7 879.3 L1057.2 879.4 L1055.7 879.3 L1054.2 878.7 L1052.7 877.5 L1051.2 875.5 L1049.7 872.7 L1048.2 869.3 L1046.7 865.0 L1045.2 860.1 L1043.7 854.6 L1042.2 849.1 L1040.7 844.2 L1039.2 840.3 L1037.7 837.7 L1036.2 836.4 L1034.7 836.1 L1033.2 836.4 L1031.7 837.1 L1030.2 837.9 L1028.7 839.1 L1027.1 840.9 L1025.6 843.5 L1024.1 846.9 L1022.6 850.9 L1021.1 855.2 L1019.6 859.5 L1018.1 863.9 L1016.6 868.1 L1015.1 872.2 L1013.6 875.8 L1012.1 879.1 L1010.6 882.0 L1009.1 884.5 L1007.6 886.5 L1006.1 888.0 L1004.6 888.9 L1003.1 889.4 L1001.6 889.6 L1000.1 889.7 L998.6 889.7 L997.1 889.5 L995.6 889.2 L994.1 888.8 L992.6 888.4 L991.1 887.9 L989.6 887.4 L988.1 887.0 L986.6 886.5 L985.1 886.1 L983.6 885.6 L982.1 885.2 L980.6 884.7 L979.1 884.3 L977.6 883.8 L976.1 883.3 L974.6 882.9 L973.1 882.5 L971.6 882.1 L970.1 881.7 L968.6 881.4 L967.1 881.1 L965.6 880.9 L964.1 880.7 L962.6 880.6 L961.1 880.6 L959.6 880.6 L958.1 880.8 L956.6 881.1 L955.1 881.6 L953.5 882.3 L952.0 883.1 L950.5 884.1 L949.0 885.1 L947.5 886.2 L946.0 887.2 L944.5 888.3 L943.0 889.4 L941.5 890.5 L940.0 891.4 L938.5 892.3 L937.0 892.9 L935.5 893.3 L934.0 893.5 L932.5 893.5 L931.0 893.3 L929.5 892.9 L928.0 892.3 L926.5 891.5 L925.0 890.5 L923.5 889.4 L922.0 888.1 L920.5 886.9 L919.0 885.6 L917.5 884.3 L916.0 883.0 L914.5 882.0 L913.0 881.2 L911.5 880.6 L910.0 880.2 L908.5 880.0 L907.0 879.8 L905.5 879.6 L904.0 879.4 L902.5 879.3 L901.0 879.1 L899.5 879.0 L898.0 878.9 L896.5 878.8Z" fill="#404040" fill-opacity="0.2"/>
<path d="M896.5 876.9 L898.0 876.9 L899.5 876.9 L901.0 876.9 L902.5 876.9 L904.0 876.9 L905.5 876.9 L907.0 876.9 L908.5 876.9 L910.0 876.9 L911.5 877.0 L913.0 877.3 L914.5 877.8 L916.0 878.5 L917.5 879.4 L919.0 880.3 L920.5 881.2 L922.0 882.1 L923.5 883.0 L925.0 883.9 L926.5 884.7 L928.0 885.4 L929.5 885.9 L931.0 886.2 L932.5 886.4 L934.0 886.5 L935.5 886.3 L937.0 886.0 L938.5 885.5 L940.0 884.9 L941.5 884.2 L943.0 883.4 L944.5 882.7 L946.0 882.0 L947.5 881.4 L949.0 880.7 L950.5 880.1 L952.0 879.5 L953.5 878.9 L955.1 878.5 L956.6 878.1 L958.1 877.9 L959.6 877.7 L961.1 877.7 L962.6 877.7 L964.1 877.8 L965.6 878.0 L967.1 878.2 L968.6 878.4 L970.1 878.7 L971.6 879.0 L973.1 879.4 L974.6 879.7 L976.1 880.1 L977.6 880.5 L979.1 880.9 L980.6 881.3 L982.1 881.7 L983.6 882.1 L985.1 882.4 L986.6 882.7 L988.1 883.1 L989.6 883.4 L991.1 883.7 L992.6 883.9 L994.1 884.2 L995.6 884.3 L997.1 884.3 L998.6 884.1 L1000.1 883.8 L1001.6 883.3 L1003.1 882.5 L1004.6 881.4 L1006.1 879.7 L1007.6 877.1 L1009.1 873.7 L1010.6 869.9 L1012.1 865.5 L1013.6 860.9 L1015.1 855.9 L1016.6 850.9 L1018.1 845.8 L1019.6 840.6 L1021.1 835.6 L1022.6 830.6 L1024.1 826.0 L1025.6 822.0 L1027.1 819.0 L1028.7 817.0 L1030.2 815.8 L1031.7 815.1 L1033.2 814.9 L1034.7 815.2 L1036.2 816.2 L1037.7 818.5 L1039.2 822.3 L1040.7 827.4 L1042.2 833.7 L1043.7 840.7 L1045.2 847.6 L1046.7 854.1 L1048.2 859.8 L1049.7 864.7 L1051.2 868.7 L1052.7 871.9 L1054.2 874.3 L1055.7 875.7 L1057.2 876.6 L1058.7 877.0 L1060.2 877.2 L1061.7 877.2 L1063.2 877.0 L1064.7 876.8 L1066.2 876.6 L1067.7 876.4 L1069.2 876.3 L1070.7 876.2 L1072.2 876.2 L1073.7 876.2 L1075.2 876.3 L1076.7 876.3 L1078.2 876.3 L1079.7 876.4 L1081.2 876.4 L1082.7 876.4 L1084.2 876.5 L1085.7 876.5 L1087.2 876.6 L1088.7 876.6 L1090.2 876.6 L1091.7 876.6 L1093.2 876.6 L1094.7 876.6 L1096.2 876.6 L1097.7 876.7 L1099.2 876.7 L1100.7 876.7 L1102.3 876.7 L1103.8 876.7 L1105.3 876.7 L1106.8 876.7 L1108.3 876.7 L1109.8 876.7 L1111.3 876.7 L1112.8 876.7 L1114.3 876.7 L1115.8 876.7 L1117.3 876.7 L1118.8 876.7 L1120.3 876.7 L1121.8 876.7 L1123.3 876.7 L1124.8 876.7 L1126.3 876.7 L1127.8 876.7 L1129.3 876.6 L1130.8 876.6 L1132.3 876.6 L1133.8 876.6 L1135.3 876.6 L1136.8 876.6 L1138.3 876.6 L1139.8 876.6 L1141.3 876.6 L1142.8 876.5 L1144.3 876.5 L1145.8 876.5 L1147.3 876.5 L1148.8 876.5 L1150.3 876.5 L1151.8 876.4 L1153.3 876.4 L1154.8 876.4" fill="none" stroke="#404040" stroke-width="6" stroke-linejoin="round"/>
<path d="M896.5 875.0 L898.0 875.1 L899.5 875.1 L901.0 875.2 L902.5 875.2 L904.0 875.3 L905.5 875.4 L907.0 875.5 L908.5 875.7 L910.0 875.9 L911.5 876.1 L913.0 876.2 L914.5 876.4 L916.0 876.6 L917.5 876.8 L919.0 876.9 L920.5 877.0 L922.0 877.2 L923.5 877.3 L925.0 877.3 L926.5 877.4 L928.0 877.4 L929.5 877.4 L931.0 877.4 L932.5 877.4 L934.0 877.3 L935.5 877.2 L937.0 877.1 L938.5 876.9 L940.0 876.7 L941.5 876.5 L943.0 876.3 L944.5 876.2 L946.0 876.1 L947.5 876.0 L949.0 876.0 L950.5 875.9 L952.0 875.8 L953.5 875.7 L955.1 875.6 L956.6 875.6 L958.1 875.5 L959.6 875.5 L961.1 875.5 L962.6 875.5 L964.1 875.6 L965.6 875.8 L967.1 875.9 L968.6 876.1 L970.1 876.3 L971.6 876.6 L973.1 876.8 L974.6 877.0 L976.1 877.3 L977.6 877.6 L979.1 877.9 L980.6 878.2 L982.1 878.6 L983.6 878.9 L985.1 879.2 L986.6 879.4 L988.1 879.7 L989.6 879.8 L991.1 880.0 L992.6 880.1 L994.1 880.2 L995.6 880.3 L997.1 880.3 L998.6 880.3 L1000.1 880.3 L1001.6 880.2 L1003.1 880.0 L1004.6 879.7 L1006.1 879.4 L1007.6 878.9 L1009.1 878.4 L1010.6 877.6 L1012.1 876.6 L1013.6 875.2 L1015.1 873.7 L1016.6 871.8 L1018.1 869.7 L1019.6 867.2 L1021.1 864.4 L1022.6 861.4 L1024.1 858.0 L1025.6 854.3 L1027.1 850.2 L1028.7 845.9 L1030.2 841.5 L1031.7 837.0 L1033.2 832.9 L1034.7 829.5 L1036.2 827.0 L1037.7 825.5 L1039.2 825.2 L1040.7 826.2 L1042.2 828.5 L1043.7 832.0 L1045.2 836.6 L1046.7 842.0 L1048.2 847.9 L1049.7 853.9 L1051.2 859.7 L1052.7 864.8 L1054.2 869.0 L1055.7 872.0 L1057.2 873.9 L1058.7 874.8 L1060.2 875.1 L1061.7 875.0 L1063.2 874.9 L1064.7 874.7 L1066.2 874.6 L1067.7 874.4 L1069.2 874.3 L1070.7 874.1 L1072.2 874.1 L1073.7 874.1 L1075.2 874.2 L1076.7 874.3 L1078.2 874.4 L1079.7 874.5 L1081.2 874.6 L1082.7 874.7 L1084.2 874.8 L1085.7 875.0 L1087.2 875.1 L1088.7 875.2 L1090.2 875.3 L1091.7 875.3 L1093.2 875.4 L1094.7 875.4 L1096.2 875.4 L1097.7 875.5 L1099.2 875.5 L1100.7 875.5 L1102.3 875.5 L1103.8 875.5 L1105.3 875.5 L1106.8 875.5 L1108.3 875.5 L1109.8 875.5 L1111.3 875.5 L1112.8 875.5 L1114.3 875.5 L1115.8 875.5 L1117.3 875.5 L1118.8 875.5 L1120.3 875.5 L1121.8 875.5 L1123.3 875.5 L1124.8 875.5 L1126.3 875.5 L1127.8 875.5 L1129.3 875.4 L1130.8 875.4 L1132.3 875.4 L1133.8 875.4 L1135.3 875.4 L1136.8 875.4 L1138.3 875.3 L1139.8 875.3 L1141.3 875.3 L1142.8 875.3 L1144.3 875.2 L1145.8 875.2 L1147.3 875.2 L1148.8 875.1 L1150.3 875.1 L1151.8 875.1 L1153.3 875.0 L1154.8 875.0 L1154.8 877.8 L1153.3 877.8 L1151.8 877.8 L1150.3 877.8 L1148.8 877.8 L1147.3 877.8 L1145.8 877.8 L1144.3 877.8 L1142.8 877.8 L1141.3 877.8 L1139.8 877.8 L1138.3 877.8 L1136.8 877.8 L1135.3 877.8 L1133.8 877.8 L1132.3 877.8 L1130.8 877.8 L1129.3 877.9 L1127.8 877.9 L1126.3 877.9 L1124.8 877.9 L1123.3 877.9 L1121.8 877.9 L1120.3 877.9 L1118.8 877.9 L1117.3 877.9 L1115.8 877.9 L1114.3 877.9 L1112.8 877.9 L1111.3 877.9 L1109.8 877.9 L1108.3 877.9 L1106.8 877.9 L1105.3 877.9 L1103.8 877.9 L1102.3 877.9 L1100.7 877.9 L1099.2 877.9 L1097.7 877.9 L1096.2 877.9 L1094.7 877.9 L1093.2 877.9 L1091.7 877.8 L1090.2 877.8 L1088.7 877.8 L1087.2 877.7 L1085.7 877.6 L1084.2 877.6 L1082.7 877.5 L1081.2 877.4 L1079.7 877.4 L1078.2 877.4 L1076.7 877.3 L1075.2 877.3 L1073.7 877.4 L1072.2 877.5 L1070.7 877.6 L1069.2 877.8 L1067.7 878.1 L1066.2 878.4 L1064.7 878.7 L1063.2 879.0 L1061.7 879.3 L1060.2 879.7 L1058.7 879.9 L1057.2 879.8 L1055.7 879.0 L1054.2 877.5 L1052.7 875.1 L1051.2 872.0 L1049.7 868.2 L1048.2 864.0 L1046.7 859.8 L1045.2 855.8 L1043.7 852.5 L1042.2 850.0 L1040.7 848.5 L1039.2 848.0 L1037.7 848.4 L1036.2 849.7 L1034.7 851.8 L1033.2 854.6 L1031.7 858.0 L1030.2 861.7 L1028.7 865.3 L1027.1 868.7 L1025.6 871.9 L1024.1 874.8 L1022.6 877.3 L1021.1 879.6 L1019.6 881.5 L1018.1 883.1 L1016.6 884.4 L1015.1 885.5 L1013.6 886.4 L1012.1 887.1 L1010.6 887.6 L1009.1 887.9 L1007.6 888.1 L1006.1 888.3 L1004.6 888.4 L1003.1 888.5 L1001.6 888.5 L1000.1 888.4 L998.6 888.3 L997.1 888.2 L995.6 888.0 L994.1 887.8 L992.6 887.5 L991.1 887.3 L989.6 887.0 L988.1 886.7 L986.6 886.3 L985.1 885.9 L983.6 885.5 L982.1 885.0 L980.6 884.5 L979.1 884.0 L977.6 883.5 L976.1 883.0 L974.6 882.6 L973.1 882.2 L971.6 881.9 L970.1 881.5 L968.6 881.2 L967.1 880.9 L965.6 880.7 L964.1 880.5 L962.6 880.3 L961.1 880.3 L959.6 880.3 L958.1 880.5 L956.6 880.7 L955.1 881.0 L953.5 881.4 L952.0 881.9 L950.5 882.5 L949.0 883.0 L947.5 883.6 L946.0 884.2 L944.5 884.9 L943.0 885.5 L941.5 886.2 L940.0 886.9 L938.5 887.6 L937.0 888.1 L935.5 888.6 L934.0 889.0 L932.5 889.4 L931.0 889.7 L929.5 889.9 L928.0 890.1 L926.5 890.3 L925.0 890.5 L923.5 890.6 L922.0 890.7 L920.5 890.7 L919.0 890.7 L917.5 890.6 L916.0 890.5 L914.5 890.4 L913.0 890.1 L911.5 889.7 L910.0 889.1 L908.5 888.4 L907.0 887.5 L905.5 886.5 L904.0 885.4 L902.5 884.2 L901.0 883.0 L899.5 881.6 L898.0 880.2 L896.5 878.7Z" fill="#A5142F" fill-opacity="0.2"/>
<path d="M896.5 876.9 L898.0 877.6 L899.5 878.4 L901.0 879.1 L902.5 879.7 L904.0 880.3 L905.5 880.9 L907.0 881.5 L908.5 882.0 L910.0 882.5 L911.5 882.9 L913.0 883.2 L914.5 883.4 L916.0 883.6 L917.5 883.7 L919.0 883.8 L920.5 883.9 L922.0 883.9 L923.5 883.9 L925.0 883.9 L926.5 883.8 L928.0 883.8 L929.5 883.7 L931.0 883.5 L932.5 883.4 L934.0 883.2 L935.5 882.9 L937.0 882.6 L938.5 882.2 L940.0 881.8 L941.5 881.4 L943.0 880.9 L944.5 880.5 L946.0 880.2 L947.5 879.8 L949.0 879.5 L950.5 879.2 L952.0 878.9 L953.5 878.6 L955.1 878.3 L956.6 878.1 L958.1 878.0 L959.6 877.9 L961.1 877.9 L962.6 877.9 L964.1 878.1 L965.6 878.2 L967.1 878.4 L968.6 878.7 L970.1 878.9 L971.6 879.2 L973.1 879.5 L974.6 879.8 L976.1 880.2 L977.6 880.5 L979.1 880.9 L980.6 881.3 L982.1 881.8 L983.6 882.2 L985.1 882.5 L986.6 882.9 L988.1 883.2 L989.6 883.4 L991.1 883.6 L992.6 883.8 L994.1 884.0 L995.6 884.1 L997.1 884.2 L998.6 884.3 L1000.1 884.4 L1001.6 884.3 L1003.1 884.2 L1004.6 884.1 L1006.1 883.8 L1007.6 883.5 L1009.1 883.1 L1010.6 882.6 L1012.1 881.8 L1013.6 880.8 L1015.1 879.6 L1016.6 878.1 L1018.1 876.4 L1019.6 874.4 L1021.1 872.0 L1022.6 869.3 L1024.1 866.4 L1025.6 863.1 L1027.1 859.5 L1028.7 855.6 L1030.2 851.6 L1031.7 847.5 L1033.2 843.8 L1034.7 840.6 L1036.2 838.3 L1037.7 836.9 L1039.2 836.6 L1040.7 837.3 L1042.2 839.2 L1043.7 842.2 L1045.2 846.2 L1046.7 850.9 L1048.2 856.0 L1049.7 861.1 L1051.2 865.9 L1052.7 870.0 L1054.2 873.2 L1055.7 875.5 L1057.2 876.8 L1058.7 877.4 L1060.2 877.4 L1061.7 877.2 L1063.2 876.9 L1064.7 876.7 L1066.2 876.5 L1067.7 876.2 L1069.2 876.0 L1070.7 875.9 L1072.2 875.8 L1073.7 875.7 L1075.2 875.8 L1076.7 875.8 L1078.2 875.9 L1079.7 875.9 L1081.2 876.0 L1082.7 876.1 L1084.2 876.2 L1085.7 876.3 L1087.2 876.4 L1088.7 876.5 L1090.2 876.5 L1091.7 876.6 L1093.2 876.6 L1094.7 876.6 L1096.2 876.7 L1097.7 876.7 L1099.2 876.7 L1100.7 876.7 L1102.3 876.7 L1103.8 876.7 L1105.3 876.7 L1106.8 876.7 L1108.3 876.7 L1109.8 876.7 L1111.3 876.7 L1112.8 876.7 L1114.3 876.7 L1115.8 876.7 L1117.3 876.7 L1118.8 876.7 L1120.3 876.7 L1121.8 876.7 L1123.3 876.7 L1124.8 876.7 L1126.3 876.7 L1127.8 876.7 L1129.3 876.6 L1130.8 876.6 L1132.3 876.6 L1133.8 876.6 L1135.3 876.6 L1136.8 876.6 L1138.3 876.6 L1139.8 876.6 L1141.3 876.6 L1142.8 876.5 L1144.3 876.5 L1145.8 876.5 L1147.3 876.5 L1148.8 876.5 L1150.3 876.5 L1151.8 876.4 L1153.3 876.4 L1154.8 876.4" fill="none" stroke="#A5142F" stroke-width="6" stroke-linejoin="round"/>
<path d="M896.47 876.88H1154.82" stroke="#333" stroke-width="3" stroke-dasharray="3 3.11" fill="none"/>
<rect x="903.53" y="937.20" width="14.82" height="9.80" fill="#A5142F"/><path d="M905.72 937.20h2.02V947.00h-2.02zM909.93 937.20h2.02V947.00h-2.02zM914.14 937.20h2.02V947.00h-2.02z" fill="#000"/>
<rect x="931.76" y="937.20" width="12.24" height="9.80" fill="#A5142F"/><path d="M933.57 937.20h1.67V947.00h-1.67zM937.05 937.20h1.67V947.00h-1.67zM940.52 937.20h1.67V947.00h-1.67z" fill="#000"/>
<rect x="1008.94" y="937.20" width="30.35" height="9.80" fill="#A5142F"/><path d="M1011.04 937.20h1.94V947.00h-1.94zM1015.08 937.20h1.94V947.00h-1.94zM1019.11 937.20h1.94V947.00h-1.94zM1023.15 937.20h1.94V947.00h-1.94zM1027.19 937.20h1.94V947.00h-1.94zM1031.22 937.20h1.94V947.00h-1.94zM1035.26 937.20h1.94V947.00h-1.94z" fill="#000"/>
<rect x="1058.35" y="937.20" width="13.41" height="9.80" fill="#A5142F"/><path d="M1060.33 937.20h1.83V947.00h-1.83zM1064.14 937.20h1.83V947.00h-1.83zM1067.95 937.20h1.83V947.00h-1.83z" fill="#000"/>
<path d="M896.47 780.18V947.00H1154.82" stroke="#505050" stroke-width="1" fill="none"/>
<path d="M896.47 806.29h2.7M896.47 841.59h2.7M896.47 876.88h2.7M896.47 911.94h2.7M896.47 947.00h2.7M896.47 947.00v-2.7M1025.65 947.00v-2.7M1154.82 947.00v-2.7" stroke="#505050" stroke-width="1" fill="none"/>
<text transform="translate(888.7 813.9) scale(1 1.065)" text-anchor="end" class="t">4</text>
<text transform="translate(888.7 849.2) scale(1 1.065)" text-anchor="end" class="t">2</text>
<text transform="translate(888.7 884.5) scale(1 1.065)" text-anchor="end" class="t">0</text>
<text transform="translate(888.7 919.5) scale(1 1.065)" text-anchor="end" class="t">-2</text>
<text transform="translate(888.7 955.5) scale(1 1.065)" text-anchor="end" class="t">-4</text>
<text transform="translate(896.5 973.5) scale(1 1.065)" text-anchor="middle" class="t">0</text>
<text transform="translate(1025.6 973.5) scale(1 1.065)" text-anchor="middle" class="t">50</text>
<text transform="translate(1154.8 973.5) scale(1 1.065)" text-anchor="middle" class="t">100</text>
<text transform="translate(835.0 863.6) rotate(-90) scale(1 1.065)" text-anchor="middle" class="l">Ankle</text>
<text transform="translate(861.9 863.6) rotate(-90) scale(1 1.065)" text-anchor="middle" class="l">Abs [W/kg] Gen</text>
<text transform="translate(1025.6 1001.2) scale(1 1.065)" text-anchor="middle" class="l">[%] Gait cycle</text>
</g>
<g id="foot">
<path d="M1644.1 832.2 L1645.6 831.3 L1647.1 830.4 L1648.6 829.6 L1650.1 828.8 L1651.6 828.1 L1653.1 827.4 L1654.6 826.7 L1656.1 826.1 L1657.6 825.5 L1659.1 825.0 L1660.6 824.5 L1662.1 824.2 L1663.6 823.9 L1665.1 823.7 L1666.6 823.6 L1668.1 823.5 L1669.6 823.4 L1671.1 823.4 L1672.6 823.4 L1674.1 823.5 L1675.6 823.6 L1677.1 823.7 L1678.6 823.9 L1680.1 824.1 L1681.6 824.3 L1683.1 824.5 L1684.6 824.7 L1686.1 824.9 L1687.6 825.1 L1689.1 825.3 L1690.6 825.5 L1692.1 825.7 L1693.6 825.9 L1695.1 826.0 L1696.6 826.2 L1698.1 826.3 L1699.6 826.5 L1701.1 826.6 L1702.6 826.8 L1704.1 826.9 L1705.6 827.0 L1707.1 827.1 L1708.6 827.2 L1710.1 827.4 L1711.6 827.5 L1713.1 827.6 L1714.6 827.8 L1716.2 827.9 L1717.7 828.0 L1719.2 828.2 L1720.7 828.3 L1722.2 828.5 L1723.7 828.6 L1725.2 828.8 L1726.7 828.9 L1728.2 829.1 L1729.7 829.2 L1731.2 829.4 L1732.7 829.5 L1734.2 829.7 L1735.7 829.8 L1737.2 830.0 L1738.7 830.2 L1740.2 830.3 L1741.7 830.5 L1743.2 830.6 L1744.7 830.8 L1746.2 830.9 L1747.7 831.0 L1749.2 831.1 L1750.7 831.1 L1752.2 831.1 L1753.7 831.1 L1755.2 831.1 L1756.7 831.0 L1758.2 830.8 L1759.7 830.7 L1761.2 830.4 L1762.7 830.1 L1764.2 829.7 L1765.7 829.3 L1767.2 828.9 L1768.7 828.5 L1770.2 828.1 L1771.7 827.7 L1773.2 827.3 L1774.7 826.8 L1776.2 826.4 L1777.7 825.9 L1779.2 825.5 L1780.7 825.1 L1782.2 824.7 L1783.7 824.3 L1785.2 824.0 L1786.7 823.6 L1788.2 823.3 L1789.7 823.0 L1791.2 822.8 L1792.7 822.7 L1794.2 822.7 L1795.7 822.8 L1797.2 823.0 L1798.7 823.2 L1800.2 823.6 L1801.7 824.1 L1803.2 824.6 L1804.7 825.3 L1806.2 826.1 L1807.7 827.0 L1809.2 828.0 L1810.7 829.0 L1812.2 830.0 L1813.7 831.1 L1815.2 832.1 L1816.7 833.2 L1818.2 834.2 L1819.7 835.1 L1821.2 835.9 L1822.7 836.7 L1824.2 837.5 L1825.7 838.2 L1827.2 838.9 L1828.7 839.5 L1830.2 840.1 L1831.7 840.6 L1833.2 841.1 L1834.7 841.6 L1836.2 842.0 L1837.7 842.4 L1839.2 842.8 L1840.7 843.1 L1842.2 843.4 L1843.7 843.6 L1845.2 843.8 L1846.7 843.9 L1848.2 844.0 L1849.7 844.0 L1851.2 844.0 L1852.7 844.0 L1854.2 843.9 L1855.7 843.8 L1857.2 843.6 L1858.7 843.4 L1860.2 843.2 L1861.7 843.0 L1863.2 842.8 L1864.7 842.5 L1866.2 842.3 L1867.7 842.1 L1869.2 841.8 L1870.7 841.6 L1872.2 841.3 L1873.7 841.0 L1875.2 840.7 L1876.7 840.3 L1878.2 840.0 L1879.7 839.6 L1881.2 839.2 L1882.7 838.8 L1884.2 838.3 L1885.7 837.8 L1887.2 837.3 L1888.7 836.9 L1890.2 836.4 L1891.7 836.0 L1893.2 835.5 L1894.7 835.1 L1896.2 834.6 L1897.7 834.1 L1899.2 833.6 L1900.7 833.1 L1902.2 832.7 L1902.2 867.9 L1900.7 868.0 L1899.2 868.1 L1897.7 868.2 L1896.2 868.3 L1894.7 868.5 L1893.2 868.8 L1891.7 869.1 L1890.2 869.4 L1888.7 869.8 L1887.2 870.3 L1885.7 870.8 L1884.2 871.2 L1882.7 871.7 L1881.2 872.1 L1879.7 872.5 L1878.2 872.9 L1876.7 873.3 L1875.2 873.6 L1873.7 873.9 L1872.2 874.2 L1870.7 874.5 L1869.2 874.7 L1867.7 875.0 L1866.2 875.1 L1864.7 875.3 L1863.2 875.4 L1861.7 875.5 L1860.2 875.6 L1858.7 875.6 L1857.2 875.6 L1855.7 875.5 L1854.2 875.5 L1852.7 875.3 L1851.2 875.2 L1849.7 875.0 L1848.2 874.8 L1846.7 874.6 L1845.2 874.4 L1843.7 874.2 L1842.2 874.0 L1840.7 873.7 L1839.2 873.4 L1837.7 873.0 L1836.2 872.6 L1834.7 872.2 L1833.2 871.7 L1831.7 871.2 L1830.2 870.7 L1828.7 870.1 L1827.2 869.5 L1825.7 868.8 L1824.2 868.1 L1822.7 867.4 L1821.2 866.6 L1819.7 865.9 L1818.2 865.1 L1816.7 864.4 L1815.2 863.6 L1813.7 862.9 L1812.2 862.3 L1810.7 861.8 L1809.2 861.2 L1807.7 860.7 L1806.2 860.3 L1804.7 859.9 L1803.2 859.5 L1801.7 859.3 L1800.2 859.1 L1798.7 858.9 L1797.2 858.9 L1795.7 858.9 L1794.2 859.0 L1792.7 859.1 L1791.2 859.4 L1789.7 859.8 L1788.2 860.2 L1786.7 860.7 L1785.2 861.1 L1783.7 861.7 L1782.2 862.2 L1780.7 862.7 L1779.2 863.3 L1777.7 863.9 L1776.2 864.5 L1774.7 865.1 L1773.2 865.7 L1771.7 866.3 L1770.2 866.9 L1768.7 867.4 L1767.2 868.0 L1765.7 868.5 L1764.2 869.0 L1762.7 869.5 L1761.2 870.0 L1759.7 870.4 L1758.2 870.7 L1756.7 871.0 L1755.2 871.2 L1753.7 871.4 L1752.2 871.6 L1750.7 871.8 L1749.2 871.9 L1747.7 872.0 L1746.2 872.0 L1744.7 872.1 L1743.2 872.1 L1741.7 872.1 L1740.2 872.1 L1738.7 872.0 L1737.2 872.0 L1735.7 871.9 L1734.2 871.9 L1732.7 871.8 L1731.2 871.7 L1729.7 871.5 L1728.2 871.4 L1726.7 871.2 L1725.2 871.0 L1723.7 870.8 L1722.2 870.6 L1720.7 870.4 L1719.2 870.1 L1717.7 869.9 L1716.2 869.6 L1714.6 869.3 L1713.1 869.1 L1711.6 868.8 L1710.1 868.6 L1708.6 868.3 L1707.1 868.0 L1705.6 867.8 L1704.1 867.5 L1702.6 867.3 L1701.1 867.1 L1699.6 866.8 L1698.1 866.6 L1696.6 866.4 L1695.1 866.1 L1693.6 865.9 L1692.1 865.7 L1690.6 865.5 L1689.1 865.3 L1687.6 865.1 L1686.1 864.9 L1684.6 864.7 L1683.1 864.5 L1681.6 864.3 L1680.1 864.1 L1678.6 863.9 L1677.1 863.7 L1675.6 863.6 L1674.1 863.5 L1672.6 863.4 L1671.1 863.4 L1669.6 863.4 L1668.1 863.5 L1666.6 863.6 L1665.1 863.7 L1663.6 863.9 L1662.1 864.1 L1660.6 864.4 L1659.1 864.7 L1657.6 865.1 L1656.1 865.6 L1654.6 866.0 L1653.1 866.5 L1651.6 867.0 L1650.1 867.5 L1648.6 868.0 L1647.1 868.6 L1645.6 869.2 L1644.1 869.8Z" fill="#404040" fill-opacity="0.2"/>
<path d="M1644.1 851.0 L1645.6 850.3 L1647.1 849.5 L1648.6 848.8 L1650.1 848.2 L1651.6 847.5 L1653.1 846.9 L1654.6 846.4 L1656.1 845.8 L1657.6 845.3 L1659.1 844.8 L1660.6 844.5 L1662.1 844.1 L1663.6 843.9 L1665.1 843.7 L1666.6 843.6 L1668.1 843.5 L1669.6 843.4 L1671.1 843.4 L1672.6 843.4 L1674.1 843.5 L1675.6 843.6 L1677.1 843.7 L1678.6 843.9 L1680.1 844.1 L1681.6 844.3 L1683.1 844.5 L1684.6 844.7 L1686.1 844.9 L1687.6 845.1 L1689.1 845.3 L1690.6 845.5 L1692.1 845.7 L1693.6 845.9 L1695.1 846.1 L1696.6 846.3 L1698.1 846.5 L1699.6 846.6 L1701.1 846.8 L1702.6 847.0 L1704.1 847.2 L1705.6 847.4 L1707.1 847.6 L1708.6 847.8 L1710.1 848.0 L1711.6 848.2 L1713.1 848.3 L1714.6 848.5 L1716.2 848.7 L1717.7 848.9 L1719.2 849.1 L1720.7 849.3 L1722.2 849.5 L1723.7 849.7 L1725.2 849.9 L1726.7 850.1 L1728.2 850.2 L1729.7 850.4 L1731.2 850.5 L1732.7 850.6 L1734.2 850.8 L1735.7 850.9 L1737.2 851.0 L1738.7 851.1 L1740.2 851.2 L1741.7 851.3 L1743.2 851.4 L1744.7 851.4 L1746.2 851.5 L1747.7 851.5 L1749.2 851.5 L1750.7 851.4 L1752.2 851.4 L1753.7 851.3 L1755.2 851.1 L1756.7 851.0 L1758.2 850.8 L1759.7 850.5 L1761.2 850.2 L1762.7 849.8 L1764.2 849.4 L1765.7 848.9 L1767.2 848.5 L1768.7 848.0 L1770.2 847.5 L1771.7 847.0 L1773.2 846.5 L1774.7 846.0 L1776.2 845.4 L1777.7 844.9 L1779.2 844.4 L1780.7 843.9 L1782.2 843.5 L1783.7 843.0 L1785.2 842.6 L1786.7 842.1 L1788.2 841.7 L1789.7 841.4 L1791.2 841.1 L1792.7 840.9 L1794.2 840.8 L1795.7 840.8 L1797.2 840.9 L1798.7 841.1 L1800.2 841.3 L1801.7 841.7 L1803.2 842.1 L1804.7 842.6 L1806.2 843.2 L1807.7 843.9 L1809.2 844.6 L1810.7 845.4 L1812.2 846.2 L1813.7 847.0 L1815.2 847.9 L1816.7 848.8 L1818.2 849.6 L1819.7 850.5 L1821.2 851.3 L1822.7 852.0 L1824.2 852.8 L1825.7 853.5 L1827.2 854.2 L1828.7 854.8 L1830.2 855.4 L1831.7 855.9 L1833.2 856.4 L1834.7 856.9 L1836.2 857.3 L1837.7 857.7 L1839.2 858.1 L1840.7 858.4 L1842.2 858.7 L1843.7 858.9 L1845.2 859.1 L1846.7 859.3 L1848.2 859.4 L1849.7 859.5 L1851.2 859.6 L1852.7 859.7 L1854.2 859.7 L1855.7 859.7 L1857.2 859.6 L1858.7 859.5 L1860.2 859.4 L1861.7 859.3 L1863.2 859.1 L1864.7 858.9 L1866.2 858.7 L1867.7 858.5 L1869.2 858.3 L1870.7 858.0 L1872.2 857.8 L1873.7 857.5 L1875.2 857.1 L1876.7 856.8 L1878.2 856.4 L1879.7 856.1 L1881.2 855.7 L1882.7 855.2 L1884.2 854.8 L1885.7 854.3 L1887.2 853.8 L1888.7 853.4 L1890.2 852.9 L1891.7 852.5 L1893.2 852.2 L1894.7 851.8 L1896.2 851.5 L1897.7 851.1 L1899.2 850.8 L1900.7 850.6 L1902.2 850.3" fill="none" stroke="#404040" stroke-width="6" stroke-linejoin="round"/>
<path d="M1644.1 803.2 L1645.6 803.5 L1647.1 803.8 L1648.6 804.0 L1650.1 804.2 L1651.6 804.5 L1653.1 804.7 L1654.6 804.9 L1656.1 805.0 L1657.6 805.2 L1659.1 805.3 L1660.6 805.4 L1662.1 805.5 L1663.6 805.5 L1665.1 805.5 L1666.6 805.5 L1668.1 805.5 L1669.6 805.4 L1671.1 805.4 L1672.6 805.3 L1674.1 805.3 L1675.6 805.3 L1677.1 805.2 L1678.6 805.2 L1680.1 805.2 L1681.6 805.1 L1683.1 805.1 L1684.6 805.1 L1686.1 805.1 L1687.6 805.1 L1689.1 805.1 L1690.6 805.1 L1692.1 805.1 L1693.6 805.1 L1695.1 805.1 L1696.6 805.1 L1698.1 805.1 L1699.6 805.1 L1701.1 805.1 L1702.6 805.1 L1704.1 805.1 L1705.6 805.1 L1707.1 805.2 L1708.6 805.2 L1710.1 805.3 L1711.6 805.3 L1713.1 805.4 L1714.6 805.5 L1716.2 805.5 L1717.7 805.6 L1719.2 805.7 L1720.7 805.8 L1722.2 805.9 L1723.7 806.0 L1725.2 806.1 L1726.7 806.2 L1728.2 806.3 L1729.7 806.4 L1731.2 806.5 L1732.7 806.6 L1734.2 806.7 L1735.7 806.8 L1737.2 807.0 L1738.7 807.1 L1740.2 807.2 L1741.7 807.4 L1743.2 807.5 L1744.7 807.6 L1746.2 807.7 L1747.7 807.8 L1749.2 807.8 L1750.7 807.9 L1752.2 807.9 L1753.7 807.9 L1755.2 807.9 L1756.7 807.9 L1758.2 807.9 L1759.7 807.9 L1761.2 807.9 L1762.7 807.9 L1764.2 807.9 L1765.7 807.9 L1767.2 807.9 L1768.7 807.9 L1770.2 807.9 L1771.7 807.9 L1773.2 807.9 L1774.7 807.9 L1776.2 807.9 L1777.7 807.9 L1779.2 807.9 L1780.7 808.0 L1782.2 808.0 L1783.7 808.1 L1785.2 808.2 L1786.7 808.5 L1788.2 809.0 L1789.7 809.6 L1791.2 810.5 L1792.7 811.4 L1794.2 812.6 L1795.7 813.8 L1797.2 815.3 L1798.7 816.9 L1800.2 818.7 L1801.7 820.6 L1803.2 822.5 L1804.7 824.6 L1806.2 826.7 L1807.7 828.8 L1809.2 830.9 L1810.7 833.1 L1812.2 835.1 L1813.7 837.1 L1815.2 839.1 L1816.7 841.0 L1818.2 842.8 L1819.7 844.5 L1821.2 846.0 L1822.7 847.5 L1824.2 848.9 L1825.7 850.0 L1827.2 851.0 L1828.7 851.7 L1830.2 852.2 L1831.7 852.4 L1833.2 852.5 L1834.7 852.5 L1836.2 852.3 L1837.7 852.1 L1839.2 851.9 L1840.7 851.6 L1842.2 851.3 L1843.7 851.0 L1845.2 850.6 L1846.7 850.2 L1848.2 849.9 L1849.7 849.5 L1851.2 849.1 L1852.7 848.7 L1854.2 848.3 L1855.7 847.9 L1857.2 847.4 L1858.7 847.0 L1860.2 846.5 L1861.7 845.9 L1863.2 845.2 L1864.7 844.4 L1866.2 843.4 L1867.7 842.3 L1869.2 841.2 L1870.7 839.9 L1872.2 838.5 L1873.7 837.0 L1875.2 835.3 L1876.7 833.5 L1878.2 831.5 L1879.7 829.2 L1881.2 826.8 L1882.7 824.2 L1884.2 821.6 L1885.7 819.0 L1887.2 816.6 L1888.7 814.3 L1890.2 812.2 L1891.7 810.3 L1893.2 808.6 L1894.7 807.0 L1896.2 805.7 L1897.7 804.4 L1899.2 803.3 L1900.7 802.3 L1902.2 801.5 L1902.2 851.6 L1900.7 852.2 L1899.2 852.9 L1897.7 853.8 L1896.2 854.9 L1894.7 856.2 L1893.2 857.8 L1891.7 859.6 L1890.2 861.8 L1888.7 864.2 L1887.2 866.8 L1885.7 869.5 L1884.2 872.1 L1882.7 874.6 L1881.2 877.0 L1879.7 879.3 L1878.2 881.5 L1876.7 883.6 L1875.2 885.5 L1873.7 887.4 L1872.2 889.0 L1870.7 890.3 L1869.2 891.4 L1867.7 892.2 L1866.2 892.8 L1864.7 893.3 L1863.2 893.6 L1861.7 893.8 L1860.2 893.9 L1858.7 893.9 L1857.2 893.9 L1855.7 893.9 L1854.2 893.8 L1852.7 893.6 L1851.2 893.4 L1849.7 893.2 L1848.2 892.9 L1846.7 892.6 L1845.2 892.2 L1843.7 891.9 L1842.2 891.6 L1840.7 891.2 L1839.2 890.8 L1837.7 890.4 L1836.2 890.0 L1834.7 889.5 L1833.2 889.0 L1831.7 888.5 L1830.2 887.9 L1828.7 887.2 L1827.2 886.4 L1825.7 885.5 L1824.2 884.5 L1822.7 883.5 L1821.2 882.4 L1819.7 881.2 L1818.2 880.0 L1816.7 878.7 L1815.2 877.4 L1813.7 876.1 L1812.2 874.7 L1810.7 873.4 L1809.2 872.1 L1807.7 870.8 L1806.2 869.5 L1804.7 868.3 L1803.2 867.1 L1801.7 866.1 L1800.2 865.1 L1798.7 864.2 L1797.2 863.4 L1795.7 862.6 L1794.2 861.9 L1792.7 861.2 L1791.2 860.5 L1789.7 859.9 L1788.2 859.4 L1786.7 859.0 L1785.2 858.7 L1783.7 858.5 L1782.2 858.4 L1780.7 858.3 L1779.2 858.2 L1777.7 858.2 L1776.2 858.1 L1774.7 858.1 L1773.2 858.1 L1771.7 858.1 L1770.2 858.1 L1768.7 858.1 L1767.2 858.2 L1765.7 858.2 L1764.2 858.3 L1762.7 858.3 L1761.2 858.3 L1759.7 858.4 L1758.2 858.4 L1756.7 858.5 L1755.2 858.5 L1753.7 858.5 L1752.2 858.5 L1750.7 858.5 L1749.2 858.5 L1747.7 858.4 L1746.2 858.4 L1744.7 858.3 L1743.2 858.3 L1741.7 858.2 L1740.2 858.1 L1738.7 858.0 L1737.2 857.9 L1735.7 857.8 L1734.2 857.7 L1732.7 857.6 L1731.2 857.5 L1729.7 857.4 L1728.2 857.3 L1726.7 857.1 L1725.2 857.0 L1723.7 856.8 L1722.2 856.6 L1720.7 856.5 L1719.2 856.3 L1717.7 856.1 L1716.2 855.9 L1714.6 855.7 L1713.1 855.5 L1711.6 855.4 L1710.1 855.3 L1708.6 855.2 L1707.1 855.1 L1705.6 855.0 L1704.1 855.0 L1702.6 855.0 L1701.1 855.0 L1699.6 855.0 L1698.1 855.0 L1696.6 855.0 L1695.1 855.0 L1693.6 855.0 L1692.1 855.0 L1690.6 855.0 L1689.1 855.0 L1687.6 855.0 L1686.1 855.0 L1684.6 855.0 L1683.1 855.0 L1681.6 855.0 L1680.1 855.0 L1678.6 855.0 L1677.1 855.0 L1675.6 855.0 L1674.1 855.0 L1672.6 855.0 L1671.1 855.0 L1669.6 855.0 L1668.1 855.0 L1666.6 855.0 L1665.1 855.0 L1663.6 855.0 L1662.1 855.0 L1660.6 855.0 L1659.1 855.0 L1657.6 854.9 L1656.1 854.8 L1654.6 854.7 L1653.1 854.5 L1651.6 854.2 L1650.1 853.9 L1648.6 853.6 L1647.1 853.3 L1645.6 853.0 L1644.1 852.6Z" fill="#A5142F" fill-opacity="0.2"/>
<path d="M1644.1 827.9 L1645.6 828.4 L1647.1 828.8 L1648.6 829.2 L1650.1 829.6 L1651.6 830.0 L1653.1 830.4 L1654.6 830.8 L1656.1 831.1 L1657.6 831.3 L1659.1 831.5 L1660.6 831.5 L1662.1 831.6 L1663.6 831.6 L1665.1 831.6 L1666.6 831.6 L1668.1 831.6 L1669.6 831.5 L1671.1 831.5 L1672.6 831.5 L1674.1 831.4 L1675.6 831.3 L1677.1 831.3 L1678.6 831.2 L1680.1 831.1 L1681.6 831.1 L1683.1 831.0 L1684.6 831.0 L1686.1 830.9 L1687.6 830.8 L1689.1 830.8 L1690.6 830.8 L1692.1 830.8 L1693.6 830.8 L1695.1 830.8 L1696.6 830.8 L1698.1 830.8 L1699.6 830.8 L1701.1 830.9 L1702.6 830.9 L1704.1 831.0 L1705.6 831.0 L1707.1 831.1 L1708.6 831.2 L1710.1 831.2 L1711.6 831.3 L1713.1 831.4 L1714.6 831.5 L1716.2 831.6 L1717.7 831.6 L1719.2 831.7 L1720.7 831.8 L1722.2 831.9 L1723.7 832.0 L1725.2 832.1 L1726.7 832.2 L1728.2 832.4 L1729.7 832.5 L1731.2 832.6 L1732.7 832.7 L1734.2 832.8 L1735.7 832.9 L1737.2 833.0 L1738.7 833.2 L1740.2 833.3 L1741.7 833.4 L1743.2 833.5 L1744.7 833.7 L1746.2 833.8 L1747.7 833.9 L1749.2 834.1 L1750.7 834.2 L1752.2 834.3 L1753.7 834.4 L1755.2 834.5 L1756.7 834.5 L1758.2 834.5 L1759.7 834.5 L1761.2 834.6 L1762.7 834.5 L1764.2 834.5 L1765.7 834.5 L1767.2 834.5 L1768.7 834.4 L1770.2 834.4 L1771.7 834.4 L1773.2 834.3 L1774.7 834.3 L1776.2 834.3 L1777.7 834.2 L1779.2 834.2 L1780.7 834.2 L1782.2 834.1 L1783.7 834.0 L1785.2 834.0 L1786.7 833.9 L1788.2 833.9 L1789.7 833.9 L1791.2 834.1 L1792.7 834.3 L1794.2 834.8 L1795.7 835.4 L1797.2 836.2 L1798.7 837.1 L1800.2 838.2 L1801.7 839.6 L1803.2 841.3 L1804.7 843.2 L1806.2 845.3 L1807.7 847.4 L1809.2 849.7 L1810.7 851.9 L1812.2 854.2 L1813.7 856.3 L1815.2 858.3 L1816.7 860.1 L1818.2 861.9 L1819.7 863.4 L1821.2 864.8 L1822.7 866.1 L1824.2 867.2 L1825.7 868.1 L1827.2 868.8 L1828.7 869.3 L1830.2 869.7 L1831.7 870.0 L1833.2 870.3 L1834.7 870.5 L1836.2 870.7 L1837.7 870.8 L1839.2 870.8 L1840.7 870.8 L1842.2 870.9 L1843.7 870.9 L1845.2 870.9 L1846.7 871.0 L1848.2 871.0 L1849.7 871.0 L1851.2 871.0 L1852.7 871.0 L1854.2 871.0 L1855.7 871.0 L1857.2 870.9 L1858.7 870.9 L1860.2 870.8 L1861.7 870.8 L1863.2 870.6 L1864.7 870.3 L1866.2 869.8 L1867.7 869.1 L1869.2 868.2 L1870.7 867.0 L1872.2 865.5 L1873.7 863.6 L1875.2 861.4 L1876.7 859.0 L1878.2 856.4 L1879.7 853.7 L1881.2 851.0 L1882.7 848.2 L1884.2 845.4 L1885.7 842.8 L1887.2 840.1 L1888.7 837.7 L1890.2 835.4 L1891.7 833.3 L1893.2 831.5 L1894.7 830.0 L1896.2 828.8 L1897.7 828.0 L1899.2 827.6 L1900.7 827.4 L1902.2 827.5" fill="none" stroke="#A5142F" stroke-width="6" stroke-linejoin="round"/>
<path d="M1644.12 827.94H1902.24" stroke="#333" stroke-width="3" stroke-dasharray="3 3.11" fill="none"/>
<rect x="1644.12" y="937.20" width="127.76" height="9.80" fill="#A5142F"/><path d="M1646.45 937.20h2.15V947.00h-2.15zM1650.93 937.20h2.15V947.00h-2.15zM1655.41 937.20h2.15V947.00h-2.15zM1659.89 937.20h2.15V947.00h-2.15zM1664.37 937.20h2.15V947.00h-2.15zM1668.85 937.20h2.15V947.00h-2.15zM1673.33 937.20h2.15V947.00h-2.15zM1677.81 937.20h2.15V947.00h-2.15zM1682.29 937.20h2.15V947.00h-2.15zM1686.77 937.20h2.15V947.00h-2.15zM1691.25 937.20h2.15V947.00h-2.15zM1695.73 937.20h2.15V947.00h-2.15zM1700.21 937.20h2.15V947.00h-2.15zM1704.68 937.20h2.15V947.00h-2.15zM1709.16 937.20h2.15V947.00h-2.15zM1713.64 937.20h2.15V947.00h-2.15zM1718.12 937.20h2.15V947.00h-2.15zM1722.60 937.20h2.15V947.00h-2.15zM1727.08 937.20h2.15V947.00h-2.15zM1731.56 937.20h2.15V947.00h-2.15zM1736.04 937.20h2.15V947.00h-2.15zM1740.52 937.20h2.15V947.00h-2.15zM1745.00 937.20h2.15V947.00h-2.15zM1749.48 937.20h2.15V947.00h-2.15zM1753.96 937.20h2.15V947.00h-2.15zM1758.44 937.20h2.15V947.00h-2.15zM1762.92 937.20h2.15V947.00h-2.15zM1767.40 937.20h2.15V947.00h-2.15z" fill="#000"/>
<rect x="1814.24" y="937.20" width="37.65" height="9.80" fill="#A5142F"/><path d="M1816.53 937.20h2.12V947.00h-2.12zM1820.95 937.20h2.12V947.00h-2.12zM1825.37 937.20h2.12V947.00h-2.12zM1829.79 937.20h2.12V947.00h-2.12zM1834.21 937.20h2.12V947.00h-2.12zM1838.63 937.20h2.12V947.00h-2.12zM1843.05 937.20h2.12V947.00h-2.12zM1847.46 937.20h2.12V947.00h-2.12z" fill="#000"/>
<rect x="1886.47" y="937.20" width="15.76" height="9.80" fill="#A5142F"/><path d="M1888.80 937.20h2.15V947.00h-2.15zM1893.28 937.20h2.15V947.00h-2.15zM1897.76 937.20h2.15V947.00h-2.15z" fill="#000"/>
<path d="M1644.12 780.18V947.00H1902.24" stroke="#505050" stroke-width="1" fill="none"/>
<path d="M1644.12 780.18h2.7M1644.12 827.94h2.7M1644.12 875.47h2.7M1644.12 923.00h2.7M1644.12 947.00v-2.7M1773.18 947.00v-2.7M1902.24 947.00v-2.7" stroke="#505050" stroke-width="1" fill="none"/>
<text transform="translate(1636.3 787.8) scale(1 1.065)" text-anchor="end" class="t">20</text>
<text transform="translate(1636.3 835.5) scale(1 1.065)" text-anchor="end" class="t">0</text>
<text transform="translate(1636.3 883.1) scale(1 1.065)" text-anchor="end" class="t">-20</text>
<text transform="translate(1636.3 930.6) scale(1 1.065)" text-anchor="end" class="t">-40</text>
<text transform="translate(1644.1 973.5) scale(1 1.065)" text-anchor="middle" class="t">0</text>
<text transform="translate(1773.2 973.5) scale(1 1.065)" text-anchor="middle" class="t">50</text>
<text transform="translate(1902.2 973.5) scale(1 1.065)" text-anchor="middle" class="t">100</text>
<text transform="translate(1571.4 863.6) rotate(-90) scale(1 1.065)" text-anchor="middle" class="l">Foot</text>
<text transform="translate(1598.3 863.6) rotate(-90) scale(1 1.065)" text-anchor="middle" class="l">Ext [Degrees] Int</text>
<text transform="translate(1773.2 1001.2) scale(1 1.065)" text-anchor="middle" class="l">[%] Gait cycle</text>
</g>
<text x="278.5" y="17.3" text-anchor="middle" class="h">Sagittal Kinematics</text>
<text x="651.5" y="17.3" text-anchor="middle" class="h">Sagittal Moments</text>
<text x="1025.5" y="17.3" text-anchor="middle" class="h">Sagittal Powers</text>
<text x="1399" y="17.3" text-anchor="middle" class="h">Coronal Kinematics/Kinetics</text>
<text x="1772.5" y="17.3" text-anchor="middle" class="h">Transversal Kinematics</text>
<rect x="2" y="1017" width="2005" height="86.5" fill="#F0F0F0"/>
<rect x="36.9" y="1055.8" width="69.1" height="9.6" fill="#A5142F"/>
<text x="121.2" y="1068.4" class="g">Cluster three</text>
<rect x="423.9" y="1059.2" width="69" height="10" fill="#262626"/>
<text x="503.2" y="1071.2" class="g">TD</text>
<rect x="624" y="1045.3" width="42" height="31" fill="#A5142F"/>
<rect x="632.4" y="1045.3" width="9.2" height="31" fill="#222"/><rect x="649.1" y="1045.3" width="9.6" height="31" fill="#222"/>
<text x="683" y="1071.2" class="g">Significant and clinically relevant differences between Cluster three and TD</text>
</svg>
</body></html>
